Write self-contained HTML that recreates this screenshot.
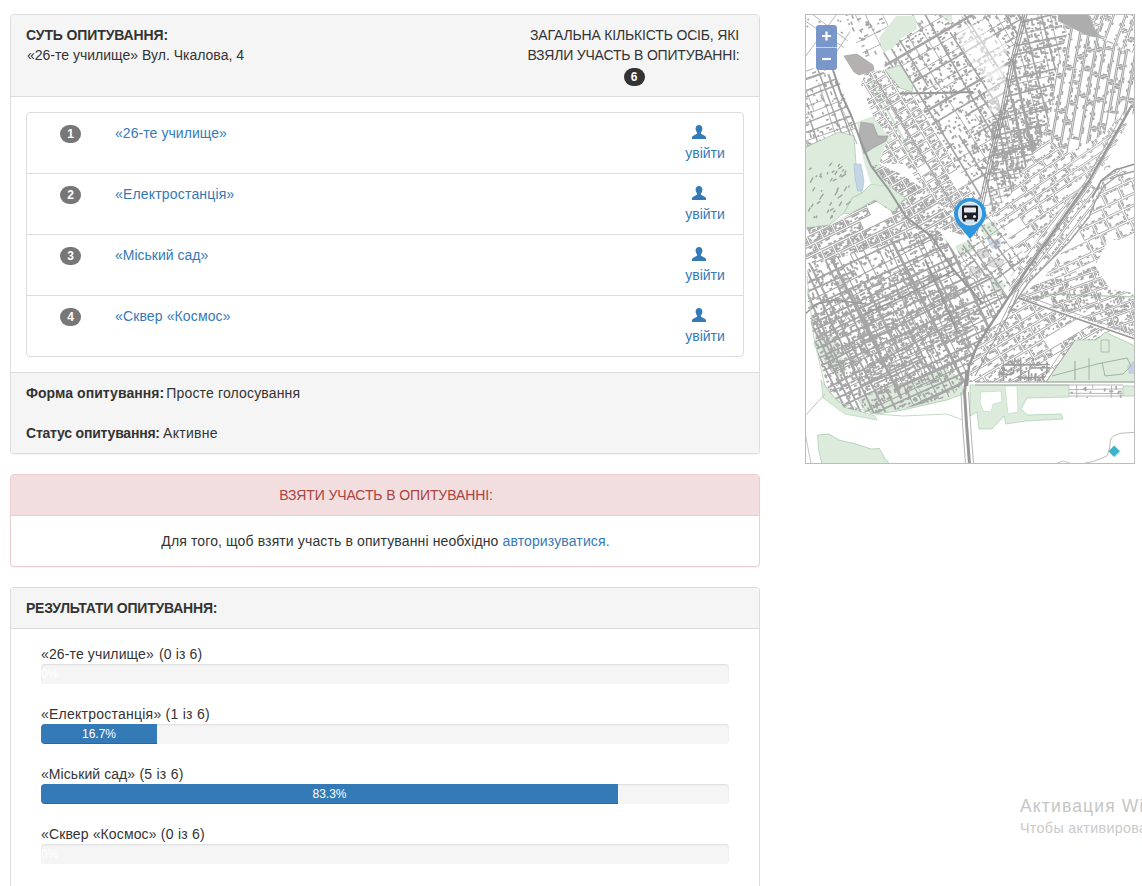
<!DOCTYPE html>
<html lang="uk">
<head>
<meta charset="utf-8">
<title>Опитування</title>
<style>
*{box-sizing:border-box}
html,body{margin:0;padding:0}
body{width:1142px;height:886px;overflow:hidden;background:#fff;color:#333;font-family:"Liberation Sans",sans-serif;font-size:14px;line-height:20px;position:relative}
a{color:#337ab7;text-decoration:none}
.panel{position:absolute;left:10px;width:750px;background:#fff;border:1px solid #ddd;border-radius:4px;box-shadow:0 1px 1px rgba(0,0,0,.05)}
.panel-heading{background:#f5f5f5;border-bottom:1px solid #ddd;border-radius:3px 3px 0 0;padding:10px 15px;color:#333;position:relative}
.panel-footer{background:#f5f5f5;border-top:1px solid #ddd;border-radius:0 0 3px 3px;padding:10px 15px}
.panel-body{padding:15px}
.up{text-transform:uppercase}
b{font-weight:bold}
.badge{display:inline-block;min-width:10px;padding:3px 7px;font-size:12px;font-weight:bold;line-height:1;color:#fff;text-align:center;white-space:nowrap;vertical-align:middle;background:#777;border-radius:10px}

/* panel 1 */
#p1{top:14px;height:440px}
#p1 .panel-heading{height:82px}
#p1 .cnt{position:absolute;left:514px;top:10px;width:220px;text-align:center}
#p1 .cnt .badge{background:#333;position:absolute;left:98.5px;top:43px;width:21px;padding:3px 0}
.list{position:absolute;left:15px;top:97px;width:718px;border:1px solid #ddd;border-radius:4px;height:245px}
.item{position:absolute;left:0;width:716px;height:61px;border-top:1px solid #ddd}
.item:first-child{border-top:0}
.item .badge{position:absolute;left:33px;top:12px;width:21px;padding:3px 0}
.item .name{position:absolute;left:88px;top:10px;white-space:nowrap}
.item .in{position:absolute;left:658px;top:30px;width:40px;text-align:center;white-space:nowrap}
.item svg{position:absolute;left:665px;top:12px}
#p1 .panel-footer{position:absolute;left:0;top:357px;width:748px;height:81px}

/* panel 2 */
#p2{top:474px;height:93px;border-color:#ebccd1}
#p2 .panel-heading{background:#f2dede;border-color:#ebccd1;color:#a94442;text-align:center;height:41px}
#p2 .panel-body{text-align:center}

/* panel 3 */
#p3{top:587px;height:320px;border-bottom:0;border-radius:4px 4px 0 0}
#p3 .panel-heading{height:41px}
.lbl{position:absolute;left:30px;white-space:nowrap}
.progress{position:absolute;left:30px;width:688px;height:20px;background:#f5f5f5;border-radius:4px;box-shadow:inset 0 1px 2px rgba(0,0,0,.1);overflow:hidden}
.bar{height:20px;background:#337ab7;color:#fff;font-size:12px;line-height:20px;text-align:center;box-shadow:inset 0 -1px 0 rgba(0,0,0,.15);white-space:nowrap}

/* map */
#map{position:absolute;left:805px;top:14px;width:330px;height:450px;border:1px solid #bcbcbc;background:#fff;overflow:hidden}
#wm{position:absolute;left:1020px;top:795px;white-space:nowrap;color:#c6c6c6;font-size:17.5px;line-height:22px;letter-spacing:1.15px}
#wm small{display:block;font-size:14.3px;line-height:20px;color:#cacaca;letter-spacing:.33px;margin-top:1px}
/*FIT*/
#t1{letter-spacing:-0.120px;margin-left:0.00px}
#t2{letter-spacing:0.000px;margin-left:1.00px}
#t3{letter-spacing:-0.167px;margin-left:-1.00px}
#t4{letter-spacing:-0.180px;margin-left:-3.00px}
#n1{letter-spacing:0.064px;margin-left:0.00px}
#n2{letter-spacing:0.180px;margin-left:0.00px}
#n3{letter-spacing:0.000px;margin-left:0.00px}
#n4{letter-spacing:0.129px;margin-left:0.00px}
#f1{letter-spacing:0.056px;margin-left:0.00px}
#f2{letter-spacing:0.159px;margin-left:-2.00px}
#f3{letter-spacing:-0.212px;margin-left:0.00px}
#f4{letter-spacing:0.300px;margin-left:-1.00px}
#d1{letter-spacing:-0.108px;margin-left:2.00px}
#d2{letter-spacing:0.127px;margin-left:1.00px}
#r1{letter-spacing:-0.214px;margin-left:0.00px}
#l1a{letter-spacing:0.129px;margin-left:0.00px}
#l1b{letter-spacing:0.129px;margin-left:1.00px}
#l2a{letter-spacing:0.240px;margin-left:0.00px}
#l2b{letter-spacing:0.257px;margin-left:0.00px}
#l3a{letter-spacing:0.075px;margin-left:0.00px}
#l3b{letter-spacing:0.257px;margin-left:0.00px}
#l4a{letter-spacing:0.129px;margin-left:0.00px}
#l4b{letter-spacing:0.257px;margin-left:0.00px}
/*ENDFIT*/
</style>
</head>
<body>

<div class="panel" id="p1">
  <div class="panel-heading">
    <b class="up" id="t1">Суть опитування:</b><br>
    <span id="t2">«26-те училище» Вул. Чкалова, 4</span>
    <div class="cnt up"><span id="t3">Загальна кількість осіб, які</span><br><span id="t4">взяли участь в опитуванні:</span><span class="badge">6</span></div>
  </div>
  <div class="list">
    <div class="item" style="top:0"><span class="badge">1</span><a class="name" id="n1">«26-те училище»</a><svg width="14" height="14" viewBox="0 0 14 14"><path fill="#337ab7" d="M7 0C4.9 0 3.6 1.6 3.6 3.6c0 1.3.5 2.900 1.400 3.800.2.200.2.800 0 1.200-.3.600-1.500 1-2.800 1.600C.9 10.800 0 11.400 0 12.600V14h14v-1.400c0-1.200-.9-1.800-2.200-2.400-1.300-.6-2.500-1-2.800-1.600-.2-.4-.2-1 0-1.200.9-.9 1.400-2.500 1.400-3.800C10.400 1.600 9.100 0 7 0z"/></svg><a class="in">увійти</a></div>
    <div class="item" style="top:60px"><span class="badge">2</span><a class="name" id="n2">«Електростанція»</a><svg width="14" height="14" viewBox="0 0 14 14"><path fill="#337ab7" d="M7 0C4.9 0 3.6 1.6 3.6 3.6c0 1.3.5 2.900 1.400 3.800.2.200.2.800 0 1.200-.3.600-1.500 1-2.800 1.600C.9 10.800 0 11.400 0 12.600V14h14v-1.400c0-1.200-.9-1.800-2.200-2.400-1.300-.6-2.500-1-2.800-1.600-.2-.4-.2-1 0-1.200.9-.9 1.400-2.500 1.400-3.800C10.400 1.600 9.100 0 7 0z"/></svg><a class="in">увійти</a></div>
    <div class="item" style="top:121px"><span class="badge">3</span><a class="name" id="n3">«Міський сад»</a><svg width="14" height="14" viewBox="0 0 14 14"><path fill="#337ab7" d="M7 0C4.9 0 3.6 1.6 3.6 3.6c0 1.3.5 2.900 1.400 3.800.2.200.2.800 0 1.200-.3.600-1.500 1-2.800 1.600C.9 10.800 0 11.400 0 12.600V14h14v-1.400c0-1.200-.9-1.800-2.200-2.400-1.300-.6-2.500-1-2.800-1.600-.2-.4-.2-1 0-1.200.9-.9 1.400-2.500 1.400-3.800C10.400 1.600 9.100 0 7 0z"/></svg><a class="in">увійти</a></div>
    <div class="item" style="top:182px"><span class="badge">4</span><a class="name" id="n4">«Сквер «Космос»</a><svg width="14" height="14" viewBox="0 0 14 14"><path fill="#337ab7" d="M7 0C4.9 0 3.6 1.6 3.6 3.6c0 1.3.5 2.900 1.400 3.800.2.200.2.800 0 1.200-.3.600-1.500 1-2.800 1.600C.9 10.800 0 11.400 0 12.600V14h14v-1.400c0-1.200-.9-1.800-2.200-2.400-1.300-.6-2.500-1-2.800-1.600-.2-.4-.2-1 0-1.200.9-.9 1.400-2.500 1.400-3.800C10.400 1.600 9.100 0 7 0z"/></svg><a class="in">увійти</a></div>
  </div>
  <div class="panel-footer"><b id="f1">Форма опитування:</b><span id="f2"> Просте голосування</span><br><br><b id="f3">Статус опитування:</b><span id="f4"> Активне</span></div>
</div>

<div class="panel" id="p2">
  <div class="panel-heading up"><span id="d1">Взяти участь в опитуванні:</span></div>
  <div class="panel-body"><span id="d2">Для того, щоб взяти участь в опитуванні необхідно <a>авторизуватися.</a></span></div>
</div>

<div class="panel" id="p3">
  <div class="panel-heading"><b class="up" id="r1">Результати опитування:</b></div>
  <div class="lbl" style="top:56px"><span id="l1a">«26-те училище»</span><span id="l1b"> (0 із 6)</span></div>
  <div class="progress" style="top:76px"><div class="bar" style="width:0;overflow:visible;text-align:left;box-shadow:none">0%</div></div>
  <div class="lbl" style="top:116px"><span id="l2a">«Електростанція»</span><span id="l2b"> (1 із 6)</span></div>
  <div class="progress" style="top:136px"><div class="bar" style="width:116px">16.7%</div></div>
  <div class="lbl" style="top:176px"><span id="l3a">«Міський сад»</span><span id="l3b"> (5 із 6)</span></div>
  <div class="progress" style="top:196px"><div class="bar" style="width:577px">83.3%</div></div>
  <div class="lbl" style="top:236px"><span id="l4a">«Сквер «Космос»</span><span id="l4b"> (0 із 6)</span></div>
  <div class="progress" style="top:256px"><div class="bar" style="width:0;overflow:visible;text-align:left;box-shadow:none">0%</div></div>
</div>

<div id="map"><svg width="330" height="450" viewBox="0 0 330 450" style="position:absolute;left:-1px;top:-1px">
<defs><clipPath id="c1"><polygon points="2.5,249.0 30.0,244.0 101.0,223.0 132.0,213.0 167.0,264.0 186.0,262.0 203.0,284.0 200.0,292.0 186.0,310.0 174.0,330.0 166.0,348.0 161.0,366.0 147.0,382.0 101.0,394.0 66.0,400.0 40.0,394.0 24.0,378.0 10.0,330.0 2.5,290.0"/></clipPath><clipPath id="c2"><polygon points="6.0,300.0 40.0,276.0 110.0,250.0 150.0,270.0 172.0,300.0 162.0,345.0 140.0,366.0 100.0,378.0 60.0,382.0 34.0,372.0 14.0,335.0"/></clipPath><clipPath id="c3"><polygon points="0.0,214.0 24.0,211.0 45.0,200.0 70.0,186.0 88.0,198.0 100.0,184.0 101.0,203.0 127.0,223.0 101.0,225.0 30.0,245.0 2.5,250.0 0.0,250.0"/></clipPath><clipPath id="c4"><polygon points="84.0,172.0 66.0,152.0 74.0,150.0 96.0,160.0 120.0,176.0 150.0,205.0 165.0,223.0 132.0,214.0 127.0,223.0 101.0,203.0 100.0,184.0"/></clipPath><clipPath id="c5"><polygon points="0.0,52.0 14.0,56.0 34.0,66.0 46.0,101.0 52.0,108.0 49.0,122.0 34.0,118.0 10.0,129.0 0.0,134.0"/></clipPath><clipPath id="c6"><polygon points="0.0,0.0 40.0,0.0 46.0,20.0 36.0,40.0 30.0,60.0 14.0,56.0 0.0,52.0"/></clipPath><clipPath id="c7"><polygon points="40.0,0.0 91.0,2.0 74.0,24.0 78.0,39.0 60.0,44.0 46.0,20.0"/></clipPath><clipPath id="c8"><polygon points="60.0,58.0 80.0,56.0 95.0,74.0 107.0,78.0 180.0,200.0 165.0,223.0 150.0,205.0 120.0,176.0 100.0,150.0 74.0,150.0 81.0,129.0 88.0,125.0 80.0,118.0 68.0,102.0 56.0,70.0"/></clipPath><clipPath id="c9"><polygon points="91.0,2.0 134.0,0.0 147.0,8.0 160.0,0.0 218.0,0.0 206.0,50.0 196.0,101.0 186.0,140.0 178.0,178.0 172.0,200.0 180.0,200.0 107.0,78.0 108.0,71.0 95.0,51.0 80.0,56.0 78.0,39.0 88.0,34.0 95.0,25.0 112.0,15.0 110.0,2.0"/></clipPath><clipPath id="c10"><polygon points="218.0,0.0 250.0,0.0 262.0,20.0 250.0,60.0 246.0,100.0 238.0,120.0 222.0,150.0 206.0,180.0 186.0,200.0 172.0,200.0 178.0,178.0 186.0,140.0 196.0,101.0 206.0,50.0"/></clipPath><clipPath id="c11"><polygon points="188.0,86.0 236.0,84.0 238.0,120.0 224.0,150.0 208.0,166.0 184.0,160.0"/></clipPath><clipPath id="c12"><polygon points="250.0,0.0 253.0,0.0 253.0,7.0 283.0,22.0 294.0,24.0 330.0,40.0 330.0,100.0 314.0,102.0 300.0,120.0 262.0,140.0 238.0,120.0 246.0,100.0 250.0,60.0 262.0,20.0"/></clipPath><clipPath id="c13"><polygon points="294.0,24.0 283.0,0.0 330.0,0.0 330.0,40.0"/></clipPath><clipPath id="c14"><polygon points="238.0,120.0 262.0,140.0 300.0,120.0 314.0,102.0 322.0,110.0 300.0,150.0 282.0,166.0 250.0,200.0 222.0,240.0 206.0,232.0 200.0,215.0 186.0,200.0 206.0,180.0 222.0,150.0"/></clipPath><clipPath id="c15"><polygon points="300.0,150.0 330.0,160.0 330.0,226.0 304.0,226.0 290.0,252.0 262.0,262.0 240.0,262.0 264.0,228.0 284.0,203.0 296.0,172.0"/></clipPath><clipPath id="c16"><polygon points="222.0,240.0 250.0,200.0 282.0,166.0 296.0,172.0 284.0,203.0 264.0,228.0 223.0,269.0 203.0,284.0 206.0,262.0"/></clipPath><clipPath id="c17"><polygon points="165.0,223.0 180.0,200.0 186.0,200.0 200.0,215.0 206.0,232.0 222.0,240.0 206.0,262.0 203.0,284.0 186.0,262.0 167.0,264.0 150.0,240.0"/></clipPath><clipPath id="c18"><polygon points="203.0,286.0 213.0,284.0 240.0,262.0 262.0,262.0 290.0,252.0 305.0,275.0 330.0,279.0 330.0,323.0 290.0,309.0 250.0,295.0 213.0,284.0"/></clipPath><clipPath id="c19"><polygon points="186.0,310.0 203.0,286.0 213.0,286.0 250.0,298.0 290.0,312.0 330.0,327.0 330.0,325.0 300.0,318.0 292.0,326.0 270.0,326.0 241.0,368.0 164.0,368.0 166.0,348.0 174.0,330.0"/></clipPath><clipPath id="c20"><polygon points="200.0,346.0 236.0,340.0 246.0,352.0 238.0,367.0 190.0,367.0"/></clipPath><clipPath id="c21"><polygon points="264.0,371.0 318.0,371.0 318.0,384.0 264.0,384.0"/></clipPath><filter id="bl" x="0" y="0" width="100%" height="100%"><feGaussianBlur stdDeviation="0.5"/></filter></defs>
<rect width="330" height="450" fill="#fff"/>
<g filter="url(#bl)">
<polygon points="0.0,134.0 10.0,129.0 34.0,118.0 49.0,122.0 51.0,150.0 51.0,167.0 57.0,179.0 47.0,184.0 39.0,199.0 24.0,211.0 0.0,214.0" fill="#dcebdc" stroke="#a9cdae" stroke-width="0.8" />
<polygon points="74.0,24.0 91.0,2.0 110.0,2.0 112.0,15.0 95.0,25.0 88.0,34.0 78.0,39.0" fill="#dcebdc" stroke="none" stroke-width="0.8" />
<polygon points="134.0,0.0 147.0,0.0 147.0,8.0 141.0,7.0" fill="#dcebdc" stroke="none" stroke-width="0.8" />
<polygon points="80.0,56.0 95.0,51.0 108.0,71.0 107.0,78.0 95.0,74.0" fill="#dcebdc" stroke="#a9cdae" stroke-width="0.8" />
<polygon points="52.0,108.0 68.0,102.0 80.0,118.0 88.0,125.0 81.0,129.0 74.0,150.0 60.0,152.0 56.0,135.0" fill="#dcebdc" stroke="none" stroke-width="0.8" />
<polygon points="57.0,179.0 66.0,170.0 84.0,172.0 100.0,184.0 88.0,198.0 70.0,186.0 52.0,196.0 45.0,200.0 39.0,199.0 47.0,184.0" fill="#dcebdc" stroke="#a9cdae" stroke-width="0.8" />
<polygon points="60.0,152.0 74.0,150.0 78.0,160.0 84.0,172.0 66.0,170.0" fill="#dcebdc" stroke="none" stroke-width="0.8" />
<polyline points="64.0,64.0 80.0,92.0 100.0,128.0 106.0,142.0" fill="none" stroke="#cfe3d0" stroke-width="2.2" stroke-linejoin="round" />
<polygon points="12.7,421.0 23.7,420.0 34.0,426.0 51.0,430.0 66.0,435.0 74.5,434.5 79.5,444.0 84.6,450.0 17.0,450.0 13.5,435.0" fill="#dcebdc" stroke="#a9cdae" stroke-width="0.8" />
<polygon points="12.0,318.0 30.0,322.0 42.0,356.0 34.0,364.0 20.0,350.0 8.0,330.0" fill="#dcebdc" stroke="none" stroke-width="0.8" />
<polygon points="52.0,384.0 95.0,370.0 108.0,366.0 124.0,390.0 98.0,396.0 72.0,400.0 60.0,396.0" fill="#dcebdc" stroke="#a9cdae" stroke-width="0.8" />
<polygon points="108.0,366.0 140.0,354.0 156.0,366.0 158.0,380.0 142.0,386.0 124.0,390.0" fill="#dcebdc" stroke="#a9cdae" stroke-width="0.8" />
<polygon points="16.0,366.0 30.0,384.0 44.0,394.0 70.0,402.0 72.0,406.0 40.0,400.0 18.0,384.0" fill="#dcebdc" stroke="#a9cdae" stroke-width="0.6" />
<polygon points="175.0,212.0 190.0,206.0 194.0,220.0 180.0,224.0" fill="#dcebdc" stroke="none" stroke-width="0.8" />
<polygon points="150.0,232.0 165.0,226.0 170.0,236.0 156.0,244.0" fill="#dcebdc" stroke="none" stroke-width="0.8" />
<polygon points="186.0,262.0 200.0,270.0 198.0,282.0 186.0,274.0" fill="#dcebdc" stroke="none" stroke-width="0.8" />
<polygon points="241.0,368.0 270.0,326.0 292.0,326.0 300.0,318.0 330.0,332.0 330.0,368.0" fill="#dcebdc" stroke="#a9cdae" stroke-width="0.8" />
<polygon points="318.0,372.0 330.0,372.0 330.0,382.0 318.0,382.0" fill="#dcebdc" stroke="#a9cdae" stroke-width="0.8" />
<polygon points="165.0,371.0 264.0,371.0 264.0,383.0 222.0,384.0 216.0,395.0 222.0,401.0 256.0,400.0 258.0,405.0 221.0,407.0 214.0,408.0 201.0,410.0 199.0,402.0 187.0,415.0 174.0,415.0 172.0,398.0 165.0,402.0" fill="#dcebdc" stroke="#a9cdae" stroke-width="0.7" />
<polygon points="176.0,378.0 196.0,377.0 197.0,388.0 188.0,390.0 186.0,398.0 178.0,397.0 175.0,388.0" fill="#fff" stroke="#b9d6bc" stroke-width="0.6" />
<polygon points="200.0,372.0 212.0,372.0 213.0,398.0 203.0,400.0" fill="#fff" stroke="#b9d6bc" stroke-width="0.6" />
<polyline points="224.0,285.0 246.0,280.0 300.0,282.0 330.0,283.0" fill="none" stroke="#b5d5b8" stroke-width="1.6" stroke-linejoin="round" />
<polyline points="283.0,0.0 288.0,14.0 296.0,24.0" fill="none" stroke="#b5d5b8" stroke-width="2" stroke-linejoin="round" />
<polygon points="49.0,150.0 56.0,150.0 59.0,167.0 57.5,177.0 52.5,177.0 50.0,163.5" fill="#c3d6e6" stroke="#a9bfd2" stroke-width="0.6" />
<polygon points="182.0,226.0 195.5,224.5 196.0,233.0 187.0,235.0" fill="#cfdcf0" stroke="none" stroke-width="0.8" />
<polygon points="322.0,352.0 330.0,346.0 330.0,360.0 324.0,360.0" fill="#c3cfe6" stroke="none" stroke-width="0.8" />
<polygon points="172.0,236.0 180.0,234.0 184.0,242.0 175.0,245.0" fill="#dedede" stroke="#b5b5b5" stroke-width="0.6" />
<polygon points="184.0,243.0 199.0,246.0 196.0,255.0 182.0,251.0" fill="#dedede" stroke="#b5b5b5" stroke-width="0.6" />
<polygon points="166.0,252.0 178.0,256.0 174.0,264.0 164.0,260.0" fill="#dedede" stroke="#b5b5b5" stroke-width="0.6" />
<polygon points="36.0,262.0 44.0,266.0 40.0,276.0 32.0,272.0" fill="#dedede" stroke="#b5b5b5" stroke-width="0.6" />
<polygon points="116.0,190.0 124.0,188.0 126.0,194.0 118.0,197.0" fill="#dedede" stroke="#b5b5b5" stroke-width="0.6" />
<path clip-path="url(#c1)" d="M2.5 288.1L47.2 265.5M47.2 265.5L84.7 246.6M84.7 246.6L114.6 231.5M114.6 231.5L160.0 208.5M-9.2 312.3L8.2 303.1M8.2 303.1L38.3 287.1M38.3 287.1L75.0 267.7M75.0 267.7L121.4 243.1M121.4 243.1L143.7 231.3M-3.4 334.4L18.4 323.9M18.4 323.9L60.1 303.7M60.1 303.7L81.1 293.5M81.1 293.5L120.8 274.4M120.8 274.4L159.3 255.7M159.3 255.7L191.5 240.2M14.7 364.8L37.6 354.2M37.6 354.2L83.7 332.8M83.7 332.8L103.8 323.5M103.8 323.5L144.9 304.5M144.9 304.5L183.6 286.5M183.6 286.5L202.2 277.9M21.5 379.7L64.0 359.9M64.0 359.9L108.3 339.1M108.3 339.1L137.8 325.3M137.8 325.3L170.6 310.0M170.6 310.0L213.2 290.1M53.7 401.0L71.4 392.6M71.4 392.6L112.2 373.3M112.2 373.3L157.7 351.7M157.7 351.7L175.6 343.2M168.4 228.7L186.0 267.6M186.0 267.6L205.1 309.8M154.2 230.4L176.2 272.8M176.2 272.8L192.5 304.0M166.7 260.2L181.9 291.7M181.9 291.7L189.1 306.6M116.3 205.6L131.8 237.0M131.8 237.0L143.2 260.1M143.2 260.1L151.3 276.5M151.3 276.5L164.7 303.7M164.7 303.7L177.4 329.4M99.6 191.5L116.6 227.5M116.6 227.5L135.9 268.1M135.9 268.1L153.6 305.5M153.6 305.5L167.8 335.5M167.8 335.5L174.6 350.0M96.6 195.9L110.4 224.7M110.4 224.7L130.9 267.4M130.9 267.4L140.7 287.7M140.7 287.7L160.4 328.8M160.4 328.8L170.0 348.8M81.4 203.1L101.4 242.1M101.4 242.1L110.7 260.2M110.7 260.2L131.8 301.1M131.8 301.1L140.3 317.6M140.3 317.6L152.1 340.5M152.1 340.5L162.3 360.3M162.3 360.3L173.1 381.3M71.1 203.4L89.7 245.1M89.7 245.1L98.6 265.0M98.6 265.0L113.5 298.5M113.5 298.5L128.6 332.3M128.6 332.3L141.9 362.0M141.9 362.0L159.4 401.3M60.7 208.7L78.5 246.0M78.5 246.0L92.2 274.6M92.2 274.6L107.1 305.7M107.1 305.7L114.5 321.2M114.5 321.2L131.3 356.3M131.3 356.3L150.2 395.9M49.7 219.0L64.9 248.7M64.9 248.7L75.6 269.8M87.3 292.9L99.1 316.1M99.1 316.1L114.0 345.4M114.0 345.4L129.8 376.4M129.8 376.4L148.9 414.1M39.3 219.2L58.1 254.9M58.1 254.9L67.7 273.2M86.2 308.4L97.3 329.4M97.3 329.4L106.8 347.6M106.8 347.6L118.7 370.2M127.3 386.5L149.6 428.9M38.2 225.2L49.9 249.3M65.4 281.4L77.9 307.4M77.9 307.4L85.7 323.5M85.7 323.5L102.3 357.9M102.3 357.9L117.5 389.3M117.5 389.3L130.9 417.0M31.6 240.7L45.7 268.3M45.7 268.3L59.6 295.3M59.6 295.3L76.8 328.8M76.8 328.8L87.1 348.9M87.1 348.9L95.4 365.2M95.4 365.2L108.0 389.8M108.0 389.8L115.6 404.5" stroke="#a6a6a6" stroke-width="1.1" fill="none"/>
<path clip-path="url(#c1)" d="M-16.7 278.0L22.0 259.9M22.0 259.9L66.7 239.0M66.7 239.0L108.8 219.4M-29.7 292.1L5.8 276.2M5.8 276.2L49.9 256.6M91.0 238.3L127.2 222.2M127.2 222.2L151.2 211.5M-5.5 298.1L16.4 288.0M16.4 288.0L41.7 276.4M41.7 276.4L71.6 262.7M71.6 262.7L104.2 247.7M104.2 247.7L148.0 227.6M-5.6 315.5L36.5 295.7M36.5 295.7L55.6 286.7M55.6 286.7L95.4 268.0M95.4 268.0L126.5 253.4M126.5 253.4L172.4 231.7M-0.8 320.7L38.8 301.9M38.8 301.9L84.3 280.3M84.3 280.3L132.4 257.5M132.4 257.5L174.4 237.5M-1.4 341.1L27.2 327.5M27.2 327.5L72.8 305.8M72.8 305.8L116.7 284.9M116.7 284.9L150.0 269.1M150.0 269.1L172.8 258.2M-13.4 357.3L16.2 343.0M16.2 343.0L62.4 320.8M62.4 320.8L93.9 305.5M93.9 305.5L124.2 290.9M124.2 290.9L169.6 269.0M169.6 269.0L196.1 256.3M-1.5 360.7L34.4 342.3M34.4 342.3L73.8 322.0M73.8 322.0L106.1 305.3M106.1 305.3L128.4 293.8M128.4 293.8L158.4 278.4M158.4 278.4L187.7 263.4M-2.7 366.2L40.2 346.6M40.2 346.6L66.9 334.4M66.9 334.4L113.5 313.1M113.5 313.1L162.6 290.6M162.6 290.6L183.3 281.1M183.3 281.1L223.5 262.7M-17.4 394.4L30.3 369.8M30.3 369.8L49.3 360.0M49.3 360.0L95.8 336.1M95.8 336.1L136.2 315.2M136.2 315.2L167.2 299.3M167.2 299.3L197.0 283.9M197.0 283.9L213.4 275.5M-13.8 405.1L31.4 384.3M31.4 384.3L72.8 365.2M72.8 365.2L102.4 351.6M102.4 351.6L121.1 343.0M152.7 328.4L180.7 315.5M180.7 315.5L217.5 298.6M19.8 400.1L57.0 382.5M57.0 382.5L98.0 363.1M98.0 363.1L115.0 355.0M115.0 355.0L155.3 335.9M155.3 335.9L184.6 322.0M44.6 410.1L76.5 395.8M76.5 395.8L119.7 376.5M119.7 376.5L139.9 367.4M139.9 367.4L171.3 353.4M12.0 227.9L21.6 248.3M21.6 248.3L38.1 283.4M38.1 283.4L50.2 309.1M50.2 309.1L60.0 330.1M60.0 330.1L71.5 354.6M78.9 370.2L94.3 403.0M2.2 245.1L12.9 266.0M12.9 266.0L21.5 282.8M21.5 282.8L34.5 308.2M34.5 308.2L47.4 333.4M47.4 333.4L62.0 361.8M62.0 361.8L71.6 380.5M71.6 380.5L85.8 408.3M-4.4 243.4L7.9 269.6M7.9 269.6L21.5 298.4M21.5 298.4L34.7 326.5M45.0 348.3L56.5 372.8M56.5 372.8L71.0 403.7M-4.3 264.8L13.1 303.6M13.1 303.6L24.7 329.4M24.7 329.4L31.8 345.1M31.8 345.1L45.0 374.5M45.0 374.5L56.3 399.6M5.4 307.5L24.8 347.4M24.8 347.4L41.9 382.3M41.9 382.3L58.6 416.4M4.1 322.1L21.3 356.6M21.3 356.6L34.9 383.8M34.9 383.8L48.9 411.9" stroke="#a6a6a6" stroke-width="1.9" fill="none"/>
<path clip-path="url(#c1)" d="M29.3 402.0L48.2 393.5M89.6 375.0L136.5 353.9M136.5 353.9L168.5 339.6M168.5 339.6L201.2 325.0M74.5 407.7L120.0 386.6M120.0 386.6L156.7 369.5M156.7 369.5L181.9 357.9M130.7 201.8L146.9 236.2M146.9 236.2L164.1 272.4M164.1 272.4L184.5 315.6M72.5 198.7L89.1 231.2M89.1 231.2L110.7 273.5M110.7 273.5L125.7 302.8M125.7 302.8L133.6 318.3M133.6 318.3L145.0 340.6M145.0 340.6L164.0 377.8M13.1 217.6L30.6 252.6M30.6 252.6L38.1 267.5M38.1 267.5L50.7 292.8M50.7 292.8L70.5 332.4M70.5 332.4L88.7 368.8M88.7 368.8L96.6 384.7" stroke="#a6a6a6" stroke-width="2.8" fill="none"/>
<path clip-path="url(#c1)" d="M72.7 293.6l0.7 1.4M83.4 273.1l1.4 2.8M43.5 377.6l1.1 2.2M88.7 393.0l1.9 -0.9M144.1 246.3l1.0 2.1M192.5 273.3l1.8 -0.9M129.8 283.7l3.1 -1.5M126.1 379.0l1.8 3.7M103.7 319.2l0.8 1.7M140.8 297.8l3.1 -1.5M79.6 256.0l1.4 3.0M128.3 296.6l1.4 2.9M150.5 271.5l1.6 3.3M83.1 375.2l0.8 1.7M101.0 256.8l1.8 3.6M162.4 308.7l4.0 -2.0M52.8 363.9l1.3 2.6M58.6 333.4l0.8 1.5M160.3 304.8l1.0 2.0M112.6 382.4l3.5 -1.7M75.9 231.8l1.4 -0.7M26.0 247.0l1.2 2.4M126.2 381.6l0.8 1.5M44.0 330.7l1.8 3.7M42.0 338.0l2.5 -1.2M70.6 272.0l3.0 -1.5M123.4 342.9l1.8 -0.9M141.6 300.2l1.7 -0.8M74.2 249.7l2.0 4.0M150.1 280.4l2.2 -1.1M31.8 331.0l1.2 2.5M84.5 298.4l1.3 2.7M71.9 344.6l1.0 2.0M59.6 376.2l1.0 2.1M138.2 298.1l3.9 -1.9M151.5 325.4l2.6 -1.2M86.5 265.6l1.2 2.5M61.2 342.9l3.2 -1.5M85.0 237.7l3.8 -1.8M86.8 276.9l1.7 3.6M120.9 315.1l0.8 1.6M20.2 281.0l1.2 2.4M136.7 277.3l1.8 3.8M96.6 280.6l2.6 -1.3M137.0 326.2l1.9 4.0M201.5 286.9l1.7 3.6M15.8 299.4l1.2 2.4M44.5 282.2l1.7 -0.8M36.0 334.4l1.5 3.0M53.3 364.7l1.6 3.3M26.5 300.6l0.7 1.4M7.3 278.7l1.4 2.8M24.8 360.6l1.1 2.2M27.5 319.2l1.7 -0.8M105.2 268.0l3.4 -1.7M46.1 297.5l2.9 -1.4M84.0 327.5l1.8 3.7M33.3 366.0l1.6 3.3M33.9 312.3l1.4 -0.7M62.8 393.7l1.5 3.1M11.7 290.8l1.6 -0.8M68.4 304.4l1.5 3.1M102.9 382.0l2.4 -1.2M150.7 261.3l2.3 -1.1M98.1 280.0l2.5 -1.2M14.9 311.7l2.8 -1.4M77.1 271.8l2.7 -1.3M152.8 304.1l1.4 -0.7M75.8 324.8l2.3 -1.1M124.6 323.2l2.2 -1.1M106.0 354.0l1.5 -0.7M53.0 263.5l3.5 -1.7M174.9 288.2l1.0 2.1M169.2 274.4l1.1 2.2M160.6 333.1l0.7 1.5M12.1 329.8l1.4 2.8M130.6 217.2l1.9 3.9M150.3 291.2l1.6 3.2M159.2 295.4l3.4 -1.6M92.3 294.7l1.7 -0.8M25.7 369.0l1.5 3.1M64.7 391.4l1.4 2.9M44.8 290.6l1.4 2.8M27.2 376.4l2.6 -1.3M89.1 283.6l1.5 3.2M101.5 341.9l1.2 2.4M23.6 351.8l0.9 1.8M43.0 277.8l1.8 -0.9M121.1 310.2l1.2 2.4M171.4 280.0l2.9 -1.4M142.3 256.7l1.0 2.1M117.8 261.1l0.7 1.5M78.2 347.0l1.2 2.5M184.9 298.2l2.7 -1.3M64.0 371.5l0.7 1.4M116.4 316.1l2.2 -1.1M159.7 253.9l0.9 1.9M124.8 235.6l1.7 3.4M140.7 281.1l1.9 3.9M60.8 373.4l3.3 -1.6M110.2 260.4l2.1 -1.0M28.9 303.7l2.1 -1.0M58.2 308.2l3.7 -1.8M124.7 314.7l1.6 3.3M134.8 384.9l3.4 -1.7M75.2 360.2l2.0 -1.0M76.8 349.4l1.9 3.9M116.0 278.2l1.0 2.0M134.3 226.4l3.8 -1.8M115.9 235.4l4.0 -2.0M136.1 225.7l0.7 1.4M107.0 227.4l2.8 -1.4M108.1 279.2l2.7 -1.3M143.9 291.0l2.7 -1.3M100.1 317.3l1.9 4.0M29.5 269.1l1.1 2.3M6.5 304.6l1.4 2.9M125.4 327.7l3.9 -1.9M106.6 392.4l1.4 -0.7M106.7 321.5l1.7 3.4M169.6 289.2l2.3 -1.1M55.1 322.5l2.8 -1.3M137.8 298.1l1.0 2.0M53.3 302.6l3.5 -1.7M50.3 335.4l1.0 2.0M53.6 377.0l1.8 -0.9M62.9 274.6l1.6 3.3M161.0 314.0l0.8 1.6M51.5 253.7l1.2 2.5M76.8 279.7l1.9 3.8M80.1 238.3l1.7 3.5M70.3 360.8l2.4 -1.2M121.5 351.7l1.3 2.6M43.7 377.2l1.9 3.9M71.1 387.0l0.8 1.7M29.7 339.8l1.8 3.7M192.8 297.9l2.4 -1.1M57.2 388.6l1.5 -0.8M64.0 247.2l0.8 1.7M110.8 319.2l1.7 3.4M64.5 355.2l1.9 3.8M34.6 274.8l2.9 -1.4M94.7 325.8l3.6 -1.8M40.8 389.5l4.0 -1.9M155.4 287.9l1.5 -0.7M37.2 350.7l1.9 -0.9M46.6 362.4l1.3 2.7M95.8 247.1l1.4 -0.7M10.8 261.7l3.0 -1.5M97.3 329.7l2.2 -1.1M86.1 314.0l2.6 -1.3M60.4 245.0l3.3 -1.6M119.5 242.5l3.9 -1.9M21.9 341.5l1.1 2.3M102.2 385.5l2.7 -1.3M56.4 320.4l3.1 -1.5M20.5 306.0l1.3 2.6M91.3 228.8l3.5 -1.7M53.6 381.8l2.7 -1.3M113.8 389.9l2.7 -1.3M60.8 370.3l2.7 -1.3M41.9 253.2l1.8 3.6M139.9 362.1l1.6 3.3M165.9 269.7l1.0 2.0M7.1 308.7l1.1 2.3M124.9 383.4l1.9 3.9M15.4 337.8l0.8 1.6M177.2 271.1l0.9 1.8M127.4 236.4l3.3 -1.6M116.6 389.4l3.1 -1.5M79.6 279.1l1.4 -0.7M133.6 358.0l1.6 3.2M65.9 264.0l0.9 1.9M68.8 386.4l3.8 -1.9M69.3 265.2l2.8 -1.3M109.9 301.5l3.4 -1.6M42.4 321.6l2.0 -1.0M73.7 311.5l1.9 3.9M85.6 289.1l2.0 -1.0M89.3 341.2l1.7 3.4M108.3 248.4l3.4 -1.7M32.6 316.1l1.0 2.1M148.2 272.7l1.7 3.4M144.0 298.4l2.5 -1.2M97.7 391.5l3.7 -1.8M16.7 263.4l3.2 -1.6M28.1 292.6l1.4 2.9M83.3 334.5l1.6 3.2M17.1 286.1l2.6 -1.3M100.1 322.9l1.1 2.2M26.5 269.9l0.9 1.9M104.5 289.8l1.2 2.4M54.1 361.0l3.3 -1.6M75.8 294.7l2.6 -1.3M127.6 289.9l1.1 2.2M93.8 301.6l3.7 -1.8M77.9 380.9l1.9 4.0M83.0 338.5l3.3 -1.6M134.0 338.1l1.2 2.5M47.8 357.1l1.4 2.8M71.0 346.1l1.4 -0.7M156.2 261.5l3.0 -1.5M41.9 383.7l0.7 1.5M80.9 323.4l1.6 3.3M152.2 321.3l1.0 2.0M115.0 314.8l4.0 -2.0M159.0 273.7l1.6 3.3M57.5 319.1l2.8 -1.4M36.0 330.0l1.8 3.8M60.5 363.7l2.5 -1.2M124.0 299.1l1.4 2.8M73.2 354.9l1.6 -0.8M141.2 342.1l3.6 -1.7M57.4 280.0l2.8 -1.4M77.6 335.9l1.7 -0.9M52.6 246.3l1.7 -0.8M161.7 351.2l2.1 -1.0M44.9 344.5l3.2 -1.6M97.5 271.7l1.2 2.5M116.8 326.9l4.0 -2.0M47.2 328.9l0.9 1.8M70.9 295.3l1.2 2.5M36.9 279.4l3.3 -1.6M47.9 281.1l1.0 2.0M111.4 322.1l1.6 -0.8M73.3 397.1l1.4 3.0M37.9 264.0l1.5 3.1M67.1 300.4l1.0 2.1M73.9 280.3l2.0 -1.0M64.7 323.7l2.1 -1.0M172.1 300.7l2.7 -1.3M127.3 336.3l1.6 3.2M85.3 285.9l2.7 -1.3M108.5 312.7l1.7 3.5M162.2 329.0l2.1 -1.0M139.6 342.3l3.4 -1.6M82.2 316.4l1.8 3.7M17.4 259.2l1.9 4.0M105.7 270.9l1.8 3.7M32.2 285.8l3.1 -1.5M115.3 388.7l1.2 2.5M121.2 321.9l1.8 -0.9M46.0 296.6l2.8 -1.4M118.3 331.1l1.4 -0.7M134.2 253.1l0.8 1.5M69.4 392.1l2.9 -1.4M130.2 262.0l1.7 3.5M30.7 250.7l1.4 -0.7M97.5 392.2l2.2 -1.1M129.8 328.0l3.9 -1.9M115.4 284.6l3.6 -1.7M145.9 247.6l1.3 2.7M50.6 265.2l1.9 3.8M15.7 247.9l2.0 -1.0M128.4 284.6l3.3 -1.6M14.3 305.0l1.2 2.4M199.6 282.4l2.2 -1.1M121.3 384.1l0.9 1.8M102.7 356.2l2.9 -1.4M40.5 348.5l0.8 1.6M9.2 248.4l1.3 2.6M126.7 352.5l1.7 3.4M178.3 284.2l1.6 -0.8M172.2 325.5l3.8 -1.9M25.1 266.6l1.9 -0.9M42.7 332.7l1.8 -0.9M109.9 283.2l0.9 1.8M104.3 285.6l2.6 -1.3M125.8 249.2l2.3 -1.1M81.1 314.3l3.9 -1.9M79.4 345.4l1.1 2.4M59.5 267.8l1.6 3.4M39.7 286.6l1.8 3.6M151.0 374.9l1.1 2.3M118.2 379.4l2.0 4.0M31.3 288.5l2.9 -1.4M128.6 265.3l1.1 2.2M40.9 296.7l1.8 3.7M55.1 281.4l3.2 -1.6M114.1 276.5l1.4 -0.7M2.9 274.4l1.0 2.1M130.4 225.2l3.3 -1.6M99.0 348.1l1.8 3.7M86.9 272.4l2.4 -1.2M151.2 299.6l3.2 -1.6M43.2 328.3l1.8 -0.9M85.5 247.3l1.6 3.3M9.7 298.9l1.7 3.6M112.3 373.1l2.4 -1.1M131.1 217.8l2.0 -1.0M109.1 237.0l1.5 3.0M71.6 235.5l1.5 3.2M179.7 316.6l1.4 2.9M60.0 357.8l3.1 -1.5M55.3 325.5l1.3 2.7M124.2 340.5l2.0 4.0M60.7 298.2l1.3 2.7M81.6 385.2l2.7 -1.3M98.7 279.8l4.0 -2.0M138.4 241.2l1.8 -0.9M123.2 355.8l2.5 -1.2M76.3 379.1l1.9 -0.9M180.1 303.3l1.7 -0.8M15.4 339.2l1.9 -0.9M123.8 222.5l3.9 -1.9M31.4 358.9l1.6 -0.8M133.2 300.9l1.8 3.8M123.5 301.0l1.1 2.2M44.3 333.3l0.8 1.5M66.7 348.4l1.8 3.8M10.7 307.3l0.8 1.7M52.4 316.2l2.2 -1.1M151.6 355.0l2.3 -1.1M142.1 349.1l2.6 -1.3M168.2 305.8l3.1 -1.5M76.5 245.9l1.9 4.0M28.3 344.4l1.4 3.0M156.9 326.8l1.8 3.7M84.0 334.2l2.4 -1.1M75.9 334.0l2.3 -1.1M138.1 370.8l1.2 2.4M52.9 272.0l0.8 1.6M187.2 269.6l2.4 -1.2M31.0 332.3l3.8 -1.8M53.5 355.0l1.0 2.0M73.2 301.5l1.9 -0.9M87.6 265.0l3.3 -1.6M130.6 363.1l2.2 -1.1M161.3 325.8l1.4 -0.7M122.5 272.7l1.4 -0.7M73.4 394.8l1.1 2.3M176.5 320.4l0.8 1.7M20.6 317.2l1.6 -0.8M84.8 242.2l2.0 4.0M154.5 333.8l1.3 2.6M136.7 242.5l2.8 -1.4M105.9 346.4l1.6 3.2M90.5 300.0l2.9 -1.4M158.6 275.0l1.8 3.6M16.4 263.0l1.7 3.4M136.2 290.2l2.8 -1.3M95.2 261.1l3.2 -1.5M30.1 249.9l1.4 2.8M170.0 284.0l0.9 1.8M154.1 366.0l3.9 -1.9M48.9 381.3l3.8 -1.9M28.1 278.9l1.0 2.0M146.9 358.1l2.5 -1.2M96.3 282.2l1.3 2.6M145.1 274.0l2.9 -1.4M11.6 285.4l2.3 -1.1M18.4 292.6l1.9 3.9M8.6 272.2l2.3 -1.1M30.0 323.4l3.6 -1.8M48.8 348.4l3.5 -1.7M40.4 272.0l1.7 3.4M63.2 297.5l2.3 -1.1M161.6 261.9l1.7 3.5M63.2 295.7l1.8 3.6M43.4 380.9l1.8 3.7M12.7 266.4l2.1 -1.0M51.7 349.7l2.3 -1.1M85.2 315.2l1.2 2.4M137.7 275.8l2.7 -1.3M62.0 268.7l1.7 -0.8M178.7 280.4l1.2 2.5M160.0 317.1l2.7 -1.3M153.1 307.1l1.7 3.5M137.6 299.3l1.4 2.8M107.8 366.2l3.7 -1.8M153.3 328.2l1.4 3.0M12.4 301.8l1.2 2.4M35.5 318.3l0.8 1.7M100.6 350.5l1.1 2.2M3.9 255.0l1.6 3.3M158.3 264.4l0.8 1.6M9.2 302.7l2.3 -1.1M27.4 296.3l1.0 2.1M24.5 275.4l2.5 -1.2M89.8 324.5l1.9 3.9M48.3 258.7l1.3 2.6M124.1 278.4l4.0 -2.0M44.5 349.7l3.6 -1.8M50.0 258.3l1.7 3.5M146.2 301.4l1.6 3.4M104.6 263.7l1.3 2.8M67.5 332.5l0.9 1.7M44.9 255.3l1.9 3.9M116.1 226.9l1.6 3.3M100.3 380.1l4.0 -2.0M137.9 337.4l3.2 -1.6M130.7 225.7l1.8 3.8M163.4 299.4l1.9 -0.9M139.0 315.5l1.6 -0.8M82.3 258.8l2.0 -1.0M85.9 343.0l1.9 3.8M124.6 349.8l3.0 -1.5M135.6 223.1l1.6 3.2M136.4 326.4l1.7 3.5M125.7 332.4l1.8 3.7M169.0 329.8l2.0 4.0M182.4 287.2l1.4 -0.7M72.9 398.6l2.4 -1.2M141.0 231.2l2.2 -1.1M27.4 324.8l1.2 2.5M70.6 395.8l0.9 1.9M63.0 380.5l2.1 -1.0M107.6 262.7l2.8 -1.4M72.6 266.2l1.7 3.5M143.0 324.2l1.8 3.7M152.5 370.1l2.0 4.0M34.1 319.1l1.5 3.0M104.8 263.3l4.0 -1.9M16.5 338.1l2.0 -1.0M63.2 326.5l1.1 2.2M53.3 367.1l0.8 1.6M146.3 311.6l0.7 1.4M166.6 305.8l2.6 -1.2M108.0 386.0l3.2 -1.5M147.1 344.2l1.1 2.2M118.5 290.3l2.8 -1.3M60.1 379.2l1.1 2.3M76.0 248.6l0.7 1.4M120.6 224.7l1.8 -0.9M125.3 329.3l3.9 -1.9M49.3 254.4l1.7 -0.9M101.5 291.5l1.1 2.3M65.4 367.7l2.8 -1.4M143.3 256.5l1.6 3.2M148.3 258.7l0.9 1.8M111.0 222.6l1.1 2.3M15.9 268.2l0.7 1.5M73.9 251.1l1.2 2.5M134.4 231.0l2.8 -1.4M91.0 364.1l1.0 2.1M51.4 286.5l3.5 -1.7M113.6 313.3l1.6 3.3M141.7 254.8l1.9 -0.9M58.9 316.5l0.8 1.6M80.6 397.1l0.9 1.8M124.0 302.1l0.8 1.7M121.6 333.3l1.7 3.5M30.0 269.9l1.7 -0.8M139.2 364.2l1.3 2.7M155.8 301.5l4.0 -2.0M88.9 375.0l1.9 4.0M57.0 328.3l0.7 1.5M31.7 319.4l1.5 -0.7M18.6 291.1l1.7 3.6M173.6 298.5l2.5 -1.2M160.7 319.6l2.4 -1.2M87.7 238.7l1.7 3.6M176.3 316.5l1.8 -0.9M170.8 322.4l1.5 3.1M12.1 250.4l1.2 2.5M114.5 289.5l3.9 -1.9M51.9 327.9l1.9 3.8M58.6 326.4l1.0 2.1M54.3 375.6l1.5 3.2M71.8 391.4l2.9 -1.4M132.2 271.1l1.7 -0.8M124.9 258.2l0.8 1.6M31.0 354.2l2.1 -1.0M123.5 387.9l1.5 3.0M67.4 283.9l2.9 -1.4M131.2 374.6l3.3 -1.6M8.1 281.6l1.2 2.5M112.2 309.9l1.5 3.0M138.5 317.3l2.8 -1.4M27.3 295.2l1.8 3.7M61.3 320.5l2.7 -1.3M38.2 360.6l1.6 -0.8M58.4 251.0l1.9 -0.9M107.5 245.2l1.5 3.1M127.7 302.8l3.0 -1.5M95.5 341.8l0.9 1.9M126.1 315.6l3.4 -1.7M77.2 293.9l1.6 3.3M39.6 391.4l4.0 -1.9M146.6 328.2l3.5 -1.7M151.3 325.9l1.5 3.1M136.3 317.7l0.8 1.6M143.6 293.0l4.0 -1.9M35.9 308.6l2.3 -1.1M145.3 244.8l1.3 2.7M184.7 296.8l3.1 -1.5M35.3 279.5l1.2 2.5M25.4 313.8l1.3 2.6M161.4 325.1l1.1 2.2M122.6 263.7l1.4 2.8M11.8 334.2l2.7 -1.3M34.5 256.3l2.5 -1.2M123.1 263.6l3.0 -1.5M50.1 395.7l2.8 -1.4M53.5 346.3l1.2 2.5M53.8 373.9l1.0 2.1M90.4 288.0l1.4 2.9M112.4 317.8l1.9 3.9M166.6 264.5l1.4 -0.7M101.8 370.8l1.4 -0.7M65.7 304.8l1.9 4.0M173.9 323.5l1.9 3.8M50.6 282.6l2.6 -1.3M187.8 303.3l1.9 -0.9M163.9 264.1l2.9 -1.4M50.9 248.0l1.3 2.7M48.1 341.8l1.4 2.9M104.7 246.2l0.8 1.6M19.4 314.4l1.9 -0.9M156.3 296.5l0.9 1.7M91.7 313.6l1.6 3.2M160.0 259.4l3.5 -1.7M28.2 307.9l0.9 1.8M59.4 389.4l1.2 2.5M191.9 297.6l3.4 -1.7M82.6 236.2l1.5 3.1M140.4 272.3l2.8 -1.3M81.0 357.5l1.4 -0.7M105.1 240.5l3.3 -1.6M83.4 259.3l3.0 -1.4M139.6 292.5l1.7 3.5M23.6 305.0l2.0 -1.0M150.6 242.2l3.0 -1.5M195.9 281.8l0.7 1.4M135.4 221.5l3.4 -1.7M49.2 358.6l3.4 -1.7M104.4 362.7l1.5 3.0M40.2 311.1l3.0 -1.4M130.0 318.5l3.1 -1.5M171.3 312.4l1.8 3.7M140.8 316.3l2.0 -1.0M135.0 259.4l1.5 3.0M124.2 293.3l2.0 -1.0M142.2 378.6l2.2 -1.1M92.3 293.3l1.5 3.1M156.4 364.3l1.6 3.3M92.5 296.5l3.1 -1.5M168.8 291.1l1.4 2.8M58.3 302.0l3.9 -1.9M161.1 265.3l0.7 1.4M16.2 268.8l1.9 3.9M38.2 307.3l1.6 -0.8M101.9 365.8l1.0 2.1M30.8 261.0l0.7 1.5M120.0 346.3l1.2 2.5M147.4 319.3l3.7 -1.8M61.1 316.1l1.4 3.0M191.8 300.4l0.9 1.9M128.5 372.8l2.8 -1.4M96.8 300.2l1.1 2.3M32.4 260.3l1.7 -0.8M107.8 350.9l1.2 2.4M124.5 336.1l1.0 2.1M72.3 371.0l1.0 2.0M139.4 246.4l3.3 -1.6M79.8 283.8l2.3 -1.1M34.7 287.8l0.8 1.6M73.4 346.2l1.2 2.5M189.0 290.3l2.9 -1.4M75.6 274.3l3.0 -1.5M87.3 303.7l1.8 3.6M32.1 337.6l1.0 2.0M85.4 391.7l2.6 -1.2M64.7 392.1l2.3 -1.1M109.8 338.3l3.9 -1.9M68.5 348.2l1.3 2.7M137.7 230.3l1.5 -0.7M63.5 247.1l2.1 -1.0M7.7 311.1l3.4 -1.7M21.4 349.2l1.6 -0.8M100.9 268.6l1.7 3.5M107.4 283.0l0.7 1.4M80.6 367.6l1.6 -0.8M110.7 241.9l0.8 1.5M111.6 350.0l3.0 -1.4M37.0 333.1l1.2 2.5M10.9 268.0l0.8 1.7M98.6 266.5l1.7 3.5M60.7 286.4l1.4 -0.7M178.6 314.8l1.9 3.9M139.2 232.6l1.2 2.5M84.5 335.1l1.1 2.3M44.2 304.6l1.2 2.5M13.5 258.3l3.3 -1.6M124.7 350.3l1.7 3.4M80.2 287.0l3.4 -1.7M96.5 263.8l1.4 2.8M175.2 307.8l3.2 -1.6M125.9 304.7l2.7 -1.3M38.4 249.9l1.7 3.5M10.2 328.0l1.7 3.6M38.6 391.0l0.9 1.8M94.7 244.0l2.1 -1.0M131.9 337.6l1.0 2.0M87.4 298.3l1.9 3.8M95.9 352.7l3.3 -1.6M16.5 349.9l1.6 3.4M26.0 352.2l0.9 1.8M127.2 332.0l1.6 -0.8M10.2 290.3l1.8 3.6M143.1 251.7l3.4 -1.6M37.1 272.9l3.9 -1.9M34.7 350.3l3.4 -1.7M116.0 228.9l1.6 3.3M95.1 296.4l1.5 3.1M120.3 389.0l1.0 2.1M178.6 277.7l0.7 1.4M114.4 348.4l3.4 -1.7M136.2 295.0l1.9 -0.9M75.2 350.4l2.8 -1.4M153.6 369.4l3.5 -1.7M58.9 299.5l1.0 2.1M123.7 314.4l0.8 1.5M107.3 269.9l1.9 -1.0M99.4 281.6l1.4 2.9M57.9 326.5l1.0 2.0M43.4 324.1l1.6 3.3M108.9 383.5l2.0 4.0M74.4 262.8l3.0 -1.5M133.0 285.4l1.9 3.8M109.1 276.7l2.2 -1.1M24.7 376.0l2.2 -1.0M199.0 284.1l3.4 -1.7M97.4 334.0l0.7 1.4M70.3 339.8l1.6 -0.8M19.8 360.5l1.9 3.9M108.9 230.1l1.7 3.4M159.4 331.6l2.9 -1.4M89.2 267.0l3.9 -1.9M46.5 324.3l2.9 -1.4M72.7 239.3l3.2 -1.6M123.0 366.1l1.6 -0.8M73.3 387.3l3.0 -1.5M105.6 226.1l0.8 1.7M110.4 252.8l2.9 -1.4M171.2 296.9l1.8 -0.9M128.4 230.8l3.8 -1.9M94.0 392.8l1.9 -0.9M112.1 332.7l1.7 -0.8M123.6 257.8l0.7 1.4M64.6 325.2l1.5 3.0M113.4 256.7l2.0 -1.0M14.0 321.7l0.8 1.6M3.6 284.7l2.3 -1.1M16.0 258.5l1.4 -0.7M99.1 256.3l1.9 3.8M102.7 362.9l1.1 2.3M158.5 278.8l3.3 -1.6M37.2 291.4l0.8 1.7M53.0 306.1l1.7 3.5M141.4 351.5l1.6 3.2M121.7 336.6l1.4 2.8M191.2 269.1l0.9 1.9M65.0 346.5l3.1 -1.5M44.4 328.8l1.2 2.4M96.6 233.8l1.6 3.2M20.9 328.2l1.5 3.0M103.8 307.7l2.0 4.0M89.7 365.1l1.5 3.1M45.0 256.4l1.7 3.6M47.9 303.8l1.8 3.7M120.2 380.1l3.8 -1.9M125.7 353.8l2.1 -1.0M128.1 351.3l1.9 3.9M37.2 261.4l2.9 -1.4M139.9 365.4l0.8 1.7M199.0 280.5l1.4 2.8M157.8 350.7l2.3 -1.1M19.0 332.7l3.9 -1.9M40.3 299.0l1.7 3.5M134.8 222.7l0.9 1.9M20.7 271.8l2.5 -1.2M129.6 384.9l0.8 1.7M75.7 371.4l1.4 3.0M30.0 294.8l0.8 1.6M47.4 343.6l2.3 -1.1M56.3 310.3l0.7 1.5M146.1 235.0l3.0 -1.5M108.8 230.5l2.1 -1.0M111.7 335.3l3.8 -1.9M72.7 252.1l3.3 -1.6M45.0 248.9l1.2 2.5M90.3 365.1l1.3 2.6M53.7 289.5l3.3 -1.6M93.5 260.3l2.1 -1.0M42.2 320.8l1.5 -0.7M55.4 246.9l1.8 3.6M40.2 271.6l1.3 2.7M70.0 293.2l1.4 -0.7M28.1 376.4l1.9 -0.9M37.6 371.6l1.7 -0.8M46.7 259.0l2.0 4.0M150.1 279.4l1.9 4.0M129.9 255.5l0.7 1.5M100.0 374.3l2.0 4.0M125.3 220.1l0.9 1.9M162.0 351.5l3.1 -1.5M190.3 268.7l1.7 3.4M100.4 311.4l1.9 3.8M81.6 372.4l1.8 -0.9M98.6 224.5l1.0 2.1M88.1 321.1l1.7 -0.8M114.1 352.3l1.2 2.4M53.8 353.3l0.8 1.6M111.8 245.4l1.7 3.5M28.6 378.0l3.9 -1.9M161.0 347.7l2.9 -1.4M65.3 365.6l1.7 3.5M16.2 319.6l3.3 -1.6M159.1 346.3l2.2 -1.1M147.4 345.3l1.3 2.6M129.1 378.3l1.9 -0.9M61.1 306.2l1.6 3.4M84.2 304.5l0.8 1.6M77.2 258.5l0.8 1.6M70.0 390.3l3.1 -1.5M140.5 327.5l1.3 2.7M84.8 382.5l1.5 -0.7M161.7 272.0l2.2 -1.1M61.8 355.0l0.8 1.6M145.7 277.2l3.3 -1.6M127.4 232.1l1.1 2.2M125.1 299.7l0.7 1.4M176.0 263.8l0.9 1.9M17.4 329.9l1.8 3.7M120.7 376.6l3.6 -1.8M78.9 395.1l1.9 3.9M128.8 277.0l1.6 -0.8M48.8 331.2l1.5 3.1M76.6 383.9l1.3 2.6M39.2 279.3l3.5 -1.7M148.9 325.1l3.1 -1.5M74.7 397.1l2.4 -1.2M142.1 303.5l3.0 -1.5M57.6 267.5l1.0 2.0M159.2 338.1l3.3 -1.6M71.8 301.9l1.9 -0.9M29.9 250.7l3.7 -1.8M32.3 334.4l1.9 3.9M171.8 272.4l1.6 3.3M155.3 360.1l3.2 -1.6M117.4 386.9l2.9 -1.4M92.2 375.9l3.3 -1.6M47.5 344.2l3.7 -1.8M190.4 293.8l3.6 -1.8M66.6 269.8l0.9 1.9M162.1 334.5l3.8 -1.9M60.0 288.0l1.7 3.5M108.8 351.3l1.7 3.6M138.7 372.6l3.6 -1.8M134.4 329.5l0.9 1.8M45.7 368.8l3.9 -1.9M143.0 315.8l3.8 -1.9M85.1 256.6l3.6 -1.8M67.0 323.5l2.5 -1.2M170.7 305.3l3.5 -1.7M35.2 256.0l3.5 -1.7M7.0 283.6l1.2 2.4M151.3 279.8l1.7 3.4M16.6 300.8l2.5 -1.2M113.8 342.2l1.2 2.4M168.4 340.3l1.9 -0.9M56.9 390.9l1.2 2.4M76.5 352.3l1.3 2.7M103.0 332.0l1.6 3.2M38.2 319.3l1.2 2.5M157.7 251.6l2.3 -1.1M92.7 393.4l1.7 3.5M103.4 236.7l2.4 -1.1M82.7 297.3l1.3 2.6M109.3 244.0l0.9 1.8M105.9 289.6l2.7 -1.3M138.4 323.8l1.5 -0.7M52.6 321.9l1.3 2.6M126.4 307.9l0.8 1.7M42.0 284.0l2.9 -1.4M175.6 315.2l4.0 -1.9M95.6 273.4l1.4 2.9M121.0 388.7l2.5 -1.2M152.8 316.6l1.0 2.1M110.4 383.3l1.8 3.7M124.9 308.6l2.1 -1.0M91.3 368.8l1.4 2.8M162.9 314.6l2.9 -1.4M38.3 381.6l3.2 -1.5M151.8 291.8l1.6 3.2M129.0 385.2l3.7 -1.8M80.1 346.7l3.1 -1.5M104.6 265.2l3.1 -1.5M62.2 260.1l1.0 2.1M132.1 355.4l2.4 -1.2M133.1 251.7l1.6 3.4M28.6 328.4l2.3 -1.1M124.4 313.3l1.4 2.8M126.2 358.4l1.6 3.3M168.4 300.9l3.1 -1.5M18.9 297.6l3.2 -1.6M101.0 300.6l4.0 -1.9M52.9 331.6l2.3 -1.1M91.2 321.2l1.0 2.0M23.7 343.4l0.7 1.5M67.7 390.8l1.2 2.5M8.4 257.1l4.0 -2.0M10.2 261.5l1.1 2.3M79.0 270.0l2.6 -1.3M39.2 309.9l1.4 2.9M150.9 297.7l0.9 1.9M26.1 269.8l2.5 -1.2M44.8 374.0l1.1 2.2M124.7 237.4l2.5 -1.2M111.2 349.6l1.8 3.7M25.2 298.8l3.1 -1.5M80.4 343.2l3.6 -1.8M85.4 345.5l2.7 -1.3M102.7 269.6l2.7 -1.3M112.8 294.1l1.7 3.4M58.2 250.1l2.0 -1.0M87.7 307.3l1.7 3.4M54.9 268.2l2.7 -1.3M129.8 220.0l1.4 2.9M23.9 258.0l1.6 3.3M73.4 378.1l1.8 -0.9M117.0 312.6l3.5 -1.7M140.7 320.4l0.9 1.9M68.7 270.6l1.0 2.0M132.5 238.1l1.6 3.2M123.1 377.7l1.4 2.8M84.0 319.0l1.9 3.8M152.1 300.1l1.8 3.7M104.5 269.4l1.1 2.2M130.8 226.3l2.8 -1.3M122.5 266.0l3.8 -1.8M180.5 315.1l2.8 -1.4M109.7 281.0l2.6 -1.3M91.7 262.3l1.6 -0.8M66.1 263.8l2.8 -1.4M147.6 269.9l3.8 -1.9M140.5 262.3l3.1 -1.5M104.4 264.4l1.4 2.8M116.8 319.1l3.7 -1.8M84.4 288.9l1.9 4.0M108.9 358.4l1.5 3.0M134.4 261.9l2.4 -1.2M147.0 367.1l1.6 3.3M66.9 385.4l0.8 1.6M44.5 349.8l3.1 -1.5M108.7 248.3l1.8 3.7M5.2 287.0l0.7 1.4M55.4 334.7l1.7 3.4M25.7 258.9l3.3 -1.6M78.0 387.3l2.5 -1.2M132.9 278.3l3.5 -1.7M38.2 315.2l2.5 -1.2M185.5 276.9l3.0 -1.5M139.7 237.4l3.1 -1.5M97.4 253.8l0.9 1.8M123.6 352.7l3.3 -1.6M112.7 269.6l3.1 -1.5M159.7 267.6l2.4 -1.2M10.3 253.1l1.4 -0.7M78.6 377.9l0.7 1.5M21.5 368.2l2.3 -1.1M124.9 279.5l1.4 -0.7M138.7 347.6l4.0 -2.0M156.7 277.1l2.7 -1.3M85.0 383.9l2.0 -1.0M184.6 297.5l1.7 3.5M72.6 347.7l3.1 -1.5M144.8 301.6l3.4 -1.6M136.9 374.9l1.2 2.4M142.0 306.8l3.4 -1.7M26.6 310.8l3.4 -1.6M95.1 369.1l0.7 1.4M72.9 280.9l1.6 3.2M60.2 242.1l1.2 2.5M142.1 341.5l3.8 -1.9M31.6 370.8l0.7 1.4M83.3 384.7l3.0 -1.5M15.4 301.4l2.8 -1.4M119.0 224.5l1.1 2.3M60.4 248.2l0.9 1.8M176.8 288.8l2.2 -1.1M138.8 234.9l3.9 -1.9M150.7 279.8l0.7 1.4M53.6 379.0l0.9 1.8M59.0 270.9l1.7 3.4M44.9 282.8l2.2 -1.1M110.2 237.9l2.2 -1.1M95.2 388.6l3.3 -1.6M40.2 332.0l1.7 3.4M104.2 348.2l1.1 2.2M151.0 362.8l1.4 2.8M96.6 390.9l1.2 2.5M66.2 309.5l1.4 2.9M38.9 345.0l2.8 -1.3M117.0 228.5l2.2 -1.1M19.9 283.1l2.3 -1.1M49.2 297.0l2.3 -1.1M38.0 352.2l1.9 3.9M110.2 310.6l3.2 -1.6M17.8 297.5l1.7 3.6M11.9 310.0l1.8 -0.9M48.8 328.0l1.6 3.3M103.9 224.2l1.5 -0.7M28.2 245.9l2.1 -1.0M173.0 280.2l1.3 2.6M38.7 306.7l1.5 -0.7M63.1 331.4l2.7 -1.3M130.1 346.0l1.8 3.7M139.4 362.6l1.9 -0.9M171.5 294.5l0.7 1.4M29.4 263.9l3.8 -1.9M161.7 284.3l1.4 2.9M146.4 251.8l3.2 -1.5M51.6 358.5l1.8 -0.9M25.3 321.9l1.8 -0.9M126.8 241.8l1.8 -0.9M151.0 335.0l2.1 -1.0M57.9 315.4l2.9 -1.4M33.3 330.2l1.0 2.1M73.9 331.1l0.9 1.9M117.7 248.3l2.0 4.0M28.7 354.2l0.7 1.4M169.9 332.4l1.4 -0.7M56.6 386.6l3.5 -1.7M67.6 252.1l1.9 -0.9M44.7 340.6l1.1 2.3M114.9 305.8l1.7 3.4M92.9 245.4l1.7 3.5M95.6 351.6l1.8 -0.9M129.0 261.4l2.0 4.0M131.9 347.5l1.0 2.1M175.1 298.8l1.4 2.9M39.0 311.2l1.5 3.1M56.2 244.4l2.5 -1.2M54.4 304.4l3.2 -1.6M37.3 301.1l2.8 -1.3M134.9 318.6l1.9 3.9M128.3 229.5l2.8 -1.3M141.1 335.8l2.1 -1.0M142.3 259.0l1.9 3.9M104.5 233.9l2.5 -1.2M44.6 359.2l1.6 -0.8M71.0 394.0l1.8 -0.9M109.3 221.5l2.9 -1.4M66.6 273.3l4.0 -2.0M62.5 274.6l2.2 -1.1M65.9 342.3l2.3 -1.1M62.3 263.6l1.8 3.6M112.9 226.0l1.8 3.6M6.0 266.8l3.6 -1.8M45.1 246.7l1.6 3.2M6.6 253.1l1.5 3.1M25.7 338.0l3.2 -1.5M183.5 271.6l1.1 2.4M111.4 330.1l0.7 1.5M32.4 367.1l1.7 3.4M11.1 324.2l4.0 -2.0M34.8 280.8l2.3 -1.1M142.3 243.7l1.3 2.6M65.7 359.6l0.9 1.9M156.1 330.6l1.6 -0.8M50.5 337.6l1.7 3.4M29.8 251.3l0.7 1.5M74.3 343.5l0.9 1.8M57.2 295.0l1.4 2.9M40.9 359.4l1.5 -0.7M142.2 228.5l1.8 3.6M46.5 345.2l1.5 3.1M101.8 281.8l3.7 -1.8M185.6 280.8l1.2 2.4M154.2 247.5l1.5 3.1M82.7 317.3l1.5 3.1M80.8 284.2l0.9 1.8M68.7 360.1l0.7 1.5M34.6 375.4l3.6 -1.7M22.4 252.4l0.9 1.9M93.6 316.3l1.8 3.6M94.5 300.9l1.8 -0.9M39.8 265.5l2.8 -1.4M90.4 297.6l0.8 1.7M11.2 266.9l2.7 -1.3M143.7 319.6l3.2 -1.6M61.3 264.3l2.6 -1.3M121.5 250.0l3.0 -1.5M59.3 363.3l2.1 -1.0M11.6 258.3l3.8 -1.9M148.7 304.6l2.1 -1.0M104.6 270.7l2.7 -1.3M80.2 234.6l1.3 2.6M181.6 296.2l1.0 2.1M26.4 284.0l0.7 1.5M39.8 369.4l1.6 3.2M91.4 363.6l1.3 2.6M188.0 281.7l2.8 -1.4M82.8 281.8l1.1 2.2M135.9 329.1l1.3 2.8M141.5 349.4l3.5 -1.7M126.9 366.5l1.9 -0.9M46.1 312.8l3.8 -1.8M82.6 336.6l0.7 1.4M140.5 280.2l0.9 1.8M175.8 312.9l2.8 -1.4M32.0 257.5l2.2 -1.1M48.3 351.5l3.9 -1.9M62.4 290.5l1.5 -0.7M113.1 259.0l1.0 2.0M99.1 318.5l1.5 3.1M25.0 351.5l1.4 -0.7M53.8 237.2l1.8 -0.9M103.0 315.8l1.6 3.4M18.0 299.0l1.9 -0.9M67.2 321.8l3.1 -1.5M81.7 306.2l3.9 -1.9M181.0 317.2l3.8 -1.9M132.9 217.4l1.0 1.9M68.6 309.8l2.0 4.0M136.7 318.5l1.0 2.0M87.8 290.5l1.9 -0.9M106.9 266.6l1.4 2.8M80.5 364.4l1.3 2.6M156.2 342.5l0.9 1.8M11.3 266.0l0.7 1.4M135.6 314.4l1.6 3.3M96.8 330.7l0.7 1.5M149.7 347.4l1.8 3.7M130.3 324.7l2.6 -1.3M123.2 276.2l1.7 3.5M89.7 309.3l1.6 3.3M165.9 345.6l2.0 -1.0M104.2 227.4l1.3 2.6M90.8 376.3l2.3 -1.1M55.6 237.5l2.9 -1.4M32.1 267.3l1.6 3.3M46.0 258.0l1.9 4.0M134.8 259.3l1.9 4.0M132.5 256.4l2.6 -1.3M157.9 287.8l0.8 1.6M68.9 245.6l3.2 -1.6M123.8 296.1l0.8 1.7M36.6 271.7l0.9 1.8M106.9 295.4l1.0 2.1M27.0 248.6l3.6 -1.8M42.2 311.9l2.0 -1.0M17.5 267.1l0.8 1.6M46.1 316.7l0.7 1.4M71.1 382.8l1.9 -0.9M100.9 303.8l2.1 -1.0M4.4 266.5l2.4 -1.2M145.0 290.7l1.5 3.0M115.0 342.8l2.8 -1.4M169.8 311.9l0.7 1.5M103.0 390.1l2.5 -1.2M156.9 296.1l1.2 2.5M182.4 298.6l1.6 3.2M113.1 253.0l2.1 -1.0M46.4 251.0l1.7 3.5M137.4 352.6l1.5 3.1M122.4 218.5l1.7 3.5M36.1 284.6l2.0 4.0M34.0 376.7l3.6 -1.7M72.3 360.5l3.6 -1.7M85.2 343.1l2.0 4.0M72.1 257.9l0.9 1.9M146.8 254.6l1.6 3.4M117.3 311.4l2.5 -1.2M110.3 336.8l1.8 3.7M132.4 243.0l3.7 -1.8M101.2 329.6l1.1 2.2M21.6 251.6l3.3 -1.6M25.3 334.4l2.0 4.0M119.2 312.5l3.6 -1.8M127.9 226.5l3.4 -1.7M100.1 357.4l2.0 4.0M159.3 268.8l1.5 3.1M101.7 324.4l2.5 -1.2M155.5 334.0l1.9 4.0M103.5 305.9l1.7 3.5M70.3 325.4l2.4 -1.2M130.2 342.4l3.8 -1.8M101.6 297.3l2.0 4.0M24.9 306.0l3.0 -1.5M118.5 342.4l1.1 2.3M82.0 241.5l1.0 2.0M130.2 314.2l1.7 3.5M154.1 287.9l2.8 -1.4M18.6 282.6l3.6 -1.8M32.5 296.7l1.5 3.1M11.8 300.3l2.3 -1.1M197.0 277.4l2.0 4.0M43.6 265.0l3.3 -1.6M66.9 269.8l1.7 -0.8M84.0 228.3l3.9 -1.9M17.8 282.4l1.9 3.8M96.0 321.6l0.8 1.5" stroke="#a6a6a6" stroke-width="1.8" fill="none"/>
<path clip-path="url(#c2)" d="M2.4 297.1L43.7 278.6M88.2 258.6L130.3 239.7M-5.0 316.1L40.2 294.0M85.0 272.1L114.8 257.5M-1.1 340.7L31.0 324.7M66.1 307.2L87.1 296.7M8.3 352.4L42.4 335.1M42.4 335.1L73.4 319.3M73.4 319.3L97.6 307.1M97.6 307.1L135.3 288.0M135.3 288.0L159.5 275.7M-10.5 376.4L27.0 357.4M27.0 357.4L68.9 336.2M88.9 326.1L126.4 307.1M126.4 307.1L171.2 284.5M59.9 352.7L106.4 328.1M106.4 328.1L148.5 305.9M148.5 305.9L185.0 286.6M14.2 376.6L36.0 366.8M83.9 345.3L107.1 334.9M107.1 334.9L140.1 320.2M140.1 320.2L167.3 308.0M167.3 308.0L197.3 294.5M37.0 376.2L74.2 358.0M103.6 343.6L128.0 331.7M148.0 321.9L173.9 309.2M74.7 377.4L103.3 362.5M146.4 340.1L163.6 331.2M163.6 331.2L210.6 306.7M118.0 248.2L127.1 265.8M146.1 303.0L160.2 330.7M160.2 330.7L176.5 362.6M100.5 239.7L114.5 266.6M114.5 266.6L131.8 300.0M98.2 245.1L116.6 283.4M116.6 283.4L134.1 319.8M134.1 319.8L154.0 361.3M83.6 226.5L102.5 263.7M102.5 263.7L123.2 304.5M123.2 304.5L132.0 321.9M105.9 300.1L119.5 326.2M119.5 326.2L138.6 362.7M63.5 239.6L79.3 274.8M111.6 346.8L127.1 381.3M36.2 239.9L55.8 278.7M64.7 296.3L72.7 312.1M89.4 345.0L100.7 367.4M100.7 367.4L108.6 383.0M23.7 268.6L41.5 306.1M53.1 330.5L65.9 357.4M47.1 343.5L60.5 370.6" stroke="#a6a6a6" stroke-width="1.0" fill="none"/>
<path clip-path="url(#c2)" d="M62.7 294.6L107.4 272.8M107.4 272.8L142.8 255.6M9.9 324.6L28.9 315.2M28.9 315.2L46.5 306.6M46.5 306.6L69.5 295.3M123.1 268.9L147.3 256.9M-17.6 361.8L28.0 341.3M55.9 328.7L90.3 313.2M55.8 371.6L76.5 361.2M76.5 361.2L114.6 342.1M141.1 328.9L166.0 316.4M166.0 316.4L187.8 305.5M68.9 370.5L109.8 351.7M85.6 389.4L133.7 365.5M114.0 224.8L132.5 262.3M132.5 262.3L149.6 297.1M98.5 303.6L111.6 330.0M111.6 330.0L126.9 360.7M126.9 360.7L137.0 381.0M47.1 245.2L65.3 280.3M65.3 280.3L75.3 299.6M75.3 299.6L94.0 335.8M38.6 262.3L54.8 295.8M54.8 295.8L63.4 313.8M63.4 313.8L76.3 340.4M90.0 368.8L99.7 389.0M23.3 304.3L32.9 322.7M32.9 322.7L50.3 356.3M8.8 305.3L28.7 345.2" stroke="#a6a6a6" stroke-width="1.8" fill="none"/>
<path clip-path="url(#c2)" d="M140.9 310.9l1.3 2.7M101.5 265.9l2.4 -1.2M117.2 353.0l3.1 -1.5M119.4 349.4l0.9 1.9M113.7 373.3l3.4 -1.7M77.1 303.1l0.9 1.8M92.4 350.8l2.6 -1.3M125.4 316.1l1.2 2.4M66.5 296.9l1.9 -1.0M47.2 317.5l2.5 -1.2M144.7 296.3l1.5 3.0M163.3 328.7l3.9 -1.9M38.1 277.4l3.6 -1.7M54.2 361.9l0.7 1.5M71.2 279.4l1.9 3.9M98.1 259.7l3.9 -1.9M87.1 324.0l0.8 1.7M91.2 358.3l1.9 3.8M78.9 295.8l3.1 -1.5M81.5 282.6l1.7 -0.9M111.3 370.4l4.0 -1.9M63.5 298.6l0.9 1.9M74.0 308.5l2.7 -1.3M158.1 318.5l1.4 2.8M115.7 360.7l1.7 -0.8M41.3 317.6l1.0 2.1M40.7 301.3l2.4 -1.2M123.7 315.0l3.5 -1.7M144.8 360.1l1.2 2.4M97.5 365.0l1.0 2.0M56.3 358.3l1.2 2.4M151.6 300.1l0.7 1.4M100.0 289.1l3.8 -1.9M93.8 279.7l1.6 3.3M126.0 305.4l3.5 -1.7M98.0 344.9l3.7 -1.8M24.6 313.4l0.9 1.8M62.6 297.0l1.6 -0.8M66.2 285.0l1.9 -0.9M126.2 266.2l1.3 2.7M131.8 282.3l1.5 -0.7M106.9 327.3l3.1 -1.5M80.9 311.2l3.4 -1.7M50.6 315.2l1.2 2.5M71.2 377.8l0.9 1.9M23.0 288.1l1.2 2.5M28.0 317.2l3.5 -1.7M139.2 283.0l1.1 2.2M146.7 353.0l1.5 3.0M150.7 355.6l1.8 -0.9M73.5 377.3l1.1 2.2M54.9 343.4l1.8 3.7M100.9 328.7l0.9 1.8M148.9 319.0l2.6 -1.3M159.3 340.6l3.7 -1.8M85.8 317.5l1.6 -0.8M104.7 297.3l1.8 3.6M117.0 325.9l1.0 2.0M116.6 284.0l2.6 -1.3M117.7 307.1l0.9 1.9M138.5 278.8l0.7 1.4M139.2 330.0l3.2 -1.6M124.2 328.4l3.4 -1.7M169.4 301.0l2.5 -1.2M38.5 316.4l1.6 3.3M79.3 341.3l3.6 -1.8M69.9 326.1l1.6 3.2M65.3 364.3l3.0 -1.5M100.1 289.1l1.9 4.0M152.0 301.6l0.8 1.7M36.0 362.5l1.7 3.4M101.0 335.0l1.4 -0.7M94.4 258.2l2.7 -1.3M37.3 355.7l2.0 4.0M108.0 273.6l1.2 2.5M18.0 300.0l2.0 -1.0M31.0 346.8l1.1 2.3M59.4 343.4l1.1 2.3M47.1 347.6l2.2 -1.1M95.4 266.6l3.5 -1.7M14.3 321.1l1.4 2.9M54.2 277.1l3.7 -1.8M71.9 277.6l3.3 -1.6M83.3 349.5l2.3 -1.1M91.1 275.1l1.6 3.3M104.4 319.1l2.9 -1.4M95.7 331.1l3.6 -1.8M30.4 308.7l1.5 -0.7M90.7 362.9l1.4 2.9M152.4 293.4l0.9 1.8M128.7 303.8l1.7 3.6M44.8 360.9l1.0 2.1M144.3 359.6l1.6 -0.8M97.0 281.5l1.2 2.4M33.9 352.8l2.9 -1.4M101.7 374.5l2.0 4.0M72.2 343.8l1.8 3.7M105.2 360.8l1.7 3.4M36.8 294.9l2.7 -1.3M53.0 365.1l4.0 -1.9M91.8 264.7l1.4 2.8M57.2 336.6l3.6 -1.7M77.7 344.2l1.8 -0.9M46.4 359.8l3.4 -1.6M25.0 317.7l1.0 2.1M148.2 297.7l1.1 2.2M148.2 341.5l1.1 2.3M125.9 258.1l0.9 1.8M108.7 363.2l1.5 3.1M151.7 273.4l0.8 1.6M46.9 365.7l3.9 -1.9M133.2 277.8l2.7 -1.3M110.1 268.8l2.5 -1.2M62.1 279.7l3.5 -1.7M100.0 255.5l2.3 -1.1M145.5 277.0l0.7 1.5M24.0 313.4l2.5 -1.2M122.9 256.6l2.1 -1.0M62.2 310.2l1.9 3.9M44.8 312.9l2.0 4.0M159.6 289.5l1.6 -0.8M132.7 299.1l1.7 3.5M117.6 366.4l2.9 -1.4M118.4 283.7l1.7 3.5M83.4 343.0l0.7 1.5M115.5 371.3l1.5 -0.7M132.3 330.9l1.2 2.6M115.2 256.8l3.4 -1.7M138.1 329.2l1.0 2.0M21.5 308.4l1.5 -0.7M52.9 319.9l1.8 3.7M86.5 304.9l1.6 3.3M108.8 320.6l1.9 3.9M83.8 352.9l1.8 3.7M58.8 336.2l1.8 3.6M108.7 271.6l1.6 3.3M126.1 310.6l1.5 -0.7M104.3 270.6l2.2 -1.1M29.7 287.1l1.2 2.6M125.4 263.5l1.2 2.4M125.2 283.1l1.4 -0.7M60.5 337.7l1.6 -0.8M104.7 299.1l2.3 -1.1M62.6 354.8l1.9 3.8M119.6 361.4l1.6 -0.8M76.2 332.0l2.8 -1.4M73.8 294.7l1.4 3.0M19.0 321.3l2.6 -1.3M38.0 309.6l0.8 1.7M54.9 365.1l2.0 -1.0M37.2 346.0l1.8 3.6M91.6 334.2l1.1 2.3M76.6 313.4l0.8 1.6M18.3 296.8l1.6 -0.8M89.3 259.0l1.5 3.1M133.2 295.1l3.1 -1.5M35.6 339.9l3.5 -1.7M14.3 317.6l1.3 2.7M132.3 294.0l1.7 3.5M46.7 280.6l1.3 2.6M151.3 320.2l2.8 -1.4M123.5 318.1l1.4 2.9M23.9 317.6l3.9 -1.9M108.3 286.6l1.7 3.4M63.6 308.7l1.7 3.5M97.7 261.9l1.3 2.6M19.0 308.3l1.0 2.1M36.9 319.3l1.2 2.5M41.3 335.9l3.8 -1.9M87.5 277.4l2.4 -1.2M131.9 283.9l4.0 -2.0M54.9 334.3l1.7 -0.8M61.5 337.6l1.7 3.6M53.5 324.4l4.0 -1.9M81.2 375.3l1.9 3.9M44.5 299.8l1.9 -0.9M92.5 278.3l1.5 3.0M133.1 295.8l3.8 -1.8M119.5 313.8l3.0 -1.4M23.2 348.9l1.5 3.1M77.9 328.8l1.2 2.5M55.0 314.9l3.5 -1.7M78.0 263.1l1.9 3.9M84.1 271.8l2.5 -1.2M36.9 297.8l1.1 2.3M81.4 346.9l0.7 1.5M59.6 377.8l1.0 2.1M85.4 293.5l3.6 -1.7M106.8 312.7l1.9 3.8M142.5 342.2l1.2 2.4M76.4 348.0l1.9 4.0M30.5 322.8l1.4 2.8M59.3 302.4l1.6 3.2M87.9 329.4l2.0 -1.0M78.4 319.9l3.3 -1.6M61.7 376.5l3.8 -1.9M147.9 295.1l0.7 1.5M93.5 373.0l2.5 -1.2M71.0 341.9l1.0 2.0M43.9 338.3l0.7 1.4M39.9 301.1l4.0 -1.9M140.9 324.9l2.8 -1.3M112.9 357.8l1.7 -0.8M89.5 270.9l0.8 1.6M58.6 294.4l2.0 4.0M104.9 260.6l0.8 1.7M67.0 337.3l0.9 1.8M91.3 264.5l1.7 -0.8M71.3 321.3l3.9 -1.9M38.2 320.1l1.9 -1.0M90.0 304.4l1.5 3.1M18.2 308.1l1.6 -0.8M107.8 316.5l2.8 -1.3M150.9 311.2l3.8 -1.9M47.4 334.3l3.2 -1.6M110.8 267.8l3.6 -1.8M126.1 285.7l3.8 -1.9M128.3 289.5l1.9 3.9M127.8 322.1l3.4 -1.7M68.8 337.5l1.5 -0.7M98.4 305.5l1.6 3.3M105.1 336.8l1.8 3.8M79.5 364.0l2.5 -1.2M48.2 348.2l2.0 -1.0M42.5 304.5l1.4 -0.7M63.3 379.4l0.7 1.5M41.1 332.7l0.7 1.4M57.2 313.8l1.4 -0.7M15.5 295.4l2.0 -1.0M145.0 306.1l0.8 1.6M80.3 326.6l1.3 2.7M94.3 342.0l0.9 1.9M60.8 375.0l2.1 -1.0M169.6 306.5l2.9 -1.4M49.2 292.5l3.9 -1.9M124.2 331.1l1.0 2.0M31.0 364.4l1.3 2.7M51.7 323.3l2.2 -1.1M94.8 365.2l3.1 -1.5M41.4 298.6l1.4 -0.7M138.8 312.1l3.1 -1.5M62.2 276.2l2.3 -1.1M69.6 340.4l1.7 3.4M108.1 358.5l3.1 -1.5M34.7 281.2l1.6 -0.8M117.1 348.1l1.2 2.6M112.5 340.3l2.5 -1.2M92.6 326.7l1.7 -0.8M89.2 350.4l1.0 2.1M126.0 332.1l2.7 -1.3M62.6 290.9l2.6 -1.3M72.9 380.3l2.3 -1.1M86.5 332.9l1.8 3.7M57.0 334.0l1.7 3.4M106.2 366.7l3.1 -1.5M163.1 304.2l0.8 1.6M67.6 354.9l1.8 3.7M120.4 292.9l2.7 -1.3M140.2 291.4l1.2 2.5M24.8 353.9l1.4 2.8M119.0 282.1l1.8 3.7M21.8 290.7l1.6 -0.8M102.4 299.6l3.2 -1.6M114.1 287.1l2.5 -1.2M108.3 257.4l1.6 -0.8M39.6 299.3l2.3 -1.1M135.1 300.3l1.8 3.8M152.8 307.0l1.1 2.3M119.1 358.9l2.8 -1.4M159.0 312.7l0.8 1.7M55.0 290.8l1.8 3.8M101.5 336.6l3.1 -1.5M133.4 330.1l2.0 4.0M83.5 270.0l2.2 -1.1M150.2 310.1l1.4 2.8M133.7 364.6l1.4 -0.7M84.8 327.3l4.0 -2.0M26.8 348.6l2.8 -1.4M131.6 300.5l1.9 -0.9M135.1 359.5l1.6 3.3M28.2 316.4l2.7 -1.3M41.9 285.1l4.0 -1.9M75.9 347.7l1.6 3.3M136.1 290.7l1.0 2.0M128.7 285.4l3.8 -1.8M44.6 300.9l1.8 -0.9M105.8 322.4l0.8 1.7M74.4 322.3l1.8 3.7M24.1 294.0l0.9 1.8M80.9 294.3l3.5 -1.7M43.0 291.6l0.8 1.6M111.8 269.7l1.4 2.8M163.1 324.9l2.0 -1.0M130.9 296.7l1.1 2.2M117.5 329.9l0.7 1.4M115.8 364.8l1.5 3.2M50.9 295.7l3.9 -1.9M157.2 284.4l1.3 2.6M112.3 318.7l1.4 -0.7M27.8 324.7l4.0 -1.9M34.7 366.9l3.3 -1.6M29.8 331.0l3.7 -1.8M133.9 334.6l0.8 1.7M54.0 272.4l2.6 -1.3M153.8 328.7l4.0 -2.0M67.6 312.6l0.9 1.8M141.8 308.9l1.5 -0.7M150.4 343.1l0.7 1.5M66.3 380.7l1.4 2.9M75.3 295.7l2.8 -1.4M73.3 291.5l0.9 1.8M101.2 345.0l3.0 -1.5M52.3 274.4l3.0 -1.5M27.6 358.4l0.8 1.7M60.5 338.9l4.0 -2.0M151.9 293.8l2.8 -1.4M95.8 340.3l3.4 -1.7M121.3 365.6l2.7 -1.3M83.0 274.2l3.0 -1.5M67.9 372.7l2.1 -1.0M115.2 329.7l3.6 -1.8M49.4 273.2l1.7 -0.8M133.6 359.8l0.9 1.9M37.3 309.8l1.7 -0.8M141.2 344.8l1.3 2.7M24.5 289.1l3.2 -1.5M80.2 306.4l1.8 -0.9M49.3 321.7l1.1 2.3M60.6 345.2l1.8 3.7M144.5 311.3l0.8 1.6M129.9 262.5l2.7 -1.3M14.6 309.9l0.8 1.7M145.8 305.2l2.9 -1.4M45.2 328.7l0.7 1.4M15.3 306.4l1.1 2.3M47.6 273.8l1.4 2.8M166.9 304.6l2.0 -1.0M139.3 268.3l3.8 -1.9M104.5 333.3l3.4 -1.6M65.0 322.6l1.5 3.0M43.4 275.9l3.2 -1.5M145.4 272.6l0.8 1.6M65.2 296.1l2.2 -1.1M81.8 361.3l1.4 -0.7M157.7 311.5l4.0 -2.0M83.7 263.8l1.9 4.0M25.2 296.6l1.9 4.0M72.3 330.4l1.3 2.6M21.1 325.8l3.8 -1.9M57.5 305.1l1.4 3.0M95.9 261.2l3.9 -1.9M23.4 337.8l1.2 2.4M19.6 309.1l1.8 -0.9M81.4 352.6l3.5 -1.7M63.7 284.3l3.2 -1.6M123.0 265.2l1.0 1.9M145.6 307.5l1.6 -0.8M63.5 296.7l2.5 -1.2M75.1 269.2l0.8 1.7M100.0 286.8l1.6 3.3M40.4 363.9l2.9 -1.4M57.1 367.1l2.4 -1.2M11.3 308.2l1.8 3.7M142.3 282.6l3.0 -1.5M42.8 275.8l2.0 4.0M74.4 357.9l3.2 -1.6M141.4 361.1l1.1 2.3M65.3 278.6l1.8 3.7M42.6 319.6l0.9 1.8M156.2 298.0l3.8 -1.9M106.8 369.7l1.4 -0.7M57.9 321.1l3.3 -1.6M162.8 305.4l2.1 -1.0M79.1 282.1l1.9 -0.9M75.5 378.6l2.5 -1.2M93.6 328.3l3.9 -1.9M35.7 304.3l1.9 3.9M99.9 348.2l2.2 -1.1M41.0 329.1l1.7 3.5M148.4 281.6l1.7 3.5M149.7 322.6l2.2 -1.1M125.3 288.5l1.9 4.0M91.0 352.1l4.0 -1.9M67.6 297.9l0.8 1.6M77.6 299.1l0.9 1.9M28.5 308.0l2.1 -1.0M58.0 323.5l1.9 3.8M149.2 304.1l3.6 -1.8M69.4 279.9l2.4 -1.2M73.3 287.4l1.6 3.3M20.8 291.8l2.2 -1.1M69.9 278.0l2.6 -1.3M35.6 356.0l3.5 -1.7M154.7 302.7l1.4 3.0M132.0 324.3l2.3 -1.1M75.1 376.8l2.0 4.0M90.7 335.3l1.5 3.0M114.5 315.2l1.2 2.5M69.3 332.0l3.9 -1.9M156.0 325.1l1.5 3.1M55.3 305.5l1.9 3.9M137.6 287.3l3.8 -1.8M25.1 322.0l1.5 -0.7M168.1 296.0l0.8 1.7M34.9 361.7l2.4 -1.2M142.3 280.6l3.9 -1.9M45.9 298.2l0.7 1.4M75.3 361.2l1.8 3.6M106.6 374.8l1.1 2.3M95.0 259.9l0.9 1.8M29.8 352.5l3.6 -1.8M69.6 328.7l2.9 -1.4M102.2 374.1l3.8 -1.8M59.9 307.9l3.6 -1.8M87.0 307.8l1.6 3.4M106.0 256.3l2.6 -1.3M83.0 368.0l0.9 1.8M71.3 344.7l1.5 3.2M131.1 282.0l3.1 -1.5M74.5 329.2l2.6 -1.2M107.6 287.7l2.8 -1.4M149.8 311.4l1.0 1.9M86.9 330.7l3.8 -1.9M63.1 295.9l2.1 -1.0M66.1 348.3l1.9 4.0M150.5 275.6l0.7 1.5M81.4 298.6l1.7 3.5M132.7 354.7l0.7 1.4M147.4 291.9l0.7 1.4M98.9 289.7l3.3 -1.6M38.7 329.7l1.8 -0.9M120.7 304.8l1.8 3.8M141.5 312.5l1.7 -0.8M49.3 372.4l2.6 -1.3M21.3 325.2l1.2 2.4M125.3 335.9l3.6 -1.7M75.1 347.5l1.4 -0.7M38.9 284.0l1.7 3.5M53.3 317.6l1.6 3.2M143.3 303.9l1.9 3.9M101.3 377.6l1.4 2.9M153.8 318.1l2.4 -1.2M33.2 301.4l1.3 2.6M102.9 361.0l1.8 3.8M43.4 370.3l1.4 2.9M95.3 317.8l1.8 3.7M155.9 310.7l0.7 1.4M117.6 325.1l1.3 -0.7M25.5 312.2l2.6 -1.3M121.6 360.6l1.4 -0.7M45.0 319.1l1.1 2.3M71.6 271.2l3.4 -1.7M72.0 353.0l2.4 -1.1M75.5 265.4l2.8 -1.4M35.0 357.7l2.9 -1.4M49.4 285.0l3.4 -1.6M73.0 369.5l1.1 2.3M86.6 315.8l3.6 -1.7M64.9 287.8l2.0 -1.0M106.1 297.6l3.0 -1.5M62.7 275.9l3.6 -1.7M99.7 286.1l3.2 -1.6M105.6 319.4l3.8 -1.9M147.5 274.8l1.4 2.8M73.8 270.5l3.4 -1.6M76.0 275.2l1.6 3.3M137.3 319.5l1.5 3.0M75.0 375.1l2.1 -1.0M79.9 345.1l2.9 -1.4M68.5 359.1l2.5 -1.2M47.4 348.8l0.7 1.5M53.0 313.7l1.8 3.6M133.7 272.9l0.8 1.7M99.3 287.7l2.4 -1.2M145.5 350.6l1.2 2.5M139.3 286.4l0.9 1.9M63.2 304.7l3.7 -1.8M101.7 256.8l3.4 -1.7M64.6 369.8l1.6 -0.8M160.1 313.9l2.9 -1.4M30.1 285.4l3.5 -1.7M66.7 301.9l1.5 3.0M34.9 306.6l0.8 1.6M40.6 363.4l2.7 -1.3M68.4 364.6l2.5 -1.2M57.0 284.0l3.9 -1.9M58.8 355.0l1.5 3.0M71.6 365.2l0.9 1.8M91.4 309.4l1.9 3.8M104.9 374.1l2.1 -1.0M54.4 333.2l3.7 -1.8M36.3 318.6l2.0 -1.0M117.9 268.6l1.9 4.0M64.9 307.0l3.3 -1.6M20.3 303.5l1.5 3.2M10.3 305.5l3.3 -1.6M64.8 354.1l3.6 -1.8M133.7 348.8l1.7 -0.8M75.8 314.7l2.3 -1.1M70.8 321.9l3.8 -1.9M139.5 304.3l0.9 1.9M81.3 291.3l3.4 -1.6M92.0 263.2l1.4 -0.7M46.0 302.0l0.9 1.9M85.4 331.7l2.5 -1.2M70.6 313.8l1.4 -0.7M44.5 340.9l3.9 -1.9M16.5 325.6l2.9 -1.4M99.5 360.3l2.0 -1.0M120.0 272.8l1.0 2.1M134.1 304.7l3.3 -1.6M106.6 324.2l1.9 3.9M92.7 281.8l0.9 1.8M99.5 256.6l1.9 3.9M148.4 309.8l3.1 -1.5M143.1 363.0l1.3 2.7M42.3 288.4l1.2 2.4M162.9 338.6l0.8 1.7M73.4 263.9l3.8 -1.8M86.2 317.1l1.0 2.0M49.4 276.2l2.5 -1.2M64.4 323.1l1.9 3.8M26.4 316.1l2.8 -1.4M48.3 300.3l1.1 2.2M98.2 333.9l1.2 2.4M169.5 297.2l1.8 3.6M86.8 339.3l1.2 2.4M67.5 334.3l3.5 -1.7M114.3 293.1l1.9 3.9M94.8 292.1l2.1 -1.0M143.5 336.7l0.8 1.7M91.9 332.0l0.9 1.9M12.2 304.2l1.2 2.5M99.6 322.7l1.2 2.5M156.8 311.2l1.3 2.6M100.8 356.0l3.4 -1.7M41.5 373.5l0.9 1.8M93.8 283.7l2.0 -1.0M103.0 321.8l0.8 1.6M148.1 281.3l3.1 -1.5M28.6 332.5l1.9 3.9M162.7 330.7l3.4 -1.7M132.0 368.3l1.8 -0.9M149.1 339.9l1.2 2.4M104.0 318.7l1.4 2.9M137.8 352.7l0.8 1.6M85.4 352.1l1.9 -0.9M57.5 305.0l0.9 1.9M110.3 350.3l2.4 -1.2M64.4 286.8l2.4 -1.2M63.3 364.1l1.5 -0.7M98.7 289.4l1.5 3.1M65.3 341.7l2.2 -1.1M96.2 315.9l3.4 -1.7M115.2 321.9l1.8 3.7M141.2 321.4l1.0 2.1M74.3 291.9l1.1 2.3M118.5 351.4l1.5 3.1M12.2 317.8l3.3 -1.6M76.9 271.4l1.5 3.1M33.3 366.4l1.3 2.6M98.7 347.4l2.2 -1.1M70.4 372.0l1.0 2.0M147.0 325.5l0.7 1.4M151.0 337.6l2.3 -1.1M105.9 372.9l1.9 -0.9M54.0 366.1l1.8 3.6M117.4 327.3l1.4 2.9M84.5 365.1l0.8 1.7M84.8 353.4l3.7 -1.8M29.9 303.2l1.5 3.1M131.2 302.3l1.8 3.7M139.7 331.6l0.7 1.4M89.1 320.6l1.7 3.4M81.5 318.8l2.9 -1.4M85.2 342.7l1.4 2.9M51.7 284.6l2.4 -1.2M155.8 291.7l3.0 -1.5M105.1 336.2l1.4 -0.7M77.2 349.5l0.8 1.7M91.2 307.3l1.6 -0.8M110.5 299.6l2.9 -1.4M62.4 273.5l1.6 3.3M156.6 290.3l0.8 1.7M166.3 302.6l1.6 3.3M15.8 307.4l0.7 1.4M131.1 265.0l1.3 2.6M64.2 321.1l0.7 1.4M152.9 310.1l4.0 -2.0M78.7 374.8l1.8 3.7M149.3 319.5l2.9 -1.4M111.9 284.2l1.7 3.4M140.7 305.1l3.1 -1.5M73.5 276.5l2.6 -1.3M81.9 329.9l1.6 -0.8M59.2 312.5l0.8 1.6M43.2 351.2l1.6 3.2M106.0 310.0l2.8 -1.4M96.8 308.9l3.6 -1.7M96.8 341.4l1.0 2.1M141.5 274.9l3.2 -1.5M39.0 372.4l3.7 -1.8M105.0 310.8l3.0 -1.5M99.8 377.3l2.2 -1.1M110.9 340.9l1.6 3.3M88.6 362.1l3.6 -1.8M149.7 282.5l1.9 -0.9M111.0 281.2l1.2 2.4M157.5 334.7l2.8 -1.4M107.0 361.6l3.7 -1.8M160.1 340.9l1.9 3.9M47.3 324.0l1.6 3.2M70.9 365.7l2.3 -1.1M127.6 285.2l1.7 3.4M152.6 338.4l1.0 2.0M66.6 366.0l1.7 -0.8M96.0 340.4l3.2 -1.6M60.2 374.7l1.9 -0.9M68.0 354.6l2.9 -1.4M144.6 320.7l1.7 3.4M104.1 255.7l2.2 -1.1M73.2 308.5l1.5 3.1M81.3 378.9l2.0 -1.0M93.5 327.2l2.7 -1.3M153.4 335.6l3.0 -1.5M135.8 346.0l3.7 -1.8M117.5 279.9l3.1 -1.5M35.5 368.6l1.4 2.9M138.8 327.9l3.9 -1.9M74.3 349.7l3.2 -1.6M96.6 335.9l0.8 1.7M153.7 293.2l1.8 -0.9M103.4 280.0l3.5 -1.7M124.0 313.8l3.0 -1.5M85.0 280.8l1.8 3.6M127.7 338.5l0.7 1.5M72.9 365.2l2.9 -1.4M87.9 339.6l1.5 3.0M54.9 369.4l0.8 1.7M96.5 312.4l4.0 -1.9M86.7 363.0l3.3 -1.6M144.6 272.2l1.8 3.7M72.3 296.1l0.9 1.8M149.2 343.4l3.9 -1.9M97.2 296.2l1.7 3.4M95.6 344.7l0.9 1.8M55.6 333.7l1.2 2.5M30.2 353.8l1.5 3.1M59.6 292.2l4.0 -2.0M50.5 351.9l2.4 -1.2M73.3 292.3l2.3 -1.1M162.2 303.6l2.2 -1.1M18.0 297.6l1.7 3.6M45.6 312.8l0.9 1.8M75.5 308.8l1.5 3.2M127.4 278.0l1.9 3.9M104.2 279.0l3.1 -1.5M115.1 345.8l1.8 3.8M34.7 346.0l0.9 1.9M53.7 377.0l1.8 3.6M145.5 354.9l1.7 3.5M84.4 376.7l1.2 2.4M134.5 274.4l0.9 1.8M115.7 287.8l3.4 -1.7M120.8 310.8l1.8 3.8M23.7 352.8l2.8 -1.4M62.2 358.5l2.5 -1.2M88.4 263.9l1.6 -0.8M139.7 350.1l1.6 3.3M100.8 336.6l0.9 1.9M73.5 275.8l1.1 2.2M73.7 335.0l3.3 -1.6M7.7 300.8l1.9 3.8M121.6 319.1l3.0 -1.4M136.4 284.9l1.6 3.3M109.7 356.9l3.1 -1.5M145.2 280.7l1.3 2.6M72.1 281.1l2.1 -1.0M154.1 290.3l1.4 -0.7M130.9 328.3l2.7 -1.3M126.4 368.1l4.0 -2.0M122.2 299.4l2.7 -1.3M40.9 285.9l0.8 1.6M48.8 302.9l1.4 2.9M34.1 294.3l1.1 2.3M104.9 255.9l3.3 -1.6M161.2 310.7l2.4 -1.1M90.3 315.0l2.8 -1.4M96.5 347.4l1.3 2.6M134.2 303.8l1.4 2.9M62.5 351.5l3.7 -1.8M113.5 366.4l1.5 3.1M106.2 303.0l1.7 3.4M107.1 329.3l1.1 2.4M74.7 299.7l1.3 2.7M20.7 341.8l1.2 2.5M128.5 260.3l1.9 3.9M155.8 286.9l1.5 3.2M161.6 331.1l1.3 2.6M162.8 294.9l0.9 1.8M60.1 359.5l3.6 -1.8M78.7 323.8l0.7 1.5M84.1 299.4l2.3 -1.1M63.9 350.3l3.1 -1.5" stroke="#a6a6a6" stroke-width="1.9" fill="none"/>
<path clip-path="url(#c3)" d="M1.5 212.5 L13.1 206.8 L16.5 213.8 L4.9 219.5ZM15.0 205.9 L26.7 200.2 L30.1 207.2 L18.5 212.9ZM28.6 199.2 L43.0 192.2 L46.4 199.2 L32.0 206.2ZM45.0 191.2 L58.1 184.9 L61.5 191.9 L48.4 198.2ZM60.0 183.9 L73.9 177.1 L77.3 184.2 L63.4 190.9ZM-10.9 229.6 L0.7 224.0 L4.0 230.5 L-7.7 236.2ZM2.7 223.0 L14.0 217.5 L17.2 224.0 L5.9 229.6ZM16.0 216.5 L26.1 211.6 L29.3 218.2 L19.2 223.1ZM28.0 210.6 L37.6 206.0 L40.8 212.6 L31.2 217.2ZM39.5 205.0 L61.9 194.1 L65.2 200.7 L42.8 211.6ZM77.4 186.6 L91.9 179.5 L95.1 186.1 L80.6 193.2ZM-5.2 237.4 L9.9 230.1 L13.2 236.8 L-1.9 244.2ZM11.9 229.1 L54.9 208.1 L58.2 214.8 L15.1 235.8ZM84.8 193.5 L93.9 189.1 L97.2 195.8 L88.1 200.3ZM95.9 188.1 L105.1 183.6 L108.4 190.4 L99.1 194.9ZM-14.2 252.6 L15.2 238.3 L18.3 244.7 L-11.1 259.0ZM17.2 237.3 L26.9 232.6 L30.0 239.0 L20.3 243.7ZM28.8 231.6 L43.4 224.5 L46.5 230.9 L32.0 238.0ZM45.4 223.5 L55.0 218.9 L58.1 225.3 L48.5 230.0ZM57.0 217.9 L86.2 203.6 L89.4 210.0 L60.1 224.3ZM88.2 202.7 L99.7 197.1 L102.8 203.5 L91.3 209.1ZM-10.1 261.0 L18.5 247.0 L21.8 253.7 L-6.9 267.6ZM20.5 246.1 L33.8 239.6 L37.0 246.2 L23.7 252.7ZM35.7 238.6 L49.6 231.9 L52.8 238.5 L39.0 245.3ZM51.6 230.9 L60.5 226.5 L63.8 233.2 L54.8 237.5ZM62.5 225.6 L71.6 221.1 L74.9 227.7 L65.7 232.2ZM73.6 220.2 L82.5 215.8 L85.7 222.5 L76.8 226.8ZM84.5 214.9 L99.0 207.8 L102.3 214.4 L87.7 221.5ZM101.0 206.8 L110.0 202.4 L113.2 209.1 L104.3 213.4ZM66.2 234.4 L75.1 230.1 L78.7 237.4 L69.8 241.7ZM77.1 229.1 L99.4 218.2 L102.9 225.5 L80.7 236.4ZM101.4 217.3 L131.1 202.8 L134.6 210.1 L104.9 224.6ZM105.8 226.6 L118.9 220.2 L121.7 225.9 L108.6 232.3Z" stroke="#a6a6a6" stroke-width="1.1" fill="none"/>
<path clip-path="url(#c3)" d="M6.0 211.8 l2.9 -1.4M11.0 209.9 l1.3 2.6M5.0 215.1 l3.5 -1.7M3.4 213.4 l1.2 2.4M3.4 213.3 l1.1 2.2M3.8 214.1 l1.6 3.2M3.5 213.5 l1.6 3.2M12.5 211.2 l1.3 2.8M3.3 213.1 l1.5 -0.8M11.9 214.5 l2.7 -1.3M7.6 213.7 l2.9 -1.4M7.2 216.8 l3.4 -1.6M3.7 214.6 l3.3 -1.6M12.3 208.5 l0.7 1.5M5.1 212.3 l3.2 -1.6M3.6 213.0 l1.6 -0.8M13.5 210.9 l1.2 2.4M25.9 201.9 l0.8 1.7M17.4 207.5 l0.8 1.6M18.8 205.7 l1.4 2.9M27.6 205.3 l0.8 1.6M18.5 207.8 l3.4 -1.6M19.8 206.5 l1.5 3.0M24.6 205.4 l2.8 -1.4M22.3 205.2 l3.5 -1.7M20.1 205.0 l2.2 -1.1M17.5 207.8 l0.7 1.5M19.1 210.6 l2.3 -1.1M22.1 204.0 l1.7 -0.8M26.3 202.7 l1.2 2.4M26.2 203.7 l1.5 3.1M24.8 202.9 l1.1 2.3M17.7 208.2 l1.0 2.0M25.8 203.3 l1.1 2.4M32.7 198.8 l2.6 -1.3M30.8 200.5 l1.0 2.1M39.4 197.2 l3.4 -1.7M36.2 197.1 l3.2 -1.5M41.0 197.2 l0.9 1.9M32.4 198.9 l1.3 2.7M41.7 195.0 l1.2 2.6M30.6 200.0 l0.8 1.5M38.8 195.8 l1.9 -0.9M33.0 198.8 l1.7 3.5M42.4 194.0 l1.6 3.3M43.7 196.8 l0.9 1.8M33.6 200.6 l1.0 2.1M30.5 199.9 l1.3 2.7M42.0 195.6 l1.1 2.3M40.8 194.6 l1.5 3.1M39.8 200.9 l3.2 -1.6M40.0 196.1 l1.4 -0.7M34.5 203.5 l2.2 -1.1M52.6 189.6 l3.3 -1.6M57.8 187.5 l1.6 3.3M50.3 195.8 l2.9 -1.4M49.3 191.0 l1.6 3.3M47.6 193.3 l1.1 2.3M54.9 188.0 l2.9 -1.4M51.1 189.8 l3.3 -1.6M48.4 191.2 l1.8 -0.9M52.9 188.9 l2.9 -1.4M58.0 189.0 l1.0 2.0M57.4 186.7 l1.0 2.1M58.2 188.3 l0.8 1.7M51.1 192.3 l1.6 -0.8M48.9 196.5 l2.9 -1.4M49.9 190.4 l1.8 -0.9M54.0 188.4 l1.4 -0.7M50.2 192.5 l1.1 2.2M73.3 184.6 l2.4 -1.2M65.0 183.0 l2.0 -1.0M66.4 182.3 l2.6 -1.3M72.1 180.7 l1.0 2.0M73.4 179.3 l1.2 2.5M69.8 185.2 l2.2 -1.1M66.3 188.0 l1.7 -0.8M73.8 180.0 l1.5 3.2M71.7 180.9 l1.5 3.2M62.6 186.0 l1.7 3.4M63.7 186.9 l1.9 -0.9M73.3 179.0 l0.8 1.6M64.9 183.1 l1.7 -0.8M62.8 186.4 l0.9 1.8M66.9 187.7 l3.1 -1.5M66.4 187.9 l2.4 -1.1M66.5 182.3 l1.6 -0.8M61.6 184.7 l2.3 -1.1M65.1 183.0 l1.8 -0.9M-6.9 232.5 l2.1 -1.0M-5.7 233.7 l1.6 -0.8M-2.2 232.0 l2.2 -1.1M-7.0 231.7 l1.0 2.0M-8.3 231.7 l1.2 2.4M-8.9 230.5 l1.3 2.7M-4.0 227.8 l3.3 -1.6M-3.4 227.5 l3.6 -1.7M0.8 227.3 l1.4 2.9M-9.0 230.3 l1.6 3.2M-2.5 231.0 l1.8 -0.9M-8.3 230.9 l3.2 -1.5M-3.7 229.8 l3.6 -1.7M-8.4 230.0 l1.7 -0.8M-2.2 232.0 l2.5 -1.2M-1.4 231.6 l1.9 -0.9M14.2 221.0 l1.3 2.6M13.0 224.6 l2.2 -1.1M11.5 225.3 l3.3 -1.6M13.7 219.9 l1.3 2.7M13.7 220.0 l1.7 3.4M4.9 224.3 l0.8 1.5M11.8 223.7 l2.1 -1.0M12.7 224.7 l2.4 -1.2M9.1 226.5 l3.6 -1.7M13.4 219.4 l1.4 2.9M12.3 222.4 l0.9 1.8M13.3 219.5 l1.5 3.0M13.8 220.2 l1.2 2.4M8.8 226.6 l2.8 -1.4M5.8 226.0 l0.8 1.6M6.4 222.8 l3.2 -1.6M14.1 220.9 l1.1 2.2M19.6 219.4 l0.8 1.7M19.3 216.5 l3.5 -1.7M19.5 218.8 l2.7 -1.3M25.5 213.6 l1.0 2.2M23.6 215.0 l1.2 2.4M18.1 217.5 l1.3 2.7M21.7 215.3 l3.4 -1.6M18.5 216.8 l2.4 -1.2M23.3 219.6 l1.8 -0.9M23.7 214.3 l1.9 -0.9M18.7 218.1 l1.6 3.2M18.2 217.0 l3.3 -1.6M26.2 215.5 l1.0 2.0M18.6 216.8 l2.8 -1.4M20.0 218.4 l0.8 1.7M25.0 215.3 l1.4 2.8M34.2 211.2 l2.8 -1.4M30.8 213.1 l0.8 1.7M30.9 210.8 l1.8 -0.9M30.3 212.0 l1.5 3.0M30.5 211.0 l2.0 -1.0M30.4 211.1 l2.4 -1.2M37.0 208.0 l0.8 1.6M33.0 214.8 l3.0 -1.5M30.9 210.8 l2.9 -1.4M37.6 209.2 l1.3 2.7M37.2 208.5 l1.2 2.5M30.1 211.2 l2.7 -1.3M34.2 209.2 l2.1 -1.0M37.7 209.4 l1.3 2.7M36.9 212.7 l2.2 -1.1M47.1 202.9 l2.9 -1.4M57.8 198.0 l3.3 -1.6M44.9 207.8 l2.1 -1.0M61.7 196.7 l1.4 2.8M61.2 195.8 l1.1 2.2M55.6 203.8 l1.5 -0.7M53.7 204.7 l3.6 -1.8M55.7 203.8 l2.4 -1.2M42.4 207.7 l1.0 2.0M41.9 206.6 l1.1 2.3M42.2 207.3 l0.8 1.6M48.9 202.0 l3.2 -1.6M49.5 205.5 l1.5 -0.7M61.8 198.9 l0.9 1.8M42.1 207.0 l1.4 3.0M46.7 203.3 l3.5 -1.7M53.4 204.9 l2.1 -1.0M50.9 201.1 l3.5 -1.7M50.9 204.3 l2.0 -1.0M41.6 206.1 l0.9 1.9M42.3 207.5 l1.1 2.2M62.4 198.3 l0.7 1.4M59.4 201.9 l2.2 -1.1M42.9 206.7 l1.4 2.8M80.6 190.0 l0.7 1.3M91.3 181.4 l0.7 1.5M91.6 182.1 l1.0 2.1M80.3 189.5 l1.0 2.1M91.4 181.6 l1.2 2.4M85.2 184.3 l1.4 -0.7M91.7 182.3 l1.4 2.8M80.3 189.5 l0.7 1.5M81.5 191.2 l2.8 -1.4M82.9 187.8 l2.2 -1.1M81.3 191.2 l3.2 -1.5M81.6 188.6 l0.9 1.9M85.9 184.0 l3.3 -1.6M91.0 186.5 l2.2 -1.1M79.6 188.0 l0.8 1.6M79.6 187.9 l1.7 3.5M85.4 184.2 l2.7 -1.3M81.1 188.5 l1.6 -0.8M80.6 186.6 l3.1 -1.5M-3.5 237.7 l1.4 2.9M-2.7 239.4 l0.9 1.8M0.4 241.5 l1.5 -0.7M8.5 237.5 l2.2 -1.1M5.0 234.0 l2.5 -1.2M4.2 234.4 l2.2 -1.1M2.4 240.5 l2.0 -1.0M9.6 232.8 l1.0 2.0M4.0 234.5 l3.5 -1.7M10.0 233.6 l1.1 2.3M-2.3 240.2 l1.0 2.0M9.2 232.1 l1.5 3.0M3.8 239.8 l2.9 -1.4M9.7 233.0 l1.6 3.3M9.4 237.1 l1.6 -0.8M-2.6 237.7 l2.8 -1.4M7.8 234.6 l1.4 2.9M5.2 239.2 l2.4 -1.1M2.4 240.5 l3.4 -1.7M43.0 220.7 l2.1 -1.0M54.8 211.1 l1.3 2.7M54.3 209.9 l1.1 2.3M41.2 221.5 l2.3 -1.1M46.4 219.0 l2.9 -1.4M28.5 227.8 l2.4 -1.2M39.6 217.2 l1.9 -0.9M22.5 225.5 l2.2 -1.1M54.3 213.3 l1.5 -0.7M45.7 214.2 l1.8 -0.9M20.4 226.5 l3.5 -1.7M23.3 230.3 l3.3 -1.6M54.4 213.5 l0.7 1.4M47.3 218.6 l3.6 -1.7M14.5 231.3 l0.9 1.9M14.5 231.4 l0.8 1.6M38.6 217.8 l1.5 -0.7M13.6 229.5 l1.7 3.6M49.0 214.3 l1.8 -0.9M23.5 225.0 l1.4 -0.7M53.0 212.6 l1.2 2.5M44.9 217.0 l2.7 -1.3M32.0 220.9 l3.4 -1.7M15.8 228.8 l1.7 -0.8M54.8 211.0 l1.4 2.8M13.6 229.5 l1.1 2.2M14.4 231.1 l0.7 1.4M54.5 211.7 l1.5 3.1M36.3 218.8 l3.6 -1.7M13.8 229.8 l1.7 3.4M54.0 210.8 l0.7 1.5M39.2 222.6 l2.5 -1.2M37.5 218.2 l2.5 -1.2M15.8 228.4 l0.9 1.8M54.6 210.6 l1.5 3.1M34.0 225.1 l3.3 -1.6M53.9 215.4 l2.0 -1.0M51.3 214.3 l2.5 -1.2M54.1 209.6 l1.5 3.1M46.0 214.0 l1.5 -0.7M88.4 198.6 l2.0 -1.0M87.7 196.3 l1.1 2.2M88.6 198.5 l1.6 -0.8M90.5 192.3 l1.6 -0.8M90.0 197.8 l2.5 -1.2M89.2 193.0 l1.9 -0.9M88.0 193.6 l2.3 -1.1M88.5 193.3 l2.2 -1.1M93.3 191.1 l1.2 2.4M86.7 194.3 l1.1 2.2M89.1 193.0 l2.8 -1.3M92.9 191.9 l1.1 2.2M87.8 194.1 l3.2 -1.6M86.6 193.9 l0.7 1.5M90.6 195.7 l2.8 -1.4M100.1 191.9 l2.5 -1.2M104.3 190.8 l1.5 -0.7M98.0 189.4 l1.2 2.4M101.8 192.0 l3.0 -1.5M98.6 190.6 l0.7 1.5M104.6 185.8 l1.1 2.2M99.9 188.8 l1.0 2.0M105.1 186.7 l0.7 1.4M100.4 192.5 l1.6 -0.8M100.4 189.9 l0.7 1.4M105.2 186.9 l1.4 2.9M102.7 191.6 l2.1 -1.0M99.7 193.1 l3.0 -1.4M100.2 187.6 l3.6 -1.7M97.7 188.6 l1.6 3.3M-9.9 254.9 l0.7 1.4M-11.7 254.5 l1.2 2.4M-0.4 252.3 l2.3 -1.1M-11.4 255.2 l1.0 2.1M-12.4 253.1 l0.8 1.6M-2.7 248.6 l3.1 -1.5M-9.4 256.7 l2.9 -1.4M6.8 248.7 l1.8 -0.9M14.9 240.9 l0.9 1.9M1.3 251.4 l2.4 -1.2M8.0 243.3 l3.5 -1.7M-12.1 253.8 l0.7 1.4M13.7 240.4 l1.1 2.2M14.7 240.4 l1.0 2.1M14.7 240.4 l1.7 3.6M14.4 240.7 l1.2 2.5M15.1 241.2 l0.9 1.9M-10.4 257.2 l2.0 -1.0M7.3 243.7 l2.1 -1.0M-8.8 256.4 l2.8 -1.4M2.4 250.9 l1.6 -0.8M14.4 239.9 l0.8 1.6M-3.2 253.2 l3.3 -1.6M9.1 244.7 l3.3 -1.6M-9.2 254.4 l0.8 1.6M8.7 247.8 l2.4 -1.2M-9.3 254.1 l1.0 2.0M-9.2 251.7 l2.1 -1.0M-6.9 255.5 l2.0 -1.0M27.1 236.3 l0.8 1.7M26.5 235.0 l1.5 3.1M21.9 241.4 l1.7 -0.8M20.3 239.4 l3.5 -1.7M24.7 240.0 l1.5 -0.7M23.7 240.3 l3.4 -1.7M26.3 234.6 l0.9 1.9M21.6 241.5 l2.6 -1.3M19.9 240.1 l2.5 -1.2M20.5 239.0 l2.4 -1.2M19.5 238.8 l1.2 2.4M19.7 238.9 l2.9 -1.4M26.2 236.1 l1.2 2.5M22.3 241.2 l1.4 -0.7M24.7 234.8 l0.7 1.4M31.2 233.2 l1.4 2.9M34.3 232.2 l2.7 -1.3M43.4 227.6 l0.8 1.7M39.6 232.7 l2.5 -1.2M33.1 235.0 l2.1 -1.0M31.9 233.6 l1.2 2.5M30.6 232.1 l1.7 3.6M37.3 229.1 l2.1 -1.0M43.0 226.9 l0.9 1.9M34.9 230.2 l2.1 -1.0M33.1 231.1 l2.0 -1.0M42.8 226.5 l0.9 1.9M42.3 227.0 l1.7 3.4M41.3 231.9 l2.7 -1.3M42.6 226.1 l1.7 3.5M43.3 227.5 l1.4 2.9M38.3 233.4 l2.9 -1.4M41.9 229.7 l1.8 -0.9M30.6 232.3 l2.0 -1.0M54.5 221.0 l1.6 3.3M47.2 224.1 l1.6 3.2M49.4 223.2 l2.0 -1.0M51.4 225.2 l2.0 -1.0M49.7 225.8 l3.4 -1.7M48.5 223.6 l3.1 -1.5M51.5 227.0 l3.1 -1.5M49.2 223.3 l3.6 -1.7M47.5 224.6 l1.5 3.0M48.5 224.3 l2.1 -1.0M55.2 222.4 l1.2 2.5M47.5 225.1 l1.9 -0.9M47.8 225.3 l1.4 2.9M54.7 221.5 l1.1 2.2M51.9 226.7 l2.3 -1.1M85.9 206.2 l1.1 2.2M61.8 217.1 l2.1 -1.0M77.9 214.1 l2.4 -1.1M59.7 218.0 l1.5 3.0M61.7 217.2 l2.6 -1.2M82.0 209.1 l2.9 -1.4M59.0 218.8 l1.3 2.6M68.5 216.4 l2.9 -1.4M63.0 221.3 l2.9 -1.4M63.4 216.3 l2.6 -1.2M59.1 219.0 l1.7 3.5M81.2 210.2 l3.3 -1.6M59.0 218.9 l1.7 3.6M85.5 205.3 l1.4 2.8M79.8 208.3 l2.5 -1.2M83.8 206.9 l0.8 1.5M64.4 215.8 l1.8 -0.9M60.6 218.2 l1.5 3.1M85.6 205.7 l1.3 2.6M86.0 206.4 l1.0 2.1M72.6 211.8 l2.0 -1.0M85.5 205.3 l1.0 2.1M58.8 218.6 l2.5 -1.2M60.6 217.9 l2.2 -1.1M82.4 211.9 l1.4 -0.7M81.0 207.7 l3.4 -1.7M85.7 205.6 l1.6 3.3M70.8 212.7 l2.3 -1.1M64.1 220.8 l1.4 -0.7M90.4 204.0 l1.4 2.8M93.0 203.9 l2.3 -1.1M90.6 204.4 l0.9 1.9M99.7 200.3 l1.4 2.9M97.7 199.6 l1.4 -0.7M99.6 200.0 l1.4 2.8M98.5 204.0 l1.7 -0.8M99.7 200.3 l1.1 2.3M98.9 198.8 l1.7 3.4M91.1 205.5 l0.8 1.6M90.3 203.2 l3.3 -1.6M90.0 203.1 l1.5 3.0M96.5 205.0 l2.0 -1.0M91.2 205.6 l0.9 1.8M96.3 202.2 l1.8 -0.9M99.5 199.8 l0.9 1.9M90.1 203.4 l1.6 3.4M19.0 251.2 l0.7 1.5M18.7 250.6 l0.7 1.4M-7.9 262.4 l1.3 2.7M-8.3 261.6 l1.4 2.9M7.6 259.0 l2.8 -1.4M-6.8 264.5 l0.7 1.5M-4.1 263.7 l1.6 -0.8M17.2 249.0 l1.1 2.2M-8.0 262.2 l1.2 2.4M3.0 257.7 l1.6 -0.8M-8.0 262.2 l1.5 3.1M7.3 259.1 l2.3 -1.1M-6.7 262.3 l1.5 3.0M-8.2 261.7 l1.7 3.4M-7.3 263.6 l0.7 1.5M12.2 256.8 l3.0 -1.5M-3.4 261.7 l1.7 -0.8M3.5 261.0 l2.8 -1.4M-7.9 262.4 l1.0 2.0M-5.1 265.2 l3.5 -1.7M-0.5 257.9 l1.8 -0.9M-2.3 263.9 l1.8 -0.9M-7.7 261.4 l2.0 -1.0M-8.0 262.1 l1.5 3.1M18.4 250.0 l1.6 3.3M-4.2 259.7 l2.5 -1.2M-6.3 260.5 l1.6 3.3M-5.7 261.2 l1.2 2.5M-4.9 263.3 l2.8 -1.3M34.0 243.3 l1.0 2.1M28.3 243.8 l1.8 -0.9M28.9 248.6 l2.9 -1.4M33.3 241.8 l1.2 2.4M27.9 249.1 l2.9 -1.4M29.4 243.3 l2.5 -1.2M27.8 246.2 l3.2 -1.6M33.0 244.7 l0.7 1.4M23.0 248.1 l0.9 1.9M22.4 246.8 l1.6 3.2M22.7 247.4 l1.3 2.6M26.3 244.8 l2.6 -1.3M25.8 245.0 l2.3 -1.1M25.8 250.1 l3.0 -1.5M34.3 244.0 l0.7 1.4M23.1 246.4 l3.5 -1.7M32.3 242.4 l1.4 2.8M34.2 243.8 l0.9 1.9M41.2 242.6 l2.1 -1.0M38.3 240.7 l1.1 2.4M38.4 240.9 l1.0 2.1M49.8 235.6 l1.1 2.3M38.6 240.2 l1.6 -0.8M49.4 235.5 l1.1 2.3M49.7 235.2 l1.1 2.2M40.4 243.0 l2.6 -1.3M46.1 239.3 l3.6 -1.7M48.1 235.3 l1.6 -0.8M44.5 235.9 l1.9 -0.9M46.4 236.1 l2.9 -1.4M48.7 237.7 l1.6 -0.8M37.9 239.8 l0.7 1.5M37.8 239.7 l1.1 2.3M44.7 236.9 l3.3 -1.6M37.6 239.2 l1.7 3.5M41.2 239.0 l1.7 -0.8M61.0 230.6 l1.1 2.2M57.9 230.3 l1.2 2.5M54.9 232.1 l3.3 -1.6M60.5 229.7 l1.4 2.9M60.2 233.3 l1.5 -0.7M58.9 234.0 l2.8 -1.4M57.4 229.6 l1.8 -0.9M55.4 231.3 l1.4 2.9M59.9 228.7 l1.3 2.7M53.8 232.2 l1.6 3.3M58.4 229.1 l1.5 3.1M57.4 234.7 l2.2 -1.1M57.2 234.8 l2.9 -1.4M60.1 228.9 l1.5 3.0M60.1 228.9 l0.8 1.5M68.5 229.3 l3.2 -1.6M64.9 226.9 l1.7 3.5M70.9 222.8 l1.2 2.5M71.9 224.8 l1.2 2.4M65.0 225.9 l3.1 -1.5M70.0 225.5 l0.8 1.7M66.2 225.3 l2.7 -1.3M68.0 229.5 l3.0 -1.5M67.4 229.8 l3.5 -1.7M65.9 226.7 l1.4 2.9M65.5 225.7 l3.4 -1.7M67.5 229.8 l3.4 -1.7M69.4 228.8 l3.6 -1.7M66.4 227.4 l1.0 2.0M71.2 228.0 l1.7 -0.8M78.6 219.3 l2.4 -1.2M77.7 219.7 l3.2 -1.6M75.4 220.6 l1.1 2.3M78.4 219.4 l3.4 -1.7M82.1 218.1 l1.7 3.5M78.3 220.2 l3.5 -1.7M80.1 223.7 l3.5 -1.7M75.4 220.7 l1.5 3.2M81.7 217.6 l1.6 3.4M82.4 218.7 l1.2 2.5M75.8 220.4 l1.7 3.4M80.2 219.5 l1.6 3.3M77.1 224.7 l2.3 -1.1M78.8 219.2 l2.4 -1.2M80.1 223.7 l3.1 -1.5M87.1 217.1 l1.1 2.2M87.1 217.0 l1.4 2.8M87.1 217.0 l0.9 1.9M98.1 209.9 l1.3 2.6M89.7 215.9 l2.4 -1.2M99.3 211.5 l0.8 1.7M93.4 217.2 l2.3 -1.1M94.0 216.9 l2.2 -1.1M94.9 214.8 l2.5 -1.2M90.0 218.8 l2.7 -1.3M95.8 212.6 l2.0 -1.0M98.7 210.3 l1.4 2.9M90.2 218.7 l1.8 -0.9M98.8 210.5 l1.1 2.4M87.6 214.6 l0.8 1.6M91.8 216.2 l1.6 -0.8M86.9 216.7 l1.3 2.8M98.4 209.7 l1.4 2.8M103.0 207.4 l3.3 -1.6M105.5 206.2 l1.4 -0.7M103.0 207.7 l0.9 1.8M106.1 210.9 l3.1 -1.5M110.0 205.7 l1.0 2.0M107.8 206.1 l2.2 -1.1M109.5 204.6 l1.6 3.4M104.3 207.8 l1.2 2.6M109.8 205.3 l1.2 2.4M109.3 204.3 l0.8 1.7M106.5 210.7 l3.4 -1.6M105.7 211.1 l1.8 -0.9M105.2 207.4 l2.0 -1.0M110.0 205.6 l1.2 2.5M71.1 233.6 l1.8 -0.9M72.9 235.5 l1.3 2.6M74.2 234.0 l1.5 3.0M70.8 233.7 l2.6 -1.3M75.2 233.3 l1.6 3.2M73.5 238.3 l2.4 -1.2M74.2 235.8 l1.9 -0.9M72.6 233.2 l1.8 -0.9M69.3 234.5 l2.7 -1.3M68.6 236.1 l3.5 -1.7M73.5 237.5 l2.0 -1.0M69.4 235.2 l2.1 -1.0M71.3 233.5 l3.4 -1.6M74.5 232.0 l0.7 1.5M73.0 238.4 l3.0 -1.4M79.0 229.8 l1.1 2.2M83.3 233.6 l2.2 -1.1M89.0 228.1 l2.9 -1.4M82.8 233.8 l2.4 -1.2M90.1 224.3 l2.1 -1.0M100.0 222.8 l1.1 2.3M98.6 219.9 l1.6 3.2M91.2 223.8 l2.4 -1.2M88.2 228.6 l1.5 -0.7M79.4 229.5 l3.1 -1.5M86.6 226.0 l1.9 -0.9M80.2 229.1 l2.0 -1.0M79.3 230.3 l1.6 3.3M92.8 223.8 l2.1 -1.0M99.6 221.8 l1.4 3.0M98.7 220.1 l1.4 2.9M79.5 230.9 l1.2 2.4M85.9 232.3 l3.1 -1.5M99.0 220.6 l1.6 3.2M81.2 229.9 l1.6 3.2M99.2 222.4 l1.1 2.2M98.6 219.9 l1.0 2.0M79.8 231.4 l1.4 2.9M100.3 223.3 l0.7 1.5M85.0 227.1 l3.4 -1.7M109.5 220.8 l2.0 -1.0M118.2 212.6 l1.7 -0.8M131.4 206.5 l1.4 2.9M104.0 219.6 l1.0 2.0M127.3 208.9 l3.1 -1.5M128.1 206.9 l1.3 2.7M110.6 214.4 l2.5 -1.2M110.2 220.4 l1.8 -0.9M129.8 205.0 l1.7 3.5M127.0 212.2 l1.4 -0.7M115.9 217.7 l2.0 -1.0M110.8 214.2 l1.7 -0.9M119.6 215.9 l2.2 -1.1M131.3 206.4 l1.2 2.5M120.4 209.6 l1.9 -0.9M116.3 217.4 l1.5 -0.7M126.4 206.6 l1.8 -0.9M104.6 220.7 l0.7 1.4M131.8 207.4 l0.8 1.7M124.7 213.3 l3.2 -1.5M103.8 219.0 l1.7 3.4M112.9 215.4 l2.4 -1.1M131.2 206.2 l0.9 1.9M114.8 212.3 l3.1 -1.5M116.8 217.2 l2.3 -1.1M129.6 211.0 l3.3 -1.6M104.2 219.9 l1.4 2.9M105.6 217.7 l1.4 2.8M114.8 212.3 l3.3 -1.6M113.6 218.8 l2.7 -1.3M107.8 227.4 l1.1 2.2M118.2 222.0 l0.7 1.5M107.7 227.2 l1.3 2.6M118.3 222.2 l1.1 2.2M107.8 227.3 l1.3 2.7M109.3 226.1 l1.1 2.2M107.7 227.2 l1.7 3.5M111.8 225.2 l2.8 -1.4M109.9 226.1 l2.9 -1.4M108.4 228.7 l0.8 1.6M118.8 223.2 l1.1 2.2M107.8 227.4 l1.4 2.9M112.4 224.9 l3.2 -1.6M118.5 222.6 l1.3 2.6M117.9 222.1 l1.5 3.2M111.2 225.5 l2.2 -1.1M108.1 228.1 l1.1 2.2" stroke="#a6a6a6" stroke-width="1.6" fill="none"/>
<path clip-path="url(#c4)" d="M63.6 151.3 L76.4 143.9 L80.5 151.1 L67.7 158.4ZM67.1 161.3 L77.0 155.6 L80.9 162.3 L71.0 168.1ZM78.9 154.5 L91.3 147.3 L95.2 154.1 L82.8 161.2ZM73.3 169.3 L82.7 163.8 L86.6 170.6 L77.2 176.1ZM84.6 162.7 L106.7 150.0 L110.6 156.8 L88.5 169.5ZM87.2 172.8 L96.7 167.3 L100.6 174.1 L91.1 179.6ZM98.6 166.2 L111.9 158.5 L115.9 165.3 L102.5 173.0ZM87.7 184.1 L109.3 171.7 L111.6 175.8 L90.1 188.2ZM111.2 170.6 L124.2 163.1 L126.6 167.2 L113.5 174.7ZM88.9 191.5 L101.2 184.4 L105.4 191.7 L93.1 198.8ZM103.1 183.3 L126.3 169.8 L130.6 177.2 L107.3 190.6ZM81.6 207.9 L104.1 195.0 L107.5 200.9 L85.1 213.9ZM106.0 193.9 L116.7 187.7 L120.2 193.6 L109.4 199.8ZM118.7 186.6 L128.2 181.1 L131.6 187.0 L122.1 192.5ZM102.3 206.4 L112.4 200.6 L116.7 207.9 L106.5 213.8ZM114.3 199.5 L148.7 179.7 L152.9 187.0 L118.6 206.8ZM112.9 212.7 L137.6 198.4 L140.1 202.7 L115.4 217.0ZM139.5 197.3 L149.1 191.8 L151.6 196.1 L142.0 201.6ZM115.3 219.6 L147.0 201.3 L149.6 205.8 L117.9 224.1ZM122.6 223.9 L147.5 209.5 L151.3 216.1 L126.4 230.5ZM149.4 208.4 L159.0 202.9 L162.8 209.5 L153.2 215.0ZM145.3 222.2 L155.9 216.0 L158.6 220.7 L148.0 226.8ZM157.8 214.9 L169.9 208.0 L172.6 212.7 L160.5 219.6Z" stroke="#a6a6a6" stroke-width="1.1" fill="none"/>
<path clip-path="url(#c4)" d="M68.7 156.2 l1.4 -0.8M74.8 149.3 l2.0 -1.2M66.4 151.3 l3.1 -1.8M70.1 151.8 l2.0 -1.1M73.6 147.2 l2.5 -1.4M65.3 152.0 l2.1 -1.2M76.2 146.5 l1.6 2.9M68.3 150.2 l2.8 -1.6M67.6 151.9 l1.4 2.5M76.0 148.0 l1.4 2.4M76.6 147.6 l1.8 3.1M74.8 149.4 l1.3 2.3M68.5 150.1 l1.6 -0.9M65.7 152.0 l1.5 2.5M77.2 148.2 l1.5 2.6M69.3 153.9 l1.3 -0.8M67.2 150.8 l2.9 -1.7M66.6 151.2 l1.4 -0.8M76.4 157.2 l1.5 2.6M77.3 158.9 l1.6 2.8M75.4 159.6 l0.8 1.4M69.4 162.5 l1.5 2.6M69.9 163.2 l1.1 1.8M74.4 158.7 l1.3 -0.8M76.8 163.1 l1.9 -1.1M76.8 157.9 l1.9 3.3M75.3 159.4 l1.2 2.1M77.2 158.7 l1.8 3.2M70.5 160.9 l2.5 -1.4M74.9 164.2 l1.5 -0.9M74.6 159.4 l1.5 -0.9M75.7 158.5 l1.3 2.2M69.4 162.5 l1.8 3.2M69.6 161.5 l2.3 -1.3M83.1 155.1 l1.6 2.8M82.6 154.2 l1.2 2.1M90.2 155.4 l1.6 -0.9M83.1 159.5 l1.8 -1.1M86.7 151.6 l3.1 -1.8M91.3 150.1 l1.9 3.4M82.0 157.0 l1.0 1.7M82.2 157.4 l0.8 1.3M90.2 150.7 l1.3 2.3M90.9 149.3 l1.0 1.8M86.4 154.9 l2.0 -1.1M85.4 158.2 l2.4 -1.4M91.0 149.5 l1.7 3.0M80.7 154.7 l1.6 2.8M89.8 155.6 l1.6 -0.9M89.8 150.1 l1.7 2.9M91.1 154.8 l1.8 -1.0M83.3 168.4 l0.9 1.5M76.2 170.5 l2.5 -1.4M75.4 169.3 l1.8 3.1M75.1 169.8 l2.6 -1.5M75.9 171.0 l1.9 3.2M76.2 171.3 l1.8 3.0M83.4 167.8 l1.1 2.0M83.6 168.1 l0.8 1.4M82.6 166.4 l0.8 1.4M83.7 168.3 l1.2 2.1M76.3 171.8 l0.9 1.5M75.7 170.8 l1.5 2.6M76.6 169.0 l1.8 -1.0M75.1 169.7 l1.3 2.2M79.7 167.2 l1.9 -1.1M103.6 153.4 l1.8 -1.0M106.3 152.2 l1.4 2.5M98.6 156.3 l3.0 -1.7M106.0 151.6 l2.0 3.4M97.9 160.8 l1.9 -1.1M106.3 152.2 l1.5 2.6M87.2 164.4 l1.9 3.2M104.5 153.6 l1.5 2.6M105.0 158.4 l2.4 -1.4M86.9 163.9 l1.8 3.2M86.9 162.9 l1.8 3.2M89.0 167.6 l1.8 -1.0M106.0 151.6 l1.9 3.3M88.0 164.9 l1.5 2.5M86.5 163.3 l1.4 -0.8M88.4 162.4 l1.8 3.1M103.3 153.6 l2.5 -1.5M86.7 163.5 l0.9 1.6M95.1 164.1 l1.4 -0.8M91.3 160.5 l2.4 -1.4M103.4 159.3 l2.2 -1.3M86.4 163.1 l0.9 1.6M90.6 163.5 l2.1 -1.2M91.3 166.3 l1.9 -1.1M93.0 160.4 l2.6 -1.5M95.1 175.7 l3.4 -2.0M96.6 170.0 l1.6 2.8M93.2 176.8 l2.3 -1.3M89.7 173.4 l1.5 2.5M90.0 174.9 l1.7 3.0M96.5 169.8 l1.3 2.3M96.1 170.3 l1.6 2.7M93.7 176.5 l1.5 -0.9M92.4 171.4 l3.2 -1.8M91.1 172.2 l1.6 -0.9M94.3 176.2 l1.9 -1.1M94.1 171.0 l1.6 2.8M90.8 176.1 l1.9 -1.1M94.0 170.5 l1.7 -1.0M90.6 174.1 l1.6 -0.9M102.5 166.0 l1.8 3.2M100.8 167.3 l1.6 2.8M103.0 171.2 l2.0 -1.2M109.7 167.3 l3.0 -1.8M111.7 160.8 l0.8 1.5M111.7 160.9 l1.9 3.3M107.5 168.5 l1.7 -1.0M100.7 166.6 l2.8 -1.6M102.3 165.7 l2.4 -1.4M111.1 164.5 l2.0 -1.2M104.0 170.6 l3.0 -1.7M107.4 162.8 l3.4 -2.0M100.6 167.3 l3.1 -1.8M101.3 166.3 l2.6 -1.5M112.8 162.8 l1.2 2.1M102.8 171.3 l3.3 -1.9M109.3 167.5 l1.6 -0.9M102.1 166.1 l1.0 1.7M111.7 160.8 l1.0 1.8M108.6 173.3 l1.7 2.9M108.6 173.4 l1.2 2.1M108.2 173.7 l1.0 1.8M104.4 178.4 l3.4 -2.0M108.6 173.3 l1.8 3.0M94.3 184.2 l1.6 -0.9M102.1 178.6 l3.0 -1.7M102.5 177.7 l2.4 -1.4M96.1 180.9 l1.7 -1.0M95.8 181.1 l2.7 -1.5M108.3 173.4 l1.4 2.5M108.6 173.3 l2.0 3.4M105.4 175.5 l3.4 -2.0M90.0 184.1 l1.0 1.7M108.8 173.6 l1.1 1.9M90.2 183.9 l1.8 3.2M108.6 173.3 l1.2 2.2M107.6 173.8 l0.9 1.6M90.3 184.1 l1.1 1.8M106.2 175.1 l2.6 -1.5M102.3 179.6 l1.8 -1.1M107.6 173.8 l1.7 2.9M115.2 172.1 l2.2 -1.3M113.0 171.0 l1.2 2.0M114.0 172.7 l1.8 -1.0M118.6 170.1 l2.5 -1.4M114.4 170.3 l3.1 -1.8M122.0 168.2 l2.4 -1.4M113.8 171.8 l2.3 -1.3M123.5 164.7 l1.3 2.3M113.2 171.3 l0.9 1.5M113.0 170.9 l1.1 1.9M121.9 166.0 l1.7 -1.0M115.5 169.7 l2.6 -1.5M113.6 170.5 l1.2 2.1M112.9 170.8 l1.9 3.3M119.3 169.7 l2.1 -1.2M114.6 172.5 l1.9 -1.1M91.2 192.7 l1.4 2.4M96.6 195.1 l2.2 -1.3M102.1 188.8 l1.0 1.7M91.7 192.2 l0.8 1.4M91.9 193.9 l1.2 2.1M90.7 191.7 l1.9 3.3M91.9 194.0 l1.8 3.1M93.4 197.0 l2.7 -1.6M92.9 191.0 l2.3 -1.3M92.3 190.9 l1.6 2.8M97.5 194.6 l2.7 -1.6M101.4 187.5 l1.0 1.8M96.9 188.4 l1.9 -1.1M93.2 193.8 l2.3 -1.3M91.8 193.8 l1.7 2.9M92.0 191.2 l1.0 1.8M91.7 193.7 l1.7 2.9M92.8 193.1 l1.8 3.2M106.4 183.0 l1.0 1.7M126.0 172.0 l1.5 2.5M115.2 184.4 l2.5 -1.5M106.5 186.3 l1.3 2.2M115.5 184.2 l1.7 -1.0M126.6 173.2 l1.6 2.8M108.2 186.0 l2.9 -1.7M108.5 185.5 l2.6 -1.5M121.1 174.5 l2.8 -1.6M107.3 184.6 l1.7 2.9M123.1 176.4 l2.6 -1.5M126.0 172.0 l1.8 3.1M125.7 171.6 l1.9 3.2M117.5 176.5 l1.9 -1.1M127.3 174.2 l0.8 1.3M112.1 179.7 l2.2 -1.3M105.5 184.6 l1.8 3.1M117.9 179.7 l1.5 -0.9M105.8 185.2 l1.8 3.1M118.5 175.9 l2.0 -1.1M118.8 178.2 l1.4 -0.8M107.3 182.1 l1.1 1.9M109.2 181.3 l1.9 -1.1M127.9 175.3 l0.8 1.5M113.9 179.0 l3.3 -1.9M121.9 174.0 l2.8 -1.6M105.4 184.5 l1.4 2.4M90.1 204.7 l2.4 -1.4M103.6 197.0 l1.7 3.0M89.3 207.1 l3.4 -2.0M83.5 208.4 l1.8 3.1M88.0 210.5 l2.6 -1.5M95.3 206.3 l2.2 -1.3M101.2 202.7 l2.4 -1.4M88.1 208.0 l1.6 -0.9M84.7 207.4 l1.4 2.5M84.2 209.5 l1.2 2.1M104.3 198.4 l1.4 2.4M104.0 197.7 l0.9 1.5M103.1 201.8 l1.6 -0.9M95.4 201.6 l3.0 -1.7M83.4 208.2 l1.1 2.0M104.5 198.5 l1.2 2.1M104.5 198.5 l1.3 2.2M84.0 209.2 l1.7 2.9M94.4 206.8 l1.9 -1.1M98.1 202.1 l2.3 -1.3M102.3 197.5 l1.6 2.8M91.6 203.8 l2.9 -1.7M103.7 197.1 l1.2 2.1M103.4 196.7 l1.6 2.7M85.2 210.0 l2.0 -1.2M107.9 194.4 l2.1 -1.2M108.8 196.0 l0.9 1.5M108.0 194.2 l1.7 3.0M114.0 195.5 l3.3 -1.9M112.2 195.8 l1.9 -1.1M109.4 193.5 l2.6 -1.5M116.7 190.4 l0.9 1.6M116.6 190.3 l1.0 1.7M108.2 194.9 l1.8 3.2M107.9 194.4 l2.5 -1.4M116.5 190.0 l1.2 2.1M116.8 190.6 l0.9 1.6M112.9 196.2 l2.4 -1.4M115.1 191.2 l1.5 2.6M113.2 191.3 l1.8 -1.0M112.7 196.3 l1.7 -1.0M121.1 188.0 l1.2 2.0M127.8 183.2 l1.9 3.2M128.6 184.5 l1.3 2.2M120.5 187.0 l1.9 3.3M120.5 187.1 l2.9 -1.7M125.3 187.1 l3.3 -1.9M128.0 183.5 l1.9 3.2M121.6 188.8 l1.2 2.1M128.4 184.2 l1.1 2.0M125.4 189.0 l2.8 -1.6M128.8 184.9 l1.1 1.9M125.6 188.7 l3.3 -1.9M121.3 186.7 l1.6 -0.9M124.5 188.9 l1.7 -1.0M121.5 188.6 l1.1 1.8M106.1 206.3 l1.3 2.2M106.9 206.3 l1.7 3.0M105.6 209.4 l1.0 1.8M105.1 208.4 l1.8 3.0M107.4 210.7 l3.1 -1.8M111.5 209.3 l3.0 -1.7M109.1 204.7 l2.1 -1.2M112.0 202.6 l1.7 2.9M110.3 207.5 l2.4 -1.4M112.8 204.0 l1.7 2.9M105.8 209.0 l2.0 -1.1M105.3 208.9 l1.4 2.4M106.9 206.6 l1.0 1.7M113.9 206.0 l1.0 1.7M109.1 210.7 l2.2 -1.3M113.1 204.6 l0.9 1.6M149.0 183.0 l1.7 2.9M138.9 193.5 l1.9 -1.1M117.6 202.5 l1.0 1.8M148.3 184.1 l1.4 2.4M137.8 187.6 l1.4 -0.8M123.0 202.7 l1.9 -1.1M139.5 186.6 l3.2 -1.9M116.5 200.5 l1.3 2.2M148.1 185.7 l1.2 2.0M117.8 199.1 l2.2 -1.3M117.0 201.3 l1.8 3.1M147.6 181.5 l1.6 2.8M147.1 184.9 l2.6 -1.5M121.7 200.1 l2.0 -1.1M127.4 198.0 l2.3 -1.3M148.5 188.0 l1.4 -0.8M139.0 186.9 l2.9 -1.7M149.4 183.7 l0.9 1.6M132.9 196.9 l3.4 -2.0M144.5 190.3 l1.4 -0.8M140.0 191.3 l1.8 -1.0M116.6 200.6 l1.0 1.7M148.4 181.9 l1.8 3.0M139.4 188.7 l2.5 -1.4M148.4 181.9 l1.1 1.9M122.0 203.3 l2.6 -1.5M126.6 199.4 l1.7 -1.0M140.7 192.4 l2.4 -1.4M149.7 184.1 l1.5 2.7M116.8 201.0 l1.1 1.8M148.4 181.9 l1.7 2.9M120.9 203.1 l3.0 -1.7M132.9 193.8 l1.6 -0.9M133.6 190.0 l3.1 -1.8M118.5 202.1 l1.1 1.9M114.7 213.0 l1.4 2.4M123.5 208.1 l2.9 -1.7M114.7 212.9 l1.1 1.9M136.3 200.7 l1.2 2.0M129.6 204.6 l3.1 -1.8M136.9 200.0 l1.5 2.6M114.7 212.8 l1.5 2.6M133.3 204.1 l3.1 -1.8M130.8 203.9 l2.6 -1.5M136.8 200.4 l1.2 2.1M124.8 207.4 l2.5 -1.5M120.9 212.3 l3.4 -2.0M136.9 200.0 l1.8 3.0M130.8 203.9 l2.5 -1.4M135.5 203.8 l1.4 -0.8M128.3 207.9 l2.3 -1.3M130.1 204.4 l3.3 -1.9M136.1 200.7 l1.0 1.8M136.9 200.0 l2.0 3.4M115.6 212.4 l1.3 2.2M136.4 200.2 l1.8 3.1M125.0 207.3 l1.8 -1.0M136.9 200.0 l1.3 2.3M119.3 211.6 l2.6 -1.5M114.7 212.9 l1.2 2.0M143.4 196.7 l2.3 -1.3M142.9 197.5 l1.1 1.9M142.9 199.5 l1.8 -1.1M147.3 197.0 l2.0 -1.2M148.4 193.5 l1.0 1.8M147.3 193.9 l1.7 2.9M148.8 194.0 l1.1 1.9M145.5 195.5 l2.0 -1.1M144.8 198.4 l3.4 -2.0M148.4 193.3 l1.9 3.3M145.7 197.9 l2.0 -1.2M143.8 197.0 l3.1 -1.8M141.2 197.5 l1.5 2.6M143.2 199.4 l2.6 -1.5M117.2 220.0 l1.3 2.2M120.7 220.9 l3.2 -1.8M146.3 202.9 l1.6 2.8M137.9 208.2 l2.1 -1.2M146.8 203.8 l1.0 1.7M121.1 220.6 l2.8 -1.6M140.7 209.3 l1.9 -1.1M118.2 219.1 l1.4 2.4M146.0 203.1 l1.6 2.7M130.0 215.1 l3.4 -2.0M117.0 219.8 l1.8 3.2M145.7 206.5 l1.5 -0.9M117.7 219.7 l1.4 2.5M117.0 219.8 l1.9 3.2M130.3 212.5 l2.5 -1.4M117.1 219.9 l1.5 2.6M137.9 210.9 l1.7 -1.0M117.0 219.8 l1.8 3.2M123.8 217.6 l1.4 -0.8M125.5 218.1 l2.5 -1.4M117.4 220.4 l0.8 1.4M146.5 203.1 l1.0 1.8M133.8 210.7 l3.1 -1.8M117.7 219.4 l1.8 3.1M139.3 208.4 l3.1 -1.8M117.1 219.9 l1.2 2.1M117.1 219.9 l1.3 2.3M117.0 219.8 l1.8 3.1M117.1 219.7 l1.8 3.1M129.4 215.8 l1.8 -1.0M147.5 212.4 l1.7 3.0M134.9 224.0 l2.1 -1.2M124.9 224.9 l1.8 3.1M138.9 216.1 l1.9 -1.1M136.3 223.2 l1.4 -0.8M131.2 224.3 l3.0 -1.7M141.0 214.9 l3.0 -1.8M129.4 227.2 l3.2 -1.8M143.5 219.1 l2.5 -1.4M144.9 212.4 l1.1 2.0M147.5 212.3 l1.9 3.3M129.1 227.3 l1.9 -1.1M146.8 211.2 l0.9 1.6M125.6 226.4 l1.0 1.7M125.5 226.1 l1.1 2.0M125.4 226.0 l0.9 1.6M131.5 226.0 l2.7 -1.6M126.2 227.4 l0.8 1.4M136.2 223.3 l1.4 -0.8M127.1 223.8 l1.9 3.3M129.9 226.9 l1.4 -0.8M147.8 212.8 l1.4 2.4M147.3 216.8 l1.3 -0.8M126.4 225.6 l1.1 1.8M147.5 212.3 l1.6 2.8M138.7 220.3 l3.0 -1.7M142.6 219.5 l2.8 -1.6M152.1 208.5 l1.6 -0.9M153.7 212.8 l2.7 -1.6M157.3 209.9 l2.0 -1.2M152.9 209.4 l3.1 -1.8M151.1 208.6 l1.7 2.9M157.0 211.3 l2.3 -1.3M157.1 207.2 l1.7 2.9M158.5 205.0 l1.0 1.7M154.3 207.2 l1.6 -0.9M157.7 206.7 l1.3 2.3M153.5 210.2 l2.2 -1.3M154.5 207.1 l1.3 -0.8M158.5 210.2 l2.3 -1.3M153.3 210.8 l1.3 2.2M155.9 211.9 l2.4 -1.4M156.8 206.2 l1.7 -1.0M148.5 224.9 l1.5 -0.9M155.1 218.0 l1.5 2.6M152.4 219.7 l2.6 -1.5M150.4 221.4 l2.3 -1.3M154.6 218.8 l1.2 2.1M154.2 218.5 l1.2 2.1M156.0 218.9 l0.8 1.4M149.8 224.2 l2.3 -1.3M147.2 222.6 l1.0 1.7M155.5 218.1 l1.3 2.3M156.0 219.0 l0.9 1.5M153.1 219.3 l2.2 -1.2M147.0 222.3 l1.8 3.1M153.1 222.3 l2.0 -1.1M168.5 213.2 l2.2 -1.3M162.7 216.0 l3.0 -1.7M161.7 217.3 l2.1 -1.2M159.6 215.2 l1.1 1.9M169.1 209.5 l1.8 3.1M160.1 216.1 l0.9 1.5M166.1 214.8 l3.4 -2.0M165.3 215.2 l2.7 -1.6M160.7 217.9 l3.0 -1.7M159.6 215.5 l3.0 -1.7M168.5 213.4 l1.9 -1.1M161.8 214.3 l3.3 -1.9M169.1 209.5 l1.9 3.3M161.1 216.1 l1.8 -1.0M159.6 215.1 l1.7 2.9" stroke="#a6a6a6" stroke-width="1.6" fill="none"/>
<path clip-path="url(#c5)" d="M-43.4 73.2L4.6 55.9M4.6 55.9L50.6 39.2M-32.0 104.9L16.7 86.7M-7.2 103.7L29.6 89.2M29.6 89.2L72.6 72.3M-21.4 134.7L25.9 118.1M25.9 118.1L56.8 107.2M-19.2 139.8L25.4 123.4M25.4 123.4L58.5 111.2M13.7 69.1L24.0 100.7M24.0 100.7L36.3 138.2M-11.1 44.5L1.8 78.2M1.8 78.2L8.8 96.6M18.7 122.3L32.1 157.7M-6.9 106.3L3.1 132.4M3.1 132.4L9.0 147.8" stroke="#a6a6a6" stroke-width="0.9" fill="none"/>
<path clip-path="url(#c5)" d="M-1.1 77.5L46.8 58.8M-11.4 87.7L26.2 73.2M26.2 73.2L48.9 64.4M-26.2 120.1L19.7 101.6M19.7 101.6L64.5 83.5M-23.7 127.5L11.7 114.6M11.7 114.6L52.7 99.6M13.7 35.1L23.5 61.6M23.5 61.6L38.3 101.9M38.3 101.9L48.1 128.4M6.3 37.9L14.0 58.5M14.0 58.5L20.9 77.1M20.9 77.1L30.0 101.4M30.0 101.4L45.5 143.2M4.7 105.1L11.9 126.1M11.9 126.1L20.7 151.7" stroke="#a6a6a6" stroke-width="1.5" fill="none"/>
<path clip-path="url(#c5)" d="M-7.2 67.9L30.8 54.8" stroke="#a6a6a6" stroke-width="2.2" fill="none"/>
<path clip-path="url(#c5)" d="M25.6 77.2l1.4 4.0M33.1 106.6l2.3 -0.8M16.9 117.1l1.2 3.2M14.3 77.5l3.4 -1.3M5.8 99.6l1.5 4.0M10.9 66.7l1.5 -0.5M8.1 120.2l1.4 3.8M37.2 81.3l2.5 -0.9M21.0 106.2l2.7 -1.0M19.6 60.3l0.9 2.4M0.2 111.7l4.1 -1.5M6.9 77.7l1.4 -0.5M17.8 84.2l1.2 3.4M20.8 91.3l2.6 -0.9M16.3 82.2l1.4 4.0M41.1 89.2l4.0 -1.5M5.6 74.6l0.8 2.3M42.2 90.8l1.0 2.7M6.8 100.7l1.4 3.8M15.2 81.5l1.7 -0.6M37.2 113.1l1.7 -0.6M41.0 111.3l1.2 3.3M19.3 70.5l0.9 2.6M11.7 85.6l0.8 2.2M33.3 91.1l0.6 1.6M8.2 114.9l1.4 3.8M12.6 115.2l0.8 2.3M36.1 85.5l3.6 -1.3M7.2 59.3l4.0 -1.5M6.8 75.5l1.0 2.8M0.4 77.1l0.7 1.8M30.3 67.2l1.3 3.7M1.6 83.7l0.7 1.8M31.1 110.0l1.8 -0.7M3.0 97.4l1.2 3.3M27.5 86.2l0.6 1.6M32.2 110.4l0.8 2.2M39.4 93.5l1.4 -0.5M20.9 114.5l3.5 -1.3M41.3 103.1l2.5 -0.9M12.9 120.9l0.6 1.6M31.6 114.4l1.0 2.6M5.3 97.9l1.8 -0.6M39.1 103.1l1.2 3.4M0.1 104.2l3.4 -1.2M2.1 130.0l2.4 -0.9M8.2 81.7l2.1 -0.8M19.3 68.1l1.3 3.4M3.6 130.0l2.6 -0.9M29.3 109.2l1.9 -0.7M32.0 66.8l0.8 2.3M3.3 118.6l4.2 -1.5M33.9 89.6l3.0 -1.1M14.6 125.5l1.1 3.1M14.4 118.4l2.2 -0.8M23.9 116.1l3.6 -1.3M26.5 101.3l1.5 -0.6M39.2 92.7l1.8 -0.6M43.0 110.0l4.2 -1.5M28.5 85.3l3.1 -1.1M1.6 89.0l1.5 4.2M27.9 101.4l3.1 -1.1M19.4 92.4l3.9 -1.4M17.4 97.7l1.0 2.7M20.4 69.6l1.1 3.1M3.1 92.2l1.2 3.3M46.2 110.3l1.3 3.6M33.4 109.9l1.3 3.6M2.6 127.2l0.7 1.8M8.1 89.5l0.7 2.0M4.8 119.6l1.5 4.1M25.3 68.0l1.3 3.6M27.4 120.4l1.2 3.2" stroke="#a6a6a6" stroke-width="1.5" fill="none"/>
<path clip-path="url(#c6)" d="M-6.7 -10.1L57.3 37.8M-12.9 -2.1L60.2 48.2M58.9 -3.6L14.0 64.7M42.9 -14.8L18.9 17.5M18.9 17.5L-12.9 60.3" stroke="#a6a6a6" stroke-width="0.8" fill="none"/>
<path clip-path="url(#c6)" d="M24.0 45.8l-1.6 2.2M3.0 11.8l-1.1 1.5M3.7 4.8l-1.0 1.4M27.2 17.0l-2.3 3.3M12.7 20.4l-1.1 1.5M35.9 17.9l1.9 1.4M34.7 6.9l1.5 1.0M13.6 7.3l1.8 1.2M29.0 33.5l-1.9 2.7M32.3 6.0l1.4 1.0" stroke="#a6a6a6" stroke-width="1.6" fill="none"/>
<path clip-path="url(#c7)" d="M26.4 41.5L80.0 14.2M80.0 14.2L108.8 -0.4M31.2 51.5L71.7 32.1M71.7 32.1L115.7 11.1M64.2 -26.2L78.5 2.6M78.5 2.6L95.2 36.1M50.5 -19.3L78.8 37.9M42.4 -15.3L54.3 8.7" stroke="#a6a6a6" stroke-width="0.8" fill="none"/>
<path clip-path="url(#c7)" d="M53.8 24.5l1.9 -0.9M76.7 9.6l3.0 -1.4M61.7 36.4l1.5 3.3M63.0 13.9l3.1 -1.4M52.7 0.7l1.9 -0.9M56.6 32.6l2.9 -1.4M46.9 1.2l1.0 2.2M75.3 29.9l2.6 -1.2M56.5 24.9l1.6 -0.8M42.5 5.0l0.8 1.6M71.4 18.7l4.0 -1.9M47.4 2.9l0.8 1.8M60.0 37.1l1.3 2.8M61.5 10.0l2.5 -1.2M61.3 35.3l1.7 3.7M43.6 9.2l0.9 2.0M56.4 26.6l3.9 -1.8M54.4 16.8l3.8 -1.8M56.2 24.3l0.8 1.8M47.3 13.3l1.9 4.1M60.5 42.4l3.8 -1.8M40.7 1.5l3.7 -1.7M63.6 13.7l3.6 -1.7M45.8 7.5l1.6 3.4M60.5 10.9l2.7 -1.2M52.0 6.1l3.9 -1.8M59.2 22.5l4.0 -1.9M69.7 36.9l1.6 3.4M61.3 11.8l3.2 -1.5M74.0 6.1l3.7 -1.7M72.5 10.0l1.7 -0.8M65.1 9.8l1.7 3.7M67.4 16.3l2.0 -1.0M55.4 15.9l1.3 2.7M61.9 8.3l2.0 -0.9M60.7 7.7l0.7 1.4" stroke="#a6a6a6" stroke-width="1.6" fill="none"/>
<path clip-path="url(#c8)" d="M85.6 46.6 L94.0 60.3 L86.0 65.2 L77.6 51.4ZM95.0 62.0 L97.9 66.8 L89.9 71.7 L87.0 66.9ZM99.0 68.5 L103.5 75.9 L95.5 80.8 L91.0 73.4ZM104.5 77.6 L108.6 84.2 L100.6 89.1 L96.5 82.5ZM109.6 85.9 L113.7 92.5 L105.7 97.4 L101.6 90.8ZM114.7 94.2 L117.4 98.7 L109.4 103.6 L106.7 99.1ZM118.4 100.4 L121.3 105.1 L113.3 110.0 L110.4 105.3ZM122.4 106.8 L125.2 111.4 L117.2 116.3 L114.4 111.7ZM126.2 113.1 L128.9 117.5 L120.9 122.4 L118.2 118.0ZM130.0 119.2 L133.5 125.1 L125.5 129.9 L121.9 124.1ZM134.6 126.8 L137.4 131.4 L129.4 136.2 L126.6 131.7ZM138.4 133.1 L142.3 139.5 L134.3 144.3 L130.4 137.9ZM143.3 141.2 L146.9 146.9 L138.9 151.8 L135.3 146.0ZM147.9 148.6 L151.9 155.1 L143.9 160.0 L139.9 153.5ZM161.4 170.7 L165.4 177.3 L157.4 182.2 L153.4 175.6ZM166.4 179.0 L170.1 185.0 L162.1 189.9 L158.4 183.9ZM171.2 186.7 L175.6 194.1 L167.6 199.0 L163.2 191.6ZM176.7 195.8 L179.3 200.0 L171.3 204.9 L168.7 200.7ZM180.3 201.7 L183.9 207.7 L175.9 212.5 L172.3 206.6ZM73.5 48.5 L76.3 53.1 L67.2 58.6 L64.4 54.1ZM77.3 54.8 L80.6 60.2 L71.5 65.7 L68.3 60.3ZM81.6 61.9 L86.0 69.1 L77.0 74.6 L72.6 67.4ZM87.1 70.8 L91.5 78.0 L82.4 83.5 L78.0 76.3ZM92.5 79.7 L95.3 84.3 L86.2 89.8 L83.5 85.3ZM96.3 86.0 L100.7 93.1 L91.6 98.6 L87.3 91.5ZM101.7 94.8 L106.3 102.3 L97.2 107.8 L92.7 100.3ZM107.3 104.0 L110.0 108.3 L100.9 113.9 L98.3 109.5ZM111.0 110.1 L114.8 116.2 L105.7 121.7 L102.0 115.6ZM115.8 117.9 L120.4 125.5 L111.4 131.0 L106.8 123.4ZM121.5 127.2 L125.3 133.5 L116.3 139.0 L112.4 132.7ZM126.4 135.2 L130.8 142.4 L121.7 147.9 L117.3 140.7ZM131.8 144.1 L134.9 149.2 L125.9 154.7 L122.8 149.7ZM135.9 150.9 L140.5 158.3 L131.4 163.8 L126.9 156.4ZM141.5 160.0 L144.1 164.2 L135.1 169.8 L132.5 165.5ZM145.1 166.0 L147.8 170.3 L138.8 175.9 L136.1 171.5ZM148.9 172.1 L151.6 176.5 L142.5 182.0 L139.8 177.6ZM152.6 178.2 L155.4 182.7 L146.3 188.2 L143.6 183.7ZM156.4 184.4 L160.2 190.5 L151.1 196.1 L147.4 189.9ZM161.2 192.2 L165.1 198.6 L156.1 204.2 L152.1 197.8ZM166.1 200.3 L170.0 206.7 L161.0 212.2 L157.1 205.9ZM171.1 208.4 L175.1 215.1 L166.1 220.6 L162.0 213.9ZM64.3 57.8 L68.3 64.3 L60.6 69.0 L56.6 62.5ZM69.4 66.0 L72.4 70.9 L64.6 75.6 L61.7 70.7ZM73.4 72.6 L76.5 77.7 L68.8 82.4 L65.7 77.3ZM77.5 79.4 L80.3 83.9 L72.6 88.6 L69.8 84.1ZM81.3 85.6 L84.5 90.7 L76.8 95.4 L73.6 90.3ZM85.5 92.5 L94.7 107.5 L87.0 112.2 L77.8 97.2ZM95.8 109.2 L105.1 124.6 L97.4 129.3 L88.1 113.9ZM106.2 126.3 L110.5 133.3 L102.7 138.0 L98.5 131.0ZM111.5 135.0 L115.4 141.4 L107.7 146.1 L103.8 139.7ZM116.4 143.1 L120.0 148.9 L112.3 153.6 L108.7 147.8ZM125.2 157.4 L129.0 163.7 L121.3 168.4 L117.5 162.1ZM130.1 165.4 L134.6 172.9 L126.9 177.6 L122.4 170.1ZM135.7 174.6 L139.7 181.3 L132.0 186.0 L128.0 179.3ZM140.8 183.0 L143.6 187.5 L135.9 192.2 L133.1 187.7ZM144.6 189.2 L148.9 196.3 L141.2 201.0 L136.9 193.9ZM155.3 206.8 L158.3 211.8 L150.6 216.5 L147.6 211.5ZM159.4 213.5 L163.1 219.5 L155.4 224.2 L151.7 218.2ZM164.1 221.2 L166.9 225.7 L159.2 230.4 L156.4 226.0ZM54.4 62.7 L57.4 67.5 L48.6 72.9 L45.6 68.0ZM58.4 69.2 L67.2 83.6 L58.4 89.0 L49.6 74.6ZM68.3 85.3 L70.9 89.7 L62.1 95.1 L59.5 90.7ZM72.0 91.4 L74.6 95.7 L65.8 101.1 L63.2 96.8ZM75.6 97.4 L78.8 102.7 L70.0 108.0 L66.8 102.8ZM79.9 104.4 L82.5 108.6 L73.7 114.0 L71.1 109.7ZM83.5 110.3 L87.5 116.8 L78.7 122.2 L74.7 115.7ZM88.5 118.5 L91.9 124.1 L83.1 129.5 L79.7 123.9ZM93.0 125.8 L96.5 131.5 L87.7 136.9 L84.2 131.2ZM97.5 133.2 L102.0 140.6 L93.2 145.9 L88.7 138.6ZM103.0 142.3 L106.8 148.4 L98.0 153.8 L94.2 147.7ZM107.8 150.1 L112.2 157.4 L103.4 162.7 L99.0 155.5ZM113.3 159.1 L116.1 163.7 L107.3 169.1 L104.5 164.4ZM117.2 165.4 L121.1 171.9 L112.3 177.3 L108.4 170.8ZM122.2 173.6 L125.0 178.3 L116.2 183.7 L113.4 179.0ZM126.1 180.0 L129.8 186.2 L121.0 191.6 L117.3 185.4ZM80.9 129.7 L84.0 134.8 L72.3 142.0 L69.2 136.9ZM85.1 136.5 L88.1 141.5 L76.4 148.7 L73.3 143.7ZM89.2 143.2 L92.2 148.2 L80.4 155.4 L77.4 150.4ZM93.3 149.9 L96.2 154.7 L84.4 161.9 L81.5 157.1Z" stroke="#a6a6a6" stroke-width="1.0" fill="none"/>
<path clip-path="url(#c8)" d="M84.7 48.6 l-3.1 1.9M84.1 49.0 l-2.8 1.7M89.2 54.9 l1.5 2.5M85.8 49.4 l1.2 1.9M83.7 49.2 l-2.8 1.7M83.3 49.5 l-2.2 1.3M92.3 59.8 l-2.4 1.5M87.5 52.2 l1.9 3.1M86.6 50.7 l0.8 1.3M94.6 63.8 l1.4 2.3M96.1 66.4 l-2.8 1.7M95.9 66.5 l-3.1 1.9M93.5 64.5 l-3.2 1.9M88.8 67.2 l1.2 2.0M94.5 63.6 l0.8 1.3M98.9 70.8 l1.1 1.8M98.0 70.6 l-2.3 1.4M98.4 77.4 l-2.1 1.3M98.6 77.3 l-1.9 1.2M99.4 71.7 l1.2 2.0M95.0 72.4 l-2.2 1.3M98.4 70.1 l1.5 2.4M99.3 84.5 l0.8 1.4M98.9 83.8 l2.0 3.3M99.0 84.0 l1.4 2.3M104.3 85.3 l-2.5 1.5M101.8 80.8 l-1.9 1.2M106.5 84.0 l-2.3 1.4M102.7 80.2 l-1.6 1.0M111.4 92.4 l-2.6 1.6M108.9 93.9 l-2.3 1.4M108.9 87.9 l-2.8 1.7M109.4 87.6 l-3.2 2.0M111.1 92.6 l-1.5 0.9M109.3 87.8 l1.9 3.2M109.1 87.6 l1.9 3.1M114.7 98.8 l-1.7 1.0M108.4 99.4 l1.5 2.5M114.1 95.8 l1.7 2.8M113.9 96.3 l-2.0 1.2M114.1 95.8 l1.2 1.9M108.3 99.3 l2.0 3.2M117.3 106.0 l-2.5 1.5M115.2 107.3 l-1.5 0.9M112.6 106.3 l1.0 1.6M117.8 105.8 l-2.7 1.7M116.8 102.9 l-1.7 1.1M116.2 106.7 l-2.6 1.6M118.4 110.8 l-2.2 1.4M121.8 108.3 l1.8 3.0M119.2 110.3 l-1.4 0.9M116.4 112.5 l1.3 2.1M118.2 110.9 l-1.7 1.0M120.2 118.7 l1.2 2.0M119.9 118.2 l0.9 1.4M120.1 118.6 l1.2 1.9M125.2 115.3 l-2.1 1.3M125.6 114.7 l1.6 2.6M125.9 115.0 l1.0 1.7M129.3 121.2 l-2.0 1.2M124.3 125.5 l1.7 2.9M129.5 126.0 l-2.6 1.6M126.8 122.7 l-3.1 1.9M129.9 125.7 l-3.2 2.0M126.4 122.9 l-2.1 1.3M134.0 128.3 l1.8 3.0M134.0 128.4 l1.4 2.2M128.2 131.8 l1.8 3.0M128.2 131.9 l1.0 1.6M131.6 130.1 l-2.9 1.8M135.4 131.0 l-2.9 1.8M139.2 139.8 l-2.9 1.8M134.5 137.0 l-1.8 1.1M140.1 139.3 l-1.9 1.2M138.7 136.0 l1.4 2.3M132.2 138.5 l1.4 2.2M138.2 135.2 l1.5 2.5M140.0 139.3 l-2.3 1.4M142.9 147.8 l-1.6 1.0M137.6 147.2 l1.5 2.4M143.2 143.4 l1.2 1.9M142.9 143.0 l1.2 1.9M137.9 147.8 l1.3 2.2M143.6 147.4 l-2.6 1.6M145.1 151.9 l-2.6 1.6M148.2 151.6 l1.3 2.1M147.6 150.7 l2.1 3.4M148.3 151.7 l1.4 2.3M142.4 155.0 l1.0 1.7M146.4 151.1 l-1.5 0.9M142.1 154.6 l1.8 2.9M158.8 173.8 l-3.0 1.8M155.7 176.8 l1.9 3.1M161.1 172.7 l1.9 3.1M159.3 173.5 l-1.9 1.2M160.7 178.6 l-2.8 1.7M161.9 177.9 l-2.0 1.3M160.6 184.9 l0.9 1.5M165.4 186.4 l-2.5 1.5M164.2 181.9 l-1.6 1.0M167.4 183.0 l0.9 1.6M160.2 184.2 l1.0 1.7M160.3 184.4 l1.5 2.5M171.9 194.8 l-3.0 1.8M171.9 190.4 l1.1 1.9M170.8 188.5 l-2.9 1.8M164.8 191.8 l1.0 1.6M165.2 192.5 l1.7 2.7M165.7 193.2 l1.2 1.9M174.0 201.7 l-1.4 0.8M174.5 198.7 l-1.7 1.0M176.1 197.3 l1.8 2.9M177.7 199.5 l-1.5 0.9M176.1 197.3 l1.9 3.2M176.2 197.4 l1.3 2.2M174.5 207.7 l1.4 2.3M174.2 207.2 l1.1 1.8M180.5 208.2 l-3.0 1.8M174.4 207.5 l1.8 3.0M180.2 204.1 l0.8 1.4M177.9 204.8 l-2.1 1.3M73.0 50.2 l0.8 1.3M69.3 52.6 l-3.1 1.9M66.1 54.2 l1.8 3.0M69.6 52.4 l-1.8 1.1M73.3 50.7 l1.1 1.9M69.3 52.6 l-3.0 1.8M76.2 57.0 l-3.3 2.0M70.7 61.9 l1.1 1.8M69.9 60.6 l1.9 3.1M70.0 60.7 l2.0 3.3M70.4 61.3 l0.9 1.5M70.4 61.3 l1.2 1.9M77.4 57.5 l0.8 1.4M75.4 69.6 l1.8 3.0M75.6 69.9 l1.0 1.6M83.0 66.7 l0.8 1.3M75.4 69.6 l1.2 2.0M80.9 70.7 l-2.7 1.7M77.1 66.1 l-2.5 1.5M88.5 78.3 l-1.5 0.9M80.8 78.3 l1.0 1.6M86.8 72.9 l1.5 2.4M80.5 77.9 l1.7 2.8M85.9 79.9 l-2.3 1.4M87.0 73.3 l1.5 2.5M81.7 75.6 l-1.4 0.8M93.1 84.1 l-2.8 1.7M93.4 83.9 l-2.1 1.3M92.4 82.1 l1.1 1.8M89.3 86.4 l-2.0 1.2M85.1 85.4 l1.8 2.9M92.2 81.8 l1.1 1.9M96.9 93.8 l-2.8 1.7M99.0 92.6 l-3.0 1.8M96.1 88.1 l1.2 2.0M96.5 88.8 l1.5 2.4M90.6 94.4 l1.5 2.5M89.9 93.2 l2.0 3.2M96.0 94.4 l-2.5 1.5M95.3 102.2 l1.3 2.1M104.7 101.7 l-3.3 2.0M97.5 98.9 l-2.0 1.2M95.4 102.4 l1.2 1.9M101.6 97.0 l1.6 2.6M102.3 98.2 l1.4 2.2M95.7 102.9 l1.5 2.5M106.9 105.8 l1.3 2.1M103.9 110.5 l-2.7 1.7M99.9 109.7 l1.3 2.2M107.7 108.2 l-2.4 1.5M100.1 110.0 l1.2 2.0M102.4 108.5 l-2.1 1.3M108.8 112.9 l-1.6 1.0M110.2 112.1 l-2.5 1.5M110.3 112.1 l-2.9 1.8M109.3 112.7 l-2.5 1.5M110.5 111.7 l2.0 3.3M111.8 113.8 l1.3 2.1M111.6 113.4 l1.5 2.5M109.8 125.9 l1.1 1.8M113.6 120.8 l-1.7 1.0M115.2 127.1 l-2.6 1.6M117.4 125.8 l-1.8 1.1M115.6 119.5 l-3.3 2.0M117.4 125.7 l-3.2 1.9M112.1 121.7 l-2.8 1.7M122.5 133.7 l-2.8 1.7M115.3 134.9 l1.5 2.4M118.1 130.7 l-2.2 1.4M118.6 130.4 l-2.0 1.2M117.1 131.4 l-2.0 1.2M115.9 132.1 l-1.9 1.2M114.2 133.0 l1.9 3.1M119.3 141.5 l1.4 2.3M119.2 141.4 l0.9 1.5M120.4 143.3 l0.9 1.4M127.7 139.9 l0.9 1.4M126.4 137.7 l1.4 2.3M126.6 138.1 l1.4 2.2M130.8 146.3 l-3.4 2.0M131.8 146.5 l1.0 1.6M128.6 151.5 l-1.9 1.1M131.2 149.9 l-3.1 1.9M132.2 149.3 l-2.8 1.7M130.8 150.1 l-2.3 1.4M136.4 154.1 l1.4 2.4M129.7 158.5 l1.1 1.9M129.7 158.5 l2.0 3.3M132.8 154.3 l-3.2 1.9M138.0 156.7 l0.9 1.4M137.5 155.9 l1.1 1.8M138.1 158.3 l-2.2 1.4M139.3 162.9 l-3.4 2.1M141.0 161.6 l1.0 1.6M142.1 164.0 l-3.0 1.8M140.9 161.5 l2.0 3.4M141.2 161.7 l-2.3 1.4M134.1 165.8 l1.5 2.5M144.0 168.2 l-2.1 1.3M144.8 167.9 l1.0 1.6M141.7 172.6 l-1.4 0.8M145.0 170.6 l-3.3 2.0M138.1 172.2 l0.9 1.5M141.4 172.7 l-1.4 0.9M147.0 174.7 l-2.9 1.8M147.2 177.6 l-2.7 1.6M147.0 174.7 l-1.3 0.8M148.3 173.6 l1.5 2.4M141.5 177.9 l1.5 2.4M141.5 177.8 l2.0 3.2M152.0 179.7 l2.0 3.3M152.5 182.9 l-3.0 1.8M145.4 184.2 l1.0 1.6M148.1 182.4 l-2.9 1.7M151.4 180.4 l-2.1 1.3M145.4 184.2 l1.4 2.3M154.5 192.5 l-1.9 1.2M152.9 188.1 l-3.2 2.0M149.3 190.6 l2.1 3.4M157.0 187.9 l0.9 1.5M152.9 193.4 l-1.6 1.0M149.7 191.2 l1.6 2.7M156.2 186.1 l-2.9 1.7M158.8 195.2 l-1.5 0.9M163.2 198.3 l-3.0 1.8M159.5 194.8 l-2.0 1.2M160.7 199.8 l-2.5 1.5M161.6 195.5 l1.0 1.6M160.4 194.2 l-3.2 1.9M161.4 195.0 l1.7 2.7M165.5 202.2 l-2.3 1.4M163.9 203.2 l-2.4 1.5M162.7 204.0 l-2.0 1.2M166.8 207.2 l-2.2 1.3M165.8 202.2 l1.6 2.6M167.3 206.9 l-2.8 1.7M171.0 210.7 l0.8 1.3M163.9 214.5 l1.9 3.0M171.3 211.3 l1.7 2.7M170.7 210.2 l-2.9 1.8M170.0 210.6 l-1.5 0.9M171.9 212.3 l1.5 2.5M165.6 217.4 l0.8 1.3M66.2 64.1 l-2.2 1.4M64.1 59.4 l-2.8 1.7M64.6 60.7 l1.2 1.9M64.9 61.1 l1.4 2.2M58.8 63.5 l1.1 1.7M64.2 65.3 l-2.2 1.3M63.4 71.0 l1.5 2.5M69.0 67.9 l1.3 2.2M63.3 70.9 l2.0 3.3M69.8 70.9 l-3.2 2.0M68.8 67.6 l0.9 1.5M72.1 78.8 l-2.3 1.4M73.7 75.6 l0.9 1.6M72.7 78.5 l-3.0 1.8M67.6 77.9 l1.5 2.4M70.7 75.7 l-2.5 1.5M67.7 78.0 l1.3 2.2M76.6 84.6 l-3.1 1.9M77.1 81.2 l1.5 2.5M76.0 81.8 l-3.0 1.8M71.5 84.3 l1.6 2.7M77.2 81.3 l0.9 1.6M75.6 85.2 l-2.1 1.3M75.4 90.6 l1.9 3.2M80.9 87.4 l1.9 3.1M76.2 92.0 l0.9 1.4M75.8 91.4 l0.9 1.5M75.3 90.5 l2.1 3.4M81.0 87.5 l1.8 2.9M85.6 107.4 l0.9 1.5M80.1 98.5 l2.0 3.3M84.8 94.4 l-2.9 1.8M90.3 102.8 l1.1 1.8M83.2 103.5 l0.9 1.4M92.5 107.4 l-1.4 0.9M83.8 95.1 l-1.9 1.1M85.4 107.1 l1.9 3.0M85.9 107.9 l1.2 2.0M93.9 121.1 l1.7 2.8M100.0 118.6 l0.8 1.3M103.0 124.4 l-2.8 1.7M99.8 126.3 l-1.5 0.9M90.9 116.1 l1.0 1.6M101.5 125.3 l-3.1 1.9M102.4 124.7 l-2.6 1.6M92.8 112.5 l-2.7 1.7M101.9 121.8 l1.3 2.2M108.4 133.1 l-3.2 1.9M101.5 130.7 l-1.3 0.8M102.5 130.0 l-2.3 1.4M105.8 128.1 l-3.3 2.0M105.9 128.3 l2.0 3.3M106.0 128.4 l1.6 2.6M106.3 141.4 l1.8 2.9M110.5 137.1 l-2.3 1.4M112.3 141.7 l-2.6 1.6M112.6 141.5 l-3.0 1.9M112.1 138.5 l1.3 2.2M110.7 137.0 l-3.2 2.0M115.7 145.0 l-1.4 0.8M113.6 146.3 l-1.7 1.0M110.4 148.0 l1.8 3.0M116.1 145.1 l1.9 3.1M116.3 145.4 l1.8 3.0M110.4 148.1 l1.8 2.9M122.2 160.7 l-2.8 1.7M124.3 159.4 l-1.9 1.1M124.9 159.4 l1.4 2.3M125.3 160.2 l1.2 2.0M123.7 159.8 l-1.5 0.9M125.1 159.8 l1.3 2.2M126.1 173.8 l1.0 1.6M130.5 173.9 l-2.9 1.8M130.1 168.0 l1.8 2.9M124.1 170.5 l1.6 2.6M130.9 169.3 l1.3 2.2M131.6 170.4 l1.1 1.8M132.5 172.7 l-2.4 1.4M133.6 177.3 l-3.3 2.0M130.3 180.7 l1.7 2.7M130.7 181.3 l1.4 2.3M133.4 177.5 l-3.3 2.0M135.7 177.2 l0.9 1.5M137.9 180.9 l-2.5 1.5M138.8 185.7 l-2.5 1.5M134.7 187.8 l2.0 3.2M140.3 184.7 l1.6 2.6M139.3 188.6 l-2.2 1.3M140.5 185.1 l1.0 1.7M140.0 188.2 l-2.9 1.8M144.5 191.6 l1.6 2.7M146.4 196.3 l-3.4 2.1M139.8 196.3 l0.9 1.5M143.4 191.5 l-2.5 1.6M145.2 197.0 l-3.3 2.0M138.7 194.4 l1.4 2.4M151.8 210.5 l-1.9 1.2M150.3 213.4 l0.9 1.4M156.7 211.3 l-3.3 2.0M149.2 211.6 l2.0 3.3M155.1 212.2 l-2.9 1.8M149.3 211.8 l1.8 2.9M160.0 219.9 l-1.9 1.1M153.7 219.0 l1.2 1.9M158.6 215.5 l-1.5 0.9M159.3 215.9 l1.7 2.7M158.5 220.9 l-1.4 0.8M155.4 217.4 l-1.9 1.2M163.3 223.3 l-1.4 0.9M163.3 223.3 l-3.1 1.9M158.1 226.1 l1.7 2.8M163.5 223.2 l-3.3 2.0M160.8 224.8 l-1.5 0.9M55.5 67.1 l-3.3 2.0M53.4 68.4 l-3.1 1.9M55.0 67.4 l-2.0 1.2M54.0 68.0 l-3.4 2.1M54.4 65.2 l1.1 1.8M53.8 64.2 l1.2 1.9M62.8 84.8 l-1.6 1.0M57.9 71.0 l-2.6 1.6M60.2 86.4 l-1.5 0.9M63.9 84.2 l-1.8 1.1M62.4 85.0 l-2.1 1.3M55.9 72.2 l-1.6 1.0M63.9 84.1 l-3.3 2.0M56.0 82.5 l1.3 2.2M55.7 72.4 l-1.5 0.9M56.1 72.1 l-3.0 1.8M67.7 86.9 l1.9 3.2M67.8 87.1 l0.9 1.5M65.4 88.6 l-2.8 1.7M65.2 88.7 l-2.7 1.6M66.8 87.8 l-3.0 1.8M71.6 93.3 l1.0 1.6M64.8 97.0 l1.6 2.6M71.4 93.0 l1.6 2.7M64.8 97.0 l1.9 3.1M71.7 93.4 l1.2 2.0M64.9 97.2 l1.2 2.0M68.7 103.3 l0.9 1.5M71.6 101.4 l-1.6 1.0M68.6 103.1 l1.3 2.1M75.6 103.1 l-1.4 0.8M75.3 99.1 l-2.0 1.2M75.8 100.2 l1.3 2.1M73.1 110.6 l1.1 1.8M72.7 109.9 l1.8 3.0M80.6 108.3 l-2.1 1.3M76.0 108.2 l-2.8 1.7M77.9 109.9 l-2.9 1.8M79.7 106.6 l1.0 1.6M83.4 112.6 l2.0 3.2M81.5 113.1 l-1.7 1.0M83.0 118.0 l-2.5 1.5M83.7 117.6 l-2.3 1.4M76.6 116.3 l1.5 2.4M84.2 113.9 l1.1 1.7M82.5 112.5 l-2.7 1.7M81.5 124.3 l2.0 3.3M85.5 121.9 l-2.8 1.7M88.3 120.7 l1.5 2.5M88.4 120.9 l1.2 1.9M81.6 124.4 l2.0 3.3M85.7 121.8 l-1.6 1.0M86.2 132.0 l1.0 1.6M91.0 128.6 l-2.9 1.8M87.9 130.5 l-1.6 1.0M86.2 132.1 l0.9 1.5M89.6 129.4 l-3.0 1.9M87.2 133.6 l1.0 1.7M91.2 133.2 l-1.3 0.8M96.9 134.8 l1.8 2.9M93.6 137.1 l-1.6 1.0M98.1 136.7 l2.0 3.3M97.8 136.2 l0.8 1.3M94.7 136.5 l-3.2 2.0M91.4 140.5 l2.0 3.3M104.6 148.2 l-3.3 2.0M103.3 145.2 l1.3 2.1M96.8 149.4 l1.1 1.9M102.7 144.3 l1.0 1.6M96.1 148.3 l1.5 2.5M103.5 148.9 l-2.8 1.7M97.3 150.1 l1.0 1.6M106.5 159.3 l-1.9 1.1M106.9 159.1 l-2.0 1.2M107.5 152.1 l1.9 3.1M105.6 153.0 l-2.2 1.4M107.8 152.7 l1.8 2.9M106.9 152.2 l-3.0 1.9M110.8 165.4 l-2.7 1.7M112.2 164.6 l-3.3 2.0M113.5 163.8 l-2.2 1.3M109.4 166.3 l-1.6 1.0M106.5 165.2 l1.2 2.0M106.7 165.6 l1.0 1.7M115.4 168.0 l-2.2 1.4M119.0 171.7 l-1.4 0.9M116.9 167.6 l1.6 2.7M116.4 173.3 l-3.2 2.0M117.6 168.6 l1.8 2.9M113.2 169.4 l-2.5 1.5M110.6 172.0 l1.8 3.0M115.0 179.2 l1.8 3.0M119.9 176.5 l-1.6 1.0M118.6 180.7 l-1.8 1.1M115.5 180.1 l0.9 1.5M122.7 178.2 l-1.9 1.2M121.7 175.3 l1.1 1.8M123.0 183.4 l-1.7 1.0M127.6 186.1 l-2.6 1.6M121.7 184.2 l-1.5 0.9M125.7 187.3 l-1.8 1.1M122.3 183.9 l-2.2 1.3M119.4 186.4 l1.9 3.2M125.8 182.2 l1.7 2.7M80.5 131.5 l1.2 2.0M81.0 132.3 l1.3 2.1M71.1 137.7 l1.7 2.7M80.8 132.1 l1.1 1.7M80.5 131.6 l1.8 3.0M70.8 137.1 l2.0 3.2M76.2 138.1 l-1.4 0.9M84.5 138.0 l2.1 3.4M85.9 141.4 l-2.5 1.5M75.2 144.4 l0.9 1.5M84.6 138.3 l-1.6 1.0M84.6 138.3 l1.2 1.9M74.9 143.9 l2.0 3.3M75.9 145.4 l1.1 1.8M89.0 148.6 l-2.1 1.3M89.1 145.7 l1.1 1.7M84.6 151.3 l-2.9 1.7M86.7 146.3 l-1.7 1.0M88.8 145.2 l1.4 2.2M88.8 145.2 l1.7 2.8M85.4 147.1 l-3.1 1.9M87.7 158.3 l-2.8 1.7M89.0 154.0 l-1.8 1.1M93.5 152.7 l0.9 1.4M83.1 157.3 l2.0 3.3M83.3 157.6 l1.3 2.1M93.3 154.9 l-3.3 2.0M92.8 151.6 l1.8 2.9" stroke="#a6a6a6" stroke-width="1.4" fill="none"/>
<path clip-path="url(#c9)" d="M68.3 44.0L106.9 20.8M106.9 20.8L161.7 -12.0M80.6 61.1L122.2 37.3M122.2 37.3L162.6 14.1M162.6 14.1L183.5 2.1M183.5 2.1L208.3 -12.1M91.7 70.1L116.4 55.7M116.4 55.7L148.6 36.9M148.6 36.9L192.5 11.4M192.5 11.4L234.0 -12.8M61.3 110.8L112.5 80.9M112.5 80.9L134.6 68.0M134.6 68.0L159.4 53.5M159.4 53.5L207.8 25.2M207.8 25.2L259.9 -5.2M81.5 108.9L127.1 80.9M127.1 80.9L172.0 53.3M172.0 53.3L209.8 30.1M209.8 30.1L240.7 11.1M159.9 119.1L205.3 91.3M129.8 159.6L172.1 133.7M172.1 133.7L217.4 105.8M121.3 180.1L165.9 153.0M165.9 153.0L186.3 140.6M125.0 212.8L172.1 186.0M172.1 186.0L224.7 156.0M176.0 -24.8L197.4 11.7M197.4 11.7L223.9 56.8M148.9 -52.8L181.2 3.4M181.2 3.4L211.8 56.6M151.1 -6.7L177.7 35.3M177.7 35.3L196.4 64.9M196.4 64.9L222.5 106.1M92.8 -21.4L127.4 33.3M127.4 33.3L140.1 53.4M169.9 100.4L198.2 145.2M80.1 -13.3L102.3 21.5M102.3 21.5L114.8 41.2M114.8 41.2L148.1 93.4M148.1 93.4L170.0 127.9M170.0 127.9L195.0 167.1" stroke="#a6a6a6" stroke-width="0.9" fill="none"/>
<path clip-path="url(#c9)" d="M80.8 84.6L108.5 68.3M108.5 68.3L145.7 46.4M145.7 46.4L201.9 13.3M201.9 13.3L249.0 -14.3M98.8 127.5L130.8 108.3M130.8 108.3L166.1 87.0M166.1 87.0L196.9 68.6M196.9 68.6L250.1 36.6M86.8 146.8L133.8 118.2M159.9 102.3L199.1 78.4M199.1 78.4L223.9 63.4M95.0 165.2L143.1 136.5M168.8 121.2L213.7 94.5M150.2 177.8L197.3 149.7M196.7 -5.6L228.3 46.6M129.6 -45.3L160.0 1.8M160.0 1.8L177.2 28.5M177.2 28.5L212.5 83.2M145.1 18.3L164.5 48.2M164.5 48.2L186.8 82.6M186.8 82.6L221.3 135.8M173.2 76.9L203.5 124.5M104.5 -27.1L130.5 19.0M130.5 19.0L151.8 56.7M151.8 56.7L178.7 104.4M178.7 104.4L190.3 124.8M72.7 -8.7L94.4 26.1M94.4 26.1L123.1 72.2M153.8 121.2L174.8 154.9M174.8 154.9L195.6 188.1M63.5 -3.2L89.5 39.9M89.5 39.9L110.4 74.4M110.4 74.4L122.5 94.5M122.5 94.5L141.8 126.3M141.8 126.3L170.8 174.3M170.8 174.3L197.9 219.2M73.0 29.3L95.4 65.4" stroke="#a6a6a6" stroke-width="1.7" fill="none"/>
<path clip-path="url(#c9)" d="M50.2 68.8L95.0 42.8M95.0 42.8L132.0 21.3M132.0 21.3L152.8 9.2M152.8 9.2L177.6 -5.2M82.2 120.2L136.1 88.5M136.1 88.5L164.3 72.0M164.3 72.0L214.4 42.5M200.2 -20.0L215.9 4.9M215.9 4.9L243.1 47.9" stroke="#a6a6a6" stroke-width="2.6" fill="none"/>
<path clip-path="url(#c9)" d="M157.9 19.6l1.3 2.1M182.9 64.7l1.8 3.0M123.8 55.6l3.2 -1.9M140.0 113.5l2.3 -1.4M179.8 72.3l1.0 1.7M166.8 148.2l2.7 -1.6M170.5 21.8l1.1 1.8M201.4 6.4l1.7 2.8M182.3 110.0l2.0 3.4M184.9 18.3l3.3 -2.0M138.2 32.9l2.8 -1.7M172.0 84.5l1.0 1.7M110.2 64.3l0.9 1.5M177.8 112.3l2.8 -1.7M173.3 81.7l1.7 -1.0M160.0 155.7l2.1 -1.3M177.9 136.5l2.2 -1.3M121.9 47.5l3.1 -1.9M203.4 31.4l0.9 1.5M192.3 4.9l1.3 -0.8M154.3 138.8l3.0 -1.8M186.0 122.3l1.5 2.5M124.1 22.6l2.0 3.4M113.5 21.0l2.0 -1.2M165.9 92.0l1.2 1.9M138.5 14.9l2.1 -1.2M179.2 28.6l1.6 -1.0M201.7 63.2l0.9 1.5M184.8 129.3l1.3 2.2M153.4 130.2l2.0 3.3M119.7 62.8l2.4 -1.4M140.6 83.3l0.9 1.5M106.5 50.2l2.8 -1.7M181.8 82.1l2.6 -1.5M91.9 30.2l1.7 2.7M145.7 10.2l2.9 -1.7M184.1 23.8l2.4 -1.4M169.8 104.9l1.1 1.9M113.6 64.3l3.0 -1.8M152.3 13.8l2.9 -1.8M101.1 54.6l1.5 2.5M136.6 29.1l2.2 -1.3M172.1 59.3l1.5 2.4M143.5 110.9l1.5 2.5M167.0 87.5l1.6 -0.9M165.7 21.7l2.0 3.3M144.6 116.1l1.8 3.0M176.8 131.7l0.8 1.4M148.3 62.9l2.3 -1.4M141.7 132.5l1.6 2.6M158.7 128.9l3.4 -2.0M148.6 144.2l1.6 2.7M164.7 49.7l1.3 2.2M145.2 50.2l1.3 2.1M109.9 62.3l2.2 -1.3M158.6 140.6l2.0 3.4M149.1 65.6l2.0 -1.2M179.1 25.7l2.9 -1.7M192.8 71.3l2.4 -1.4M192.4 73.1l1.2 2.0M149.7 112.5l0.8 1.3M176.2 154.2l2.4 -1.4M183.9 12.6l2.7 -1.6M166.3 159.0l1.1 1.9M207.2 17.5l1.3 2.2M180.5 119.8l1.8 -1.1M148.4 69.9l3.1 -1.9M189.2 123.4l2.2 -1.3M129.8 1.4l2.9 -1.8M180.2 126.6l1.7 -1.0M158.6 112.8l1.9 3.2M179.3 45.7l1.4 2.3M122.3 66.7l1.4 2.3M103.6 35.9l2.0 3.3M135.6 1.6l2.3 -1.4M161.1 105.1l1.6 -0.9M118.6 74.0l1.3 2.2M168.3 162.3l2.2 -1.3M139.8 10.9l2.9 -1.7M177.9 30.1l2.2 -1.3M169.8 122.8l1.3 2.2M135.2 90.3l0.8 1.4M187.0 16.4l2.0 -1.2M133.7 115.9l3.2 -1.9M176.4 159.2l1.9 3.1M136.0 64.7l2.0 3.4M196.0 100.1l2.3 -1.4M179.1 137.3l0.8 1.4M121.1 100.9l3.1 -1.9M168.4 145.6l1.0 1.6M142.7 37.6l1.8 3.0M186.6 130.7l1.1 1.9M165.9 116.4l1.6 -1.0M145.1 46.7l0.8 1.3M202.8 1.6l0.8 1.4M127.3 13.3l2.0 3.4M132.6 98.9l1.9 3.2M111.0 75.8l1.9 3.1M173.4 60.5l2.8 -1.7M185.7 116.1l2.4 -1.4M166.6 133.8l3.4 -2.0M115.1 17.6l2.8 -1.7M172.9 117.9l1.4 2.3M148.8 42.1l3.1 -1.9M115.0 25.5l3.4 -2.0M170.3 31.9l1.0 1.7M168.0 136.4l1.0 1.6M124.0 78.8l1.1 1.8M157.8 33.5l2.0 3.4M123.9 102.8l0.8 1.4M164.7 150.6l1.1 1.8M149.1 143.3l1.2 2.0M182.3 90.5l1.9 3.1M177.7 145.6l2.6 -1.6M152.7 153.0l2.4 -1.4M113.5 40.4l1.4 2.4M118.6 19.8l1.0 1.6M140.1 87.0l1.5 2.5M119.3 41.4l3.2 -1.9M177.8 57.3l3.2 -1.9M128.9 35.4l2.0 -1.2M177.5 43.5l3.4 -2.0M180.1 154.3l1.4 -0.9M178.2 151.9l1.9 3.2M155.8 62.8l1.4 2.4M192.5 21.0l3.1 -1.9M111.5 63.5l1.7 2.9M162.9 101.8l2.6 -1.6M140.0 93.0l3.3 -2.0M147.9 85.7l2.9 -1.7M160.2 45.1l1.8 3.0M202.4 27.8l3.0 -1.8M102.0 48.1l1.9 -1.2M102.5 22.5l1.0 1.7M130.5 53.7l1.1 1.9M138.9 48.9l3.4 -2.1M185.1 15.2l2.3 -1.4M139.8 115.1l1.8 -1.1M153.9 136.6l1.8 3.0M113.0 62.2l1.5 2.5M214.2 10.7l2.0 3.3M153.9 40.2l3.2 -1.9M140.6 5.3l1.4 -0.8M186.9 115.3l2.6 -1.6M141.0 38.6l1.6 2.6M162.9 9.1l1.8 -1.1M164.8 3.1l2.3 -1.4M173.2 155.5l2.4 -1.4M122.2 84.5l2.7 -1.6M160.4 46.2l1.4 2.3M127.6 19.7l1.9 -1.2M147.0 96.1l1.9 -1.2M108.4 44.5l0.8 1.4M215.4 4.6l1.4 -0.8M100.7 28.2l3.1 -1.9M120.5 93.8l2.8 -1.7M172.0 135.2l1.8 3.1M168.0 177.5l1.9 3.1M183.1 144.3l1.7 -1.0M181.7 39.0l2.0 3.3M121.6 31.7l1.2 2.0M191.4 23.4l1.9 -1.1M146.6 31.0l1.8 -1.1M168.8 132.2l2.0 3.3M134.8 91.5l1.9 3.2M161.9 8.2l2.1 -1.3M138.0 24.6l2.3 -1.4M140.9 77.7l1.2 1.9M166.9 114.0l3.1 -1.9M187.2 109.4l1.6 2.6M153.4 51.9l1.9 -1.1M134.8 58.8l1.9 3.2M153.3 8.7l2.7 -1.6M152.6 18.4l0.8 1.3M151.2 50.6l2.4 -1.4M149.5 22.0l1.5 -0.9M163.8 24.9l0.9 1.5M197.8 25.6l2.1 -1.2M204.1 51.0l1.2 1.9M112.8 43.0l2.5 -1.5M180.0 147.0l1.8 3.0M184.0 87.4l2.7 -1.6M112.5 26.5l1.7 2.8M128.8 65.4l3.3 -2.0M166.9 133.6l1.0 1.7M89.3 48.5l1.8 3.1M159.9 57.6l1.0 1.7M181.9 36.8l1.8 3.0M160.4 159.9l1.3 2.2M166.1 80.2l3.4 -2.1M187.1 70.5l3.1 -1.9M163.8 74.1l1.5 2.6M180.8 131.0l1.7 2.8M204.8 2.8l3.2 -1.9M148.5 78.8l2.5 -1.5M125.1 67.4l1.5 -0.9M193.3 93.9l1.7 2.8M191.6 33.7l0.9 1.5M125.6 57.2l0.9 1.5M197.3 46.4l1.4 2.4M163.0 124.2l2.8 -1.7M133.2 66.0l1.5 -0.9M178.7 66.1l1.1 1.9M189.0 74.3l2.4 -1.5M129.4 99.9l3.3 -2.0M130.0 89.0l3.1 -1.9M180.2 120.4l1.9 3.2M175.3 105.9l1.6 2.6M176.5 158.4l1.8 3.1M153.2 95.4l1.8 3.0M90.8 47.0l1.2 2.0M135.5 91.6l1.8 -1.1M193.1 65.4l3.0 -1.8M187.1 89.0l1.4 -0.8M151.4 32.8l1.5 -0.9M170.4 133.3l1.3 2.1M173.5 79.3l2.7 -1.6M200.4 36.8l1.4 2.3M176.6 135.9l2.1 -1.2M135.6 17.7l3.1 -1.9M163.0 167.9l1.4 -0.8M133.5 47.1l1.4 -0.8M137.2 117.8l3.2 -1.9M122.7 46.1l1.8 -1.1M183.5 39.4l3.2 -1.9M182.5 0.1l1.4 2.4M153.3 8.3l1.0 1.6M181.9 90.3l0.8 1.4M164.9 138.9l1.8 2.9M165.9 118.9l3.3 -2.0M201.2 60.7l3.0 -1.8M116.2 6.4l1.8 3.0M131.5 73.7l0.9 1.5M113.6 8.8l1.9 3.2M125.8 67.6l1.8 3.1M207.5 20.2l1.8 3.0M172.4 155.1l2.1 -1.3M115.0 8.7l0.9 1.4M175.3 35.6l3.4 -2.1M203.4 3.7l1.9 3.1M150.5 76.2l1.0 1.6M156.7 87.9l1.1 1.9M197.3 59.7l1.4 2.2M112.3 85.8l1.9 3.1M182.2 57.8l2.0 3.4M188.6 76.7l3.2 -1.9M158.9 40.6l2.6 -1.6M119.6 86.8l1.5 2.6M161.0 61.8l2.4 -1.5M163.8 170.2l2.2 -1.3M160.8 65.3l0.9 1.6M132.2 33.2l1.8 2.9M169.6 54.6l1.7 2.8M163.0 82.1l2.9 -1.7M151.7 93.7l1.3 2.2M198.5 36.0l1.8 3.0M170.9 72.5l1.4 -0.8M116.7 61.4l0.9 1.4M195.4 99.8l1.2 2.0M132.5 77.2l1.5 2.6M138.9 76.9l1.4 2.3M88.2 39.0l1.9 -1.2M134.3 112.3l1.7 2.9M187.6 36.5l1.4 2.4M154.1 5.8l1.0 1.7M164.6 39.9l0.9 1.5M173.4 156.2l2.1 -1.2M150.9 102.9l1.1 1.8M119.2 94.9l3.3 -2.0M149.6 18.1l1.5 2.5M182.3 136.7l3.1 -1.8M168.7 75.8l2.4 -1.4M122.1 34.9l2.7 -1.6M183.0 59.9l2.5 -1.5M123.7 53.7l1.1 1.9M192.4 11.3l2.6 -1.5M145.2 44.3l1.1 1.9M164.1 87.6l1.7 -1.1M119.3 84.9l2.3 -1.4M138.9 14.9l1.4 -0.8M171.9 26.8l1.8 3.0M147.6 42.2l3.1 -1.8M122.4 18.7l1.1 1.8M173.2 124.1l1.5 2.5M123.9 34.0l1.1 1.8M199.0 5.3l2.6 -1.5M186.9 125.8l2.3 -1.4M171.2 127.3l2.1 -1.3M174.2 109.3l1.0 1.6M178.4 136.7l1.4 2.3M192.2 22.1l1.6 -0.9M178.1 81.6l2.1 -1.3M142.9 63.7l2.3 -1.4M154.2 88.7l2.2 -1.3M105.8 43.6l1.7 2.8M149.7 22.5l1.9 3.1M145.8 11.7l1.2 2.0M142.6 61.9l2.0 3.3M119.7 72.3l1.2 1.9M133.5 24.2l3.2 -1.9M172.4 151.6l1.7 2.8M108.5 56.6l1.5 -0.9M159.5 7.7l1.6 2.6M171.0 158.0l1.7 2.9M102.9 32.6l1.6 -1.0M202.9 46.1l2.3 -1.4M167.3 2.6l1.7 2.8M152.1 152.3l1.2 1.9M144.6 71.4l1.3 2.2M103.8 61.4l1.6 2.7M144.8 129.5l2.0 3.3M164.9 22.8l0.9 1.6M108.9 48.6l0.9 1.4M191.8 66.1l1.6 -1.0M162.3 84.0l2.8 -1.7M139.8 20.0l2.3 -1.4M144.2 49.6l1.9 3.2M129.5 64.5l1.5 2.5M174.4 118.8l1.4 2.3M113.8 42.6l2.0 3.4M177.6 19.6l0.9 1.5M173.0 144.6l1.3 2.2M192.1 89.0l1.7 2.8M158.0 43.1l3.3 -2.0M153.8 115.5l1.3 -0.8M121.0 39.1l1.3 2.2M152.8 145.3l3.3 -2.0M206.0 18.8l1.3 2.1M210.8 17.0l1.5 2.5M137.9 127.4l1.8 -1.1M147.3 71.4l0.9 1.4M116.2 43.4l1.6 2.6M192.5 69.4l2.1 3.4M130.3 80.8l1.4 -0.8M136.8 8.0l1.0 1.6M109.1 62.2l3.2 -1.9M194.1 41.8l2.5 -1.5M188.5 49.9l1.1 1.9M107.6 1.4l0.9 1.5M176.5 54.5l1.7 2.8M185.5 64.0l1.6 2.6M175.2 54.5l1.4 2.3M130.3 104.5l2.0 3.3M193.4 16.3l3.3 -2.0M112.9 62.4l1.0 1.6M205.7 50.5l2.4 -1.5M180.1 167.5l1.7 2.9M201.6 11.3l1.4 2.4M144.7 87.2l1.4 -0.8M107.9 59.6l1.5 -0.9M158.6 145.5l1.1 1.8M199.4 22.2l2.3 -1.4M147.4 123.3l1.6 -1.0M111.4 56.7l1.0 1.6M170.9 131.6l2.0 3.4M165.6 77.7l1.2 2.0M214.5 12.8l2.0 -1.2M136.6 50.8l2.1 -1.2M125.2 76.5l0.8 1.4M189.8 104.3l1.7 -1.0M154.9 95.7l1.8 3.0M135.9 117.2l1.9 3.1M192.4 94.1l1.8 3.0M141.5 18.2l1.0 1.6M91.1 46.3l1.5 -0.9M133.2 106.4l1.2 2.0M140.7 84.9l1.5 2.5M146.5 130.8l2.4 -1.4M176.0 82.6l1.9 3.2M159.3 53.6l2.2 -1.3M163.1 106.8l1.9 3.1M203.1 26.7l0.9 1.4M185.0 91.6l1.9 3.2M126.0 103.6l2.6 -1.6M184.4 2.2l0.9 1.5M182.8 121.5l1.4 2.3M175.0 154.5l3.4 -2.0M120.7 49.6l1.3 2.2M201.0 38.9l1.8 2.9M179.1 81.9l1.6 2.7M123.4 90.7l1.6 2.6M166.1 98.0l3.1 -1.9M123.7 83.2l2.6 -1.6M188.4 48.8l1.9 -1.2M129.0 72.4l2.0 3.4M173.4 54.5l0.9 1.5M108.9 66.8l1.6 -0.9M121.2 82.2l1.9 3.1M199.7 78.9l1.0 1.7M153.7 146.2l2.5 -1.5M200.9 50.0l2.4 -1.5M153.6 77.5l1.1 1.8M134.2 109.2l1.8 3.1M175.6 106.8l1.5 2.4M149.8 120.9l1.6 2.7M145.7 29.2l1.9 -1.2M157.3 20.7l3.3 -2.0M175.8 35.5l1.9 3.1M179.8 134.4l1.4 -0.9M144.9 76.3l1.9 3.2M128.7 95.0l1.3 2.2M161.9 50.2l1.4 -0.8M82.6 54.8l2.8 -1.7M163.1 85.4l1.5 -0.9M182.5 75.4l1.3 2.2M118.4 86.1l3.1 -1.8M192.7 13.3l1.4 2.3M169.5 85.2l3.1 -1.9M166.0 16.8l1.2 2.0M177.1 154.9l1.8 -1.1M119.1 82.5l1.3 -0.8M103.2 31.5l1.9 3.2M203.3 32.1l1.4 2.3M209.6 12.3l1.2 2.0M184.2 63.1l2.5 -1.5M179.4 106.2l1.2 2.0M166.5 132.1l2.0 -1.2M182.7 4.6l1.2 2.1M163.3 76.9l1.4 -0.9M131.8 55.9l2.8 -1.7M175.4 95.2l1.3 2.2M170.0 3.2l0.8 1.3M188.5 102.1l0.8 1.3M179.2 131.8l2.0 -1.2M177.9 147.7l3.1 -1.9M139.9 87.0l1.6 -1.0M95.0 1.9l1.9 3.2M114.7 74.0l0.9 1.5M187.5 86.8l1.4 2.3M150.5 44.4l1.6 -1.0M173.1 184.8l2.4 -1.4M149.2 132.9l1.3 2.1M188.9 16.0l0.8 1.4M151.2 49.1l2.7 -1.6M160.9 117.3l1.9 3.2M120.4 31.2l1.4 -0.8M128.0 108.5l1.3 2.2M193.1 92.2l1.1 1.9M107.3 55.3l2.8 -1.7M135.1 41.8l0.8 1.3M182.3 86.1l0.9 1.4M165.0 65.7l1.9 -1.1M153.8 62.9l1.7 2.9M156.7 129.6l2.5 -1.5M138.7 71.8l1.2 2.0M185.4 64.8l3.0 -1.8M186.2 45.6l1.5 -0.9M151.7 52.3l3.3 -2.0M143.3 131.7l1.3 2.2M105.9 25.9l3.3 -2.0M147.4 62.8l1.6 -1.0M80.3 47.5l1.8 3.1M143.3 107.6l1.5 -0.9M151.6 146.5l3.1 -1.9M110.5 47.4l1.5 2.5M208.0 2.7l2.1 -1.3M95.2 27.5l1.4 -0.8M126.6 9.2l1.9 3.1M211.5 21.7l1.4 2.4M101.0 31.0l1.5 2.4M116.7 41.6l1.4 2.4M127.6 110.9l2.1 -1.3M188.3 94.4l3.1 -1.9M124.6 80.0l1.8 3.0M103.0 42.7l1.4 -0.8M145.7 79.0l1.1 1.8M174.0 59.5l1.9 -1.2M149.2 20.0l1.6 2.6M175.9 104.8l1.7 2.8M140.5 130.2l1.7 -1.0M190.7 93.3l1.9 3.1M169.2 131.2l3.2 -1.9M131.9 18.1l1.4 -0.9M174.5 96.3l2.0 -1.2M130.3 112.4l1.2 2.1M162.4 48.7l0.8 1.4M146.6 124.7l2.6 -1.6M129.0 0.4l2.5 -1.5M179.0 97.0l1.5 2.5M177.2 172.6l1.4 2.4M107.5 27.1l1.4 2.3M140.4 80.4l1.9 3.2M172.1 47.9l2.3 -1.4M120.4 16.3l1.4 -0.9M156.5 61.6l1.5 -0.9M158.8 113.9l2.3 -1.4M132.1 116.0l2.5 -1.5M182.4 68.0l1.8 -1.1M194.0 98.7l2.9 -1.8M168.9 139.5l3.4 -2.0M168.9 143.8l1.1 1.8M105.6 36.8l2.0 -1.2M132.8 85.6l1.4 2.3M135.6 96.8l2.8 -1.7M210.9 3.3l1.3 2.2M160.4 97.2l1.6 2.6M202.2 2.4l2.3 -1.4M135.9 44.7l1.5 2.5M149.8 108.6l1.7 -1.0M117.8 76.5l2.9 -1.8M119.8 80.4l2.0 3.3M158.8 57.3l3.2 -1.9M205.7 25.3l2.7 -1.6M171.8 135.4l2.9 -1.7M176.4 92.3l1.8 3.0M183.6 106.0l1.9 3.1M202.4 36.9l1.9 3.2M203.3 11.5l0.8 1.4M126.4 16.5l1.5 -0.9M102.2 33.3l2.1 -1.2M175.4 65.4l3.4 -2.0M173.8 46.0l2.2 -1.3M125.2 34.4l0.9 1.5M180.3 97.7l1.4 2.3M189.9 88.0l2.8 -1.7M200.1 27.0l1.4 2.4M158.4 70.8l3.3 -2.0M133.8 66.9l1.3 2.1M100.3 45.8l2.8 -1.7M135.5 47.4l1.3 2.1M132.5 70.8l1.8 -1.1M192.2 35.0l2.4 -1.4M142.5 13.5l1.9 3.2M206.5 15.6l3.3 -2.0M148.5 131.8l1.2 2.1M160.3 147.4l1.6 -0.9M122.4 42.2l1.7 -1.0M130.7 67.4l0.9 1.6M159.1 125.2l1.2 2.1M174.1 50.8l2.8 -1.7M171.8 116.1l1.3 2.1M162.7 148.6l1.5 2.5M149.7 52.5l1.6 2.7M158.1 50.8l1.8 -1.1M170.8 62.6l1.7 2.9M173.5 114.5l2.6 -1.5M163.6 58.2l3.1 -1.9M120.3 72.9l1.5 2.5M136.7 25.7l1.5 -0.9M172.8 77.5l2.3 -1.4M180.1 117.0l1.3 2.1M178.9 54.3l2.2 -1.3M137.1 81.8l1.4 2.3M112.8 32.7l1.9 -1.1M133.8 120.0l3.3 -2.0M133.3 0.7l2.2 -1.3M169.6 127.8l1.3 2.2M142.1 36.7l2.1 -1.3M201.1 64.1l1.7 2.8M93.8 49.6l1.9 -1.2M94.7 34.6l1.5 2.6M136.6 116.5l2.0 3.4M164.5 50.9l1.3 2.1M141.7 9.9l2.0 -1.2M153.6 14.3l2.7 -1.6M207.4 13.6l2.3 -1.4M178.7 111.9l1.5 -0.9M184.9 80.1l1.8 3.0M167.5 133.2l2.0 -1.2M143.6 88.5l3.3 -2.0M144.3 53.7l1.1 1.8M146.8 39.3l2.7 -1.6M186.3 74.8l1.0 1.7M124.5 65.2l1.9 3.2M175.2 67.7l1.5 -0.9M155.7 8.3l1.3 -0.8M105.6 53.0l2.9 -1.8M113.6 17.1l3.1 -1.8M185.2 87.7l1.7 2.8M124.5 82.7l2.7 -1.6M200.5 32.0l2.3 -1.4M113.5 28.1l3.1 -1.9M172.5 6.9l1.5 2.5M189.2 41.3l1.7 -1.0M132.1 106.1l1.9 3.1M126.8 51.9l3.1 -1.9M120.2 64.4l1.2 2.1M173.5 46.8l1.1 1.8M119.1 49.6l1.4 2.3M197.6 23.4l1.0 1.7M141.0 34.0l1.5 -0.9M190.4 82.5l2.0 3.3M128.5 72.1l0.9 1.4M166.2 106.8l2.0 -1.2M155.5 24.9l3.1 -1.9M177.4 32.8l1.4 2.3M139.9 33.1l1.5 2.6M93.3 29.3l0.9 1.6M176.8 149.8l0.9 1.5M154.6 25.0l1.6 2.6M190.5 1.9l1.7 2.8M118.7 95.6l1.9 3.2M154.5 9.3l1.7 2.8M188.7 128.4l2.7 -1.6M202.7 3.3l0.9 1.5M161.1 83.0l2.7 -1.6M145.4 73.7l1.2 2.0M173.7 70.1l1.4 -0.8M179.4 115.7l1.6 -0.9M163.4 122.4l1.8 -1.1M168.6 144.2l1.2 2.0M134.6 1.1l1.5 2.6M160.6 131.5l2.9 -1.7M171.1 71.7l2.3 -1.4M191.0 22.3l2.5 -1.5M129.9 96.6l1.0 1.7M134.0 56.5l1.5 -0.9M154.2 29.1l2.7 -1.6M167.9 11.0l2.7 -1.6M134.3 48.3l0.8 1.3M116.2 11.9l1.9 3.1M202.2 15.3l3.4 -2.0M181.9 118.1l1.7 -1.0M180.8 3.4l1.4 2.3M152.4 9.0l1.1 1.9M174.8 56.4l3.0 -1.8M102.7 21.1l1.9 3.2M167.1 3.9l2.8 -1.7M186.5 87.7l1.9 3.2M96.1 46.4l1.9 3.2M121.6 36.8l2.6 -1.6M163.0 86.8l1.5 2.4M178.3 4.1l3.0 -1.8M145.2 139.9l0.9 1.5M181.2 133.6l1.6 2.7M112.8 69.8l2.1 -1.3M146.8 49.4l3.2 -2.0M143.0 8.2l1.3 2.2M203.1 51.3l0.8 1.3M145.8 12.3l1.3 2.2M179.1 88.3l2.0 -1.2M176.3 14.9l1.2 2.0M176.2 60.0l3.3 -2.0M174.3 102.0l1.7 2.8M155.0 115.6l1.1 1.9M173.1 120.0l1.6 2.7M153.8 24.1l1.1 1.8M174.0 24.0l1.8 -1.1M161.0 101.7l2.6 -1.6M155.1 23.7l1.0 1.7M153.2 104.8l2.0 -1.2M148.2 113.0l1.3 2.2M167.5 139.8l2.2 -1.3M170.1 56.2l1.4 -0.8M139.7 37.2l2.0 -1.2M173.9 98.3l1.6 -0.9M156.2 22.4l1.1 1.8M180.5 39.1l1.5 -0.9M160.7 56.4l1.2 2.0M120.9 61.5l1.3 2.1M113.5 59.5l1.3 2.2M159.1 43.7l2.8 -1.7M178.6 115.0l1.6 2.6M165.5 19.1l3.3 -2.0M132.1 9.1l3.2 -1.9M142.4 55.1l1.4 -0.8M169.4 90.9l2.8 -1.7M136.6 89.1l2.6 -1.6M104.1 20.8l2.8 -1.7M172.8 15.2l2.0 -1.2M169.6 152.3l3.1 -1.9M201.9 70.4l2.4 -1.5M178.0 99.6l2.3 -1.4M184.0 145.0l1.6 -1.0M149.0 56.8l1.6 2.6M168.4 45.0l1.6 2.7M196.9 64.8l2.5 -1.5M204.8 50.5l0.8 1.3M109.7 22.7l1.9 -1.2M189.6 109.4l2.6 -1.6M158.7 35.1l1.1 1.8M147.1 76.9l2.8 -1.7M177.2 80.4l2.6 -1.6M89.3 47.7l1.7 2.9M174.6 116.8l1.1 1.9M167.9 177.9l1.6 2.6M185.1 142.1l0.8 1.3M152.6 112.1l2.9 -1.7M158.0 125.9l1.0 1.6M151.3 63.9l1.4 2.3M196.1 60.2l3.3 -2.0M183.8 122.0l0.8 1.4M145.2 58.0l2.1 -1.3M159.1 28.6l2.7 -1.6M157.0 96.7l1.3 -0.8M147.9 58.3l1.2 2.0M141.6 72.6l1.2 1.9M179.8 102.4l1.8 -1.1M102.6 40.9l1.5 2.5M185.2 67.3l0.8 1.4M190.2 26.3l2.0 3.3" stroke="#a6a6a6" stroke-width="1.7" fill="none"/>
<path clip-path="url(#c10)" d="M212.7 20.4L245.4 13.8M245.4 13.8L278.1 7.1M203.8 55.6L238.7 47.1M187.8 75.5L221.3 67.5M221.3 67.5L277.3 54.1M180.2 103.5L231.1 90.6M231.1 90.6L263.4 82.5M185.6 133.9L210.8 127.3M212.5 148.5L266.3 137.1M166.0 170.8L219.7 157.6M174.1 180.1L228.3 166.1M190.0 184.0L243.0 171.0M166.3 194.4L223.9 183.0M243.8 -4.5L255.9 47.4M227.7 -24.3L238.9 30.9M238.9 30.9L247.9 75.2M247.9 75.2L258.6 127.3M207.5 8.7L216.1 41.5M216.1 41.5L223.3 69.1M223.3 69.1L234.8 113.4M234.8 113.4L243.4 146.2M194.4 71.0L207.4 127.1M207.4 127.1L220.4 183.0M179.8 119.2L191.4 166.4M191.4 166.4L199.5 199.5" stroke="#a6a6a6" stroke-width="0.9" fill="none"/>
<path clip-path="url(#c10)" d="M215.9 8.3L272.9 -5.7M209.7 31.8L261.2 21.7M261.2 21.7L298.3 14.4M201.6 42.9L221.2 38.1M221.2 38.1L257.3 29.3M257.3 29.3L291.5 20.9M189.3 69.5L238.8 57.7M238.8 57.7L281.6 47.4M192.9 84.7L245.7 71.4M245.7 71.4L281.1 62.6M156.7 113.1L206.3 102.8M225.9 98.8L255.8 92.6M189.3 121.7L226.8 113.6M226.8 113.6L265.0 105.4M229.0 -26.8L241.0 19.6M241.0 19.6L249.2 50.7M249.2 50.7L262.5 102.0M211.6 -21.9L224.4 30.2M224.4 30.2L233.2 66.1M233.2 66.1L239.4 91.2M239.4 91.2L244.6 112.3M196.6 41.1L209.1 96.3M209.1 96.3L216.7 129.4M193.2 109.7L204.4 165.4M204.4 165.4L211.3 200.0M179.0 154.9L186.5 187.4M186.5 187.4L191.2 207.6" stroke="#a6a6a6" stroke-width="1.7" fill="none"/>
<path clip-path="url(#c10)" d="M156.2 149.9L206.8 136.5M206.8 136.5L242.8 127.0M199.0 8.1L209.9 57.0M209.9 57.0L218.6 95.8M218.6 95.8L224.2 120.9M224.2 120.9L229.8 146.2" stroke="#a6a6a6" stroke-width="2.6" fill="none"/>
<path clip-path="url(#c10)" d="M211.3 86.9l4.1 -0.9M239.4 7.9l0.8 3.6M209.6 51.6l1.7 -0.4M230.3 113.6l0.8 3.3M241.7 51.5l1.8 -0.4M249.7 34.3l0.6 2.5M245.4 29.0l0.6 2.5M214.3 154.3l1.0 4.1M223.1 75.1l0.7 3.1M215.8 124.4l0.6 2.5M202.9 137.4l0.5 2.1M235.4 34.3l0.9 4.1M210.6 46.0l0.4 1.6M221.7 135.2l4.2 -1.0M202.0 111.8l1.0 4.1M214.9 63.6l0.7 3.2M220.4 56.1l0.5 2.3M241.9 94.8l1.0 4.4M190.7 165.7l3.3 -0.8M207.7 136.0l0.7 3.1M202.0 156.2l2.3 -0.5M247.3 65.9l3.2 -0.7M215.9 119.1l2.9 -0.7M211.9 39.6l0.4 1.8M231.9 81.0l0.9 3.8M216.0 143.1l4.2 -1.0M226.6 16.6l0.4 1.9M242.1 92.8l0.7 2.9M205.7 82.9l0.9 3.8M221.1 97.7l1.6 -0.4M244.3 85.3l0.8 3.6M231.2 43.5l3.7 -0.9M249.2 23.0l0.5 2.0M244.4 12.8l4.1 -1.0M209.2 88.5l3.5 -0.8M234.1 93.1l3.3 -0.8M237.2 107.8l2.8 -0.7M217.4 135.1l0.8 3.5M243.8 63.0l0.4 1.9M221.4 124.5l0.6 2.4M198.6 177.3l3.6 -0.8M186.6 194.5l3.2 -0.7M247.2 3.5l3.9 -0.9M246.0 35.1l1.0 4.3M240.6 74.3l0.6 2.7M245.4 10.3l0.6 2.8M218.2 32.5l1.0 4.3M219.4 25.0l0.6 2.7M220.8 40.4l0.5 2.1M245.6 79.3l0.4 1.7M208.4 169.7l0.6 2.7M218.7 25.2l2.7 -0.6M185.2 154.9l0.8 3.4M218.5 138.3l2.2 -0.5M238.6 103.4l1.9 -0.4M245.3 79.6l2.8 -0.6M228.5 35.5l3.4 -0.8M234.9 81.3l0.7 3.0M193.6 181.5l0.4 1.9M189.9 135.5l0.4 1.9M190.4 143.0l0.4 1.6M204.6 98.3l4.1 -1.0M251.0 41.1l2.3 -0.5M216.1 134.6l2.5 -0.6M229.4 42.9l3.6 -0.8M217.8 110.3l0.4 1.5M220.8 100.4l1.6 -0.4M249.1 55.8l2.1 -0.5M215.6 94.3l2.4 -0.6M240.0 18.8l2.6 -0.6M231.9 9.5l2.6 -0.6M217.8 130.4l0.5 2.1M222.8 5.2l0.8 3.5M218.0 99.7l3.0 -0.7M224.7 103.8l0.9 4.0M189.3 190.2l3.2 -0.7M207.2 129.8l0.9 3.8M220.2 112.5l4.3 -1.0M245.8 58.9l2.7 -0.6M222.9 74.4l1.9 -0.4M222.4 4.6l0.5 2.2M197.1 159.1l0.7 2.9M179.8 198.9l0.5 2.3M244.8 81.8l3.7 -0.8M230.3 63.7l3.9 -0.9M222.4 62.9l2.2 -0.5M234.7 78.5l1.0 4.4M236.0 29.5l3.9 -0.9M225.0 58.6l1.0 4.2M210.2 71.7l2.4 -0.6M191.3 132.3l1.0 4.4M223.9 104.6l0.5 2.1M232.6 34.3l4.3 -1.0M207.5 135.8l3.7 -0.9M218.5 118.6l0.9 4.1M228.7 72.3l3.5 -0.8M238.3 69.6l0.4 1.6M190.4 129.0l1.5 -0.3M247.0 63.4l0.5 2.1M214.9 117.6l0.9 4.0M212.6 146.4l0.4 1.6M222.4 56.8l0.7 3.1M182.2 160.5l3.5 -0.8M223.3 68.4l3.7 -0.9M234.3 54.7l3.7 -0.9M251.3 13.4l3.2 -0.7M219.4 5.5l0.3 1.5M201.0 139.2l0.8 3.4M223.8 121.5l3.4 -0.8M188.8 163.3l0.4 1.6M205.9 147.1l3.1 -0.7M186.9 152.8l0.8 3.4M223.8 71.9l3.0 -0.7M229.6 132.2l0.5 2.4M220.5 7.6l2.0 -0.5M201.8 183.1l1.6 -0.4M226.3 19.7l0.9 3.9M220.8 129.8l0.9 4.0M210.3 164.1l3.2 -0.7M207.2 164.1l3.7 -0.9M208.0 44.5l0.6 2.5M246.7 43.9l3.5 -0.8M188.0 147.0l0.5 2.0M233.8 116.5l1.0 4.3M204.6 68.3l3.3 -0.8M222.2 136.4l4.2 -1.0M194.3 143.0l2.5 -0.6M224.4 52.9l0.6 2.6M214.1 127.8l0.4 1.9M252.6 49.7l0.5 2.2M218.0 67.7l0.5 2.1M192.3 119.9l0.9 3.9M244.7 87.7l0.8 3.3M233.4 109.6l0.7 3.1M247.7 81.6l0.8 3.5M227.3 38.0l0.7 3.0M250.3 10.5l2.6 -0.6M211.1 155.5l3.7 -0.9M202.8 167.9l2.8 -0.7M226.4 83.5l3.7 -0.9M219.1 121.5l0.8 3.3M219.0 115.9l0.8 3.6M205.0 143.7l3.6 -0.8M251.2 35.5l3.1 -0.7M219.0 141.2l3.7 -0.9M184.2 174.9l4.4 -1.0M213.5 117.4l3.2 -0.7M225.8 53.7l2.1 -0.5M205.3 152.3l3.6 -0.8M223.3 104.6l3.1 -0.7M207.6 68.5l0.4 1.9M197.6 140.6l0.8 3.6M242.8 65.9l3.3 -0.8M225.1 63.6l2.9 -0.7M233.2 4.0l2.7 -0.6M226.1 4.1l0.6 2.8M240.7 58.5l1.6 -0.4M202.1 148.8l0.5 2.3M230.6 116.8l2.9 -0.7M198.6 161.7l1.0 4.3M224.8 133.0l4.1 -1.0M210.9 149.7l3.5 -0.8M187.8 176.5l2.7 -0.6M209.5 166.5l1.6 -0.4M220.8 30.2l3.4 -0.8M221.3 14.9l3.9 -0.9M250.4 13.1l0.4 1.9M207.9 67.3l3.0 -0.7M226.1 132.4l2.6 -0.6M210.1 114.3l3.9 -0.9M207.4 106.3l1.0 4.2M253.5 28.2l3.9 -0.9M248.8 38.0l2.6 -0.6M226.2 59.9l0.9 3.8M234.5 54.8l0.7 2.9M216.0 73.7l0.5 2.0M235.9 80.5l3.9 -0.9M186.9 154.4l3.1 -0.7M222.7 89.7l0.9 3.9M202.0 124.2l0.5 2.1M195.0 113.4l2.7 -0.6M207.3 167.5l0.8 3.5M241.0 95.7l0.9 3.9M197.4 143.9l1.0 4.2M203.5 152.8l1.9 -0.4M218.5 153.2l0.5 2.2M196.3 112.3l4.1 -0.9M221.1 145.7l0.4 1.8M243.1 65.9l0.7 3.2M198.9 181.7l3.9 -0.9M238.0 55.1l2.4 -0.6M231.3 92.9l0.9 3.9M191.0 187.1l0.5 2.2M203.2 134.8l3.4 -0.8M221.7 33.7l3.1 -0.7M232.2 30.3l0.7 3.0M184.4 182.3l4.2 -1.0M232.4 73.3l3.2 -0.7M216.5 107.0l0.5 2.3M220.4 72.7l0.4 1.7M250.4 55.7l2.5 -0.6M202.6 101.4l1.7 -0.4M205.2 155.0l2.1 -0.5M231.8 4.6l0.6 2.4M212.9 53.5l0.4 1.7M215.6 136.0l4.3 -1.0M206.1 116.8l4.0 -0.9M222.1 50.7l0.9 3.8M238.7 45.2l0.8 3.6M240.7 24.6l2.9 -0.7M220.0 60.0l3.8 -0.9M234.2 80.6l3.0 -0.7M226.7 120.5l1.0 4.2M200.7 180.7l2.1 -0.5M210.9 61.9l0.8 3.4M231.7 126.8l3.8 -0.9M231.5 75.7l0.7 3.2M201.9 72.5l4.0 -0.9M238.0 75.5l0.7 2.9M220.0 75.9l0.5 2.1M243.8 84.8l0.5 2.1M189.7 196.1l3.3 -0.8M236.5 53.0l4.3 -1.0M224.6 39.9l3.2 -0.7M208.8 120.0l0.9 3.9M214.0 54.5l1.8 -0.4M258.0 26.6l2.2 -0.5M188.0 156.5l4.4 -1.0M183.3 158.5l2.1 -0.5M208.2 173.7l0.7 2.9M223.0 126.1l0.9 3.9M218.0 61.3l2.1 -0.5M220.2 30.5l0.6 2.8M229.0 72.5l3.9 -0.9M243.7 11.9l2.6 -0.6M228.1 130.5l3.6 -0.8M209.4 119.9l0.4 1.6M202.7 94.8l4.2 -1.0M210.9 79.1l0.3 1.5M238.8 71.0l0.7 3.0M227.4 61.0l2.7 -0.6M193.0 155.8l2.5 -0.6M182.2 166.6l2.3 -0.5M208.8 64.2l1.5 -0.3M195.5 167.1l3.4 -0.8M198.4 105.2l2.0 -0.5M219.9 17.5l2.3 -0.5M245.2 79.5l0.5 2.1M210.3 76.0l1.9 -0.4M207.4 106.9l4.0 -0.9M250.0 9.1l2.5 -0.6M245.2 0.3l2.3 -0.5M240.0 113.9l1.9 -0.4M221.2 109.5l0.4 1.8M244.9 94.2l2.0 -0.5M222.6 146.0l3.7 -0.9M239.7 93.0l2.5 -0.6M233.6 82.8l0.6 2.4M230.2 81.6l1.7 -0.4M223.0 79.7l2.6 -0.6M231.5 109.0l0.7 3.2M232.2 56.5l0.4 1.6M186.0 171.9l0.5 2.1M241.7 29.4l0.9 4.0M216.5 12.0l2.9 -0.7M224.1 122.4l2.3 -0.5M243.3 31.2l2.7 -0.6M226.6 104.7l3.6 -0.8M257.0 18.5l3.6 -0.8M207.9 149.9l1.7 -0.4M200.9 164.2l3.2 -0.7M241.1 109.7l1.8 -0.4M238.0 32.1l3.7 -0.9M195.0 123.3l2.0 -0.5M202.9 176.6l1.5 -0.4M221.4 87.3l0.8 3.3M186.8 152.4l0.6 2.7M189.6 191.7l0.8 3.6M236.2 49.1l0.8 3.7M239.1 101.2l0.6 2.4M225.4 17.3l3.6 -0.8M210.1 127.6l3.1 -0.7M231.3 21.3l0.7 2.9M224.1 45.2l0.6 2.8M247.4 1.6l0.5 2.3M243.5 59.7l2.7 -0.6M192.2 191.6l2.2 -0.5M191.4 194.1l3.2 -0.7M226.6 33.2l0.4 1.8M212.8 43.1l3.2 -0.7M224.9 135.0l1.7 -0.4M231.3 123.3l3.8 -0.9M191.7 170.3l4.0 -0.9M226.9 8.3l0.7 3.0M178.8 199.1l2.2 -0.5M210.5 99.7l1.0 4.3M236.6 34.0l3.0 -0.7M221.5 118.9l0.9 3.9M239.7 39.6l3.6 -0.8M231.2 15.4l4.3 -1.0M219.7 51.0l1.0 4.3M218.9 139.2l0.8 3.6M208.3 41.7l3.3 -0.8M202.7 98.2l0.5 2.1M202.7 181.5l3.0 -0.7M234.0 30.2l3.7 -0.9M207.7 146.3l0.7 2.9M229.7 39.7l2.8 -0.6M210.6 51.9l0.7 3.0M189.1 137.9l2.6 -0.6M237.4 38.2l1.9 -0.4M245.7 37.5l0.5 2.2M247.9 71.2l0.7 3.0M234.5 51.7l0.6 2.5M204.3 80.6l2.2 -0.5M225.6 88.5l0.4 1.6M215.7 93.6l3.1 -0.7M230.6 13.1l0.6 2.5M224.4 75.6l4.2 -1.0M206.6 62.6l2.8 -0.7M208.7 95.7l3.1 -0.7M215.8 105.7l2.6 -0.6M188.8 180.7l3.9 -0.9M240.2 89.0l0.7 3.1M227.6 79.6l0.4 1.6M234.3 111.3l3.2 -0.7M195.5 131.3l3.8 -0.9M220.4 47.1l3.7 -0.8M205.2 78.3l3.0 -0.7M221.2 111.4l1.0 4.2M233.2 86.6l1.0 4.1M224.0 20.7l0.8 3.4M255.2 8.9l3.5 -0.8M231.4 54.1l2.8 -0.7M245.8 86.2l4.4 -1.0M188.6 194.5l0.6 2.8M219.1 35.0l0.4 1.7M204.0 152.2l0.5 2.1M221.4 26.1l0.5 2.0M224.8 126.4l3.8 -0.9M193.6 190.9l0.5 2.1M244.5 8.0l3.3 -0.8M209.6 155.4l4.4 -1.0M259.6 23.1l3.6 -0.8M236.2 92.9l2.4 -0.6M220.9 71.0l0.9 4.1M191.5 162.4l0.5 2.2M224.3 100.5l3.5 -0.8M240.0 75.6l0.4 1.9M237.6 92.2l1.0 4.2M202.8 174.8l4.2 -1.0M189.0 163.2l1.0 4.1M214.1 153.6l3.6 -0.8M188.9 152.6l3.5 -0.8M224.4 36.8l0.4 1.7M234.7 57.4l0.8 3.3M231.1 22.0l3.7 -0.9M188.0 183.6l0.8 3.5M204.2 105.8l3.0 -0.7M236.1 93.2l0.4 1.9M227.6 58.8l1.8 -0.4M226.1 137.4l3.4 -0.8M200.0 168.4l0.7 3.2M222.2 9.3l0.4 1.9M196.5 139.3l0.4 1.8M246.7 24.6l3.0 -0.7M250.0 3.7l0.8 3.6M239.8 41.8l0.6 2.6M227.2 128.7l0.8 3.4M242.3 46.3l2.8 -0.7M235.3 115.9l0.3 1.5M232.3 80.2l1.5 -0.3M230.0 20.8l0.7 2.9M240.1 80.2l0.5 2.2M242.7 4.7l0.7 3.2M233.9 56.0l0.9 4.0M213.5 36.7l3.6 -0.8M221.3 126.0l1.7 -0.4M245.8 46.7l4.2 -1.0M258.3 25.2l0.6 2.4M224.3 95.3l0.8 3.6M223.9 39.5l4.0 -0.9M248.3 59.6l0.5 2.4M196.1 109.3l1.0 4.3M175.6 196.6l2.2 -0.5M215.6 91.4l0.9 4.1M197.1 167.9l4.3 -1.0M204.9 150.1l4.1 -1.0M203.6 71.6l0.9 4.0M198.4 160.9l1.0 4.2M234.5 59.7l0.9 3.9M222.5 123.5l4.4 -1.0M185.4 178.2l2.1 -0.5M232.1 100.9l1.7 -0.4M186.2 196.9l2.0 -0.5M250.0 24.7l0.4 1.5M210.9 150.3l0.5 2.1M221.0 39.2l3.4 -0.8M217.7 27.5l0.5 2.4M246.9 14.7l0.5 2.1M199.5 141.8l0.7 2.8M206.6 132.8l0.4 1.7M187.6 150.1l0.9 3.9M232.5 116.0l0.9 3.8M191.8 170.5l3.1 -0.7M229.0 20.5l2.3 -0.5M227.3 42.4l3.2 -0.7M235.4 6.5l0.9 4.0M227.2 13.7l0.4 1.6M218.5 70.9l3.6 -0.8M245.1 73.8l3.2 -0.7M200.8 118.6l3.7 -0.8M226.2 7.6l1.6 -0.4M189.6 141.3l3.4 -0.8M213.8 124.3l0.6 2.8M204.1 140.3l3.4 -0.8M225.8 72.8l3.7 -0.8M227.3 126.2l0.9 3.9M246.4 85.8l1.9 -0.4M196.1 139.3l0.7 3.0M179.9 193.3l0.4 1.6M207.4 85.9l1.6 -0.4M203.1 181.9l1.9 -0.4M245.6 69.7l0.6 2.5M230.4 67.0l1.0 4.1M236.8 9.8l1.8 -0.4M226.5 127.4l0.7 3.1M247.0 71.8l3.4 -0.8M185.3 188.3l0.4 1.6M238.2 48.7l2.0 -0.5M201.6 176.6l1.8 -0.4M210.2 47.1l0.7 3.0M248.8 3.0l4.3 -1.0M211.0 110.0l3.1 -0.7M249.9 60.5l4.0 -0.9M209.1 157.3l2.6 -0.6M222.9 121.5l2.3 -0.5M207.9 133.0l0.5 2.0M190.6 146.7l0.4 1.5M221.4 34.9l4.3 -1.0M221.6 117.5l2.2 -0.5M229.4 27.2l3.6 -0.8M233.3 24.4l0.9 3.8M219.7 100.2l0.9 3.9M204.7 162.6l1.8 -0.4M232.0 111.9l0.6 2.7M193.6 129.2l2.9 -0.7M228.0 113.0l4.3 -1.0M230.6 50.8l0.5 2.2M226.5 11.2l3.3 -0.8M196.0 158.0l3.6 -0.8M229.5 131.9l4.0 -0.9M231.1 34.6l3.6 -0.8M209.1 40.6l0.8 3.3M235.7 18.1l0.4 1.8M191.0 152.2l2.4 -0.5M236.0 39.5l3.6 -0.8M206.1 105.0l3.6 -0.8M255.8 11.1l0.6 2.5M225.5 127.3l2.7 -0.6M223.3 45.3l0.5 2.0M211.5 46.9l0.4 1.6M230.8 87.8l2.5 -0.6M224.9 105.7l1.0 4.3M222.1 109.0l0.7 3.0M250.2 12.8l0.6 2.6M215.6 46.5l1.8 -0.4M252.3 35.6l4.1 -0.9M193.4 172.9l0.4 1.6M184.9 197.7l0.8 3.4M200.0 175.5l1.7 -0.4M210.9 123.0l4.3 -1.0M222.3 43.2l0.6 2.7M223.2 48.0l0.9 3.8M252.9 34.3l3.4 -0.8M211.6 28.2l0.9 4.0M249.4 65.3l0.8 3.3M209.3 75.2l3.1 -0.7M218.4 106.0l1.0 4.2M218.7 99.8l1.6 -0.4M215.8 75.9l0.4 1.9M218.5 83.9l0.8 3.4M173.4 199.8l0.6 2.5M220.8 34.7l0.8 3.5M205.1 164.1l1.9 -0.4M221.4 25.9l0.5 2.3M216.6 139.1l0.9 4.0M230.4 124.9l2.5 -0.6M254.2 25.2l3.9 -0.9M201.6 126.7l0.8 3.5M197.7 168.8l0.6 2.5M232.2 106.1l1.9 -0.4M222.0 110.1l1.0 4.3M198.6 161.9l3.0 -0.7M196.4 169.7l0.7 3.2M231.6 131.4l3.8 -0.9M220.5 74.6l0.7 3.1M187.6 134.6l2.9 -0.7M236.7 58.6l2.1 -0.5M219.7 131.7l2.0 -0.5M214.1 56.6l0.8 3.6M189.5 136.2l0.5 2.4M196.9 108.6l0.4 1.9M240.5 81.6l2.2 -0.5M219.1 58.5l0.6 2.7M241.1 27.6l3.9 -0.9M197.0 137.7l3.0 -0.7M199.2 142.2l0.7 3.1M228.3 83.9l2.2 -0.5M221.9 148.0l2.3 -0.5M195.1 163.8l2.8 -0.6M209.4 64.5l3.3 -0.8M230.7 83.9l4.2 -1.0M191.3 176.5l0.9 3.8M245.5 95.3l0.6 2.5M219.5 26.7l0.4 1.7M244.9 64.6l4.0 -0.9M209.8 154.0l3.1 -0.7M238.3 118.7l2.4 -0.6M227.1 56.9l0.9 3.7M212.7 154.9l3.6 -0.8M239.5 14.1l3.7 -0.9M240.4 20.5l3.5 -0.8M215.5 16.7l0.5 2.3M248.5 44.0l0.6 2.8M207.9 171.5l0.9 4.1M247.2 43.5l0.8 3.4M184.6 199.6l0.8 3.5M176.6 190.0l0.9 3.9M239.8 110.4l3.0 -0.7M216.7 150.2l0.9 4.0M230.3 94.7l0.9 4.0M197.5 169.5l2.7 -0.6M190.5 150.5l3.7 -0.9M195.5 156.6l0.8 3.3M219.4 41.8l0.9 4.0M217.0 154.8l2.5 -0.6M246.9 75.3l0.3 1.5M186.3 162.2l2.4 -0.6" stroke="#a6a6a6" stroke-width="1.8" fill="none"/>
<path clip-path="url(#c11)" d="M177.0 104.2L200.7 99.6M147.8 115.8L187.0 106.0M187.0 106.0L210.9 100.1M210.9 100.1L248.4 90.8M150.6 125.4L191.3 116.5M222.2 109.7L265.0 100.3M230.0 120.1L252.6 114.3M184.8 138.6L219.2 129.5M219.2 129.5L240.4 124.0M188.3 149.3L238.1 137.5M158.9 165.8L217.6 153.9M216.5 62.6L223.7 90.7M189.4 69.2L195.3 96.4M195.3 96.4L202.9 131.0M202.9 131.0L214.2 183.1M178.8 71.6L190.8 125.9" stroke="#a6a6a6" stroke-width="1.2" fill="none"/>
<path clip-path="url(#c11)" d="M201.3 85.5L259.1 70.6M233.0 108.1L244.2 150.6M204.0 66.2L210.7 100.4M210.7 100.4L218.2 138.7M218.2 138.7L224.9 172.9" stroke="#a6a6a6" stroke-width="2.0" fill="none"/>
<path clip-path="url(#c11)" d="M221.0 103.8l2.6 -0.6M201.4 87.4l3.0 -0.7M211.5 118.8l0.6 2.5M213.7 131.4l1.0 4.3M204.0 125.9l0.6 2.6M189.1 135.0l0.6 2.4M219.6 124.3l1.7 -0.4M211.2 95.6l0.4 1.6M190.1 108.7l0.7 3.0M198.4 103.6l3.3 -0.8M206.5 126.4l3.6 -0.8M225.2 93.7l0.7 3.0M226.4 95.2l1.8 -0.4M234.2 113.8l2.2 -0.5M202.8 160.9l2.0 -0.5M223.2 99.4l4.2 -1.0M201.1 154.9l1.6 -0.4M201.6 115.5l3.7 -0.9M186.3 117.7l0.9 3.7M225.3 96.7l1.9 -0.4M232.3 112.6l0.6 2.5M193.5 123.0l2.8 -0.6M201.3 127.8l0.5 2.3M212.1 118.3l0.9 3.8M192.0 139.3l0.8 3.5M213.8 96.2l0.9 4.0M234.7 98.0l3.7 -0.8M187.9 160.7l1.5 -0.4M198.6 159.7l3.6 -0.8M206.2 86.5l0.6 2.6M197.4 154.3l0.6 2.5M222.4 90.0l0.8 3.3M198.6 127.9l0.3 1.5M198.5 159.9l0.3 1.5M213.9 138.4l3.6 -0.8M187.5 117.0l0.8 3.4M201.4 164.3l0.6 2.5M214.9 138.7l2.0 -0.5M231.6 118.4l2.5 -0.6M207.4 122.6l2.9 -0.7M228.9 126.4l0.8 3.3M214.7 101.6l1.9 -0.4M201.1 147.7l2.2 -0.5M196.2 124.7l4.3 -1.0M191.0 150.2l0.6 2.6M189.2 152.7l0.6 2.6M187.7 157.7l0.5 2.1M194.8 122.6l0.7 3.0M214.7 123.3l3.0 -0.7M195.2 150.2l4.0 -0.9M196.0 137.2l3.1 -0.7M228.2 136.2l3.2 -0.7M215.7 142.7l1.5 -0.3M231.4 88.9l0.6 2.8M203.1 123.7l2.2 -0.5M195.9 101.7l0.7 3.0M220.7 101.2l2.4 -0.6M211.1 150.1l3.3 -0.8M222.1 107.4l0.9 3.8M224.8 94.3l3.8 -0.9M189.4 110.7l1.0 4.2M200.0 124.7l4.2 -1.0M230.1 117.4l0.7 3.2M221.7 146.8l2.9 -0.7M227.6 134.9l1.7 -0.4M197.5 131.1l3.4 -0.8M227.8 91.3l4.1 -0.9M206.7 92.5l1.9 -0.4M229.3 131.3l4.0 -0.9M193.3 99.9l0.6 2.5M223.8 125.3l2.6 -0.6M200.4 142.8l0.5 2.3M186.3 119.1l1.0 4.3M193.3 120.2l0.9 3.7M190.5 154.0l0.5 2.2M218.2 154.6l3.0 -0.7M227.6 128.5l2.1 -0.5M219.4 90.6l0.4 1.6M231.6 101.6l0.9 3.9M209.0 138.1l3.6 -0.8M221.8 101.2l0.6 2.4M211.6 149.1l0.9 3.7M203.4 161.0l0.3 1.5M203.3 163.5l2.3 -0.5M216.0 157.2l2.1 -0.5M235.9 121.2l0.6 2.5M197.9 142.9l0.4 1.9M232.4 128.2l3.1 -0.7M217.0 96.2l2.5 -0.6M212.9 99.4l3.5 -0.8M228.5 87.1l2.1 -0.5M202.9 138.6l4.3 -1.0M223.6 86.7l1.0 4.3M215.6 105.3l2.5 -0.6M223.2 87.2l2.8 -0.7M199.0 94.3l0.7 2.9M187.6 121.0l1.9 -0.4M214.8 124.6l2.7 -0.6M191.1 147.8l2.3 -0.5M220.5 116.2l0.5 2.1M187.8 159.2l1.7 -0.4M205.4 120.6l2.2 -0.5M208.3 89.6l0.8 3.5M205.6 92.3l3.4 -0.8M208.4 113.0l0.9 4.0M224.7 111.8l1.0 4.2M197.5 113.0l4.3 -1.0M223.0 90.9l0.5 2.2M193.0 138.4l0.9 4.1M188.9 133.8l2.2 -0.5M186.4 157.5l0.4 1.9M209.6 124.3l2.9 -0.7M193.0 109.8l0.6 2.4M227.3 108.4l3.1 -0.7M189.3 86.9l0.7 2.9M210.4 130.9l0.6 2.7M223.4 112.9l3.6 -0.8M192.6 95.2l4.3 -1.0M202.7 160.9l2.7 -0.6M191.1 144.1l3.2 -0.7M200.5 131.0l0.4 1.6M226.1 112.4l0.5 2.4M200.0 140.5l4.3 -1.0M191.8 140.3l1.8 -0.4M223.7 130.8l2.9 -0.7M199.7 89.3l0.9 3.9M211.6 113.2l0.4 1.9M232.3 121.2l0.4 1.8M191.0 160.1l1.0 4.2M211.2 108.5l0.9 4.1M194.2 98.4l3.0 -0.7M215.9 87.5l2.3 -0.5M189.0 124.1l4.4 -1.0M234.4 106.9l2.9 -0.7M217.1 139.6l0.5 2.1M187.4 115.9l0.5 2.1M226.5 108.4l0.6 2.5M201.8 96.0l0.5 2.0M228.0 132.4l1.0 4.4M223.8 95.1l3.1 -0.7M201.8 140.1l1.0 4.3M193.4 91.0l0.5 2.0M200.5 108.3l0.7 3.0M222.9 110.5l4.0 -0.9M201.8 88.2l0.7 2.9M189.0 134.6l2.1 -0.5M188.4 139.0l2.7 -0.6M221.6 118.4l0.4 1.6M233.1 112.2l3.1 -0.7M211.7 118.0l0.7 3.0M197.9 156.2l0.6 2.8M214.6 121.3l0.9 3.8M191.7 137.2l2.9 -0.7M202.7 162.9l1.0 4.1M212.7 139.3l0.4 1.8M213.3 102.3l0.5 2.4M200.3 115.1l4.2 -1.0M188.5 108.5l3.7 -0.9M189.7 159.3l2.0 -0.5M187.2 150.0l2.5 -0.6M227.8 133.2l3.2 -0.7M215.2 91.0l0.7 3.1M209.5 118.4l0.4 1.8M211.0 97.1l0.9 3.9M215.5 127.3l2.8 -0.6M218.2 116.6l2.6 -0.6M215.6 156.5l0.5 2.2M212.6 142.1l0.8 3.5M200.2 106.4l0.6 2.5M191.0 154.6l2.1 -0.5M190.3 116.5l3.1 -0.7M212.9 123.8l2.0 -0.5M208.9 126.3l0.7 3.0M197.9 91.6l0.9 4.1M216.7 146.6l0.6 2.7M204.9 151.2l0.6 2.8M191.0 132.7l0.7 3.2" stroke="#a6a6a6" stroke-width="1.9" fill="none"/>
<path clip-path="url(#c12)" d="M230.1 140.1 L234.1 117.1 L240.1 118.2 L236.0 141.1ZM234.4 115.6 L237.4 98.6 L243.3 99.6 L240.3 116.6ZM251.0 21.2 L255.5 -4.3 L261.5 -3.2 L257.0 22.3ZM232.6 169.6 L241.6 118.9 L247.2 119.9 L238.3 170.5ZM241.8 117.3 L251.6 61.9 L257.2 62.9 L247.5 118.3ZM251.9 60.4 L256.2 36.0 L261.8 37.0 L257.5 61.4ZM256.5 34.4 L260.3 12.4 L266.0 13.4 L262.1 35.4ZM260.6 10.8 L264.6 -12.0 L270.3 -11.0 L266.3 11.8ZM243.2 152.1 L248.1 123.9 L255.8 125.3 L250.8 153.4ZM248.4 122.4 L252.8 97.2 L260.5 98.6 L256.0 123.7ZM253.1 95.6 L260.5 53.8 L268.1 55.1 L260.7 97.0ZM260.8 52.2 L270.1 -0.6 L277.7 0.7 L268.4 53.5ZM253.1 149.7 L256.2 132.2 L262.8 133.3 L259.7 150.8ZM256.4 130.6 L260.4 108.1 L267.0 109.2 L263.0 131.8ZM260.7 106.5 L263.8 88.9 L270.4 90.1 L267.3 107.7ZM264.1 87.4 L267.5 68.0 L274.1 69.2 L270.7 88.5ZM267.8 66.4 L271.9 42.9 L278.5 44.1 L274.4 67.6ZM272.2 41.4 L276.3 18.2 L282.9 19.3 L278.8 42.5ZM266.0 124.1 L273.6 81.2 L281.3 82.6 L273.7 125.5ZM273.9 79.7 L278.3 54.7 L286.0 56.0 L281.6 81.0ZM278.5 53.1 L281.6 35.8 L289.3 37.2 L286.3 54.4ZM281.9 34.3 L286.2 9.9 L293.9 11.2 L289.6 35.6ZM270.4 153.5 L282.0 87.9 L288.6 89.0 L277.0 154.7ZM282.3 86.3 L286.8 60.5 L293.4 61.6 L288.9 87.5ZM287.1 58.9 L291.2 35.8 L297.8 37.0 L293.7 60.1ZM291.5 34.2 L295.7 10.2 L302.3 11.4 L298.1 35.4ZM282.6 132.2 L285.7 114.9 L293.4 116.3 L290.3 133.6ZM285.9 113.3 L290.7 86.1 L298.5 87.4 L293.7 114.7ZM291.0 84.5 L294.9 62.7 L302.6 64.1 L298.7 85.9ZM295.1 61.2 L299.8 34.9 L307.5 36.3 L302.9 62.5ZM300.0 33.3 L304.1 10.5 L311.8 11.9 L307.8 34.7ZM292.2 131.9 L295.7 112.3 L300.7 113.2 L297.2 132.8ZM296.0 110.7 L303.5 68.3 L308.4 69.2 L301.0 111.6ZM303.7 66.7 L320.8 -30.1 L325.8 -29.2 L308.7 67.6ZM305.0 98.2 L309.5 72.4 L314.4 73.3 L309.9 99.1ZM309.8 70.9 L312.9 53.2 L317.8 54.0 L314.7 71.7ZM313.2 51.6 L317.9 24.8 L322.8 25.7 L318.1 52.5ZM309.1 112.5 L314.0 85.0 L321.4 86.3 L316.6 113.8ZM314.3 83.4 L328.6 2.3 L336.0 3.6 L321.7 84.7ZM318.0 114.7 L322.9 86.9 L329.9 88.2 L325.0 116.0ZM323.2 85.4 L327.5 60.8 L334.5 62.0 L330.2 86.6ZM327.8 59.2 L334.6 20.9 L341.6 22.1 L334.8 60.4Z" stroke="#a6a6a6" stroke-width="1.1" fill="none"/>
<path clip-path="url(#c12)" d="M234.0 125.0 l0.4 -2.5M231.4 139.0 l3.0 0.5M233.6 127.8 l0.6 -3.2M235.3 118.7 l2.9 0.5M238.1 121.8 l0.4 -2.5M235.6 136.2 l0.6 -3.7M236.6 130.5 l0.7 -3.8M235.5 118.7 l3.3 0.6M232.8 139.2 l1.6 0.3M236.1 114.5 l1.7 0.3M238.4 100.0 l3.5 0.6M240.9 105.9 l0.6 -3.5M240.7 107.3 l0.6 -3.7M241.2 104.1 l0.3 -1.8M236.8 109.2 l0.7 -3.8M235.6 114.5 l3.9 0.7M256.0 20.1 l0.5 -2.8M256.0 20.4 l0.4 -2.2M252.7 20.2 l3.2 0.6M256.4 -2.8 l2.2 0.4M253.9 12.1 l0.4 -2.5M252.7 20.2 l3.5 0.6M256.2 19.2 l0.4 -2.5M257.0 -2.7 l3.2 0.6M253.9 20.4 l2.1 0.4M239.5 138.3 l0.5 -3.0M239.6 155.8 l0.6 -3.2M233.9 168.5 l2.5 0.4M240.9 148.4 l0.5 -2.7M235.0 168.7 l2.2 0.4M237.8 148.0 l0.5 -2.9M241.9 142.5 l0.5 -2.6M234.9 168.6 l1.9 0.3M242.4 120.4 l3.3 0.6M239.3 139.1 l0.3 -1.6M238.5 143.6 l0.5 -2.7M241.6 125.9 l0.3 -1.9M235.2 168.7 l1.5 0.3M242.7 120.4 l2.8 0.5M234.5 166.7 l0.3 -1.7M237.6 148.8 l0.5 -3.0M243.2 134.8 l0.4 -2.1M243.0 116.2 l3.7 0.6M243.3 116.3 l3.2 0.6M247.8 91.0 l0.3 -1.9M253.7 63.6 l1.7 0.3M244.0 112.4 l0.3 -1.7M252.7 63.5 l2.6 0.5M252.2 84.2 l0.6 -3.4M249.8 97.9 l0.5 -2.9M252.9 63.5 l2.3 0.4M243.3 116.3 l1.9 0.3M250.9 91.5 l0.7 -3.8M253.6 63.6 l1.5 0.3M251.4 88.8 l0.3 -1.9M252.6 63.4 l3.1 0.5M243.2 116.3 l2.7 0.5M253.8 63.6 l2.0 0.4M248.6 86.2 l0.7 -3.8M257.7 52.6 l0.5 -2.7M255.0 50.1 l0.6 -3.4M254.7 59.5 l1.8 0.3M257.6 37.6 l2.7 0.5M255.2 48.9 l0.3 -2.0M258.3 49.7 l0.5 -2.9M253.7 59.4 l2.9 0.5M253.4 59.3 l3.0 0.5M259.6 42.2 l0.4 -2.4M260.6 18.6 l0.3 -1.6M261.9 14.0 l1.6 0.3M261.3 13.9 l2.6 0.5M263.3 21.0 l0.3 -1.6M261.2 13.9 l3.5 0.6M261.4 13.9 l2.2 0.4M259.2 26.4 l0.3 -1.9M258.5 33.5 l2.7 0.5M267.3 -1.6 l0.4 -2.3M264.1 -1.6 l0.7 -3.7M261.8 9.7 l3.8 0.7M268.2 -6.6 l0.4 -2.2M267.2 -1.0 l0.5 -2.6M265.8 -10.4 l2.4 0.4M265.8 -10.4 l2.3 0.4M265.5 -10.5 l3.5 0.6M262.5 7.6 l0.6 -3.5M246.4 151.3 l1.7 0.3M246.7 139.5 l0.5 -3.1M251.4 125.8 l2.9 0.5M253.3 131.5 l0.6 -3.2M250.7 125.7 l3.3 0.6M247.0 137.6 l0.6 -3.1M246.6 151.4 l2.4 0.4M245.8 151.2 l3.4 0.6M251.4 125.8 l2.7 0.5M251.2 125.8 l3.0 0.5M247.6 151.5 l1.6 0.3M254.1 98.7 l3.6 0.6M252.6 105.9 l0.5 -2.8M250.2 121.4 l2.6 0.5M250.5 121.4 l2.5 0.4M254.0 98.7 l2.5 0.4M252.9 104.5 l0.5 -2.6M257.4 108.3 l0.6 -3.3M255.0 98.9 l2.4 0.4M257.6 107.4 l0.4 -2.1M260.3 62.5 l0.6 -3.6M261.6 55.3 l2.9 0.5M258.2 95.2 l1.6 0.3M257.0 80.9 l0.7 -3.8M264.2 69.8 l0.4 -2.1M257.2 80.0 l0.4 -2.4M259.9 94.4 l0.4 -2.2M259.0 69.6 l0.3 -1.7M262.8 55.5 l3.2 0.6M260.2 62.9 l0.7 -3.8M256.1 94.8 l2.8 0.5M256.4 94.9 l1.8 0.3M255.2 91.0 l0.5 -3.0M256.3 94.9 l3.6 0.6M263.7 55.6 l2.0 0.4M271.1 0.9 l3.9 0.7M262.4 51.2 l2.9 0.5M272.7 1.2 l2.9 0.5M262.4 51.2 l3.7 0.7M262.5 51.2 l1.8 0.3M264.8 51.6 l1.8 0.3M263.4 51.3 l3.0 0.5M262.9 47.4 l0.3 -1.8M270.4 34.5 l0.4 -2.5M273.8 1.4 l1.9 0.3M266.7 26.2 l0.3 -1.5M263.5 44.1 l0.5 -2.8M262.1 51.1 l2.8 0.5M262.9 51.2 l2.5 0.4M268.9 13.5 l0.7 -3.9M271.6 1.0 l3.1 0.5M262.9 51.2 l2.9 0.5M255.9 148.8 l2.8 0.5M255.9 148.8 l2.4 0.4M256.0 148.9 l2.9 0.5M254.6 148.5 l0.5 -2.6M257.3 133.7 l3.4 0.6M259.5 144.2 l0.4 -2.2M255.4 148.7 l3.5 0.6M261.6 109.6 l3.1 0.6M264.2 117.6 l0.6 -3.4M262.7 126.0 l0.4 -2.4M262.3 109.7 l2.1 0.4M261.4 109.6 l1.7 0.3M261.1 111.7 l0.3 -1.8M261.6 109.6 l2.8 0.5M262.3 109.7 l3.1 0.5M259.3 129.8 l2.8 0.5M267.2 100.9 l0.3 -1.8M262.2 105.2 l0.5 -2.7M265.8 90.6 l2.7 0.5M265.2 90.5 l3.6 0.6M263.4 105.7 l2.2 0.4M267.4 99.7 l0.3 -1.6M262.2 105.4 l1.9 0.3M265.2 90.5 l3.2 0.6M266.9 78.9 l0.6 -3.2M271.7 75.0 l0.3 -1.9M267.4 75.9 l0.4 -2.3M265.7 86.3 l2.1 0.4M270.1 84.0 l0.6 -3.2M269.0 69.6 l3.3 0.6M269.7 86.6 l0.3 -2.0M266.1 83.3 l0.4 -2.1M272.4 47.9 l0.4 -2.1M273.5 44.5 l3.3 0.6M269.4 64.5 l0.3 -1.9M274.7 58.0 l0.3 -1.9M276.1 50.0 l0.5 -2.9M273.9 62.7 l0.4 -2.5M270.8 56.5 l0.3 -1.9M270.4 59.2 l0.4 -2.1M269.6 63.6 l0.6 -3.4M276.0 27.3 l0.4 -2.4M279.0 34.0 l0.7 -3.9M274.6 40.5 l2.5 0.4M277.1 19.6 l3.2 0.6M277.8 40.5 l0.5 -2.8M274.7 34.4 l0.6 -3.2M277.8 19.8 l2.7 0.5M274.5 40.4 l2.2 0.4M277.8 19.8 l2.3 0.4M268.4 123.2 l3.1 0.5M275.6 82.9 l2.0 0.4M268.8 123.3 l1.9 0.3M267.8 121.3 l0.3 -1.5M270.8 123.6 l2.1 0.4M277.8 94.9 l0.6 -3.7M268.9 123.3 l3.1 0.5M269.7 123.4 l3.0 0.5M276.3 83.0 l2.3 0.4M277.6 83.2 l2.2 0.4M269.6 123.4 l2.3 0.4M272.5 94.8 l0.3 -1.6M270.1 123.5 l2.1 0.4M268.2 123.2 l3.1 0.5M278.3 79.1 l1.8 0.3M280.9 56.4 l3.8 0.7M281.7 56.6 l1.7 0.3M282.9 66.1 l0.6 -3.5M281.6 73.2 l0.5 -2.8M278.2 79.1 l1.7 0.3M279.4 56.2 l1.8 0.3M275.4 78.7 l0.4 -2.0M282.8 66.7 l0.3 -1.7M282.7 66.9 l0.5 -3.0M282.1 52.4 l1.6 0.3M283.2 37.5 l2.0 0.3M280.8 52.2 l3.2 0.6M283.2 37.5 l3.3 0.6M282.4 37.3 l3.3 0.6M281.2 52.2 l2.8 0.5M282.8 52.5 l1.9 0.3M281.6 43.2 l0.6 -3.3M283.3 33.2 l2.5 0.4M289.0 11.7 l3.6 0.6M286.4 15.9 l0.6 -3.3M291.1 19.3 l0.6 -3.4M284.2 28.4 l0.3 -1.7M283.6 31.9 l0.6 -3.7M289.8 11.8 l1.6 0.3M289.3 29.6 l0.5 -2.9M283.2 33.2 l2.5 0.4M286.7 14.1 l0.5 -2.9M276.4 150.7 l0.4 -2.4M277.7 120.0 l0.7 -3.9M281.7 97.1 l0.3 -1.8M283.3 89.4 l3.2 0.6M286.7 92.1 l0.4 -2.3M272.7 152.6 l3.3 0.6M272.7 152.6 l2.5 0.4M283.9 89.5 l2.8 0.5M272.4 152.5 l3.4 0.6M284.2 89.6 l2.0 0.4M282.6 92.0 l0.3 -1.8M283.0 89.4 l2.6 0.5M278.2 116.9 l0.6 -3.5M285.2 100.6 l0.4 -2.3M283.2 89.4 l3.8 0.7M272.1 152.5 l3.2 0.6M272.3 152.5 l3.5 0.6M272.7 148.2 l0.5 -2.8M283.6 89.5 l3.8 0.7M280.4 104.1 l0.5 -2.7M275.4 132.6 l0.6 -3.4M285.8 73.6 l0.5 -3.0M286.0 72.4 l0.6 -3.1M288.3 83.0 l0.4 -2.5M284.6 80.6 l0.6 -3.6M289.6 62.3 l2.5 0.4M286.0 72.7 l0.6 -3.1M289.6 76.1 l0.4 -2.3M283.7 85.2 l1.6 0.3M284.9 78.8 l0.6 -3.4M290.9 44.9 l0.6 -3.4M290.4 47.4 l0.4 -2.4M292.0 37.3 l3.3 0.6M290.9 44.7 l0.6 -3.3M289.4 53.6 l0.7 -3.9M295.5 42.4 l0.4 -2.1M288.9 57.9 l1.7 0.3M289.8 58.0 l2.4 0.4M290.9 44.9 l0.3 -1.6M293.9 33.3 l3.0 0.5M293.1 33.2 l2.1 0.4M298.2 26.8 l0.3 -1.5M293.1 32.5 l0.6 -3.2M297.0 11.8 l3.4 0.6M296.5 11.7 l3.8 0.7M294.7 23.4 l0.4 -2.4M299.8 18.0 l0.4 -2.4M295.1 21.2 l0.6 -3.3M287.2 116.5 l3.8 0.7M286.0 131.5 l2.6 0.5M285.8 131.4 l1.7 0.3M284.9 126.5 l0.5 -2.8M285.5 123.2 l0.4 -2.2M284.8 127.2 l0.4 -2.2M285.4 123.9 l0.6 -3.4M288.5 106.1 l0.4 -2.4M287.6 112.3 l3.0 0.5M291.3 113.0 l1.6 0.3M289.2 102.1 l0.6 -3.5M288.4 112.5 l2.5 0.4M292.8 112.2 l0.7 -3.7M288.1 112.4 l2.6 0.5M288.8 112.5 l1.5 0.3M287.7 112.3 l3.1 0.5M291.7 87.6 l3.3 0.6M294.4 83.8 l1.6 0.3M295.8 64.2 l1.8 0.3M294.0 83.7 l1.7 0.3M295.7 64.2 l3.5 0.6M293.9 75.5 l0.6 -3.6M298.0 82.8 l0.4 -2.1M294.2 83.7 l3.7 0.7M295.4 83.9 l2.1 0.4M292.4 83.4 l3.2 0.6M303.1 53.6 l0.5 -3.0M302.9 54.6 l0.5 -2.9M298.0 60.3 l3.8 0.7M299.7 42.7 l0.5 -2.7M297.6 60.3 l1.8 0.3M299.4 60.6 l2.6 0.5M302.4 57.9 l0.4 -2.5M298.7 48.3 l0.7 -3.7M303.2 53.3 l0.7 -3.8M298.6 60.4 l3.2 0.6M308.5 23.1 l0.7 -3.9M302.3 32.4 l3.2 0.6M307.6 28.1 l0.6 -3.4M303.5 32.6 l2.1 0.4M305.4 12.1 l3.9 0.7M305.0 12.0 l3.6 0.6M309.6 17.0 l0.5 -2.8M304.2 17.2 l0.5 -2.9M303.9 19.0 l0.5 -2.9M298.3 119.2 l0.4 -2.4M297.0 113.8 l2.1 0.4M293.7 130.9 l1.6 0.3M298.9 116.1 l0.4 -2.1M295.5 120.9 l0.6 -3.4M296.4 129.9 l0.5 -2.9M295.7 119.8 l0.5 -2.6M297.2 109.6 l3.5 0.6M305.4 79.0 l0.5 -3.1M297.3 109.6 l1.7 0.3M304.3 69.8 l2.0 0.4M299.4 98.7 l0.3 -1.6M305.5 78.3 l0.5 -2.9M298.0 109.7 l1.7 0.3M304.7 69.8 l2.4 0.4M304.8 69.9 l2.1 0.4M304.2 69.8 l3.4 0.6M301.9 98.7 l0.4 -2.3M300.9 90.1 l0.5 -3.1M297.3 109.6 l1.8 0.3M302.6 80.7 l0.7 -3.9M318.9 2.4 l0.5 -2.6M305.0 65.6 l2.9 0.5M317.4 -3.3 l0.7 -3.8M313.4 19.4 l0.4 -2.2M317.5 -3.7 l0.4 -2.5M321.8 -13.8 l0.3 -1.5M321.6 -28.6 l3.9 0.7M305.6 65.7 l2.2 0.4M321.6 -28.6 l3.7 0.7M317.0 -1.2 l0.5 -2.7M321.0 -23.7 l0.7 -3.9M305.1 65.6 l2.3 0.4M305.9 65.8 l1.6 0.3M316.3 17.0 l0.4 -2.2M314.4 13.8 l0.7 -3.9M322.0 -28.6 l2.2 0.4M320.8 -8.4 l0.5 -2.9M313.4 33.4 l0.4 -2.1M314.1 15.7 l0.5 -2.8M312.9 36.3 l0.3 -1.8M312.6 24.1 l0.7 -3.9M319.8 -17.1 l0.3 -1.9M305.2 65.7 l2.6 0.5M321.6 -28.6 l2.1 0.4M321.6 -28.6 l2.8 0.5M314.5 27.1 l0.5 -2.9M308.4 48.1 l0.3 -1.7M321.3 -11.0 l0.6 -3.6M310.3 73.9 l3.7 0.6M306.2 97.1 l3.6 0.6M309.7 79.0 l0.4 -2.5M310.3 73.9 l3.2 0.6M310.9 74.0 l1.9 0.3M310.3 73.9 l3.7 0.7M310.7 74.0 l1.6 0.3M306.9 94.8 l0.4 -2.4M306.7 95.6 l0.5 -3.1M311.0 69.8 l3.3 0.6M311.9 66.5 l0.5 -2.8M313.7 54.6 l2.2 0.4M311.0 69.8 l2.0 0.3M313.8 69.3 l0.6 -3.1M313.7 54.6 l3.2 0.6M311.0 69.8 l2.2 0.4M320.3 32.3 l0.3 -1.8M319.0 39.8 l0.7 -3.7M318.9 26.3 l1.8 0.3M316.5 40.0 l0.5 -3.1M320.3 32.3 l0.6 -3.6M319.0 26.4 l2.2 0.4M314.4 50.5 l3.1 0.6M314.9 50.6 l2.4 0.4M318.7 26.3 l1.9 0.3M312.4 111.8 l2.0 0.3M312.4 111.8 l2.1 0.4M314.3 90.5 l0.7 -3.9M311.2 111.6 l2.7 0.5M310.6 111.5 l3.0 0.5M311.6 111.6 l2.7 0.5M316.5 106.7 l0.5 -2.9M315.7 86.6 l1.6 0.3M310.5 111.5 l3.1 0.5M312.7 99.8 l0.5 -3.0M326.9 19.1 l0.3 -1.6M331.3 4.1 l3.3 0.6M330.1 3.9 l3.9 0.7M330.6 3.9 l2.6 0.5M331.4 4.1 l2.2 0.4M329.0 7.3 l0.5 -2.8M324.8 59.4 l0.5 -3.0M321.5 78.4 l0.7 -3.8M317.3 82.6 l3.1 0.6M329.5 3.8 l2.2 0.4M317.4 82.6 l1.7 0.3M333.8 8.6 l0.3 -1.7M331.4 4.1 l2.4 0.4M320.9 53.1 l0.4 -2.2M318.1 69.2 l0.4 -2.2M323.2 69.0 l0.4 -2.4M317.0 82.6 l3.8 0.7M329.1 35.3 l0.6 -3.4M326.2 51.5 l0.5 -2.8M324.7 31.7 l0.5 -2.6M318.6 66.6 l0.5 -3.0M331.6 4.1 l3.1 0.6M331.2 4.1 l3.4 0.6M316.8 82.5 l3.4 0.6M318.6 66.3 l0.5 -2.7M320.4 108.8 l0.6 -3.3M325.1 88.6 l1.5 0.3M320.5 113.8 l2.3 0.4M322.3 114.1 l1.5 0.3M320.7 113.9 l3.3 0.6M327.6 93.9 l0.3 -2.0M328.0 91.7 l0.4 -2.0M326.0 103.1 l0.3 -1.7M324.8 88.6 l2.3 0.4M323.7 88.4 l3.1 0.5M330.1 62.5 l1.9 0.3M325.5 84.4 l3.5 0.6M332.0 69.2 l0.3 -1.8M324.6 84.3 l2.2 0.4M329.4 83.7 l0.4 -2.2M331.0 74.8 l0.4 -2.3M327.0 71.0 l0.7 -3.9M327.9 66.3 l0.6 -3.5M326.8 84.7 l2.6 0.5M324.8 84.3 l3.4 0.6M330.3 58.3 l1.9 0.3M329.1 58.1 l2.0 0.4M336.8 42.0 l0.4 -2.3M338.6 31.7 l0.7 -3.9M330.3 58.3 l2.6 0.5M329.5 58.2 l2.7 0.5M330.0 54.6 l0.4 -2.4M336.7 22.5 l3.5 0.6M339.0 29.1 l0.7 -3.7M335.3 22.3 l2.5 0.4M337.8 35.8 l0.5 -3.1M332.6 39.6 l0.3 -1.7M329.9 58.3 l3.3 0.6M334.3 55.7 l0.4 -2.4" stroke="#a6a6a6" stroke-width="1.4" fill="none"/>
<path clip-path="url(#c13)" d="M275.1 20.9 L281.0 4.5 L288.0 7.1 L282.1 23.5ZM281.6 3.0 L285.4 -7.4 L292.4 -4.8 L288.6 5.6ZM284.5 21.5 L288.5 10.4 L293.9 12.4 L289.9 23.4ZM289.1 8.9 L294.6 -6.2 L300.0 -4.2 L294.5 10.9ZM285.7 39.7 L292.0 22.3 L299.1 25.0 L292.8 42.3ZM292.5 20.8 L298.8 3.8 L305.9 6.4 L299.7 23.4ZM299.3 2.3 L303.8 -10.2 L311.0 -7.6 L306.4 4.9ZM299.7 28.0 L311.7 -5.0 L320.9 -1.7 L308.9 31.3ZM309.6 34.0 L315.9 16.8 L322.8 19.3 L316.6 36.5ZM316.4 15.3 L322.7 -2.0 L329.7 0.6 L323.4 17.8ZM318.7 35.5 L322.4 25.1 L331.1 28.3 L327.3 38.6ZM323.0 23.6 L329.2 6.6 L337.8 9.7 L331.6 26.8ZM329.7 5.1 L335.6 -10.9 L344.2 -7.8 L338.4 8.2Z" stroke="#a6a6a6" stroke-width="1.0" fill="none"/>
<path clip-path="url(#c13)" d="M283.3 16.2 l0.7 -1.9M284.5 12.9 l1.4 -3.7M278.3 20.7 l2.3 0.9M279.6 12.4 l0.9 -2.6M281.5 21.3 l0.8 -2.3M284.3 13.5 l1.3 -3.7M279.6 12.1 l1.0 -2.7M277.5 20.4 l2.1 0.8M286.1 -5.7 l1.5 0.5M287.4 -5.3 l2.9 1.0M284.6 2.7 l1.5 0.6M289.2 0.1 l1.0 -2.8M285.1 -2.7 l0.6 -1.5M290.4 18.1 l0.6 -1.6M288.0 15.8 l1.2 -3.3M290.4 18.2 l1.3 -3.5M286.8 20.9 l2.4 0.9M290.3 18.5 l0.8 -2.3M286.0 20.6 l2.6 0.9M292.7 2.7 l1.3 -3.5M291.5 6.1 l1.3 -3.6M295.5 -4.5 l2.5 0.9M292.6 3.0 l0.6 -1.6M295.1 5.2 l1.2 -3.2M296.6 1.3 l0.7 -2.0M292.5 39.4 l1.1 -3.0M293.0 38.1 l0.8 -2.1M295.5 31.2 l1.0 -2.7M295.2 32.0 l1.1 -3.0M294.8 24.8 l1.6 0.6M291.4 27.7 l0.9 -2.5M296.7 27.9 l0.6 -1.7M287.7 39.1 l1.9 0.7M299.9 5.6 l1.8 0.7M302.7 6.6 l1.5 0.6M295.3 17.1 l1.2 -3.2M296.9 12.7 l1.3 -3.5M295.6 16.1 l1.1 -3.1M300.1 18.6 l0.7 -1.8M295.1 17.7 l1.3 -3.7M295.1 17.6 l1.4 -3.8M307.2 -1.1 l1.0 -2.8M301.0 1.4 l0.8 -2.2M302.4 2.0 l3.2 1.2M307.0 -7.7 l1.9 0.7M301.1 1.5 l2.0 0.7M305.2 -8.3 l2.1 0.8M304.6 -8.6 l2.8 1.0M302.9 27.7 l2.6 0.9M304.4 28.3 l3.7 1.4M310.9 22.0 l0.6 -1.6M309.4 26.1 l0.6 -1.7M315.4 -2.3 l1.5 0.5M311.4 -0.2 l1.2 -3.2M313.9 -2.8 l1.7 0.6M303.7 28.0 l3.2 1.2M301.8 27.3 l2.9 1.0M307.3 11.1 l0.9 -2.5M314.6 11.9 l1.2 -3.2M301.9 27.4 l3.4 1.2M314.3 -2.7 l3.6 1.3M312.2 33.5 l3.6 1.3M312.1 33.5 l2.2 0.8M320.0 23.4 l0.5 -1.4M311.4 32.9 l1.2 -3.3M311.7 33.3 l2.8 1.0M318.1 28.4 l1.1 -3.0M314.3 34.3 l1.8 0.6M316.9 18.5 l1.7 0.6M324.7 0.1 l3.5 1.3M324.8 10.3 l1.0 -2.6M324.9 0.2 l1.5 0.6M318.9 12.4 l0.7 -1.8M321.9 4.0 l0.7 -2.0M325.2 9.1 l1.3 -3.5M318.3 14.6 l3.6 1.3M320.2 15.3 l2.2 0.8M324.3 27.2 l2.8 1.0M321.6 35.2 l3.4 1.3M328.3 32.1 l0.7 -2.0M322.9 26.7 l3.0 1.1M321.8 35.3 l2.5 0.9M321.0 32.8 l0.8 -2.2M331.7 8.9 l3.3 1.2M326.9 16.7 l0.8 -2.3M328.8 11.4 l0.6 -1.5M326.4 23.5 l3.1 1.1M334.6 14.8 l0.7 -1.9M332.8 9.3 l1.6 0.6M334.0 16.4 l1.0 -2.6M325.3 23.1 l2.2 0.8M331.8 4.4 l2.7 1.0M331.4 4.3 l3.2 1.2M332.3 4.6 l2.6 0.9M340.9 -2.4 l0.5 -1.4M335.3 -6.4 l0.6 -1.6M331.7 4.4 l2.6 0.9M337.3 -8.9 l2.8 1.0M334.4 -3.9 l0.9 -2.6" stroke="#a6a6a6" stroke-width="1.4" fill="none"/>
<path clip-path="url(#c14)" d="M161.6 171.9 L231.2 125.0 L235.9 132.0 L166.3 178.9ZM232.6 124.0 L251.0 111.6 L255.7 118.6 L237.4 131.0ZM207.3 153.5 L224.4 141.9 L229.5 149.5 L212.4 161.0ZM225.9 140.9 L244.6 128.3 L249.7 135.8 L231.0 148.5ZM246.1 127.3 L272.1 109.8 L277.2 117.3 L251.2 134.8ZM203.7 169.1 L218.6 159.0 L222.6 165.0 L207.7 175.1ZM220.1 158.0 L236.1 147.2 L240.1 153.2 L224.1 164.0ZM237.6 146.2 L253.1 135.8 L257.1 141.8 L241.6 152.2ZM254.6 134.8 L272.2 122.9 L276.2 128.9 L258.6 140.7ZM293.4 108.6 L308.7 98.2 L312.7 104.2 L297.4 114.6ZM166.6 204.9 L184.1 193.2 L188.7 200.0 L171.2 211.8ZM185.5 192.2 L216.1 171.6 L220.7 178.5 L190.2 199.0ZM217.5 170.6 L233.9 159.6 L238.5 166.5 L222.2 177.5ZM235.3 158.6 L247.8 150.2 L252.4 157.1 L240.0 165.4ZM249.3 149.2 L265.1 138.5 L269.7 145.4 L253.9 156.0ZM266.6 137.5 L286.1 124.3 L290.8 131.2 L271.2 144.4ZM287.6 123.3 L301.9 113.7 L306.6 120.5 L292.3 130.2ZM303.4 112.7 L320.6 101.1 L325.2 107.9 L308.1 119.5ZM186.2 203.9 L205.6 190.8 L209.3 196.4 L189.9 209.4ZM207.0 189.8 L226.2 176.9 L230.0 182.4 L210.8 195.4ZM227.7 175.9 L246.5 163.2 L250.2 168.7 L231.5 181.4ZM248.0 162.2 L260.2 154.0 L263.9 159.5 L251.7 167.7ZM261.7 153.0 L298.0 128.5 L301.7 134.0 L265.4 158.5ZM299.5 127.5 L316.2 116.2 L319.9 121.7 L303.2 133.0ZM317.7 115.2 L334.4 103.9 L338.1 109.5 L321.4 120.7ZM187.9 212.9 L216.5 193.6 L219.7 198.4 L191.1 217.7ZM218.0 192.6 L230.3 184.4 L233.5 189.1 L221.2 197.4ZM231.8 183.4 L246.9 173.2 L250.1 177.9 L235.0 188.1ZM248.4 172.2 L259.9 164.4 L263.1 169.2 L251.6 176.9ZM261.4 163.4 L277.0 152.8 L280.2 157.6 L264.6 168.2ZM278.5 151.8 L291.3 143.2 L294.5 148.0 L281.7 156.6ZM292.8 142.2 L325.9 119.9 L329.1 124.6 L296.0 147.0ZM215.3 203.6 L232.5 192.0 L237.7 199.7 L220.5 211.3ZM234.0 191.0 L247.3 182.0 L252.6 189.7 L239.2 198.7ZM248.8 180.9 L280.8 159.4 L286.0 167.1 L254.1 188.7ZM282.3 158.4 L296.7 148.6 L302.0 156.4 L287.5 166.1ZM298.2 147.6 L313.4 137.4 L318.6 145.1 L303.5 155.4ZM194.7 230.9 L226.5 209.5 L231.8 217.3 L200.0 238.8ZM228.0 208.5 L243.5 198.0 L248.8 205.8 L233.3 216.3ZM245.0 197.0 L258.6 187.8 L263.9 195.7 L250.3 204.8ZM260.1 186.8 L293.4 164.4 L298.7 172.2 L265.4 194.7ZM204.9 237.7 L218.6 228.4 L223.6 235.8 L209.9 245.1ZM220.1 227.4 L250.4 206.9 L255.4 214.4 L225.1 234.8Z" stroke="#a6a6a6" stroke-width="1.0" fill="none"/>
<path clip-path="url(#c14)" d="M167.7 169.4 l2.7 -1.8M181.0 160.4 l2.0 -1.3M231.7 128.1 l1.6 2.4M168.4 175.9 l1.3 -0.8M224.3 138.3 l2.9 -1.9M231.3 127.5 l2.2 3.3M221.4 133.1 l2.7 -1.8M165.0 174.6 l1.8 2.7M181.2 167.3 l1.7 -1.1M231.3 127.5 l1.8 2.7M232.1 128.7 l2.1 3.1M203.7 145.1 l1.3 -0.8M229.0 135.1 l2.4 -1.6M221.3 133.2 l3.3 -2.2M186.6 156.7 l2.6 -1.7M165.8 175.8 l1.0 1.5M202.4 153.0 l3.1 -2.1M163.3 172.1 l1.4 2.0M223.7 138.7 l2.2 -1.5M231.0 127.1 l1.9 2.8M172.3 166.3 l1.9 -1.3M229.5 134.7 l2.2 -1.5M179.3 168.6 l1.7 -1.2M165.2 174.8 l1.7 2.5M182.5 166.4 l1.4 -1.0M228.7 128.2 l2.1 -1.4M201.5 153.6 l2.5 -1.7M165.0 174.6 l1.8 2.7M231.4 127.8 l1.9 2.8M252.7 116.4 l1.4 2.0M234.7 124.7 l2.1 3.1M235.7 123.5 l1.7 -1.1M252.5 116.2 l1.5 2.2M238.3 128.8 l1.4 -1.0M252.1 115.6 l1.5 2.2M235.3 125.6 l1.0 1.5M244.6 124.5 l2.0 -1.3M252.2 115.7 l1.9 2.8M243.4 118.3 l2.8 -1.9M210.7 156.2 l1.4 2.0M214.8 157.9 l2.6 -1.8M224.6 144.5 l1.4 2.1M209.3 154.2 l2.1 3.1M210.2 155.5 l1.4 2.1M212.3 151.6 l2.0 -1.3M215.8 149.3 l1.6 -1.1M213.0 159.1 l2.9 -2.0M210.1 153.1 l2.2 -1.5M211.0 152.6 l2.5 -1.7M230.3 145.0 l1.2 1.8M238.5 141.9 l1.6 -1.1M244.4 137.9 l2.4 -1.6M246.3 133.1 l1.5 2.2M228.4 142.2 l1.0 1.4M245.7 132.1 l1.9 2.9M228.3 142.1 l1.2 1.7M246.2 132.9 l1.0 1.5M235.6 143.8 l1.3 -0.9M231.8 146.3 l2.9 -1.9M266.2 115.3 l1.5 -1.0M260.7 126.9 l2.3 -1.6M249.8 130.4 l1.7 2.5M268.9 121.3 l2.5 -1.7M268.4 113.8 l3.0 -2.0M273.1 113.7 l2.0 2.9M272.3 112.4 l1.1 1.6M267.4 122.4 l2.7 -1.8M271.7 119.4 l3.2 -2.2M273.5 114.2 l1.4 2.0M248.4 128.3 l1.5 2.3M248.5 128.4 l2.2 3.3M268.5 121.6 l2.6 -1.8M205.4 169.4 l2.1 3.1M215.3 162.8 l2.1 -1.4M207.1 168.3 l1.8 -1.2M214.4 169.0 l1.7 -1.1M219.2 162.3 l1.4 2.0M219.6 162.8 l1.3 2.0M217.6 166.9 l1.6 -1.0M208.4 173.0 l3.0 -2.0M206.4 170.8 l1.1 1.6M222.5 158.0 l2.1 -1.4M222.3 159.0 l1.2 1.7M236.1 149.6 l1.3 2.0M222.8 159.7 l0.9 1.3M222.4 159.1 l2.0 3.0M234.0 150.2 l1.8 -1.2M222.6 159.4 l1.0 1.6M232.6 156.7 l2.1 -1.4M227.6 160.1 l2.2 -1.5M243.4 143.8 l1.8 -1.2M251.9 143.7 l2.5 -1.7M247.3 146.8 l2.8 -1.9M245.0 142.8 l2.3 -1.6M247.1 146.9 l2.9 -1.9M243.5 143.8 l3.1 -2.1M252.9 137.8 l1.8 2.7M241.6 145.1 l2.8 -1.9M253.2 138.4 l2.2 3.2M256.2 135.2 l2.6 -1.8M256.5 135.3 l2.0 3.0M257.9 134.1 l1.3 -0.8M262.0 136.9 l1.6 -1.0M263.3 136.0 l1.4 -1.0M260.8 132.1 l2.4 -1.6M261.1 137.5 l2.6 -1.8M256.7 135.6 l1.8 2.6M257.1 136.3 l0.9 1.3M264.1 129.9 l3.2 -2.1M295.9 110.0 l1.8 2.7M295.8 109.8 l1.3 1.9M295.2 109.0 l0.9 1.4M295.9 110.0 l1.9 2.9M295.7 109.8 l1.3 2.0M309.5 101.8 l1.5 2.3M308.5 100.3 l2.1 3.1M299.8 111.4 l1.9 -1.3M308.6 100.4 l1.3 1.9M185.1 197.1 l1.3 2.0M184.1 195.6 l1.0 1.4M174.4 208.1 l3.3 -2.2M184.6 196.4 l1.3 1.9M185.3 197.3 l1.1 1.6M179.1 204.9 l2.3 -1.5M184.5 196.2 l2.2 3.3M168.4 205.2 l1.9 2.8M177.4 206.1 l2.6 -1.7M183.7 195.0 l1.1 1.6M216.4 174.5 l0.9 1.3M200.3 190.7 l3.1 -2.1M202.6 182.3 l2.9 -2.0M189.1 195.1 l1.3 1.9M189.1 195.1 l1.4 2.0M207.0 186.1 l1.9 -1.3M188.4 194.1 l1.4 2.1M216.0 173.8 l1.6 2.4M192.1 189.3 l1.6 -1.1M199.1 184.6 l1.3 -0.8M216.6 174.8 l1.9 2.9M193.4 195.3 l1.6 -1.1M188.1 193.7 l1.2 1.8M216.9 175.2 l1.0 1.5M224.4 167.6 l1.5 -1.0M220.9 173.2 l1.4 2.1M229.1 171.2 l1.3 -0.9M234.5 167.5 l1.6 -1.1M220.3 170.3 l3.2 -2.2M234.8 163.3 l1.5 2.3M234.3 162.6 l1.6 2.4M221.1 169.8 l2.7 -1.9M219.7 171.5 l1.9 2.9M244.7 153.8 l2.0 -1.4M247.1 159.0 l2.9 -1.9M239.5 157.4 l2.2 -1.5M237.8 158.5 l1.8 -1.2M238.4 160.7 l1.4 2.1M242.4 162.3 l3.3 -2.2M244.0 161.2 l1.6 -1.1M239.8 157.2 l1.2 -0.8M265.8 141.9 l1.7 2.5M251.2 149.7 l1.2 1.8M258.3 151.5 l2.1 -1.4M250.9 149.3 l1.1 1.7M265.7 141.8 l2.2 3.3M255.9 146.3 l1.9 -1.3M256.9 145.6 l3.1 -2.1M265.7 146.5 l1.6 -1.1M250.9 149.3 l2.0 2.9M281.1 129.3 l3.2 -2.1M286.2 126.8 l1.3 2.0M281.6 135.8 l2.2 -1.5M268.6 138.3 l1.2 1.9M287.8 129.1 l1.3 1.9M287.2 132.0 l1.6 -1.1M270.9 136.2 l2.9 -2.0M271.9 135.5 l2.2 -1.5M286.4 127.0 l1.9 2.8M269.8 140.0 l1.9 2.8M286.3 126.9 l1.6 2.4M290.3 125.0 l2.1 3.1M289.7 123.5 l1.5 -1.0M302.7 117.1 l1.7 2.5M300.3 123.2 l1.5 -1.0M297.3 125.2 l2.2 -1.5M292.6 121.6 l1.8 -1.2M290.0 124.4 l1.8 2.7M301.4 122.5 l3.3 -2.2M306.4 114.8 l2.1 3.2M306.9 111.9 l1.9 -1.3M305.4 113.3 l2.1 3.2M310.1 109.7 l2.9 -1.9M320.4 109.7 l2.5 -1.7M317.3 111.7 l2.5 -1.7M308.4 117.7 l2.6 -1.7M310.0 109.8 l2.8 -1.9M305.7 113.7 l2.1 3.2M315.3 106.2 l1.9 -1.3M188.7 205.3 l1.4 2.1M191.1 202.2 l1.9 -1.3M199.8 201.2 l2.2 -1.5M205.3 192.7 l1.4 2.0M205.2 192.6 l1.2 1.7M191.9 201.6 l3.1 -2.1M188.7 205.2 l1.6 2.4M188.3 204.6 l1.3 1.9M188.8 205.4 l1.6 2.3M202.5 194.5 l1.5 -1.0M209.2 190.7 l2.0 3.0M209.1 190.5 l1.9 2.8M209.3 190.8 l1.3 2.0M224.5 179.6 l1.4 -1.0M219.4 183.1 l3.2 -2.2M221.5 181.6 l2.6 -1.8M217.4 189.3 l1.4 -0.9M214.1 191.6 l2.0 -1.3M225.9 178.7 l1.1 1.6M226.3 179.4 l1.4 2.1M232.5 174.3 l2.0 -1.4M229.7 176.5 l1.7 2.5M232.0 174.6 l2.4 -1.6M236.7 176.3 l2.2 -1.5M245.0 170.7 l2.4 -1.6M237.4 175.8 l2.8 -1.9M246.1 164.9 l1.1 1.6M230.6 175.5 l1.8 -1.2M246.5 165.5 l1.9 2.8M249.9 162.7 l1.6 2.4M249.6 162.3 l1.3 2.0M260.7 157.0 l1.0 1.4M258.2 156.9 l1.6 -1.1M259.7 155.6 l2.2 3.2M260.5 156.8 l1.7 2.5M256.5 163.0 l3.1 -2.1M258.7 161.5 l2.0 -1.3M264.1 154.2 l1.6 2.3M297.6 130.1 l1.5 2.2M265.6 151.9 l2.1 -1.4M284.7 139.0 l2.9 -1.9M279.6 142.4 l1.7 -1.2M267.2 155.7 l2.4 -1.6M263.5 153.3 l1.8 2.7M276.6 144.5 l1.3 -0.9M264.4 154.6 l1.1 1.6M270.9 153.2 l1.6 -1.1M276.9 144.3 l3.1 -2.1M263.6 153.3 l1.7 -1.1M286.0 143.0 l2.1 -1.4M298.7 131.9 l1.3 1.9M264.4 152.7 l3.1 -2.1M263.9 153.9 l1.9 2.8M263.7 153.5 l1.4 2.1M316.0 118.2 l1.9 2.8M315.9 118.0 l1.9 2.8M315.8 118.0 l2.2 3.2M314.9 123.5 l3.2 -2.2M316.4 118.9 l1.5 2.2M309.4 127.3 l2.9 -1.9M317.1 119.9 l1.0 1.5M301.8 128.5 l1.5 2.3M302.1 129.0 l1.6 2.4M322.1 113.8 l3.2 -2.2M334.3 106.2 l1.4 2.1M320.4 116.9 l1.0 1.6M319.9 116.1 l1.9 2.9M325.1 111.8 l2.1 -1.4M328.7 109.4 l1.8 -1.2M319.5 115.5 l2.1 3.2M320.3 116.8 l1.5 2.3M331.2 112.5 l2.2 -1.5M213.1 201.3 l2.2 -1.5M203.4 207.9 l2.5 -1.7M190.2 213.9 l1.0 1.6M215.4 199.8 l1.7 -1.1M213.7 200.9 l1.5 -1.0M189.9 213.6 l1.5 2.2M189.6 213.1 l0.8 1.2M191.1 212.4 l1.7 -1.2M198.8 207.2 l1.6 -1.1M205.5 206.5 l2.3 -1.6M216.0 195.2 l1.9 2.9M202.4 204.7 l1.5 -1.0M197.5 211.8 l1.7 -1.2M192.8 211.2 l2.2 -1.5M229.8 186.0 l1.7 2.5M230.0 186.2 l1.7 2.5M229.8 186.0 l1.7 2.4M219.7 192.8 l1.6 2.4M219.7 192.8 l2.0 3.0M224.0 190.2 l2.6 -1.7M219.9 192.9 l1.6 -1.0M242.0 178.0 l3.0 -2.0M246.3 174.7 l2.2 3.2M246.9 175.6 l0.9 1.4M233.6 183.7 l1.2 1.7M247.0 175.7 l1.1 1.7M246.4 174.8 l2.1 3.1M241.0 182.5 l2.4 -1.6M234.2 183.3 l3.1 -2.1M251.0 171.9 l3.2 -2.1M259.4 166.0 l1.3 1.9M259.4 166.0 l2.1 3.2M260.4 167.5 l1.0 1.5M259.5 166.1 l1.5 2.2M250.1 172.5 l1.7 2.6M250.2 172.6 l1.2 1.8M273.2 157.0 l2.7 -1.8M273.2 157.0 l1.7 -1.2M266.9 161.2 l2.2 -1.5M269.7 163.2 l1.7 -1.1M267.9 164.3 l2.8 -1.9M263.0 163.5 l1.8 2.7M263.8 164.7 l0.9 1.3M276.6 154.6 l2.0 2.9M276.5 154.4 l2.1 3.1M280.1 151.9 l2.2 3.2M282.7 150.6 l2.5 -1.7M290.4 149.2 l1.3 -0.9M284.0 153.5 l2.4 -1.6M280.2 152.1 l1.6 2.4M291.2 145.4 l1.1 1.6M280.4 152.3 l1.8 2.6M290.9 145.0 l1.9 2.9M325.5 121.6 l1.9 2.8M325.4 121.4 l2.2 3.3M321.8 124.2 l2.1 -1.4M325.6 121.8 l1.1 1.7M325.9 122.3 l1.1 1.6M313.1 130.1 l1.7 -1.1M294.5 142.5 l2.0 2.9M322.4 127.6 l2.3 -1.6M325.4 121.5 l1.6 2.4M310.6 131.8 l2.3 -1.6M322.1 127.8 l1.9 -1.3M297.2 144.6 l2.2 -1.5M325.5 121.6 l1.7 2.5M312.7 134.1 l1.6 -1.0M294.7 142.7 l1.0 1.5M233.5 195.8 l1.4 2.1M217.1 203.9 l1.2 1.8M234.6 197.5 l1.4 2.0M230.9 202.8 l1.8 -1.2M230.0 195.2 l1.5 -1.0M234.5 197.4 l1.5 2.2M217.0 204.0 l3.3 -2.2M224.1 207.4 l3.3 -2.2M224.1 207.3 l2.8 -1.9M223.1 208.0 l2.5 -1.7M248.0 185.3 l2.0 3.0M242.1 195.2 l1.5 -1.0M248.1 185.5 l2.1 3.2M242.0 187.1 l3.3 -2.2M235.8 191.3 l1.3 2.0M241.3 195.7 l2.6 -1.7M244.2 185.7 l2.2 -1.5M241.7 187.3 l1.6 -1.1M247.8 185.0 l1.6 2.3M250.9 181.7 l2.1 3.2M257.2 185.0 l2.9 -2.0M281.1 168.9 l2.9 -1.9M251.2 182.2 l1.7 2.5M281.9 163.3 l1.2 1.8M251.3 182.3 l1.6 2.4M262.1 173.6 l2.1 -1.4M251.5 182.6 l1.5 2.2M264.2 172.2 l2.7 -1.8M280.9 162.0 l2.2 3.2M261.4 182.2 l1.3 -0.9M282.4 164.1 l1.0 1.5M251.6 182.7 l1.5 2.2M274.0 165.5 l3.1 -2.1M270.5 167.9 l2.2 -1.5M280.5 161.4 l0.9 1.3M285.8 161.3 l2.1 3.1M284.7 159.6 l2.0 2.9M284.0 158.7 l1.9 2.8M284.2 159.0 l2.0 3.0M297.5 152.1 l1.5 2.2M288.8 155.6 l2.1 -1.4M296.4 150.4 l1.7 2.6M285.7 157.7 l2.3 -1.6M286.3 162.1 l1.6 2.4M304.0 145.3 l3.1 -2.1M314.1 146.6 l1.5 -1.0M313.4 139.7 l1.7 2.6M313.3 139.6 l2.2 3.2M313.5 139.9 l1.1 1.6M302.1 146.6 l3.1 -2.1M306.3 143.8 l2.5 -1.7M302.4 151.5 l1.2 1.9M307.3 143.1 l2.6 -1.8M313.8 140.3 l1.9 2.8M228.3 214.4 l1.4 2.1M225.8 219.8 l2.9 -1.9M206.0 224.8 l3.2 -2.2M221.7 214.2 l2.6 -1.7M227.3 213.0 l1.1 1.6M198.1 233.6 l1.4 2.1M227.0 212.6 l2.2 3.2M198.8 234.7 l0.8 1.3M198.6 234.4 l1.7 2.6M207.5 223.8 l3.1 -2.1M223.5 221.4 l3.1 -2.1M197.6 232.9 l1.8 2.6M199.5 229.2 l2.1 -1.4M226.2 211.3 l2.0 2.9M196.7 231.5 l2.0 2.9M198.6 234.4 l1.8 2.7M239.8 210.4 l1.3 -0.8M244.6 207.2 l1.7 -1.2M229.7 208.7 l1.1 1.6M235.7 204.8 l3.1 -2.1M234.9 213.7 l2.5 -1.7M244.3 201.4 l2.0 3.0M230.8 210.3 l2.2 3.2M234.8 205.4 l2.3 -1.6M238.9 211.0 l2.8 -1.9M237.9 203.3 l3.1 -2.1M248.7 200.1 l2.0 2.9M260.1 192.3 l1.3 2.0M249.6 201.5 l1.1 1.6M251.0 194.5 l1.5 -1.0M247.2 197.1 l1.6 -1.1M252.4 201.8 l3.1 -2.1M250.8 202.9 l1.4 -0.9M260.0 192.2 l2.1 3.0M252.7 201.7 l2.7 -1.8M265.6 193.0 l2.3 -1.6M267.7 191.5 l3.2 -2.2M263.0 188.8 l1.2 1.8M295.4 169.6 l1.3 1.9M294.1 167.8 l1.8 2.6M264.5 191.0 l1.2 1.8M294.5 168.3 l2.2 3.2M264.3 190.6 l1.0 1.5M289.2 177.0 l2.5 -1.7M284.5 180.2 l2.5 -1.7M263.6 186.0 l2.6 -1.7M290.7 167.7 l2.5 -1.7M293.6 167.1 l1.7 2.6M293.6 167.1 l1.6 2.3M289.7 176.7 l1.5 -1.0M294.2 167.9 l1.5 2.3M215.8 239.5 l2.1 -1.4M215.2 232.2 l2.9 -2.0M218.2 230.1 l1.8 2.7M206.6 237.9 l2.1 3.1M208.5 240.7 l1.2 1.8M213.8 240.9 l3.1 -2.1M210.8 242.9 l3.0 -2.1M213.2 233.6 l3.3 -2.2M252.0 211.6 l1.4 2.1M241.3 222.3 l2.4 -1.6M228.1 223.6 l1.4 -0.9M224.7 231.8 l0.9 1.4M223.7 230.3 l1.0 1.5M235.9 226.0 l1.9 -1.3M250.1 208.8 l1.7 2.5M222.9 229.2 l1.4 2.1M252.0 211.6 l1.3 1.9M236.2 225.8 l2.7 -1.8M250.4 209.3 l1.3 2.0M223.1 229.5 l1.9 2.9M223.6 230.2 l1.5 2.2M232.0 220.9 l1.6 -1.1M235.5 218.6 l2.3 -1.6" stroke="#a6a6a6" stroke-width="1.4" fill="none"/>
<path clip-path="url(#c15)" d="M292.8 156.8 L310.6 148.5 L314.6 157.0 L296.7 165.3ZM312.5 147.7 L327.2 140.8 L331.2 149.2 L316.4 156.1ZM277.1 176.6 L294.7 168.5 L298.9 177.7 L281.4 185.8ZM296.5 167.6 L312.7 160.0 L317.0 169.2 L300.8 176.8ZM314.5 159.2 L328.9 152.5 L333.1 161.7 L318.8 168.4ZM232.7 210.8 L281.8 187.9 L286.5 198.1 L237.4 221.0ZM283.6 187.0 L296.0 181.3 L300.7 191.4 L288.3 197.2ZM297.8 180.4 L312.0 173.8 L316.7 184.0 L302.5 190.6ZM313.8 172.9 L326.4 167.0 L331.2 177.2 L318.5 183.1ZM328.3 166.2 L342.6 159.5 L347.4 169.7 L333.0 176.4ZM266.7 209.5 L296.4 195.6 L300.0 203.4 L270.3 217.2ZM298.2 194.8 L313.4 187.7 L317.0 195.4 L301.8 202.5ZM315.2 186.9 L331.5 179.3 L335.1 187.0 L318.8 194.6ZM275.0 217.2 L286.8 211.7 L291.2 221.0 L279.4 226.5ZM288.7 210.9 L299.6 205.8 L303.9 215.1 L293.0 220.2ZM301.4 205.0 L317.4 197.5 L321.7 206.8 L305.7 214.3ZM319.2 196.7 L331.9 190.7 L336.2 200.0 L323.5 206.0ZM231.8 251.0 L247.9 243.4 L252.8 253.9 L236.6 261.4ZM249.8 242.6 L281.5 227.8 L286.3 238.2 L254.6 253.0ZM283.3 226.9 L294.6 221.7 L299.4 232.1 L288.2 237.4ZM296.4 220.8 L310.6 214.2 L315.5 224.6 L301.2 231.3ZM312.5 213.3 L324.6 207.7 L329.4 218.1 L317.3 223.8ZM326.4 206.8 L342.7 199.2 L347.6 209.7 L331.2 217.3ZM232.7 265.5 L243.1 260.6 L245.9 266.7 L235.6 271.6ZM244.9 259.8 L258.8 253.3 L261.7 259.4 L247.8 265.9ZM260.6 252.4 L272.4 247.0 L275.2 253.1 L263.5 258.6ZM274.2 246.1 L286.4 240.4 L289.3 246.5 L277.1 252.2ZM288.2 239.6 L301.7 233.3 L304.5 239.4 L291.1 245.7ZM256.5 264.0 L270.8 257.4 L275.7 268.0 L261.5 274.6ZM291.4 247.8 L302.5 242.6 L307.5 253.2 L296.4 258.4Z" stroke="#a6a6a6" stroke-width="0.9" fill="none"/>
<path clip-path="url(#c15)" d="M303.5 153.2 l1.9 -0.9M302.8 161.1 l1.7 -0.8M309.6 157.9 l1.5 -0.7M308.2 151.0 l1.9 -0.9M298.1 155.7 l1.9 -0.9M311.1 152.5 l1.6 3.5M311.4 153.1 l1.1 2.4M311.4 153.0 l1.2 2.6M315.1 150.4 l0.7 1.5M314.3 148.6 l0.9 1.9M327.5 144.3 l0.8 1.8M326.2 150.2 l3.4 -1.6M316.7 147.1 l2.0 -0.9M314.3 148.2 l3.6 -1.7M320.4 152.9 l2.6 -1.2M317.0 146.9 l2.9 -1.4M293.0 179.0 l1.7 -0.8M289.6 180.6 l3.6 -1.7M278.7 177.3 l1.7 -0.8M280.9 181.6 l1.2 2.5M294.9 172.0 l1.1 2.3M295.7 173.7 l1.4 3.0M283.3 175.1 l1.6 -0.7M289.3 172.3 l1.8 -0.8M287.6 173.1 l2.2 -1.0M299.7 171.6 l1.3 2.8M298.0 168.0 l0.8 1.8M307.3 164.0 l1.8 -0.8M299.3 170.7 l1.7 3.6M299.0 170.1 l1.4 3.1M313.4 164.5 l1.2 2.5M305.2 164.9 l1.5 -0.7M305.0 165.0 l2.6 -1.2M319.0 158.5 l2.4 -1.1M318.6 158.7 l1.6 -0.7M323.1 165.0 l2.4 -1.1M321.7 165.7 l2.1 -1.0M319.0 158.5 l2.6 -1.2M317.2 161.9 l0.8 1.6M320.0 166.5 l3.3 -1.5M316.8 161.2 l1.2 2.6M240.8 218.0 l2.5 -1.2M281.9 191.1 l1.0 2.1M282.7 193.0 l1.6 3.4M255.4 201.6 l3.2 -1.5M244.4 206.7 l3.3 -1.5M278.8 200.3 l3.3 -1.5M235.2 213.3 l0.8 1.8M259.7 209.2 l1.6 -0.8M283.5 194.5 l1.2 2.6M281.5 190.3 l1.2 2.5M282.1 191.5 l1.5 3.2M249.4 214.0 l2.2 -1.0M273.2 193.3 l2.9 -1.3M237.1 217.4 l0.7 1.4M235.4 213.7 l1.1 2.5M283.2 193.8 l0.8 1.8M254.6 201.9 l2.8 -1.3M275.6 201.8 l1.6 -0.7M293.8 193.3 l3.2 -1.5M291.0 194.6 l2.7 -1.3M287.6 192.7 l1.4 3.0M291.2 184.8 l2.6 -1.2M286.6 190.6 l1.5 3.3M289.1 185.8 l2.1 -1.0M289.3 185.8 l1.5 -0.7M286.8 186.9 l1.8 -0.9M308.5 186.4 l2.7 -1.2M309.2 186.1 l1.7 -0.8M299.3 180.8 l1.4 3.1M300.6 180.5 l2.9 -1.4M301.7 185.9 l1.1 2.4M308.5 176.8 l3.0 -1.4M300.8 183.9 l1.5 3.2M305.0 178.4 l2.6 -1.2M315.6 173.5 l2.1 -1.0M327.3 171.8 l0.7 1.4M318.3 179.6 l0.7 1.6M316.5 175.7 l1.4 3.0M320.8 171.1 l3.0 -1.4M318.9 172.0 l3.2 -1.5M326.9 170.9 l0.9 1.9M328.1 173.5 l1.5 3.2M341.0 171.2 l1.5 -0.7M335.9 173.7 l3.1 -1.5M340.6 171.5 l3.1 -1.4M343.6 164.7 l1.0 2.1M330.9 168.8 l1.0 2.1M331.4 166.1 l3.0 -1.4M340.8 171.4 l1.8 -0.8M334.6 174.3 l2.9 -1.4M297.2 200.2 l1.2 2.6M268.8 211.1 l1.2 2.5M268.6 210.6 l1.4 3.0M280.2 211.2 l2.7 -1.3M269.6 212.7 l1.4 3.0M273.5 214.4 l3.0 -1.4M286.8 208.2 l3.1 -1.5M282.7 203.4 l1.6 -0.8M272.0 215.1 l2.4 -1.1M286.4 208.4 l2.5 -1.1M293.2 205.2 l3.0 -1.4M277.5 205.9 l2.4 -1.1M314.2 192.4 l1.2 2.5M303.6 193.7 l2.1 -1.0M300.6 196.9 l1.4 2.9M313.1 190.0 l1.7 3.6M313.1 190.0 l1.1 2.4M313.3 190.4 l1.3 2.9M301.6 199.1 l0.9 1.9M323.0 191.3 l2.1 -1.0M317.3 188.4 l1.5 3.2M322.9 191.3 l1.9 -0.9M321.0 192.2 l3.0 -1.4M316.9 187.5 l1.6 3.5M332.0 183.3 l1.0 2.1M320.8 185.6 l2.2 -1.0M316.8 187.3 l0.8 1.8M282.6 215.1 l1.7 -0.8M277.6 219.7 l1.7 3.6M287.9 216.9 l0.7 1.4M285.2 222.4 l2.7 -1.3M278.1 217.2 l1.7 -0.8M288.2 217.6 l1.0 2.2M281.4 215.7 l2.4 -1.1M290.5 211.9 l0.7 1.6M294.1 209.7 l3.2 -1.5M290.3 211.3 l1.4 3.0M291.0 213.0 l1.4 3.1M294.5 209.5 l2.7 -1.3M299.2 208.1 l0.8 1.8M300.2 210.0 l1.1 2.4M312.4 201.2 l1.9 -0.9M310.5 210.7 l3.2 -1.5M304.6 208.9 l1.7 3.6M318.1 202.1 l0.9 2.0M318.9 203.8 l1.2 2.5M314.3 208.9 l2.8 -1.3M304.4 204.9 l3.6 -1.7M315.2 208.4 l3.3 -1.5M322.0 199.8 l1.1 2.3M330.5 201.3 l2.4 -1.1M331.2 201.0 l2.7 -1.3M331.4 192.7 l1.0 2.1M321.9 196.8 l3.5 -1.6M332.4 194.7 l0.9 2.0M333.3 196.8 l1.3 2.8M238.8 249.1 l2.3 -1.1M249.8 250.4 l1.2 2.6M235.6 256.3 l0.9 2.0M240.0 258.5 l2.4 -1.1M233.4 251.4 l1.0 2.2M235.0 254.9 l0.8 1.8M248.4 254.5 l1.8 -0.8M237.3 259.7 l2.2 -1.0M246.4 255.5 l2.1 -1.0M253.5 247.5 l0.7 1.4M259.8 249.2 l3.3 -1.6M253.4 247.3 l1.4 2.9M252.3 245.1 l1.4 3.1M273.2 243.0 l2.6 -1.2M281.6 231.0 l1.5 3.1M275.2 232.1 l2.6 -1.2M263.3 247.6 l1.4 -0.7M258.7 249.7 l2.8 -1.3M269.7 234.7 l1.9 -0.9M253.3 247.1 l1.5 3.2M282.6 233.2 l1.3 2.7M266.8 236.0 l2.1 -1.0M260.0 239.2 l3.6 -1.7M296.0 227.8 l1.5 3.3M290.5 234.9 l2.4 -1.1M291.7 224.4 l2.1 -1.0M289.9 225.2 l1.4 -0.7M287.0 231.9 l1.4 3.1M286.4 230.8 l0.8 1.6M296.8 229.5 l0.6 1.4M298.1 221.5 l1.6 3.5M298.6 222.6 l1.4 3.0M298.0 221.4 l1.0 2.1M299.8 225.3 l1.0 2.1M307.1 227.2 l3.2 -1.5M312.9 221.9 l0.7 1.5M298.9 221.0 l3.1 -1.4M311.2 218.3 l1.3 2.8M312.2 220.6 l1.6 3.5M324.6 219.0 l2.0 -0.9M316.6 219.3 l1.0 2.1M315.8 217.5 l0.9 2.0M318.1 222.1 l3.5 -1.6M316.0 217.9 l0.7 1.6M315.5 217.0 l1.2 2.5M326.6 214.9 l0.9 2.0M322.1 210.2 l1.9 -0.9M342.8 202.4 l0.7 1.6M335.4 204.0 l1.9 -0.9M336.6 213.4 l2.5 -1.2M339.0 212.3 l1.6 -0.8M344.2 205.3 l1.5 3.2M328.7 209.0 l1.6 3.5M343.0 202.9 l1.7 3.6M329.7 211.1 l1.2 2.5M330.5 212.9 l1.1 2.4M234.4 266.1 l1.7 3.5M236.2 265.2 l1.9 -0.9M234.6 266.5 l1.6 3.4M236.3 265.2 l2.8 -1.3M236.4 269.8 l1.5 -0.7M242.4 262.1 l1.7 3.6M256.7 260.3 l2.2 -1.0M248.6 259.4 l1.8 -0.8M247.0 261.4 l1.0 2.2M255.0 256.4 l3.0 -1.4M246.7 260.8 l1.1 2.3M246.7 260.7 l1.7 3.6M250.2 258.7 l3.6 -1.7M272.4 250.0 l0.8 1.7M267.6 250.6 l2.6 -1.2M267.7 250.5 l2.0 -0.9M262.2 252.9 l1.2 2.6M272.0 249.1 l1.4 2.9M262.9 254.3 l0.7 1.4M275.9 246.7 l0.8 1.7M278.6 250.1 l3.5 -1.6M276.0 247.0 l1.3 2.8M281.7 244.0 l2.4 -1.1M276.0 247.0 l1.6 3.4M282.6 248.3 l1.8 -0.9M290.0 240.3 l1.6 3.5M294.9 242.5 l2.0 -0.9M292.9 243.5 l3.1 -1.5M301.1 235.0 l1.5 3.3M293.4 238.5 l3.4 -1.6M291.7 244.0 l3.5 -1.7M262.9 262.4 l2.8 -1.3M263.7 262.0 l2.3 -1.1M270.4 259.6 l1.7 3.6M268.6 269.9 l3.3 -1.6M272.4 263.8 l0.6 1.4M268.6 269.9 l3.6 -1.7M272.5 264.1 l0.7 1.4M266.2 271.1 l1.9 -0.9M270.8 260.3 l0.7 1.5M295.0 252.5 l1.5 3.2M294.9 247.5 l2.8 -1.3M294.9 252.2 l1.5 3.2M293.0 248.2 l1.5 3.2M294.7 251.8 l1.3 2.9M293.5 248.2 l3.4 -1.6M301.6 254.5 l3.4 -1.6" stroke="#a6a6a6" stroke-width="1.3" fill="none"/>
<path clip-path="url(#c16)" d="M223.4 226.7 L237.7 208.3 L242.6 212.2 L228.3 230.5ZM238.8 206.9 L253.5 188.1 L258.4 191.9 L243.7 210.7ZM254.6 186.7 L286.6 145.7 L291.5 149.5 L259.5 190.5ZM195.4 275.5 L213.2 252.7 L217.9 256.3 L200.1 279.1ZM214.3 251.3 L230.7 230.3 L235.4 233.9 L219.0 254.9ZM231.8 228.9 L277.2 170.8 L281.9 174.4 L236.5 232.5ZM278.3 169.3 L289.8 154.6 L294.5 158.2 L283.0 173.0ZM199.2 283.2 L213.9 264.4 L217.6 267.4 L203.0 286.1ZM215.0 263.0 L226.2 248.6 L230.0 251.5 L218.7 265.9ZM227.3 247.2 L242.0 228.4 L245.8 231.3 L231.1 250.1ZM243.1 227.0 L258.3 207.5 L262.1 210.5 L246.9 229.9ZM259.4 206.1 L274.5 186.8 L278.3 189.7 L263.2 209.0ZM275.6 185.4 L286.6 171.3 L290.4 174.2 L279.4 188.3ZM208.2 282.3 L223.5 262.7 L227.8 266.1 L212.6 285.7ZM224.6 261.3 L240.9 240.4 L245.3 243.8 L229.0 264.7ZM242.0 239.0 L253.2 224.8 L257.5 228.1 L246.4 242.4ZM254.3 223.3 L304.6 158.9 L309.0 162.3 L258.6 226.7ZM241.1 252.1 L256.9 231.8 L260.5 234.6 L244.6 254.9ZM258.0 230.4 L273.4 210.8 L276.9 213.6 L261.6 233.2ZM274.5 209.4 L285.3 195.4 L288.9 198.2 L278.1 212.2ZM286.5 194.0 L304.2 171.3 L307.8 174.1 L290.0 196.8Z" stroke="#a6a6a6" stroke-width="1.0" fill="none"/>
<path clip-path="url(#c16)" d="M239.2 214.4 l1.6 -2.0M225.1 226.3 l2.5 2.0M239.0 211.0 l1.4 1.1M228.5 222.3 l2.4 -3.1M225.3 226.5 l2.7 2.1M225.3 226.5 l2.5 2.0M226.3 227.3 l1.9 1.5M236.2 212.4 l1.6 -2.0M229.0 221.6 l1.0 -1.3M240.5 206.6 l3.0 2.4M254.0 190.1 l2.6 2.0M241.0 206.2 l1.2 -1.6M245.0 201.1 l1.8 -2.3M240.4 206.5 l2.7 2.1M250.4 194.2 l1.6 -2.1M251.1 199.2 l1.5 -1.9M243.5 208.8 l2.2 -2.8M250.5 200.0 l1.4 -1.8M263.4 183.4 l1.5 -1.9M288.0 148.4 l1.4 1.1M286.7 147.4 l2.7 2.1M263.3 183.5 l1.5 -1.9M256.5 186.5 l2.5 2.0M286.9 147.6 l2.2 1.7M257.6 187.4 l1.9 1.5M287.6 148.1 l1.8 1.4M275.9 167.4 l1.9 -2.4M283.5 151.9 l1.8 -2.3M257.7 187.5 l1.4 1.1M260.5 187.1 l1.2 -1.5M279.7 156.7 l2.2 -2.8M275.7 167.6 l1.2 -1.5M286.8 147.5 l2.6 2.0M280.4 161.6 l2.2 -2.8M213.2 254.3 l1.6 1.2M201.4 275.4 l1.6 -2.0M213.6 254.6 l1.5 1.2M208.6 266.1 l1.0 -1.3M214.4 255.3 l1.3 1.0M197.5 275.4 l2.4 1.8M213.5 259.8 l1.7 -2.1M213.3 254.4 l2.9 2.2M206.6 268.6 l2.0 -2.5M214.0 254.9 l2.1 1.6M218.1 248.6 l1.6 -2.0M222.1 248.9 l2.4 -3.0M224.8 245.4 l1.7 -2.2M224.2 246.2 l1.4 -1.8M230.8 232.0 l3.0 2.3M229.1 234.4 l1.0 -1.2M224.0 246.4 l2.2 -2.9M221.1 244.7 l2.4 -3.1M231.0 237.4 l2.3 -2.9M221.5 249.6 l2.2 -2.8M269.9 182.3 l2.3 -2.9M238.0 223.1 l2.2 -2.8M259.9 200.4 l2.3 -3.0M233.4 228.5 l2.8 2.2M277.3 172.5 l2.4 1.9M240.3 220.1 l1.9 -2.5M267.8 190.4 l2.3 -2.9M233.5 228.5 l1.2 1.0M270.4 181.6 l1.9 -2.5M233.4 228.5 l3.1 2.4M233.7 228.7 l2.6 2.0M277.7 172.8 l2.5 1.9M250.9 212.0 l2.3 -2.9M277.6 172.7 l1.8 1.4M261.4 193.1 l1.5 -1.9M278.1 173.1 l2.2 1.7M271.1 186.1 l1.7 -2.2M267.6 185.1 l2.1 -2.7M277.4 172.5 l2.9 2.3M277.2 172.4 l1.9 1.5M277.9 172.9 l1.3 1.0M262.9 191.1 l1.8 -2.3M280.1 169.1 l1.7 1.3M287.7 164.8 l1.8 -2.3M284.3 163.8 l1.9 -2.4M280.7 169.6 l1.8 1.4M289.9 156.2 l2.4 1.8M290.1 156.4 l2.6 2.0M284.5 169.0 l1.8 -2.3M207.1 275.2 l1.4 -1.8M213.8 266.1 l3.0 2.3M213.9 266.1 l1.7 1.3M213.0 271.2 l1.9 -2.5M200.8 282.8 l2.5 2.0M200.8 282.8 l2.5 2.0M208.2 273.8 l1.3 -1.6M209.2 272.5 l1.6 -2.1M209.3 275.9 l1.9 -2.4M226.6 250.5 l1.5 1.2M216.9 262.7 l2.0 -2.5M225.3 255.4 l1.0 -1.2M218.3 260.9 l1.7 -2.2M218.8 260.2 l1.0 -1.3M224.3 256.7 l2.3 -3.0M226.2 250.2 l2.7 2.1M228.9 246.8 l2.3 1.8M240.0 233.0 l1.5 -2.0M228.9 246.8 l2.6 2.0M242.0 230.0 l2.7 2.1M240.4 232.6 l1.9 -2.4M237.6 239.6 l1.5 -2.0M240.3 236.2 l1.9 -2.4M230.5 245.2 l1.5 -2.0M242.0 230.0 l2.2 1.7M248.3 222.5 l1.9 -2.4M258.3 209.2 l2.0 1.6M253.1 216.3 l1.6 -2.1M247.9 226.5 l1.5 -1.9M253.9 215.2 l1.0 -1.3M257.9 213.6 l2.3 -2.9M258.4 209.2 l2.1 1.6M244.9 226.7 l1.7 1.3M255.3 217.0 l1.5 -1.9M272.6 191.3 l1.7 -2.2M261.0 205.7 l3.0 2.4M267.2 198.2 l1.0 -1.3M261.0 205.7 l3.0 2.3M261.1 205.8 l2.1 1.6M261.4 206.0 l1.5 1.2M261.7 205.3 l1.7 -2.2M272.2 195.4 l1.6 -2.0M265.1 204.4 l1.4 -1.8M282.7 178.4 l1.9 -2.4M286.6 172.9 l3.1 2.4M279.2 186.5 l1.0 -1.3M286.6 172.9 l2.3 1.8M286.6 172.9 l2.7 2.1M286.6 172.9 l2.5 2.0M282.2 179.1 l2.1 -2.6M224.3 265.0 l1.9 1.5M210.1 282.1 l2.3 1.8M214.5 281.1 l1.6 -2.1M220.8 268.4 l2.1 -2.7M209.9 281.9 l2.3 1.8M223.9 264.7 l2.1 1.6M213.3 277.9 l2.4 -3.1M209.9 281.9 l2.4 1.9M224.0 264.8 l1.6 1.2M229.8 261.5 l2.2 -2.8M241.2 242.3 l2.1 1.6M241.8 242.8 l1.4 1.1M226.5 261.1 l2.0 1.5M240.9 242.1 l3.0 2.3M240.9 242.1 l3.1 2.5M229.9 256.7 l1.6 -2.0M239.0 245.0 l2.1 -2.7M234.1 256.0 l2.3 -3.0M253.4 226.6 l2.3 1.8M253.2 231.6 l1.3 -1.6M246.8 239.7 l1.8 -2.3M249.7 236.0 l1.4 -1.7M253.3 226.5 l2.6 2.0M251.2 234.1 l1.0 -1.3M253.2 226.4 l2.8 2.2M256.1 223.1 l2.1 1.7M256.5 223.4 l2.1 1.6M257.3 224.0 l1.3 1.0M256.2 223.2 l1.6 1.2M282.9 188.8 l2.4 -3.0M260.8 221.9 l1.2 -1.5M278.6 194.3 l2.0 -2.6M292.7 176.3 l2.4 -3.1M255.9 222.9 l2.8 2.2M262.7 214.7 l1.3 -1.7M257.0 223.8 l1.3 1.0M255.9 222.9 l2.7 2.1M256.2 223.2 l2.4 1.9M272.3 207.1 l1.2 -1.5M304.7 160.6 l1.6 1.3M257.1 223.9 l1.2 1.0M291.5 182.6 l0.9 -1.2M256.7 222.3 l1.9 -2.5M305.2 161.0 l1.7 1.3M304.8 160.7 l2.4 1.9M287.4 187.8 l1.9 -2.4M305.4 161.1 l2.0 1.5M274.2 204.7 l1.7 -2.2M255.9 223.0 l1.2 1.0M255.4 239.1 l1.8 -2.2M247.6 245.8 l1.6 -2.1M253.4 238.4 l1.9 -2.5M257.3 233.8 l1.5 1.2M252.6 242.6 l1.2 -1.6M256.9 233.5 l2.2 1.7M256.9 233.5 l3.1 2.4M256.9 233.5 l2.6 2.0M245.8 248.1 l1.9 -2.4M259.8 230.1 l1.8 1.4M268.9 221.7 l1.5 -1.9M267.0 224.2 l2.4 -3.1M272.6 217.1 l1.1 -1.4M273.7 212.7 l1.2 1.0M262.2 227.2 l1.6 -2.1M268.2 222.7 l1.8 -2.3M273.3 212.4 l2.3 1.8M273.3 212.4 l2.0 1.6M285.4 197.1 l1.8 1.4M285.8 197.5 l1.4 1.1M285.3 197.1 l2.4 1.9M281.8 205.3 l1.3 -1.7M285.3 197.1 l2.3 1.8M279.3 208.5 l1.2 -1.6M285.3 197.1 l3.1 2.4M291.3 193.1 l1.0 -1.3M304.3 173.0 l1.8 1.4M304.3 173.1 l1.6 1.3M288.2 193.7 l1.6 1.3M288.0 193.6 l2.2 1.7M288.4 193.6 l1.6 -2.1M288.0 193.6 l2.5 1.9M288.0 193.6 l3.1 2.5M304.7 173.3 l1.3 1.0M304.4 173.1 l1.5 1.1" stroke="#a6a6a6" stroke-width="1.4" fill="none"/>
<path clip-path="url(#c17)" d="M156.8 222.6L195.5 194.1M122.6 265.4L154.5 242.9M154.5 242.9L193.7 215.2M193.7 215.2L209.1 204.3M125.6 269.0L168.4 241.1M168.4 241.1L188.1 228.2M188.1 228.2L224.3 204.6M135.7 283.9L174.2 256.4M174.2 256.4L192.0 243.7M192.0 243.7L220.3 223.4M167.7 272.1L203.6 246.9M203.6 246.9L241.8 220.1M163.3 177.4L184.9 206.1M184.9 206.1L206.8 235.4M206.8 235.4L227.4 262.7M150.2 187.4L169.6 217.1M169.6 217.1L190.3 248.8M190.3 248.8L206.7 273.8M141.5 219.6L159.4 246.9M159.4 246.9L175.0 270.7" stroke="#a6a6a6" stroke-width="0.9" fill="none"/>
<path clip-path="url(#c17)" d="M128.9 274.1L168.9 247.0M174.1 277.0L199.4 258.8M199.4 258.8L230.0 236.8M168.5 199.8L185.2 223.0M185.2 223.0L196.1 238.2M196.1 238.2L219.5 270.9M156.5 217.8L182.8 255.4M182.8 255.4L206.1 288.9M149.0 219.2L167.9 244.6M167.9 244.6L185.0 267.6" stroke="#a6a6a6" stroke-width="1.6" fill="none"/>
<path clip-path="url(#c17)" d="M179.8 201.0l2.6 3.7M184.6 215.6l1.6 2.3M191.8 260.6l3.5 -2.4M179.4 234.7l3.4 -2.4M195.7 256.5l2.1 -1.4M191.6 239.8l2.4 3.4M189.6 228.9l2.3 -1.6M192.6 246.5l2.6 -1.8M193.4 253.2l1.3 1.8M160.0 240.6l1.6 2.2M182.3 224.9l3.7 -2.6M193.8 269.1l3.6 -2.5M201.5 267.6l1.6 2.3M195.2 220.5l1.7 -1.2M164.9 244.6l2.1 -1.5M182.1 235.2l1.7 2.4M199.6 221.3l3.3 -2.3M152.8 243.8l1.8 -1.3M176.7 215.6l1.4 2.0M181.0 254.9l1.0 1.4M203.3 248.7l2.9 -2.0M178.9 253.3l1.4 -1.0M205.3 251.9l3.1 -2.2M215.9 245.6l2.6 -1.8M177.9 229.0l1.9 -1.3M179.0 252.6l3.6 -2.5M191.2 208.9l1.3 1.9M191.6 252.6l2.1 -1.5M204.6 242.2l1.5 2.2M202.7 267.9l2.5 3.5M198.7 235.6l1.5 2.1M187.1 209.7l1.8 2.6M186.7 208.8l1.8 2.5M189.0 257.8l1.9 -1.3M185.4 257.4l2.2 3.1M209.0 239.2l1.2 1.8M171.1 261.2l1.7 2.4M178.5 255.8l3.4 -2.4M198.9 215.5l2.7 -1.9M213.0 243.7l2.3 3.3M204.1 244.6l2.1 -1.5M182.5 225.7l2.3 -1.6M193.3 233.0l1.3 -0.9M211.6 242.6l1.6 -1.1M180.9 200.1l1.2 1.7M192.8 256.4l2.9 -2.0M176.6 222.4l2.1 3.0M178.6 249.9l2.0 -1.4M207.4 251.8l2.2 -1.5M205.1 249.2l2.8 -2.0M194.1 260.7l1.8 2.6M204.3 270.0l1.8 2.5M171.0 257.6l1.4 1.9M167.0 233.3l3.4 -2.4M194.3 256.6l2.4 3.4M157.1 234.2l1.5 2.1M164.4 249.4l2.2 -1.5M183.4 243.9l1.2 1.7M161.4 245.8l0.9 1.3M168.4 233.0l0.9 1.3M182.6 214.2l2.2 -1.5M172.8 255.8l2.1 3.1M171.5 230.3l2.5 -1.7M183.2 247.3l1.9 -1.3M171.5 224.6l3.3 -2.3M203.3 239.3l1.7 2.4M160.3 236.4l1.2 1.7M195.6 210.5l2.6 3.7M165.1 225.1l1.6 2.3M179.9 262.3l2.8 -2.0M169.6 240.7l1.2 1.7M199.3 271.0l1.0 1.5M195.3 221.5l1.4 2.0M189.1 231.5l2.4 3.5M176.3 249.5l2.2 3.2M212.3 247.0l2.0 2.9M186.5 211.2l2.7 -1.9M155.3 240.6l3.3 -2.3M204.6 250.8l1.7 2.4M168.9 245.9l1.5 -1.1M177.9 226.7l1.6 2.3M187.0 202.4l2.4 -1.7M191.7 226.1l1.6 2.3M192.8 229.7l1.7 -1.2M184.1 235.1l2.4 3.4M177.2 239.6l2.4 3.4M196.6 228.0l1.2 1.8M198.5 227.5l0.9 1.3M192.1 220.1l2.1 -1.5M170.7 222.0l2.0 -1.4M189.9 250.3l1.4 -1.0M177.6 238.7l2.9 -2.0M178.1 259.5l2.0 2.8M199.0 229.7l2.5 -1.8M178.7 210.7l1.0 1.4M192.2 221.5l3.5 -2.5M189.5 264.8l1.5 2.1M182.3 260.3l2.3 3.3M163.5 231.4l1.4 2.0M179.8 201.9l2.1 2.9M206.4 232.4l2.0 2.8M170.2 254.5l3.6 -2.5M190.5 230.6l1.8 -1.3M192.9 243.0l2.0 -1.4" stroke="#a6a6a6" stroke-width="1.6" fill="none"/>
<path clip-path="url(#c18)" d="M207.6 279.5 L218.4 275.6 L220.4 281.1 L209.6 285.1ZM220.1 275.0 L233.5 270.1 L235.5 275.6 L222.1 280.5ZM235.2 269.5 L248.2 264.8 L250.2 270.3 L237.2 275.0ZM249.9 264.1 L283.9 251.8 L285.9 257.3 L251.9 269.7ZM285.5 251.2 L298.9 246.3 L300.9 251.8 L287.6 256.7ZM206.5 288.1 L222.2 282.4 L224.6 289.0 L208.9 294.7ZM223.9 281.8 L236.8 277.1 L239.2 283.7 L226.3 288.4ZM238.5 276.5 L257.2 269.7 L259.6 276.3 L240.9 283.1ZM258.9 269.0 L287.1 258.8 L289.5 265.4 L261.3 275.7ZM288.8 258.2 L300.3 254.0 L302.7 260.6 L291.2 264.8ZM214.6 294.6 L231.6 288.4 L234.3 295.8 L217.3 302.0ZM245.9 283.2 L262.3 277.2 L265.0 284.7 L248.6 290.6ZM264.0 276.6 L282.1 270.0 L284.8 277.4 L266.7 284.0ZM283.8 269.4 L296.0 264.9 L298.7 272.4 L286.5 276.8ZM297.7 264.3 L332.2 251.8 L334.9 259.2 L300.4 271.8ZM244.0 294.2 L257.1 289.4 L260.6 298.9 L247.4 303.6ZM258.8 288.8 L270.7 284.5 L274.1 293.9 L262.2 298.2ZM272.4 283.9 L289.4 277.7 L292.8 287.1 L275.8 293.3ZM291.1 277.1 L320.0 266.6 L323.4 276.0 L294.5 286.5ZM259.2 301.2 L292.9 289.0 L295.8 297.1 L262.2 309.3ZM294.6 288.4 L311.7 282.2 L314.6 290.2 L297.5 296.5ZM313.4 281.5 L331.4 275.0 L334.4 283.1 L316.3 289.6ZM274.0 307.0 L286.0 302.6 L288.3 308.7 L276.2 313.1ZM287.7 302.0 L306.2 295.2 L308.5 301.3 L290.0 308.1ZM307.9 294.6 L325.0 288.4 L327.3 294.5 L310.1 300.7ZM326.7 287.8 L364.8 273.9 L367.0 280.0 L329.0 293.9ZM292.5 309.0 L306.3 304.0 L309.3 312.5 L295.6 317.5ZM308.0 303.4 L324.5 297.4 L327.5 305.8 L311.0 311.9ZM326.2 296.8 L344.4 290.2 L347.5 298.6 L329.2 305.2ZM302.3 317.0 L316.7 311.7 L319.6 319.5 L305.1 324.7ZM318.4 311.1 L331.9 306.2 L334.7 314.0 L321.3 318.9ZM304.4 326.9 L322.5 320.3 L325.2 327.7 L307.1 334.3ZM324.2 319.7 L342.4 313.1 L345.1 320.5 L326.9 327.1Z" stroke="#a6a6a6" stroke-width="1.0" fill="none"/>
<path clip-path="url(#c18)" d="M216.6 277.5 l1.0 2.8M209.7 281.1 l0.8 2.3M217.5 277.0 l1.2 3.4M210.6 279.5 l1.1 3.1M215.4 281.5 l2.4 -0.9M211.0 283.1 l2.7 -1.0M209.2 280.2 l1.3 3.5M217.5 277.2 l0.7 1.8M217.7 277.6 l1.0 2.7M213.4 282.3 l2.8 -1.0M214.5 278.6 l2.0 -0.7M225.1 274.6 l3.3 -1.2M222.0 276.4 l0.6 1.8M231.5 272.4 l1.0 2.7M232.9 272.3 l0.6 1.5M227.9 274.9 l2.3 -0.8M226.0 274.6 l2.4 -0.9M232.2 272.9 l0.7 1.8M227.2 273.8 l1.9 -0.7M228.7 276.7 l3.0 -1.1M230.0 276.2 l2.8 -1.0M221.7 275.6 l1.0 2.8M229.1 273.1 l3.3 -1.2M240.0 269.2 l2.5 -0.9M247.5 266.8 l0.9 2.5M236.9 270.2 l1.2 3.2M244.8 270.3 l2.3 -0.9M239.6 272.7 l2.7 -1.0M237.6 270.4 l0.6 1.7M242.8 269.6 l2.7 -1.0M247.2 266.2 l1.3 3.6M245.9 267.0 l1.8 -0.6M239.7 269.3 l1.6 -0.6M247.2 266.2 l1.4 3.7M245.6 270.5 l2.7 -1.0M272.9 260.6 l3.7 -1.4M283.2 253.8 l0.7 1.9M271.5 257.7 l2.9 -1.0M252.5 265.8 l0.8 2.2M282.5 254.1 l0.6 1.5M263.7 261.7 l2.4 -0.9M276.3 256.0 l1.5 -0.5M283.1 253.6 l0.7 2.0M278.1 258.7 l3.4 -1.2M254.8 267.2 l2.4 -0.9M251.5 264.7 l1.1 2.9M259.4 265.4 l1.6 -0.6M251.7 265.3 l1.0 2.8M279.8 258.1 l3.6 -1.3M277.4 257.0 l2.1 -0.8M283.4 254.5 l0.6 1.7M283.0 253.4 l1.3 3.5M281.5 253.7 l1.4 3.7M259.1 262.9 l2.2 -0.8M251.5 264.8 l1.2 3.4M282.4 255.6 l0.5 1.5M253.5 266.1 l3.0 -1.1M251.7 265.3 l0.8 2.2M273.4 260.4 l3.7 -1.3M251.7 265.2 l0.8 2.2M297.1 248.1 l1.2 3.4M298.4 248.9 l0.8 2.2M287.3 252.1 l0.6 1.7M295.9 250.4 l2.9 -1.1M288.5 251.5 l2.3 -0.8M287.3 252.0 l1.1 3.0M287.8 253.8 l2.8 -1.0M289.6 252.3 l2.5 -0.9M297.3 248.1 l1.1 2.9M298.7 249.7 l0.5 1.5M290.9 253.2 l1.7 -0.6M289.0 254.7 l2.3 -0.8M216.8 290.4 l3.6 -1.3M208.2 288.8 l0.9 2.3M221.6 284.6 l1.3 3.5M221.4 284.1 l1.3 3.6M208.9 290.1 l1.5 -0.6M217.2 285.7 l2.6 -1.0M209.2 290.2 l1.0 2.8M215.8 288.3 l3.4 -1.2M221.6 284.7 l1.3 3.6M221.5 285.6 l0.7 1.9M218.5 289.8 l3.0 -1.1M221.4 285.8 l0.9 2.4M208.7 290.2 l1.1 3.0M215.1 289.2 l3.2 -1.2M226.2 284.0 l0.5 1.5M236.1 279.1 l0.8 2.1M230.8 285.3 l2.5 -0.9M228.2 282.8 l0.5 1.5M227.6 281.9 l1.4 3.8M228.5 283.9 l3.0 -1.1M227.7 284.4 l3.2 -1.2M230.4 283.2 l3.2 -1.2M229.6 282.7 l3.1 -1.1M235.9 278.6 l1.2 3.3M234.6 284.0 l2.4 -0.9M235.0 283.8 l2.7 -1.0M230.7 284.6 l3.7 -1.4M253.8 274.8 l2.9 -1.1M241.5 277.2 l1.0 2.7M253.8 275.4 l2.5 -0.9M240.3 277.6 l1.0 2.8M240.1 277.1 l1.3 3.7M242.1 276.8 l1.3 3.7M240.3 277.5 l1.3 3.5M254.4 276.8 l3.1 -1.1M248.5 278.9 l2.4 -0.9M252.6 277.4 l2.4 -0.9M247.5 274.6 l1.7 -0.6M252.6 277.4 l2.1 -0.8M241.7 276.9 l0.7 1.9M255.1 273.2 l0.8 2.2M257.3 273.8 l0.5 1.5M245.8 276.2 l2.8 -1.0M256.8 272.5 l1.1 2.9M285.8 260.9 l1.1 3.1M261.3 269.6 l2.3 -0.8M286.0 260.4 l1.0 2.8M260.7 270.1 l1.1 3.1M284.4 261.8 l0.9 2.4M261.5 269.5 l1.5 -0.6M276.1 264.2 l2.6 -0.9M284.5 262.5 l0.7 2.0M286.4 260.9 l1.0 2.7M260.6 269.8 l1.0 2.6M260.7 270.0 l1.0 2.7M262.7 270.3 l0.7 1.9M286.2 260.4 l1.2 3.3M262.4 270.3 l0.6 1.7M261.1 269.6 l0.8 2.2M286.1 260.7 l0.8 2.2M260.7 270.0 l1.1 3.0M261.2 271.1 l1.0 2.8M264.9 272.9 l1.5 -0.5M270.8 266.1 l2.2 -0.8M261.3 271.6 l0.8 2.2M275.3 265.8 l3.2 -1.2M294.2 257.6 l2.3 -0.9M291.0 259.7 l0.5 1.5M300.2 257.4 l0.6 1.8M291.9 258.5 l2.0 -0.7M299.3 257.8 l0.8 2.1M293.6 258.1 l3.2 -1.2M290.6 259.1 l0.7 1.8M298.6 256.9 l1.2 3.3M299.5 255.6 l0.6 1.5M293.2 259.8 l0.6 1.8M290.4 258.7 l0.5 1.4M294.0 257.8 l2.2 -0.8M226.9 297.1 l2.1 -0.8M224.5 295.6 l1.7 -0.6M223.3 292.8 l1.6 -0.6M231.1 291.0 l1.4 3.8M229.1 290.7 l1.7 -0.6M231.7 292.5 l0.7 1.9M230.7 289.8 l1.0 2.6M217.6 299.1 l0.6 1.5M218.0 294.8 l1.8 -0.7M216.7 296.4 l1.1 2.9M217.4 298.4 l0.8 2.1M222.2 297.5 l3.7 -1.3M231.4 291.7 l0.8 2.2M216.6 296.3 l0.9 2.5M216.7 296.5 l0.9 2.5M262.1 280.5 l1.2 3.2M254.1 287.2 l3.0 -1.1M249.5 286.1 l0.9 2.3M256.9 280.6 l3.7 -1.4M247.9 284.2 l2.9 -1.1M256.0 286.5 l2.5 -0.9M249.1 284.2 l0.6 1.5M250.4 288.5 l2.1 -0.8M248.7 286.9 l0.6 1.6M248.2 283.4 l1.3 3.6M257.9 281.3 l1.7 -0.6M250.2 285.0 l1.0 2.7M259.2 279.8 l2.0 -0.7M261.5 282.5 l0.7 2.0M247.8 284.4 l1.2 3.3M247.9 284.7 l0.9 2.6M268.4 276.8 l2.3 -0.8M267.2 281.0 l1.6 -0.6M268.8 277.9 l1.1 3.0M274.7 277.2 l2.7 -1.0M277.3 278.8 l3.6 -1.3M281.9 273.5 l1.2 3.4M268.7 277.3 l1.3 3.5M275.4 273.9 l2.5 -0.9M275.6 279.2 l2.1 -0.8M280.6 277.5 l2.7 -1.0M277.8 275.7 l1.7 -0.6M280.1 275.4 l0.6 1.6M277.3 278.7 l2.1 -0.8M279.3 272.5 l1.7 -0.6M281.2 271.5 l1.0 2.9M279.7 272.2 l1.1 3.1M293.2 267.4 l2.1 -0.8M296.1 269.1 l1.0 2.8M294.7 268.0 l1.2 3.3M287.5 270.3 l1.1 3.0M295.9 268.7 l0.9 2.5M287.6 273.1 l2.9 -1.0M289.2 268.9 l2.7 -1.0M285.6 270.5 l1.2 3.2M289.3 269.1 l2.1 -0.7M296.0 269.0 l0.6 1.6M290.4 274.0 l3.5 -1.3M294.2 269.1 l0.6 1.6M285.8 270.1 l2.5 -0.9M330.4 259.4 l1.6 -0.6M300.6 268.3 l0.5 1.5M300.6 264.7 l1.7 -0.6M299.9 266.6 l1.2 3.2M300.1 266.9 l0.9 2.5M320.8 261.7 l2.0 -0.7M300.1 267.0 l1.0 2.8M299.5 265.2 l1.3 3.7M327.6 260.4 l2.1 -0.8M299.8 266.1 l1.0 2.7M317.6 258.5 l2.3 -0.8M299.8 266.2 l1.3 3.5M332.3 256.0 l0.8 2.1M302.6 269.5 l2.7 -1.0M331.9 256.5 l0.9 2.4M315.3 259.4 l2.2 -0.8M319.0 260.0 l2.7 -1.0M312.1 264.1 l1.8 -0.7M331.2 255.1 l1.1 3.1M299.7 265.8 l1.0 2.7M312.1 265.6 l1.6 -0.6M307.3 267.1 l3.2 -1.2M299.5 265.4 l0.8 2.3M324.6 256.0 l2.5 -0.9M319.8 257.7 l2.5 -0.9M301.8 266.1 l1.0 2.8M247.7 294.3 l1.7 -0.6M248.2 296.8 l1.3 3.6M255.1 297.6 l2.4 -0.9M247.9 294.2 l3.0 -1.1M257.9 295.5 l0.9 2.5M253.0 292.4 l3.4 -1.2M245.9 295.6 l0.8 2.3M246.8 298.0 l1.4 3.7M245.7 295.0 l1.2 3.3M250.1 298.5 l0.9 2.6M255.0 292.3 l1.7 -0.6M247.1 298.9 l1.0 2.7M256.9 292.8 l0.9 2.6M250.6 294.2 l3.0 -1.1M264.8 295.9 l3.0 -1.1M269.2 291.1 l1.0 2.8M262.8 296.6 l3.7 -1.4M260.7 290.0 l1.0 2.8M263.7 288.5 l3.6 -1.3M270.3 287.3 l1.3 3.5M264.6 295.9 l2.1 -0.8M261.7 292.7 l1.3 3.6M261.9 291.8 l2.5 -0.9M268.4 294.6 l3.2 -1.2M265.2 287.9 l2.2 -0.8M268.0 290.6 l3.1 -1.1M270.3 287.3 l1.2 3.4M266.8 289.5 l1.0 2.7M285.9 284.0 l2.7 -1.0M277.6 289.1 l2.6 -0.9M278.4 285.2 l1.1 2.9M275.0 287.1 l0.7 2.0M278.4 283.1 l3.4 -1.2M290.3 284.0 l0.8 2.1M289.3 281.4 l1.1 3.1M280.4 286.6 l2.3 -0.9M274.0 284.8 l2.0 -0.7M286.1 280.0 l0.8 2.3M278.1 285.4 l0.5 1.4M288.7 279.6 l1.1 3.0M281.0 290.0 l2.6 -0.9M280.6 282.3 l2.5 -0.9M280.8 290.0 l2.2 -0.8M275.4 285.1 l0.9 2.4M277.9 283.3 l1.8 -0.6M302.6 278.9 l3.1 -1.1M299.2 275.6 l3.4 -1.2M294.2 281.6 l1.2 3.4M313.0 270.5 l2.5 -0.9M311.5 278.9 l2.9 -1.0M293.2 279.0 l0.7 2.0M303.1 277.3 l2.7 -1.0M320.2 271.0 l0.9 2.5M312.4 278.5 l3.4 -1.3M293.3 279.2 l1.3 3.5M314.3 270.1 l3.7 -1.3M319.2 268.4 l1.1 3.0M294.0 281.3 l0.8 2.3M293.4 279.4 l1.1 3.0M311.3 278.9 l3.5 -1.3M294.1 281.4 l1.1 3.0M312.6 278.5 l1.6 -0.6M318.0 270.7 l1.0 2.6M295.1 278.6 l0.9 2.5M311.2 279.0 l3.6 -1.3M320.4 271.5 l1.0 2.8M304.7 280.2 l3.1 -1.1M309.3 276.4 l2.9 -1.0M293.5 279.8 l0.9 2.6M269.2 302.5 l1.6 -0.6M261.7 304.0 l0.6 1.7M278.4 298.0 l2.2 -0.8M290.2 292.4 l1.1 3.1M272.4 304.2 l3.0 -1.1M262.7 307.7 l1.9 -0.7M274.4 297.2 l1.6 -0.6M262.9 302.4 l1.2 3.3M284.5 293.5 l3.4 -1.2M286.1 292.9 l3.5 -1.3M290.5 292.2 l1.3 3.7M262.1 303.2 l0.8 2.1M286.1 299.2 l3.2 -1.2M261.5 302.5 l1.2 3.2M264.0 301.2 l0.9 2.5M261.8 304.4 l1.2 3.4M263.7 301.9 l0.6 1.7M271.6 304.5 l1.8 -0.7M292.3 291.5 l0.8 2.1M261.2 302.0 l1.8 -0.7M262.6 301.8 l1.0 2.7M290.1 291.3 l0.8 2.1M291.0 293.1 l0.6 1.8M292.4 291.6 l1.3 3.7M281.0 295.0 l3.5 -1.3M262.0 301.6 l0.7 2.0M312.0 287.0 l0.8 2.2M299.9 294.2 l3.2 -1.2M305.1 287.8 l1.5 -0.5M310.2 284.7 l0.6 1.7M300.3 294.0 l2.9 -1.0M304.2 292.6 l3.5 -1.3M303.3 292.0 l1.6 -0.6M302.4 293.3 l2.5 -0.9M303.8 292.7 l2.8 -1.0M312.0 287.1 l0.9 2.4M308.3 285.8 l1.3 3.6M300.8 290.5 l2.6 -0.9M296.5 289.7 l0.8 2.2M296.8 290.7 l1.2 3.4M296.9 290.8 l0.9 2.5M310.9 283.9 l0.9 2.3M300.5 291.7 l3.7 -1.3M326.5 281.6 l2.0 -0.7M322.9 279.5 l3.0 -1.1M331.2 278.4 l1.3 3.7M323.4 285.6 l2.1 -0.8M330.8 277.3 l0.5 1.5M316.3 285.5 l0.8 2.3M317.7 282.6 l1.1 3.0M318.2 282.6 l1.0 2.7M330.3 281.5 l1.6 -0.6M330.7 276.8 l1.0 2.8M328.1 277.6 l2.2 -0.8M327.6 277.8 l2.9 -1.1M315.2 282.6 l1.2 3.2M315.5 283.4 l0.5 1.4M331.0 277.7 l1.3 3.7M315.4 283.1 l0.8 2.2M275.7 307.9 l0.6 1.5M276.0 308.7 l0.6 1.6M285.2 304.1 l1.1 3.0M277.9 310.6 l3.6 -1.3M277.0 307.8 l0.5 1.4M281.4 309.7 l2.8 -1.0M276.0 308.7 l1.1 2.9M275.9 308.4 l0.8 2.2M276.2 309.2 l0.5 1.5M277.7 309.4 l2.8 -1.0M275.8 308.0 l0.9 2.4M283.3 304.7 l1.3 3.6M275.8 308.2 l0.8 2.3M305.7 297.6 l0.9 2.5M289.6 303.1 l0.5 1.5M299.7 300.9 l3.0 -1.1M289.6 303.1 l1.1 3.1M305.7 297.8 l0.7 1.8M302.4 299.9 l2.4 -0.9M294.9 300.8 l1.7 -0.6M296.5 302.7 l1.5 -0.5M302.7 302.0 l2.1 -0.8M303.4 298.0 l1.3 3.5M305.6 297.4 l1.0 2.6M303.6 297.7 l1.3 3.5M289.8 303.6 l0.9 2.5M305.7 297.7 l0.5 1.5M299.9 299.1 l2.1 -0.8M305.6 297.4 l1.0 2.8M315.5 297.3 l1.8 -0.6M322.7 291.5 l0.9 2.6M311.9 298.1 l3.5 -1.3M316.7 296.2 l3.4 -1.2M319.7 295.8 l2.4 -0.9M310.1 296.7 l0.8 2.3M322.5 291.1 l0.8 2.3M310.0 296.3 l0.6 1.7M310.1 295.4 l1.3 3.6M309.9 296.2 l1.1 3.0M315.1 293.4 l2.9 -1.1M311.9 295.6 l0.9 2.5M318.5 293.5 l3.8 -1.4M318.4 292.2 l3.7 -1.4M315.9 297.2 l1.8 -0.7M363.8 276.2 l1.2 3.3M338.8 286.8 l3.0 -1.1M329.3 290.9 l0.5 1.5M363.2 277.1 l0.9 2.5M346.8 285.9 l2.3 -0.8M346.2 284.4 l1.4 -0.5M343.3 283.2 l3.0 -1.1M340.4 288.3 l1.5 -0.6M361.2 278.4 l2.0 -0.7M363.4 277.3 l0.7 1.9M349.3 281.0 l1.6 -0.6M358.2 281.8 l3.3 -1.2M328.4 288.5 l1.0 2.8M364.0 275.7 l1.2 3.3M343.0 283.3 l2.7 -1.0M332.7 290.6 l3.4 -1.2M363.9 275.5 l1.3 3.5M331.6 287.4 l1.7 -0.6M339.4 288.6 l1.7 -0.6M359.4 277.3 l3.3 -1.2M364.6 277.2 l0.7 1.9M331.2 287.6 l2.8 -1.0M328.5 288.5 l1.2 3.2M328.4 288.4 l1.2 3.3M364.2 276.1 l1.1 3.0M335.4 286.0 l2.1 -0.8M339.0 284.7 l2.7 -1.0M303.8 309.6 l0.8 2.3M303.3 310.3 l2.9 -1.1M305.5 305.7 l0.7 2.1M305.6 306.1 l1.1 3.1M294.8 311.4 l1.0 2.7M301.1 314.0 l3.2 -1.2M306.1 307.5 l1.2 3.2M304.4 307.9 l0.9 2.5M295.3 312.7 l0.9 2.4M298.6 314.9 l3.0 -1.1M301.9 309.8 l3.0 -1.1M304.5 308.0 l1.3 3.5M302.0 307.0 l1.6 -0.6M294.7 309.7 l2.0 -0.7M322.8 306.1 l1.7 -0.6M313.9 309.4 l2.9 -1.1M324.7 301.9 l0.6 1.8M316.2 308.5 l1.5 -0.6M324.8 302.4 l1.0 2.7M309.4 304.3 l3.3 -1.2M312.0 307.6 l0.6 1.6M321.9 300.6 l1.3 3.5M311.3 308.6 l0.6 1.8M322.4 300.5 l0.9 2.3M324.4 301.1 l0.9 2.6M312.1 303.2 l1.2 3.4M325.0 303.2 l0.6 1.7M310.6 306.7 l1.0 2.7M312.4 305.5 l0.9 2.6M320.0 305.6 l2.2 -0.8M329.9 303.0 l3.1 -1.1M340.4 293.0 l1.1 3.0M339.1 296.5 l3.6 -1.3M341.7 293.2 l1.0 2.6M341.9 297.2 l3.0 -1.1M327.9 297.7 l0.9 2.4M332.6 300.5 l0.6 1.6M340.9 293.6 l1.2 3.4M344.4 294.0 l1.1 3.1M327.8 297.4 l1.1 2.9M334.8 301.8 l1.7 -0.6M331.3 301.5 l3.3 -1.2M328.0 297.8 l1.2 3.2M332.3 296.0 l2.8 -1.0M344.7 295.0 l0.9 2.5M335.3 301.6 l2.6 -0.9M342.4 295.2 l1.2 3.2M306.1 320.5 l0.7 2.0M308.0 318.0 l2.2 -0.8M316.2 314.3 l0.9 2.5M303.9 317.4 l1.3 3.7M311.4 318.9 l3.7 -1.3M315.9 313.6 l0.9 2.6M309.4 315.8 l1.5 -0.6M316.1 314.0 l1.1 3.1M313.9 316.4 l1.1 2.9M309.3 321.8 l1.9 -0.7M313.2 320.4 l3.4 -1.2M311.4 315.1 l3.4 -1.2M315.0 317.9 l0.5 1.5M307.2 317.8 l1.0 2.8M305.4 320.2 l0.7 2.0M321.3 314.9 l0.7 1.9M332.3 311.1 l0.8 2.2M331.1 307.8 l1.3 3.6M330.7 309.0 l1.2 3.3M320.3 312.3 l0.5 1.5M320.5 312.8 l1.3 3.5M320.1 311.6 l0.6 1.8M325.8 311.3 l2.2 -0.8M326.9 309.4 l1.6 -0.6M320.5 313.0 l1.1 3.0M323.5 313.2 l0.9 2.4M323.6 311.4 l1.7 -0.6M324.2 316.4 l3.7 -1.4M329.0 310.4 l0.6 1.8M306.4 327.3 l1.0 2.8M319.8 322.7 l1.4 3.7M309.4 329.2 l0.7 1.8M306.7 328.2 l0.9 2.6M307.4 328.9 l1.2 3.3M320.0 324.8 l0.9 2.4M312.8 328.9 l2.1 -0.8M308.8 327.7 l0.8 2.2M308.8 328.9 l0.8 2.1M309.2 326.6 l1.6 -0.6M320.5 322.2 l1.1 2.9M314.0 328.9 l3.4 -1.3M321.8 322.3 l0.8 2.1M315.7 326.7 l3.1 -1.1M309.1 328.3 l0.8 2.3M322.6 324.6 l0.6 1.5M333.5 318.3 l3.5 -1.3M332.6 318.1 l1.6 -0.6M342.4 316.8 l1.0 2.9M336.2 316.8 l3.5 -1.3M327.6 324.9 l3.4 -1.3M329.3 321.7 l0.9 2.5M326.9 323.2 l0.8 2.2M336.6 316.7 l3.5 -1.3M336.9 321.9 l2.2 -0.8M327.5 322.2 l0.8 2.1M326.9 323.0 l0.5 1.4M342.5 317.2 l0.9 2.3M326.4 321.9 l1.3 3.6M327.3 321.2 l0.6 1.8M326.5 322.3 l1.0 2.7M326.9 323.2 l0.6 1.7M333.5 317.8 l2.1 -0.8" stroke="#a6a6a6" stroke-width="1.5" fill="none"/>
<path clip-path="url(#c19)" d="M204.3 293.3 L218.1 285.0 L221.6 290.7 L207.8 299.1ZM219.9 283.9 L233.0 276.0 L236.5 281.8 L223.3 289.7ZM164.9 327.2 L180.0 318.1 L184.5 325.6 L169.4 334.6ZM181.7 317.1 L195.6 308.7 L200.1 316.2 L186.2 324.5ZM197.4 307.7 L209.7 300.2 L214.2 307.7 L201.8 315.1ZM211.5 299.2 L225.6 290.7 L230.1 298.2 L215.9 306.7ZM227.3 289.7 L241.7 281.0 L246.2 288.5 L231.8 297.1ZM149.3 349.0 L163.7 340.4 L167.2 346.1 L152.8 354.7ZM165.4 339.3 L178.1 331.8 L181.5 337.5 L168.9 345.1ZM179.8 330.7 L193.9 322.2 L197.4 327.9 L183.2 336.4ZM195.6 321.2 L212.7 310.9 L216.2 316.6 L199.1 326.9ZM214.4 309.9 L231.0 299.9 L234.5 305.6 L217.9 315.6ZM232.7 298.9 L249.3 288.9 L252.7 294.7 L236.2 304.6ZM141.4 363.9 L176.8 342.6 L180.6 348.9 L145.1 370.2ZM178.5 341.6 L190.2 334.5 L194.0 340.8 L182.3 347.8ZM192.0 333.5 L209.2 323.2 L212.9 329.4 L195.7 339.8ZM210.9 322.1 L224.2 314.1 L228.0 320.4 L214.6 328.4ZM225.9 313.1 L242.3 303.3 L246.0 309.5 L229.7 319.4ZM244.0 302.2 L255.0 295.6 L258.8 301.9 L247.8 308.5ZM146.1 371.9 L195.5 342.2 L199.2 348.2 L149.8 377.9ZM197.2 341.2 L214.5 330.8 L218.1 336.9 L200.9 347.2ZM216.2 329.8 L233.9 319.2 L237.5 325.2 L219.8 335.8ZM235.6 318.1 L251.3 308.7 L255.0 314.7 L239.2 324.2ZM253.0 307.7 L270.9 296.9 L274.5 303.0 L256.7 313.7ZM166.2 370.4 L177.5 363.6 L182.1 371.2 L170.7 378.0ZM179.3 362.5 L194.1 353.6 L198.6 361.2 L183.8 370.1ZM195.8 352.6 L207.3 345.7 L211.8 353.3 L200.3 360.2ZM209.0 344.7 L223.1 336.2 L227.6 343.8 L213.6 352.3ZM224.8 335.2 L238.8 326.8 L243.4 334.4 L229.3 342.8ZM172.3 379.4 L224.5 348.0 L227.9 353.7 L175.7 385.0ZM226.2 347.0 L238.7 339.5 L242.1 345.1 L229.6 352.6ZM240.4 338.5 L256.3 328.9 L259.7 334.6 L243.8 344.1ZM258.0 327.9 L274.1 318.3 L277.4 323.9 L261.4 333.5ZM275.8 317.2 L292.4 307.3 L295.7 312.9 L279.2 322.9ZM205.1 369.7 L220.4 360.5 L223.5 365.6 L208.2 374.8ZM256.5 338.8 L302.4 311.2 L305.5 316.3 L259.5 343.9ZM212.2 374.7 L230.3 363.8 L234.8 371.5 L216.8 382.3ZM232.0 362.8 L247.9 353.3 L252.4 360.9 L236.6 370.4ZM249.6 352.2 L284.6 331.2 L289.1 338.8 L254.1 359.9Z" stroke="#a6a6a6" stroke-width="1.0" fill="none"/>
<path clip-path="url(#c19)" d="M206.1 293.6 l1.9 3.2M208.5 294.4 l0.8 1.3M211.3 292.9 l2.2 -1.3M218.3 287.8 l0.8 1.4M207.2 295.4 l0.9 1.5M217.7 286.8 l1.0 1.7M206.5 294.3 l1.5 2.5M208.3 296.8 l2.8 -1.7M210.2 296.1 l1.5 -0.9M218.1 287.5 l1.6 2.6M216.9 289.4 l0.8 1.3M228.0 280.6 l2.6 -1.6M223.2 283.7 l1.9 3.2M224.5 287.4 l3.3 -2.0M221.7 284.4 l2.0 3.4M229.3 284.6 l2.0 -1.2M222.1 284.7 l1.8 3.1M232.5 277.8 l2.1 3.4M233.0 278.6 l0.9 1.5M229.8 284.2 l2.5 -1.5M229.7 279.6 l2.3 -1.4M221.8 284.3 l1.7 2.8M170.4 332.4 l2.4 -1.5M181.2 326.0 l1.6 -1.0M175.2 329.2 l1.5 -0.9M169.7 332.2 l2.2 -1.3M171.9 324.6 l2.4 -1.5M179.3 327.1 l1.8 -1.1M180.7 321.8 l2.0 3.3M167.4 327.2 l3.3 -2.0M170.2 332.6 l1.8 -1.1M167.5 329.0 l0.9 1.4M168.7 328.0 l1.1 1.8M179.1 322.7 l1.0 1.6M189.4 321.0 l3.3 -2.0M195.2 310.5 l1.8 2.9M190.1 320.6 l1.5 -0.9M185.7 320.7 l1.2 2.0M195.0 317.7 l1.6 -0.9M183.7 317.8 l0.9 1.5M187.6 315.1 l3.2 -1.9M194.3 314.4 l1.0 1.6M188.8 317.9 l1.4 -0.8M184.4 317.0 l2.4 -1.4M184.1 317.2 l3.1 -1.9M185.8 319.5 l1.0 1.7M207.5 310.2 l1.8 -1.1M205.7 304.2 l1.9 -1.1M205.1 304.6 l2.9 -1.7M209.8 303.0 l1.7 2.8M199.0 308.3 l1.8 -1.1M209.9 308.7 l2.7 -1.6M199.4 309.0 l1.6 -0.9M201.9 308.0 l2.0 3.3M209.2 309.2 l2.2 -1.3M199.9 309.3 l1.0 1.6M201.1 311.3 l1.4 2.3M224.8 293.1 l1.9 3.1M219.9 295.7 l2.9 -1.7M214.3 301.3 l2.0 3.3M225.4 293.1 l1.6 2.6M225.2 292.6 l1.9 3.2M220.7 295.2 l1.9 -1.1M226.0 294.0 l1.6 2.7M215.3 303.0 l1.1 1.9M219.5 295.9 l2.5 -1.5M214.1 301.0 l1.5 2.5M221.2 294.9 l1.9 -1.1M213.7 300.4 l1.5 2.6M229.2 290.2 l1.7 2.9M242.8 285.4 l1.2 2.0M242.8 285.4 l1.0 1.7M232.6 295.1 l3.1 -1.9M234.2 287.1 l3.0 -1.8M242.5 284.9 l1.9 3.1M229.7 291.0 l1.5 2.6M242.3 284.6 l1.9 3.1M229.2 290.2 l1.0 1.6M229.6 290.8 l1.6 2.6M237.0 292.4 l2.0 -1.2M239.4 291.0 l2.2 -1.3M151.4 349.8 l1.6 2.7M160.3 348.6 l2.4 -1.5M157.7 345.6 l3.2 -1.9M164.2 343.8 l1.1 1.8M162.3 344.5 l0.8 1.3M163.1 342.0 l1.5 2.6M159.8 348.9 l3.0 -1.8M164.3 344.0 l0.8 1.3M151.7 350.3 l1.4 2.3M162.2 344.8 l1.4 2.3M160.9 343.7 l2.4 -1.5M173.5 340.7 l1.3 -0.8M167.8 340.7 l1.5 2.6M175.8 334.7 l1.4 -0.9M169.5 338.5 l1.5 -0.9M170.6 342.4 l2.9 -1.7M178.8 335.6 l1.0 1.6M178.5 335.0 l0.9 1.5M172.3 341.4 l2.2 -1.3M173.5 340.7 l2.6 -1.6M168.2 341.3 l1.1 1.8M184.9 331.7 l3.0 -1.8M184.4 332.2 l1.9 -1.1M193.8 324.6 l1.2 2.1M185.5 331.2 l3.0 -1.8M189.8 326.3 l2.3 -1.4M182.1 332.0 l1.5 2.5M192.1 329.5 l1.3 -0.8M192.5 327.8 l1.9 -1.2M188.4 331.8 l1.8 -1.1M182.5 332.7 l1.0 1.7M193.5 324.1 l1.3 2.2M205.7 321.4 l2.9 -1.7M212.6 313.3 l1.9 3.2M201.1 319.5 l2.5 -1.5M212.6 313.3 l1.0 1.6M202.9 323.0 l3.1 -1.8M210.1 314.3 l2.5 -1.5M197.3 321.4 l2.1 3.4M202.6 320.6 l1.8 -1.1M204.9 317.2 l3.1 -1.8M204.2 317.6 l2.4 -1.4M200.2 322.9 l3.0 -1.8M197.4 321.4 l1.8 3.1M222.2 311.4 l2.5 -1.5M223.9 310.4 l2.6 -1.5M230.9 302.4 l1.6 2.6M223.0 306.3 l3.2 -1.9M216.7 311.1 l1.5 2.5M230.4 301.5 l1.3 2.1M216.9 310.5 l1.8 3.1M230.5 301.7 l1.6 2.7M216.1 310.5 l3.3 -2.0M216.2 310.4 l1.6 -1.0M217.2 311.8 l0.8 1.3M230.6 301.8 l2.0 3.4M245.8 292.6 l2.2 -1.3M238.5 301.0 l3.1 -1.9M249.2 291.4 l1.0 1.6M249.1 291.2 l1.4 2.3M246.9 296.6 l3.4 -2.1M234.5 299.3 l0.9 1.5M236.5 302.8 l1.5 -0.9M249.4 291.7 l1.5 2.5M234.7 299.6 l1.8 3.0M242.8 294.4 l3.0 -1.8M249.1 291.3 l1.4 2.3M234.7 299.6 l1.7 2.8M168.4 353.8 l2.5 -1.5M161.8 353.2 l2.5 -1.5M161.3 353.5 l1.8 -1.1M148.5 361.2 l3.4 -2.0M148.1 361.6 l2.2 -1.3M176.8 345.3 l1.4 2.4M177.6 346.5 l1.2 1.9M176.8 345.3 l1.5 2.5M176.2 344.2 l2.0 3.4M176.2 345.5 l1.4 2.4M177.5 347.0 l1.1 1.8M154.0 363.2 l1.8 -1.1M176.8 345.3 l1.0 1.7M166.6 350.3 l1.6 -1.0M169.7 352.8 l2.0 -1.2M160.8 358.3 l2.3 -1.4M143.7 365.2 l0.9 1.6M165.9 350.8 l3.0 -1.8M151.3 359.5 l2.2 -1.3M143.3 364.6 l1.9 3.1M167.0 355.4 l2.4 -1.4M184.3 339.7 l2.5 -1.5M187.2 338.6 l2.9 -1.7M180.9 342.9 l1.0 1.7M186.3 338.5 l2.6 -1.5M180.9 342.9 l1.6 2.6M181.5 344.0 l1.4 2.3M191.0 338.5 l0.9 1.5M182.5 346.1 l2.0 -1.2M189.9 336.7 l0.9 1.5M184.1 339.8 l2.4 -1.5M204.1 333.1 l3.3 -2.0M208.7 324.9 l0.9 1.4M210.0 327.1 l1.1 1.8M205.7 332.2 l1.6 -1.0M208.9 325.4 l1.9 3.2M200.6 335.3 l1.8 -1.1M196.6 332.3 l2.5 -1.5M200.7 329.8 l2.5 -1.5M197.3 337.2 l2.2 -1.3M209.9 327.0 l0.9 1.4M198.6 331.1 l2.1 -1.3M199.1 336.2 l1.5 -0.9M208.6 324.9 l1.2 2.0M221.3 322.8 l2.2 -1.3M212.9 322.9 l1.8 3.0M217.5 325.1 l1.9 -1.1M223.8 320.5 l1.6 -0.9M214.2 321.3 l1.0 1.6M223.7 315.9 l0.9 1.5M218.7 319.0 l3.2 -1.9M213.0 323.0 l1.8 3.0M222.5 322.1 l3.3 -2.0M217.2 323.1 l1.7 -1.0M213.8 323.0 l1.2 1.9M242.4 306.2 l1.9 3.2M239.6 306.5 l2.4 -1.4M242.2 305.8 l1.8 3.0M229.2 313.0 l1.8 3.0M241.3 305.5 l1.3 2.2M240.5 311.3 l2.1 -1.2M242.5 306.3 l1.7 2.8M233.4 315.3 l1.4 -0.8M238.6 307.1 l2.7 -1.6M242.3 306.0 l1.4 2.3M231.8 313.1 l3.2 -1.9M229.2 316.0 l0.9 1.5M246.3 303.5 l1.2 2.1M246.4 303.6 l1.7 2.9M248.6 304.8 l2.3 -1.4M248.0 302.2 l1.7 2.9M255.1 298.4 l1.8 2.9M248.6 306.4 l1.9 -1.1M245.9 302.7 l3.2 -1.9M249.4 300.6 l1.7 -1.0M253.9 300.0 l0.9 1.5M248.3 301.7 l1.9 3.2M148.4 373.0 l1.1 1.9M191.2 351.4 l2.3 -1.4M174.1 361.7 l1.9 -1.1M149.0 374.0 l1.2 2.0M156.5 367.3 l1.6 -0.9M148.1 372.5 l1.0 1.7M195.1 344.1 l1.9 3.1M157.8 371.5 l2.7 -1.6M195.7 345.1 l1.4 2.4M162.0 366.5 l2.4 -1.5M160.7 369.6 l2.1 -1.3M166.0 361.5 l1.5 -0.9M151.3 375.4 l2.2 -1.3M195.0 343.9 l1.9 3.2M154.4 373.6 l3.4 -2.0M195.4 344.7 l2.0 3.3M195.1 344.1 l0.9 1.6M162.2 363.8 l1.4 -0.8M155.1 368.1 l3.0 -1.8M163.2 368.3 l2.8 -1.7M188.9 352.9 l2.0 -1.2M189.8 352.3 l2.0 -1.2M184.6 350.4 l2.6 -1.6M165.2 367.1 l1.4 -0.8M153.2 374.3 l1.8 -1.1M182.7 351.5 l2.8 -1.7M195.3 344.4 l1.3 2.2M200.0 343.6 l2.9 -1.8M214.3 333.2 l1.3 2.1M214.6 333.7 l1.0 1.7M203.9 343.8 l2.9 -1.8M215.0 334.4 l1.0 1.6M199.7 341.3 l2.1 -1.3M214.7 333.8 l1.3 2.1M208.5 336.0 l1.6 -1.0M206.2 342.4 l2.6 -1.6M200.7 340.4 l1.4 2.3M215.5 335.2 l0.8 1.3M199.4 342.2 l1.8 3.0M214.0 332.6 l1.9 3.2M233.5 321.1 l1.2 1.9M234.3 323.4 l0.8 1.3M229.6 328.4 l1.7 -1.0M218.6 331.2 l0.8 1.3M233.9 321.8 l0.9 1.5M223.2 332.1 l3.1 -1.8M233.9 321.7 l1.1 1.9M225.3 325.9 l2.1 -1.3M218.6 331.2 l1.8 3.0M218.9 331.9 l2.2 -1.3M227.9 324.3 l2.3 -1.4M220.4 328.9 l2.8 -1.7M240.6 321.8 l2.4 -1.4M237.6 318.9 l1.1 1.8M243.3 315.1 l1.7 -1.0M251.7 312.0 l1.2 2.0M237.6 318.7 l2.1 -1.3M237.8 319.1 l1.2 1.9M237.7 318.4 l1.9 -1.1M251.3 311.3 l0.8 1.3M247.7 315.3 l1.3 -0.8M242.8 315.4 l1.6 -1.0M237.5 318.6 l1.4 2.3M252.1 312.5 l0.8 1.4M255.5 309.1 l1.2 2.0M258.3 306.1 l2.6 -1.6M255.8 309.7 l1.3 2.1M267.8 305.4 l2.8 -1.7M260.2 310.0 l2.0 -1.2M270.8 299.4 l1.7 2.8M267.0 300.9 l2.4 -1.4M256.2 308.4 l1.7 2.9M263.6 307.9 l2.0 -1.2M264.8 304.3 l2.3 -1.4M263.4 308.1 l2.7 -1.6M255.2 308.6 l1.9 3.2M262.2 308.8 l2.7 -1.6M172.3 375.5 l2.3 -1.4M168.8 372.1 l0.9 1.5M172.0 372.2 l1.5 -0.9M169.8 371.1 l2.0 3.3M170.0 374.1 l1.0 1.7M175.7 373.4 l1.6 -1.0M167.9 370.6 l1.2 2.0M178.3 367.4 l0.9 1.6M171.9 368.5 l2.9 -1.8M173.4 374.8 l1.4 -0.8M193.3 359.0 l1.8 -1.1M195.9 359.3 l0.8 1.4M189.1 365.4 l2.0 -1.2M188.9 358.3 l1.9 -1.1M193.9 362.5 l1.3 -0.8M194.2 356.5 l1.6 2.6M183.7 363.6 l1.7 -1.1M193.9 358.1 l1.4 2.3M183.6 363.1 l3.4 -2.0M186.2 359.9 l1.8 -1.1M184.2 368.3 l2.3 -1.4M182.5 365.4 l1.1 1.7M207.4 354.4 l2.4 -1.4M207.0 347.8 l1.6 2.7M201.0 351.0 l3.3 -2.0M207.5 354.3 l2.5 -1.5M209.1 351.4 l0.8 1.3M201.9 357.7 l1.8 -1.1M208.4 350.2 l1.7 2.8M203.0 357.0 l3.1 -1.9M201.8 357.8 l2.6 -1.6M205.7 348.2 l1.1 1.8M198.8 355.0 l1.2 1.9M222.7 345.2 l3.2 -1.9M211.4 346.0 l1.9 3.1M217.8 344.2 l1.7 -1.0M212.7 344.6 l1.9 3.2M220.5 346.5 l1.7 -1.0M220.1 340.2 l2.4 -1.4M211.5 346.3 l1.6 2.6M213.0 347.7 l2.0 -1.2M222.7 345.2 l3.1 -1.9M221.6 345.8 l2.3 -1.4M212.2 347.4 l2.0 3.3M211.6 346.5 l0.8 1.3M231.7 339.8 l2.8 -1.7M233.6 331.5 l1.6 -1.0M239.7 330.9 l1.7 2.9M226.6 335.6 l1.0 1.7M228.3 338.5 l1.4 2.4M235.7 337.4 l2.0 -1.2M239.7 330.8 l1.7 2.9M233.6 338.6 l3.3 -2.0M228.4 338.6 l1.4 2.3M234.1 331.1 l3.1 -1.8M232.2 332.3 l2.6 -1.6M174.3 379.9 l1.6 2.7M198.8 369.6 l2.6 -1.5M174.1 379.7 l1.4 2.3M184.1 375.9 l3.1 -1.9M174.3 380.0 l1.4 2.3M203.3 366.8 l1.9 -1.1M181.1 375.7 l2.3 -1.4M211.9 357.2 l3.3 -2.0M224.1 350.0 l2.0 3.3M174.9 379.8 l1.8 2.9M224.2 350.2 l0.9 1.4M174.3 380.1 l0.8 1.3M184.2 373.8 l3.1 -1.9M174.4 380.3 l1.9 3.1M174.6 380.5 l1.6 2.7M215.9 357.2 l1.7 -1.0M224.0 349.8 l1.5 2.5M179.7 376.5 l2.3 -1.4M174.5 380.4 l1.5 2.5M182.0 379.7 l2.4 -1.4M174.1 379.7 l1.3 2.2M184.5 378.2 l1.6 -0.9M174.3 380.0 l1.2 1.9M205.4 361.1 l2.4 -1.4M174.3 380.1 l0.9 1.6M183.7 378.7 l2.1 -1.3M187.7 376.3 l2.4 -1.5M194.8 367.5 l3.0 -1.8M225.0 351.5 l1.2 1.9M238.8 342.3 l1.3 2.2M239.1 342.8 l1.2 1.9M231.7 349.7 l3.4 -2.0M238.4 345.8 l1.5 -0.9M238.5 341.8 l1.7 2.8M236.0 342.7 l2.4 -1.4M228.3 347.8 l1.9 3.2M232.3 344.9 l2.2 -1.3M233.0 344.5 l2.6 -1.6M230.1 346.2 l1.6 -1.0M242.9 340.1 l1.0 1.7M242.6 339.5 l1.7 2.9M244.8 341.9 l3.0 -1.8M257.0 332.7 l0.8 1.3M242.5 339.3 l1.5 2.4M244.4 339.2 l1.2 1.9M244.9 339.7 l1.8 -1.1M257.0 332.8 l0.8 1.4M244.6 337.5 l2.1 -1.2M256.0 331.1 l1.7 2.9M256.2 331.4 l1.5 2.5M268.8 323.0 l1.7 -1.0M263.3 326.3 l2.4 -1.5M270.3 322.1 l1.9 -1.1M272.6 324.6 l1.9 -1.2M263.4 326.2 l2.5 -1.5M264.4 330.1 l3.2 -1.9M266.3 324.5 l3.0 -1.8M259.7 328.1 l1.9 3.2M261.3 327.7 l1.8 3.0M261.5 328.5 l1.5 2.5M266.7 326.2 l2.5 -1.5M264.4 325.7 l1.8 -1.1M291.8 308.9 l1.6 2.7M284.2 313.7 l2.6 -1.6M286.9 316.6 l1.8 -1.1M287.8 316.1 l3.4 -2.0M277.5 317.5 l1.2 2.0M292.1 309.5 l0.8 1.4M278.2 318.6 l0.8 1.3M292.0 309.9 l1.1 1.8M285.3 317.6 l2.4 -1.5M279.4 321.0 l1.4 -0.8M283.1 314.4 l1.7 -1.0M286.2 313.9 l2.2 -1.3M211.2 367.6 l2.9 -1.7M218.7 363.7 l1.3 2.1M219.8 362.1 l2.0 3.3M210.3 368.1 l1.7 -1.0M212.5 366.8 l3.1 -1.9M220.5 363.3 l1.2 2.0M208.0 369.1 l2.0 3.3M217.3 363.9 l1.4 -0.8M210.7 367.9 l2.2 -1.3M208.5 372.9 l2.6 -1.6M207.1 370.1 l1.3 -0.8M258.6 339.0 l1.9 3.1M258.2 339.0 l1.3 2.2M258.2 339.1 l1.2 2.0M280.3 329.9 l2.4 -1.4M259.0 338.8 l1.5 2.5M301.9 312.9 l1.1 1.8M276.0 328.7 l2.8 -1.7M282.6 326.5 l2.1 -1.3M295.6 316.9 l1.9 -1.2M275.7 330.1 l1.9 -1.2M291.5 319.4 l2.4 -1.4M301.9 312.9 l1.4 2.3M285.0 327.1 l2.7 -1.7M301.9 312.9 l2.0 3.3M271.1 331.6 l2.6 -1.6M288.0 323.4 l3.4 -2.0M258.3 339.3 l1.8 3.0M258.7 339.9 l1.2 2.0M258.2 339.1 l2.0 3.3M272.6 330.7 l2.8 -1.7M258.6 339.8 l1.3 2.2M301.1 313.5 l1.9 3.2M258.3 339.3 l1.0 1.6M302.7 314.2 l1.0 1.7M297.9 315.5 l1.3 -0.8M224.4 376.2 l3.2 -1.9M214.6 375.9 l1.4 2.4M219.4 371.9 l1.7 -1.0M216.7 373.6 l1.4 -0.9M214.9 376.4 l1.3 2.2M222.3 372.9 l2.9 -1.8M214.3 375.4 l0.9 1.6M218.2 379.9 l1.9 -1.2M214.1 375.2 l2.9 -1.7M216.2 377.6 l1.3 2.2M215.9 378.1 l1.2 2.1M219.9 371.6 l2.5 -1.5M221.4 370.7 l1.6 -1.0M231.2 368.0 l1.5 2.5M248.3 356.7 l1.9 3.1M233.9 363.4 l1.3 2.1M240.3 359.4 l2.3 -1.4M243.3 364.8 l2.9 -1.7M238.0 368.0 l2.1 -1.3M234.4 364.2 l1.4 2.3M237.3 361.2 l2.5 -1.5M237.7 364.1 l1.5 2.4M233.8 363.2 l1.8 3.1M243.3 364.8 l2.3 -1.4M234.6 364.5 l1.2 1.9M249.5 358.7 l1.0 1.7M242.0 358.4 l2.4 -1.4M259.7 355.0 l1.8 -1.1M252.3 354.1 l1.6 2.7M253.0 355.4 l1.7 2.9M252.3 354.2 l1.7 2.8M256.2 357.1 l1.9 -1.1M251.8 353.3 l1.4 2.3M269.0 349.4 l2.0 -1.2M252.6 352.0 l2.3 -1.4M255.0 357.8 l2.1 -1.2M262.3 346.2 l3.2 -1.9M270.8 344.4 l2.9 -1.7M251.7 353.1 l1.7 2.8M253.8 354.2 l0.9 1.5M283.3 340.7 l2.7 -1.6M284.3 333.4 l2.1 3.4M251.3 352.4 l1.1 1.8M273.8 345.6 l1.6 -1.0M275.1 345.7 l2.8 -1.7M284.5 333.7 l0.9 1.5M284.9 334.4 l1.9 3.2M279.9 335.6 l2.5 -1.5M285.1 334.8 l0.9 1.5" stroke="#a6a6a6" stroke-width="1.5" fill="none"/>
<path clip-path="url(#c20)" d="M176.9 351.1L206.0 350.9M206.0 350.9L230.8 350.7M230.8 350.7L266.0 350.4M176.9 354.3L200.2 354.1M223.6 354.0L245.8 353.8M177.0 360.8L206.6 360.5M213.6 363.9L228.8 363.5M228.8 363.5L252.9 362.9M242.3 337.8L241.7 363.5M230.1 360.7L230.5 373.6M223.9 356.4L223.1 378.6M215.6 329.4L215.6 344.0M215.6 344.0L215.7 355.2M215.7 355.2L215.7 372.5M210.0 324.2L209.8 348.3M198.1 345.4L198.7 372.1" stroke="#9c9c9c" stroke-width="1.6" fill="none"/>
<path clip-path="url(#c20)" d="M200.7 360.9l1.5 0.0M212.4 355.2l-0.0 3.3M234.8 354.5l1.8 0.0M208.4 348.6l-0.0 1.6M237.0 355.1l-0.0 1.9M237.3 360.8l-0.0 4.5M212.3 363.2l4.0 0.0M226.6 359.3l-0.0 3.4M208.5 355.7l-0.0 3.9M230.4 360.6l-0.0 2.6M202.9 347.7l4.5 0.0M232.2 366.2l3.7 0.0M204.8 359.1l4.1 0.0M217.1 358.3l-0.0 1.5M200.5 363.1l1.5 0.0M197.4 356.1l4.5 0.0M230.7 359.0l-0.0 4.4M228.0 344.1l-0.0 3.3M236.8 361.5l1.7 0.0M218.4 357.8l2.4 0.0M234.0 350.4l1.8 0.0M242.2 354.0l1.6 0.0M194.2 359.2l4.4 0.0M236.7 353.0l3.3 0.0M205.4 364.2l-0.0 2.0M238.1 362.6l4.2 0.0M232.6 347.8l-0.0 4.1M221.4 353.3l-0.0 2.4M206.2 353.6l-0.0 3.1M222.7 364.8l4.2 0.0" stroke="#9c9c9c" stroke-width="1.8" fill="none"/>
<path clip-path="url(#c21)" d="M253.2 375.8L337.8 374.7M253.2 379.2L300.2 379.5M300.2 379.5L353.7 379.8M253.2 382.1L324.6 382.0M306.5 371.7L306.0 389.9M287.4 362.4L287.8 374.6M271.6 369.7L271.8 381.0M271.8 381.0L272.1 391.1" stroke="#a6a6a6" stroke-width="0.8" fill="none"/>
<path clip-path="url(#c21)" d="M311.1 372.1l-0.0 3.5M280.6 372.7l-0.0 4.5M313.0 377.6l3.7 0.0M280.2 373.3l-0.0 3.2M285.5 377.2l-0.0 1.9M299.7 374.3l-0.0 3.3M315.6 380.4l-0.0 3.3M265.6 378.6l2.3 0.0M304.2 377.4l4.2 0.0M277.9 375.0l3.1 0.0M313.3 378.1l-0.0 2.2M282.3 382.8l-0.0 3.0" stroke="#a6a6a6" stroke-width="1.6" fill="none"/>
<polygon points="150.0,14.0 170.0,10.0 203.0,30.0 198.0,62.0 180.0,66.0 160.0,40.0" fill="#fff" stroke="none" stroke-width="0" opacity="0.5"/>
<polygon points="180.0,54.0 202.0,52.0 198.0,96.0 184.0,98.0" fill="#fff" stroke="none" stroke-width="0" opacity="0.45"/>
<polygon points="262.0,150.0 300.0,120.0 314.0,104.0 326.0,96.0 300.0,150.0 286.0,164.0 270.0,176.0" fill="#fff" stroke="none" stroke-width="0" opacity="0.2"/>
<polygon points="39.0,42.0 52.0,40.0 68.0,51.0 69.0,56.0 54.0,61.0 49.0,58.0" fill="#b6b1b1" stroke="#999" stroke-width="0.6" />
<polygon points="56.0,108.0 68.0,110.0 73.0,122.0 83.0,122.0 81.0,127.0 68.0,134.0 59.0,140.0 54.0,122.0" fill="#b2b2b2" stroke="#999" stroke-width="0.6" />
<polygon points="253.0,0.0 283.0,0.0 294.0,24.0 283.0,22.0 253.0,7.0" fill="#adadad" stroke="none" stroke-width="0.8" />
<path d="M32.6 184.2 l4.8 -3.4M26.5 203.8 l1.2 -2.0M16.0 177.7 l1.2 -1.7M15.4 164.0 l1.4 -2.1M21.8 160.4 l1.4 -2.2M24.6 191.7 l2.2 -3.5M8.7 204.2 l1.2 -2.1M3.3 197.3 l2.1 -3.6M17.1 182.0 l1.4 -2.2M14.6 185.5 l2.4 -3.9M39.1 177.1 l2.7 -4.6M33.1 152.6 l1.6 -2.7M7.5 177.3 l2.4 -3.9M25.2 196.6 l3.4 -2.4M10.8 204.1 l1.4 -2.4M29.8 160.9 l2.5 -4.1M22.1 198.9 l1.9 -3.2M25.2 167.5 l2.2 -3.5M10.7 163.1 l1.3 -1.8M34.1 192.1 l2.6 -4.4M6.2 193.1 l2.0 -3.2M27.7 167.3 l3.8 -2.6M43.3 173.5 l1.4 -2.0M28.2 198.2 l2.3 -1.6M24.3 152.2 l2.6 -3.7M31.7 176.7 l1.8 -3.1M37.3 157.6 l1.6 -2.3M34.6 162.8 l2.1 -3.0M33.4 155.0 l4.0 -2.8M39.5 159.3 l1.6 -2.6M26.7 158.6 l2.8 -2.0M14.5 162.8 l1.9 -3.4M3.9 155.7 l2.7 -1.9M5.1 168.6 l2.9 -5.0M11.8 189.8 l3.5 -2.4M25.3 204.6 l2.1 -3.7M29.7 181.4 l3.2 -5.1M41.1 190.8 l4.7 -3.3M36.3 163.1 l4.8 -3.4" stroke="#9f9f9f" stroke-width="1.3" fill="none"/>
<polyline points="327.0,91.0 306.0,128.0 284.0,167.0 254.0,210.0 223.0,254.0 203.0,284.0 186.0,310.0 172.0,332.0 164.0,352.0 162.0,372.0" fill="none" stroke="#989898" stroke-width="2.4" stroke-linejoin="round" />
<polyline points="214.0,276.0 206.0,296.0 194.0,318.0 182.0,340.0 170.0,362.0" fill="none" stroke="#a2a2a2" stroke-width="1.2" stroke-linejoin="round" />
<polyline points="232.0,250.0 214.0,270.0 200.0,300.0 188.0,324.0" fill="none" stroke="#a2a2a2" stroke-width="0.9" stroke-linejoin="round" />
<polyline points="330.0,86.0 309.0,126.0 288.0,164.0 258.0,208.0 227.0,252.0" fill="none" stroke="#a2a2a2" stroke-width="0.8" stroke-linejoin="round" />
<polyline points="322.0,92.0 301.0,130.0 280.0,168.0 250.0,212.0 219.0,256.0" fill="none" stroke="#a2a2a2" stroke-width="0.8" stroke-linejoin="round" />
<polyline points="330.0,157.0 312.0,162.0 299.0,172.0 290.0,188.0 284.0,203.0 264.0,228.0 240.0,252.0 223.0,269.0 203.0,299.0" fill="none" stroke="#a2a2a2" stroke-width="1.4" stroke-linejoin="round" />
<polyline points="330.0,150.0 310.0,156.0 296.0,167.0 287.0,184.0" fill="none" stroke="#989898" stroke-width="1.8" stroke-linejoin="round" />
<polyline points="162.0,356.0 159.5,378.0 161.5,410.0 164.5,450.0" fill="none" stroke="#989898" stroke-width="3" stroke-linejoin="round" />
<polyline points="156.0,378.0 157.5,410.0 160.5,450.0" fill="none" stroke="#a2a2a2" stroke-width="0.8" stroke-linejoin="round" />
<polyline points="163.5,378.0 165.5,410.0 168.5,450.0" fill="none" stroke="#a2a2a2" stroke-width="0.8" stroke-linejoin="round" />
<polyline points="28.0,56.0 36.0,80.0 46.0,101.0 56.0,128.0 66.0,152.0 84.0,176.0 101.0,203.0 127.0,223.0 147.0,254.0 166.0,276.0 178.0,290.0" fill="none" stroke="#989898" stroke-width="2.0" stroke-linejoin="round" />
<polyline points="24.0,60.0 32.0,84.0 42.0,106.0 52.0,130.0" fill="none" stroke="#a2a2a2" stroke-width="0.8" stroke-linejoin="round" />
<polyline points="71.0,66.0 100.0,114.0 130.0,163.0 167.0,223.0" fill="none" stroke="#a2a2a2" stroke-width="1.2" stroke-linejoin="round" />
<polyline points="217.8,0.0 204.8,50.0 194.8,101.0 184.8,140.0 176.8,178.0 166.8,222.0" fill="none" stroke="#989898" stroke-width="1.1" stroke-linejoin="round" />
<polyline points="220.0,0.0 207.0,50.0 197.0,101.0 187.0,140.0 179.0,178.0 169.0,222.0" fill="none" stroke="#989898" stroke-width="1.1" stroke-linejoin="round" />
<polyline points="222.2,0.0 209.2,50.0 199.2,101.0 189.2,140.0 181.2,178.0 171.2,222.0" fill="none" stroke="#989898" stroke-width="1.1" stroke-linejoin="round" />
<polyline points="95.0,79.5 130.0,79.0 168.0,78.0" fill="none" stroke="#989898" stroke-width="2.0" stroke-linejoin="round" />
<polyline points="213.0,284.0 250.0,297.0 290.0,311.0 330.0,325.0" fill="none" stroke="#989898" stroke-width="1.8" stroke-linejoin="round" />
<polyline points="215.0,280.0 252.0,293.0 292.0,307.0 330.0,321.0" fill="none" stroke="#a2a2a2" stroke-width="0.8" stroke-linejoin="round" />
<polyline points="170.0,368.0 330.0,368.0" fill="none" stroke="#a2a2a2" stroke-width="1.0" stroke-linejoin="round" />
<polyline points="170.0,371.0 318.0,371.0" fill="none" stroke="#a2a2a2" stroke-width="0.8" stroke-linejoin="round" />
<polyline points="241.0,368.0 270.0,326.0" fill="none" stroke="#a2a2a2" stroke-width="1.0" stroke-linejoin="round" />
<polyline points="236.0,368.0 266.0,324.0" fill="none" stroke="#a2a2a2" stroke-width="0.8" stroke-linejoin="round" />
<polyline points="0.0,300.0 12.0,290.0 30.0,286.0 60.0,290.0" fill="none" stroke="#989898" stroke-width="1.6" stroke-linejoin="round" />
<polyline points="120.0,246.0 140.0,290.0 152.0,318.0" fill="none" stroke="#989898" stroke-width="1.8" stroke-linejoin="round" />
<polyline points="60.0,300.0 100.0,282.0 150.0,256.0" fill="none" stroke="#989898" stroke-width="1.6" stroke-linejoin="round" />
<polyline points="2.0,262.0 9.0,325.0 20.0,372.0 33.0,388.0 71.0,400.0 98.0,402.0 142.0,400.0 158.0,406.0" fill="none" stroke="#b5d0b8" stroke-width="0.8" stroke-linejoin="round" />
<polyline points="0.0,402.0 20.0,380.0" fill="none" stroke="#aaa" stroke-width="0.7" stroke-linejoin="round" />
<polyline points="0.0,418.0 6.0,450.0" fill="none" stroke="#aaa" stroke-width="0.7" stroke-linejoin="round" />
<polyline points="247.0,362.0 292.0,350.0 322.0,344.0 326.0,352.0 318.0,360.0 300.0,362.0 297.0,348.0" fill="none" stroke="#9fb5a2" stroke-width="1.0" stroke-linejoin="round" />
<polyline points="270.0,347.0 270.0,366.0" fill="none" stroke="#9fb5a2" stroke-width="1.2" stroke-linejoin="round" />
<polyline points="284.0,344.0 284.0,366.0" fill="none" stroke="#9fb5a2" stroke-width="1.0" stroke-linejoin="round" />
<polygon points="296.0,326.0 304.0,326.0 304.0,338.0 296.0,338.0" fill="none" stroke="#9fb5a2" stroke-width="0.8" />
<polyline points="330.0,418.3 315.0,419.4 308.0,422.3 305.5,426.0 304.6,434.0 302.2,441.7 296.0,444.5 288.0,447.5 276.0,450.0" fill="none" stroke="#b3b3ad" stroke-width="0.9" stroke-linejoin="round" />
<polyline points="268.0,450.0 258.0,447.0 250.0,450.0" fill="none" stroke="#b8b8b8" stroke-width="0.8" stroke-linejoin="round" />
</g>
<polygon points="309.2,432.600 313.900,437.200 309.2,441.800 304.5,437.200" fill="#3fb2cc" stroke="#3fb2cc" stroke-width="1.6" stroke-linejoin="round"/><path d="M304.5 438.700l4.700 4.400 4.700-4.400" fill="none" stroke="#9adbe6" stroke-width="1"/>
<g><path d="M14 11h15a3 3 0 0 1 3 3v19h-21v-19a3 3 0 0 1 3-3z" fill="#6f8fc4" opacity=".93"/><path d="M11 34h21v19a3 3 0 0 1-3 3h-15a3 3 0 0 1-3-3z" fill="#6f8fc4" opacity=".93"/><rect x="11" y="33" width="21" height="1" fill="#c5d3ea"/><path d="M17 22h9M21.5 17.5v9" stroke="#fff" stroke-width="2.2"/><path d="M17 45h9" stroke="#fff" stroke-width="2.2"/></g>
<g transform="translate(149,184)"><path d="M16 0C7.2 0 0 7 0 15.8c0 4.4 1.9 8 4.6 11.2L16 41l11.400-14C30.100 23.800 32 20.200 32 15.800 32 7 24.800 0 16 0z" fill="#2d96de"/><circle cx="16" cy="15.5" r="12" fill="#e4eef6"/><circle cx="16" cy="15.5" r="10.8" fill="#cfe0ee"/><path d="M9.5 7.500h13a1.500 1.500 0 0 1 1.500 1.500v12.500h-1v2h-2.500v-2h-9v2H9v-2H8V9a1.500 1.500 0 0 1 1.500-1.500z" fill="#1f1f27"/><rect x="10" y="9.5" width="12" height="5" rx=".8" fill="#e9e9ef"/><circle cx="11.5" cy="18.5" r="1.5" fill="#e9e9ef"/><circle cx="20.5" cy="18.5" r="1.5" fill="#e9e9ef"/></g>
</svg></div>

<div id="wm">Активация Windows<small>Чтобы активировать Windows, перейдите в раздел</small></div>

</body>
</html>
